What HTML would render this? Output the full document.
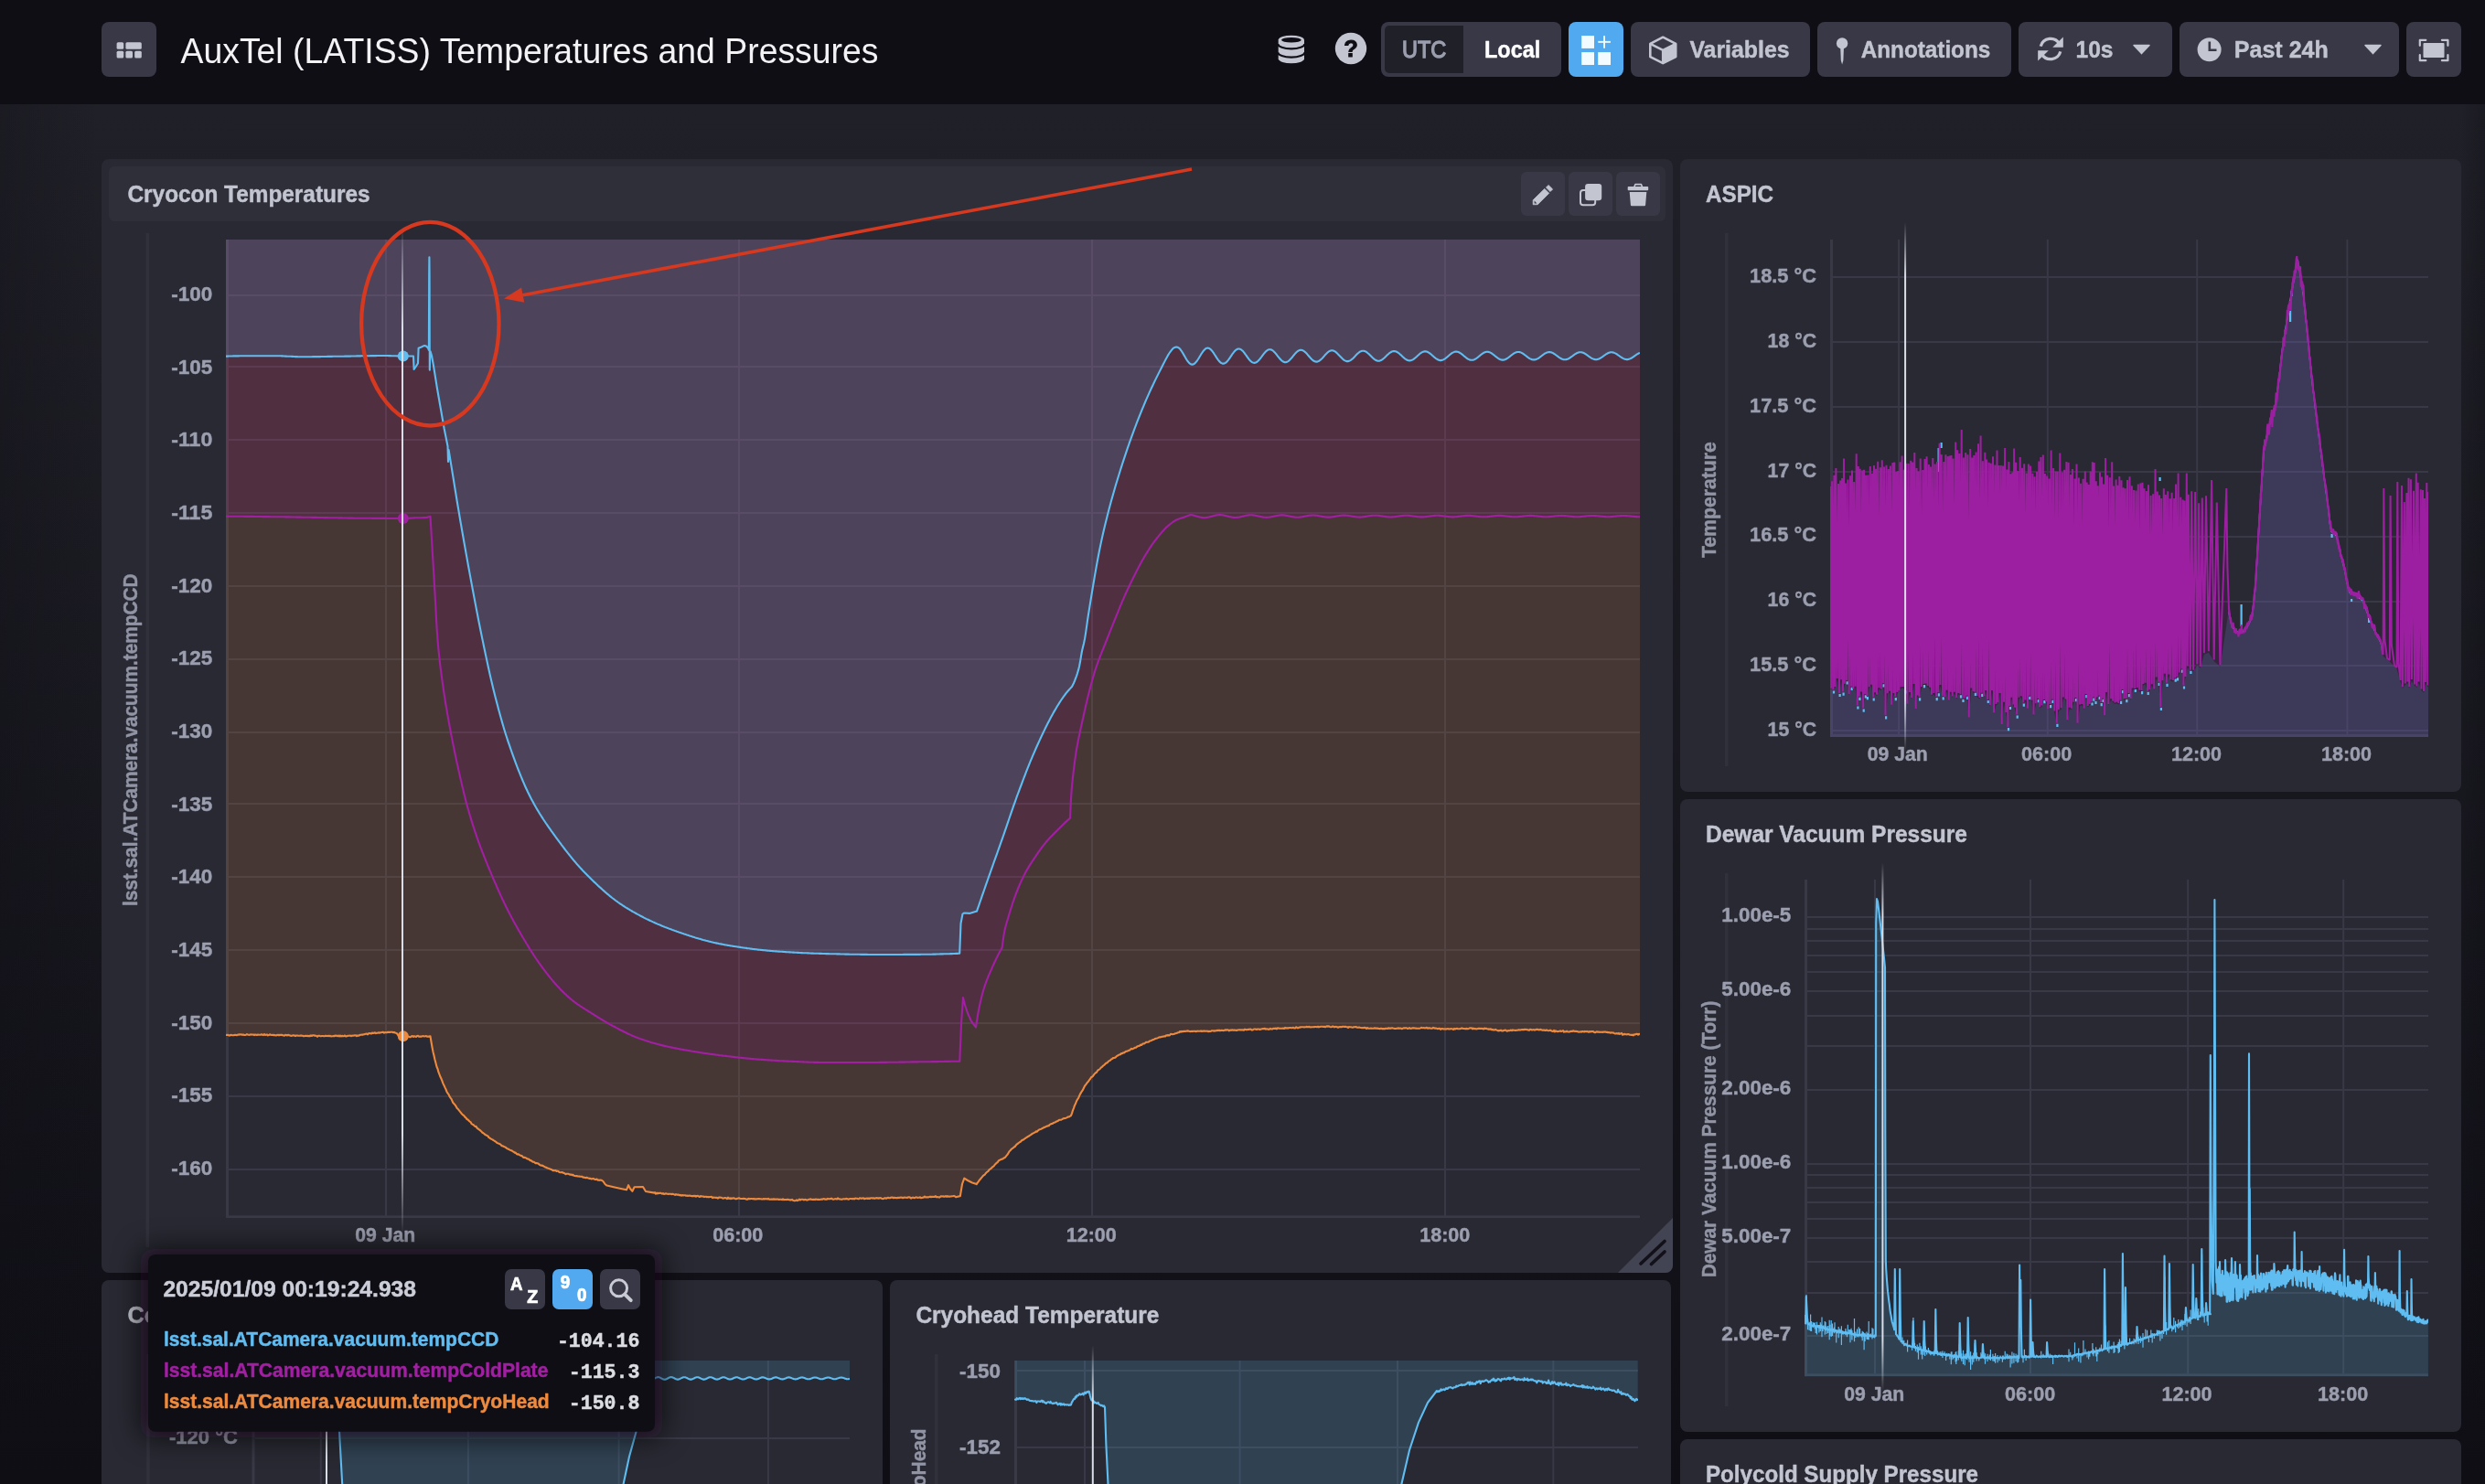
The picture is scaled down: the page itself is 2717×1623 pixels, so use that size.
<!DOCTYPE html>
<html><head><meta charset="utf-8"><title>AuxTel (LATISS) Temperatures and Pressures</title>
<style>
html,body{margin:0;padding:0;background:#0f0e15;}
body{width:2717px;height:1623px;overflow:hidden;position:relative;font-family:"Liberation Sans",sans-serif;}
#root{position:absolute;left:0;top:0;width:2717px;height:1623px;overflow:hidden;}
#root>div{position:absolute;box-sizing:border-box;}
#ov{position:absolute;left:0;top:0;will-change:transform;}
text{white-space:pre;}
</style></head><body><div id="root">
<div style="left:0px;top:114px;width:2717px;height:1509px;background:linear-gradient(to bottom,#202028 0%,#0f0e15 100%);"></div>
<div style="left:0px;top:114px;width:110px;height:1509px;background:linear-gradient(to right,rgba(15,14,21,0.3),rgba(15,14,21,0));"></div>
<div style="left:2691px;top:114px;width:26px;height:1509px;background:linear-gradient(to left,rgba(15,14,21,0.35),rgba(15,14,21,0));"></div>
<div style="left:111px;top:174px;width:1718px;height:1218px;background:#292933;border-radius:8px;"></div>
<div style="left:1837px;top:174px;width:854px;height:692px;background:#292933;border-radius:8px;"></div>
<div style="left:1837px;top:874px;width:854px;height:692px;background:#292933;border-radius:8px;"></div>
<div style="left:1837px;top:1574px;width:854px;height:200px;background:#292933;border-radius:8px;"></div>
<div style="left:111px;top:1400px;width:854px;height:400px;background:#292933;border-radius:8px;"></div>
<div style="left:973px;top:1400px;width:854px;height:400px;background:#292933;border-radius:8px;"></div>
<div style="left:119px;top:182px;width:1702px;height:60px;background:#2f2f3a;border-radius:6px;"></div>
<div style="left:1663px;top:188px;width:48px;height:48px;background:#383846;border-radius:6px;"></div>
<div style="left:1715px;top:188px;width:48px;height:48px;background:#383846;border-radius:6px;"></div>
<div style="left:1767px;top:188px;width:48px;height:48px;background:#383846;border-radius:6px;"></div>
<div style="left:0px;top:0px;width:2717px;height:114px;background:#0f0e15;"></div>
<div style="left:111px;top:24px;width:60px;height:60px;background:#383846;border-radius:8px;"></div>
<div style="left:1510px;top:24px;width:197px;height:60px;background:#383846;border-radius:8px;"></div>
<div style="left:1514px;top:28px;width:86px;height:52px;background:#202028;border-radius:5px 0 0 5px;"></div>
<div style="left:1715px;top:24px;width:60px;height:60px;background:#51a9ef;border-radius:8px;"></div>
<div style="left:1783px;top:24px;width:196px;height:60px;background:#383846;border-radius:8px;"></div>
<div style="left:1987px;top:24px;width:212px;height:60px;background:#383846;border-radius:8px;"></div>
<div style="left:2207px;top:24px;width:168px;height:60px;background:#383846;border-radius:8px;"></div>
<div style="left:2383px;top:24px;width:240px;height:60px;background:#383846;border-radius:8px;"></div>
<div style="left:2631px;top:24px;width:60px;height:60px;background:#383846;border-radius:8px;"></div>
<svg id="ov" width="2717" height="1623" viewBox="0 0 2717 1623">
<path d="M1676.2 218.8 L1688.8 206.4 L1693.7 211.3 L1681.2 223.7 L1676.2 223.8 Z" fill="#c3c6d1" stroke="#c3c6d1" stroke-width="0.8" stroke-linejoin="round"/>
<path d="M1690.4 205 L1693.1 202.5 L1697.6 206.9 L1695 209.6 Z" fill="#c3c6d1" stroke="#c3c6d1" stroke-width="0.8" stroke-linejoin="round"/>
<path d="M1677.6 219.6 L1677.6 222.5 L1680.4 222.4 Z" fill="#383846" stroke="none" stroke-width="1" />
<rect x="1728" y="208" width="16.2" height="16.3" fill="none" rx="3" stroke="#c3c6d1" stroke-width="2"/>
<rect x="1733.1" y="200.9" width="18.1" height="18.4" fill="#c3c6d1" rx="3.2" />
<path d="M1786.8 204.6 L1788 201.6 L1794.4 201.6 L1795.6 204.6" fill="none" stroke="#c3c6d1" stroke-width="1.6" stroke-linejoin="round"/>
<rect x="1779.7" y="203.9" width="22.5" height="4.3" fill="#c3c6d1" rx="0.8" />
<path d="M1781.7 210 L1800.3 210 L1799.1 224.3 Q1799 225.3 1798 225.3 L1784 225.3 Q1783 225.3 1782.9 224.3 Z" fill="#c3c6d1" stroke="none" stroke-width="1" />
<clipPath id="cpm"><rect x="111" y="174" width="1718" height="1218" rx="8"/></clipPath>
<path d="M1769 1392 L1829 1332 L1829 1392 Z" fill="#434453" stroke="none" stroke-width="1" clip-path="url(#cpm)"/>
<path d="M1794 1382 L1820 1357.5 M1805.5 1382.5 L1820 1369" fill="none" stroke="#12111a" stroke-width="3.7" stroke-linecap="round"/>
<text x="139.5" y="221.4" font-family='"Liberation Sans", sans-serif' font-size="26" font-weight="700" fill="#c2c5d0" text-anchor="start" textLength="265" lengthAdjust="spacingAndGlyphs"  stroke="#c2c5d0" stroke-width="0.45" stroke-linejoin="round">Cryocon Temperatures</text>
<text x="1865" y="221.4" font-family='"Liberation Sans", sans-serif' font-size="26" font-weight="700" fill="#c2c5d0" text-anchor="start" textLength="74" lengthAdjust="spacingAndGlyphs"  stroke="#c2c5d0" stroke-width="0.45" stroke-linejoin="round">ASPIC</text>
<text x="1865" y="921.4" font-family='"Liberation Sans", sans-serif' font-size="26" font-weight="700" fill="#c2c5d0" text-anchor="start" textLength="286" lengthAdjust="spacingAndGlyphs"  stroke="#c2c5d0" stroke-width="0.45" stroke-linejoin="round">Dewar Vacuum Pressure</text>
<text x="1865" y="1621.4" font-family='"Liberation Sans", sans-serif' font-size="26" font-weight="700" fill="#c2c5d0" text-anchor="start" textLength="298" lengthAdjust="spacingAndGlyphs"  stroke="#c2c5d0" stroke-width="0.45" stroke-linejoin="round">Polycold Supply Pressure</text>
<text x="139.5" y="1447.4" font-family='"Liberation Sans", sans-serif' font-size="26" font-weight="700" fill="#c2c5d0" text-anchor="start" textLength="272" lengthAdjust="spacingAndGlyphs"  stroke="#c2c5d0" stroke-width="0.45" stroke-linejoin="round">Coldplate Temperature</text>
<text x="1001.4" y="1447.4" font-family='"Liberation Sans", sans-serif' font-size="26" font-weight="700" fill="#c2c5d0" text-anchor="start" textLength="266" lengthAdjust="spacingAndGlyphs"  stroke="#c2c5d0" stroke-width="0.45" stroke-linejoin="round">Cryohead Temperature</text>
<rect x="127.6" y="46.2" width="7.6" height="7.6" fill="#c3c6d1" rx="1.5" />
<rect x="137.4" y="46.2" width="17.4" height="7.6" fill="#c3c6d1" rx="1.5" />
<rect x="127.6" y="55.8" width="7.6" height="7.8" fill="#c3c6d1" rx="1.5" />
<rect x="137.4" y="55.8" width="7.6" height="7.8" fill="#c3c6d1" rx="1.5" />
<rect x="147.2" y="55.8" width="7.6" height="7.8" fill="#c3c6d1" rx="1.5" />
<text x="197.5" y="69.3" font-family='"Liberation Sans", sans-serif' font-size="38.5" font-weight="400" fill="#f3f3f6" text-anchor="start" textLength="763" lengthAdjust="spacingAndGlyphs" >AuxTel (LATISS) Temperatures and Pressures</text>
<path d="M1397.7 43.4 A14.2 5.2 0 0 1 1426 43.4 L1426 64.6 A14.2 5.2 0 0 1 1397.7 64.6 Z" fill="#c3c6d1" stroke="none" stroke-width="1" />
<path d="M1397.2 48 A14.2 5.2 0 0 0 1426.5 48" fill="none" stroke="#0f0e15" stroke-width="2.2" />
<path d="M1397.2 57.2 A14.2 5.2 0 0 0 1426.5 57.2" fill="none" stroke="#0f0e15" stroke-width="2.2" />
<ellipse cx="1411.9" cy="43.7" rx="10.9" ry="2.8" fill="#0f0e15"/>
<circle cx="1477" cy="53" r="17.2" fill="#c3c6d1"/>
<text x="1477" y="62.4" font-family='"Liberation Sans", sans-serif' font-size="25.5" font-weight="700" fill="#0f0e15" text-anchor="middle" stroke="#0f0e15" stroke-width="0.9">?</text>
<text x="1533" y="63" font-family='"Liberation Sans", sans-serif' font-size="26" font-weight="400" fill="#9b9eae" text-anchor="start" textLength="48.2" lengthAdjust="spacingAndGlyphs" stroke="#9b9eae" stroke-width="1.3">UTC</text>
<text x="1623" y="63" font-family='"Liberation Sans", sans-serif' font-size="26" font-weight="700" fill="#ffffff" text-anchor="start" textLength="61.3" lengthAdjust="spacingAndGlyphs"  stroke="#ffffff" stroke-width="0.45" stroke-linejoin="round">Local</text>
<rect x="1729.2" y="39" width="13.8" height="13.9" fill="#f2fbff" />
<rect x="1729.2" y="57.1" width="13.8" height="13.9" fill="#f2fbff" />
<rect x="1747.2" y="57.1" width="13.8" height="13.9" fill="#f2fbff" />
<rect x="1747.3" y="44.9" width="13.6" height="1.9" fill="#f2fbff" />
<rect x="1753.1" y="39.1" width="1.9" height="13.6" fill="#f2fbff" />
<path d="M1818.2 54.9 L1832.2 47.8 L1832.2 62.1 L1818.2 69.1 Z" fill="#c3c6d1" stroke="none" stroke-width="1" />
<path d="M1818.2 40.7 L1832.2 47.8 L1832.2 62.1 L1818.2 69.1 L1804.3 62.1 L1804.3 47.8 Z" fill="none" stroke="#c3c6d1" stroke-width="2.6" stroke-linejoin="round"/>
<path d="M1804.3 47.8 L1818.2 54.9 L1832.2 47.8 M1818.2 54.9 L1818.2 69.1" fill="none" stroke="#c3c6d1" stroke-width="2.6" stroke-linejoin="round"/>
<text x="1847.4" y="63" font-family='"Liberation Sans", sans-serif' font-size="26" font-weight="700" fill="#c2c5d0" text-anchor="start" textLength="109.2" lengthAdjust="spacingAndGlyphs"  stroke="#c2c5d0" stroke-width="0.45" stroke-linejoin="round">Variables</text>
<circle cx="2014.1" cy="47.4" r="6.2" fill="#c3c6d1"/>
<path d="M2012.2 51 L2016 51 L2015.4 66 L2014.1 70.5 L2012.8 66 Z" fill="#c3c6d1" stroke="none" stroke-width="1" />
<text x="2034.7" y="63" font-family='"Liberation Sans", sans-serif' font-size="26" font-weight="700" fill="#c2c5d0" text-anchor="start" textLength="141.6" lengthAdjust="spacingAndGlyphs"  stroke="#c2c5d0" stroke-width="0.45" stroke-linejoin="round">Annotations</text>
<path d="M2231.2 50.6 A11.2 11.2 0 0 1 2251.7 47.9" fill="none" stroke="#c3c6d1" stroke-width="3.2" />
<path d="M2252.8 56.4 A11.2 11.2 0 0 1 2232.3 59.1" fill="none" stroke="#c3c6d1" stroke-width="3.2" />
<path d="M2255.8 40.5 L2255.8 51.7 L2244.2 51.7 Z" fill="#c3c6d1" stroke="none" stroke-width="1" />
<path d="M2228.2 66.5 L2228.2 55.3 L2239.8 55.3 Z" fill="#c3c6d1" stroke="none" stroke-width="1" />
<text x="2269.5" y="63" font-family='"Liberation Sans", sans-serif' font-size="26" font-weight="700" fill="#c2c5d0" text-anchor="start" textLength="41" lengthAdjust="spacingAndGlyphs"  stroke="#c2c5d0" stroke-width="0.45" stroke-linejoin="round">10s</text>
<path d="M2333 49.6 L2350 49.6 L2341.5 58.6 Z" fill="#c3c6d1" stroke="#c3c6d1" stroke-width="1.5" stroke-linejoin="round"/>
<circle cx="2415.6" cy="54.3" r="13" fill="#c3c6d1"/>
<path d="M2415.8 45.5 L2415.8 54.8 L2423.5 54.8" fill="none" stroke="#383846" stroke-width="2.6" />
<text x="2442.8" y="63" font-family='"Liberation Sans", sans-serif' font-size="26" font-weight="700" fill="#c2c5d0" text-anchor="start" textLength="103" lengthAdjust="spacingAndGlyphs"  stroke="#c2c5d0" stroke-width="0.45" stroke-linejoin="round">Past 24h</text>
<path d="M2586 49.6 L2603 49.6 L2594.5 58.6 Z" fill="#c3c6d1" stroke="#c3c6d1" stroke-width="1.5" stroke-linejoin="round"/>
<rect x="2649.5" y="47" width="23" height="16" fill="#c3c6d1" rx="1" />
<path d="M2645.8 49.8 L2645.8 43.8 L2652.3 43.8" fill="none" stroke="#c3c6d1" stroke-width="2.2" stroke-linecap="round" stroke-linejoin="round"/>
<path d="M2676.4 49.8 L2676.4 43.8 L2669.9 43.8" fill="none" stroke="#c3c6d1" stroke-width="2.2" stroke-linecap="round" stroke-linejoin="round"/>
<path d="M2645.8 60.2 L2645.8 66.2 L2652.3 66.2" fill="none" stroke="#c3c6d1" stroke-width="2.2" stroke-linecap="round" stroke-linejoin="round"/>
<path d="M2676.4 60.2 L2676.4 66.2 L2669.9 66.2" fill="none" stroke="#c3c6d1" stroke-width="2.2" stroke-linecap="round" stroke-linejoin="round"/>
<clipPath id="c1"><rect x="247" y="262" width="1546" height="1068"/></clipPath>
<rect x="247" y="322" width="1546" height="2" fill="#383846" />
<rect x="247" y="400" width="1546" height="2" fill="#383846" />
<rect x="247" y="480" width="1546" height="2" fill="#383846" />
<rect x="247" y="560" width="1546" height="2" fill="#383846" />
<rect x="247" y="640" width="1546" height="2" fill="#383846" />
<rect x="247" y="720" width="1546" height="2" fill="#383846" />
<rect x="247" y="800" width="1546" height="2" fill="#383846" />
<rect x="247" y="878" width="1546" height="2" fill="#383846" />
<rect x="247" y="958" width="1546" height="2" fill="#383846" />
<rect x="247" y="1038" width="1546" height="2" fill="#383846" />
<rect x="247" y="1118" width="1546" height="2" fill="#383846" />
<rect x="247" y="1198" width="1546" height="2" fill="#383846" />
<rect x="247" y="1278" width="1546" height="2" fill="#383846" />
<rect x="421" y="262" width="2" height="1068" fill="#383846" />
<rect x="807" y="262" width="2" height="1068" fill="#383846" />
<rect x="1193" y="262" width="2" height="1068" fill="#383846" />
<rect x="1579" y="262" width="2" height="1068" fill="#383846" />
<rect x="247" y="262" width="3" height="1069.5" fill="#383846" />
<path d="M247 262L247 1131.9L248 1132L249 1131.8L250 1132.2L251 1132.6L252 1132L253 1131.9L254 1132.3L255 1132.2L256 1132.1L257 1131.7L258 1132L259 1132.3L260 1131.5L261 1131.8L262 1131.3L263 1131.5L264 1131.3L265 1131.9L266 1131.5L267 1132L268 1132L269 1131.8L270 1131L271 1131.7L272 1131.8L273 1131.9L274 1131.3L275 1131.6L276 1131.5L277 1131.5L278 1132.1L279 1131.5L280 1131.7L281 1132L282 1131.5L283 1131.7L284 1131.7L285 1131.7L286 1131.2L287 1131.7L288 1132.1L289 1131.1L290 1131.9L291 1131.7L292 1131.4L293 1132.4L294 1132L295 1131.3L296 1131.8L297 1132L298 1131.8L299 1132.1L300 1131.9L301 1132.2L302 1132.5L303 1131.8L304 1132.1L305 1131.9L306 1132.1L307 1131.7L308 1131.9L309 1132.1L310 1132.5L311 1132.6L312 1131.8L313 1132L314 1132.5L315 1131.7L316 1132.2L317 1132.4L318 1132.9L319 1132.7L320 1132.4L321 1132.4L322 1132.5L323 1133.1L324 1132.5L325 1132.5L326 1132.8L327 1132.7L328 1132.7L329 1132.4L330 1132.8L331 1132.7L332 1133.2L333 1133.1L334 1132.8L335 1133.1L336 1132.7L337 1133.2L338 1132.9L339 1133.1L340 1132.4L341 1133L342 1132.3L343 1132.2L344 1132.8L345 1132.6L346 1133L347 1133.8L348 1132.7L349 1132.8L350 1133.1L351 1133.2L352 1133L353 1133L354 1133.3L355 1133.2L356 1132.7L357 1133L358 1133.1L359 1132.7L360 1133.2L361 1132.8L362 1133.5L363 1133.2L364 1133.2L365 1132.9L366 1133.1L367 1132.5L368 1132.8L369 1133.3L370 1132.5L371 1133.5L372 1132.5L373 1133.4L374 1132.8L375 1133.3L376 1133.1L377 1132.5L378 1133.4L379 1133.4L380 1132.9L381 1132.8L382 1132.8L383 1132.5L384 1133.2L385 1132.6L386 1132.7L387 1132.4L388 1132.5L389 1132.2L390 1133.1L391 1132.5L392 1132.8L393 1132.3L394 1131.8L395 1131.8L396 1131.5L397 1131.6L398 1131.3L399 1131.1L400 1130.6L401 1130.6L402 1131.3L403 1130.3L404 1130L405 1130.3L406 1130.6L407 1129.6L408 1129.9L409 1129.7L410 1129.3L411 1130.1L412 1129.7L413 1129.7L414 1129.3L415 1129.7L416 1129.3L417 1129.3L418 1128.9L419 1128.8L420 1129.7L421 1129L422 1129.2L423 1129.1L424 1128.9L425 1128.8L426 1129.1L427 1128.8L428 1128.8L429 1128.8L430 1129.2L431 1128.9L432 1129.5L433 1129.9L434 1130.3L435 1131.8L436 1132.5L437 1132.8L438 1133.4L439 1133.5L440 1133.6L441 1133.6L442 1133.2L443 1133.9L444 1133L445 1133.7L446 1133.6L447 1133.8L448 1134.2L449 1134.1L450 1133.2L451 1133L452 1133.9L453 1133.2L454 1133.6L455 1133.9L456 1133L457 1132.9L458 1133.7L459 1133.6L460 1133.5L461 1133.6L462 1133.3L463 1133.1L464 1133.5L465 1133.3L466 1133L467 1133.8L468 1133.6L469 1133.7L470 1133.3L470.5 1133.4L471.5 1139.5L472.5 1145.2L473.5 1150.4L474.5 1154.5L475.5 1159L476.5 1162.8L477.5 1166.8L478.5 1169L479.5 1172.7L480.5 1175.1L481.5 1177.8L482.5 1179.8L483.5 1182.4L484.5 1185.1L485.5 1187.1L486.5 1189.4L487.5 1191.4L488.5 1194L489.5 1195.6L490.5 1196.9L491.5 1199.2L492.5 1200.6L493.5 1201.8L494.5 1204.2L495.5 1206.3L496.5 1207.3L497.5 1208.4L498.5 1209.8L499.5 1211.7L500.5 1212.7L501.5 1213.9L502.5 1215.1L503.5 1216.3L504.5 1217.7L505.5 1218.7L506.5 1219.7L507.5 1220.4L508.5 1221.9L509.5 1222.5L510.5 1224.1L511.5 1224.3L512.5 1225.6L513.5 1226.6L514.5 1227.1L515.5 1228.9L516.5 1229.7L517.5 1230L518.5 1231.2L519.5 1232L520.5 1231.9L521.5 1233.6L522.5 1234.4L523.5 1235.3L524.5 1235.7L525.5 1236.8L526.5 1237.6L527.5 1238.8L528.5 1239.3L529.5 1240L530.5 1241.2L531.5 1241.3L532.5 1242.1L533.5 1242.4L534.5 1244.1L535.5 1244.6L536.5 1245.3L537.5 1245.9L538.5 1246.4L539.5 1247.1L540.5 1247.6L541.5 1248.3L542.5 1249L543.5 1250L544.5 1250.4L545.5 1250.8L546.5 1251.2L547.5 1251.8L548.5 1253.1L549.5 1253.3L550.5 1253.8L551.5 1254.2L552.5 1254.6L553.5 1255.4L554.5 1256.3L555.5 1256.5L556.5 1257.1L557.5 1257.6L558.5 1258.2L559.5 1258.3L560.5 1259.2L561.5 1259.6L562.5 1260.6L563.5 1260.6L564.5 1261.6L565.5 1262.4L566.5 1262.3L567.5 1262.8L568.5 1263.5L569.5 1263.9L570.5 1264.1L571.5 1265.1L572.5 1266L573.5 1265.8L574.5 1266.3L575.5 1266.6L576.5 1267.5L577.5 1267.5L578.5 1268L579.5 1269.2L580.5 1269L581.5 1270L582.5 1270.6L583.5 1270.7L584.5 1271.3L585.5 1272.2L586.5 1272L587.5 1272.3L588.5 1272.6L589.5 1273.4L590.5 1274.3L591.5 1274.6L592.5 1274.5L593.5 1275L594.5 1275.5L595.5 1276.2L596.5 1276.5L597.5 1277L598.5 1277.5L599.5 1277.7L600.5 1278.1L601.5 1278.6L602.5 1278.9L603.5 1279.4L604.5 1280.2L605.5 1280.1L606.5 1280.3L607.5 1280L608.5 1281L609.5 1280.6L610.5 1281L611.5 1282L612.5 1282.2L613.5 1282.2L614.5 1282L615.5 1282.6L616.5 1282.8L617.5 1283.4L618.5 1284.2L619.5 1283.8L620.5 1283.7L621.5 1283.8L622.5 1284.4L623.5 1284.6L624.5 1284.5L625.5 1285.1L626.5 1284.9L627.5 1285.8L628.5 1286L629.5 1286.2L630.5 1286L631.5 1286.5L632.5 1286.5L633.5 1286.6L634.5 1286.8L635.5 1286.7L636.5 1286.9L637.5 1287.7L638.5 1287.6L639.5 1287.9L640.5 1288.3L641.5 1287.7L642.5 1288.2L643.5 1288.6L644.5 1288.9L645.5 1288.8L646.5 1289.4L647.5 1289.3L648.5 1289L649.5 1289.3L650.5 1290L651.5 1290L652.5 1289.5L653.5 1290.6L654.5 1290.5L655.5 1290.9L656.5 1290.5L657.5 1290.7L657.8 1290.8L659.5 1292L661.5 1295L663.5 1296.6L672 1298.5L680 1300.2L685 1301.3L687.1 1296.2L689 1300L691.4 1302.8L693.6 1298.2L703 1298L704.5 1300.5L706 1303L715.7 1304.6L716 1304.2L717 1305.6L718 1304.7L719 1305.4L720 1304.7L721 1305.1L722 1304.6L723 1305.1L724 1305.7L725 1305L726 1305.9L727 1305.7L728 1305.3L729 1305.6L730 1305.7L731 1305.9L732 1305.8L733 1305.8L734 1306.1L735 1305.9L736 1305.9L737 1306.4L738 1306.9L739 1306.1L740 1306.7L741 1306.6L742 1306.6L743 1307.3L744 1306.9L745 1307.7L746 1307L747 1307.5L748 1307.3L749 1307.2L750 1307.8L751 1307.6L752 1307.9L753 1307.8L754 1307.5L755 1307.9L756 1308L757 1308.4L758 1307.8L759 1308.2L760 1307.7L761 1308.6L762 1308L763 1307.8L764 1308.5L765 1309L766 1308.1L767 1308.4L768 1308.5L769 1308.5L770 1309.1L771 1308.7L772 1308.8L773 1309.3L774 1308.9L775 1309.4L776 1309L777 1309L778 1308.8L779 1310.2L780 1309.5L781 1309.8L782 1309.7L783 1309.9L784 1309.9L785 1310.6L786 1309.6L787 1309.5L788 1309.8L789 1309.7L790 1310.5L791 1310.6L792 1310.1L793 1310L794 1310.4L795 1311.1L796 1309.7L797 1310.9L798 1310.4L799 1311.1L800 1310.4L801 1310.7L802 1310.3L803 1310.5L804 1311.3L805 1311.2L806 1310.8L807 1310.6L808 1310.3L809 1310.8L810 1311L811 1311L812 1311L813 1310.7L814 1311L815 1311.1L816 1311.6L817 1311.8L818 1311.1L819 1310.9L820 1311.2L821 1311L822 1311L823 1311.2L824 1310.9L825 1311.5L826 1311.3L827 1311.4L828 1311.3L829 1311.1L830 1311.1L831 1311.3L832 1311.2L833 1311.5L834 1311.5L835 1311L836 1311.5L837 1311.1L838 1311.3L839 1311.5L840 1310.9L841 1311.6L842 1311.7L843 1311.6L844 1311.5L845 1311.6L846 1311.4L847 1311.6L848 1311.5L849 1311.8L850 1311.4L851 1311.9L852 1311.9L853 1311.8L854 1311.7L855 1312.1L856 1311.3L857 1312.1L858 1312L859 1312L860 1312.1L861 1311.8L862 1311.9L863 1312.3L864 1312.4L865 1312.4L866 1311.9L867 1312.8L868 1313.1L869 1313.2L870 1313L871 1312.4L872 1313.1L873 1312.6L874 1311.6L875 1312.5L876 1311.7L877 1311.7L878 1311.8L879 1312.4L880 1311.8L881 1312L882 1312.5L883 1312.5L884 1311.8L885 1311.8L886 1311.4L887 1311.6L888 1312L889 1311.9L890 1311.8L891 1312.1L892 1311.5L893 1311.7L894 1311.9L895 1311.9L896 1312L897 1311.8L898 1311.5L899 1311.7L900 1311.2L901 1311L902 1311.7L903 1311.5L904 1311.6L905 1310.9L906 1311.3L907 1311.2L908 1311.1L909 1310.6L910 1311.3L911 1311.7L912 1311.5L913 1311.1L914 1311.3L915 1311.6L916 1310.3L917 1311.2L918 1311.4L919 1311.5L920 1311.8L921 1311.6L922 1311.3L923 1311.2L924 1311.4L925 1310.9L926 1311.1L927 1311.4L928 1311.7L929 1311L930 1311L931 1311L932 1311.4L933 1310.9L934 1311.4L935 1310.6L936 1310.8L937 1310.8L938 1311.1L939 1311.2L940 1310.3L941 1310.5L942 1310.9L943 1310.5L944 1310.2L945 1311.1L946 1310.9L947 1310.8L948 1310.5L949 1311L950 1310.5L951 1311L952 1310.2L953 1310.2L954 1310.6L955 1310.3L956 1310.7L957 1310.6L958 1310.1L959 1310.4L960 1310.3L961 1310.7L962 1310.1L963 1310.2L964 1310.7L965 1311.1L966 1311L967 1310.3L968 1310.3L969 1310.8L970 1310.2L971 1309.8L972 1310.2L973 1310.3L974 1309.8L975 1309.5L976 1309.6L977 1310.3L978 1309.8L979 1310L980 1310.1L981 1310.2L982 1309.8L983 1310.1L984 1309.6L985 1309.8L986 1309.5L987 1310.3L988 1309.8L989 1309.6L990 1309.7L991 1309.7L992 1310L993 1309.2L994 1309.4L995 1309.6L996 1310.6L997 1310L998 1309.6L999 1309.9L1000 1310.3L1001 1309.5L1002 1309.4L1003 1309.9L1004 1309.7L1005 1309.7L1006 1309.3L1007 1310.1L1008 1310L1009 1309.6L1010 1309.6L1011 1308.6L1012 1309.5L1013 1309.2L1014 1309.4L1015 1309.4L1016 1309.1L1017 1308.6L1018 1309.3L1019 1308.8L1020 1309L1021 1308.8L1022 1308.9L1023 1308.2L1024 1309.4L1025 1309L1026 1309.3L1027 1309.6L1028 1308.9L1029 1308.2L1030 1308.5L1031 1308.4L1032 1308.6L1033 1308.8L1034 1308L1035 1308.8L1036 1308.1L1037 1308.7L1038 1308.6L1039 1308.5L1040 1308.5L1041 1308.3L1042 1308.3L1043 1307.9L1044 1308.4L1045 1309.1L1046 1309.1L1047 1308.8L1048 1308.6L1049 1308.1L1049.8 1308.3L1052 1295L1054.3 1288.7L1058 1291L1063 1293.5L1067.7 1294.9L1067.7 1295.3L1068.7 1293.6L1069.7 1292.3L1070.7 1290.9L1071.7 1289.8L1072.7 1288.5L1073.7 1287.4L1074.7 1286.1L1075.7 1285.2L1076.7 1284.8L1077.7 1283.2L1078.7 1282.2L1079.7 1281.5L1080.7 1280.6L1081.7 1279.2L1082.7 1278.5L1083.7 1277.9L1084.7 1276.8L1085.7 1275.9L1086.7 1275.3L1087.7 1273.7L1088.7 1272.9L1089.7 1271.7L1090.7 1271.2L1091.7 1269.5L1092.7 1269L1093.7 1268.3L1094.7 1268L1095.7 1267.5L1096.7 1267.4L1097.7 1266.3L1098.7 1266.2L1099.7 1264.9L1100.7 1263.6L1101.7 1262.5L1102.7 1260.7L1103.7 1259L1104.7 1258.2L1105.7 1256.9L1106.7 1256.2L1107.7 1255.5L1108.7 1254.5L1109.7 1254L1110.7 1252.7L1111.7 1251.5L1112.7 1250.9L1113.7 1250L1114.7 1249.2L1115.7 1248.8L1116.7 1247.8L1117.7 1246.7L1118.7 1246.7L1119.7 1245.8L1120.7 1245.2L1121.7 1244.4L1122.7 1243.9L1123.7 1243.1L1124.7 1242.8L1125.7 1241.9L1126.7 1241.3L1127.7 1240.7L1128.7 1239.7L1129.7 1239.4L1130.7 1238.8L1131.7 1238.4L1132.7 1237.4L1133.7 1237.6L1134.7 1236.7L1135.7 1235.8L1136.7 1235.2L1137.7 1235L1138.7 1234.6L1139.7 1233.9L1140.7 1233.6L1141.7 1232.9L1142.7 1232.8L1143.7 1232L1144.7 1231.6L1145.7 1231.4L1146.7 1231.3L1147.7 1229.9L1148.7 1229.6L1149.7 1229L1150.7 1229L1151.7 1228L1152.7 1227.7L1153.7 1227.4L1154.7 1226.7L1155.7 1226.2L1156.7 1225.9L1157.7 1225.1L1158.7 1224.8L1159.7 1224.7L1160.7 1224.4L1161.7 1223.9L1162.7 1223.2L1163.7 1223.1L1164.7 1223L1165.7 1222.6L1166.7 1222.1L1167.7 1221.5L1168.7 1221.5L1169.7 1220.9L1170.7 1220.4L1171 1220L1172 1217.6L1173 1214.3L1174 1211.9L1175 1208.9L1176 1207L1177 1204.3L1178 1202.4L1179 1201.2L1180 1198.8L1181 1196.6L1182 1194.9L1183 1193.3L1184 1191.9L1185 1189.7L1186 1187.7L1187 1186.5L1188 1185.1L1189 1183.7L1190 1182.7L1191 1181.1L1192 1180L1193 1178.2L1194 1177.7L1195 1176.9L1196 1175.4L1197 1174.2L1198 1173.2L1199 1172.7L1200 1170.9L1201 1170.2L1202 1169.5L1203 1168.7L1204 1167.4L1205 1166.8L1206 1165.7L1207 1165L1208 1164.1L1209 1163L1210 1162.5L1211 1162L1212 1160.6L1213 1160.1L1214 1159.6L1215 1158.4L1216 1158.1L1217 1157L1218 1157.1L1219 1156.8L1220 1156.1L1221 1154.9L1222 1154.6L1223 1153.9L1224 1153.4L1225 1153.3L1226 1152L1227 1152.2L1228 1151.4L1229 1151.4L1230 1150.6L1231 1149.9L1232 1149.8L1233 1149.5L1234 1148.8L1235 1148.6L1236 1147.8L1237 1146.9L1238 1147.4L1239 1146.9L1240 1146.3L1241 1145.8L1242 1145.7L1243 1144.7L1244 1144.2L1245 1143.9L1246 1143.8L1247 1142.6L1248 1142.9L1249 1141.9L1250 1141.3L1251 1141.5L1252 1140.7L1253 1139.9L1254 1139.7L1255 1139.7L1256 1139.4L1257 1138.5L1258 1138.3L1259 1138L1260 1137.2L1261 1137.1L1262 1136.6L1263 1136L1264 1135.7L1265 1135.5L1266 1135.1L1267 1134.6L1268 1134.3L1269 1134.4L1270 1133.9L1271 1133.8L1272 1133.6L1273 1133.2L1274 1133.5L1275 1132.3L1276 1132.6L1277 1132L1278 1132.5L1279 1132.2L1280 1130.9L1281 1131L1282 1131.2L1283 1131L1284 1130.8L1285 1130.2L1286 1130.1L1287 1129.8L1288 1129.2L1289 1129.3L1290 1128L1291 1128.6L1292 1127.9L1293 1128.4L1294 1127.9L1295 1127.7L1296 1128L1297 1127.6L1298 1127.6L1299 1127.4L1300 1127.8L1301 1128L1302 1128.1L1303 1127.8L1304 1128.1L1305 1127.8L1306 1127.7L1307 1127.9L1308 1128.1L1309 1127.6L1310 1127.7L1311 1127.7L1312 1127.7L1313 1127.4L1314 1128L1315 1127.6L1316 1127.8L1317 1127.4L1318 1127.7L1319 1127.7L1320 1127.5L1321 1128.2L1322 1127.7L1323 1128.1L1324 1127.8L1325 1127.3L1326 1127.3L1327 1127.6L1328 1127.4L1329 1127.4L1330 1127.2L1331 1126.8L1332 1127.2L1333 1126.6L1334 1127.3L1335 1126.9L1336 1126.9L1337 1127L1338 1127.1L1339 1126.6L1340 1126.4L1341 1126.6L1342 1126.3L1343 1126.6L1344 1127.3L1345 1126.5L1346 1126.9L1347 1126.3L1348 1126.7L1349 1126.5L1350 1126.6L1351 1126.7L1352 1127L1353 1126.5L1354 1126.5L1355 1126.1L1356 1126.5L1357 1126.2L1358 1126.5L1359 1126.2L1360 1126.7L1361 1125.6L1362 1126L1363 1126.4L1364 1126L1365 1125.8L1366 1125.9L1367 1125.5L1368 1126L1369 1126.6L1370 1126.2L1371 1125.5L1372 1125.5L1373 1125.6L1374 1126L1375 1125.5L1376 1125.5L1377 1125.9L1378 1125.9L1379 1125.5L1380 1125.2L1381 1125L1382 1125.3L1383 1124.8L1384 1125.6L1385 1125.2L1386 1125.5L1387 1125.9L1388 1125.6L1389 1124.9L1390 1125.5L1391 1125.5L1392 1124.9L1393 1124.8L1394 1125L1395 1124.5L1396 1125.4L1397 1124.2L1398 1124.6L1399 1124.8L1400 1124.7L1401 1124.8L1402 1124.8L1403 1124.6L1404 1124.9L1405 1123.9L1406 1124.5L1407 1124.2L1408 1124.4L1409 1124.4L1410 1124L1411 1124L1412 1124.3L1413 1124.1L1414 1123.8L1415 1124.5L1416 1124.5L1417 1123.3L1418 1123.8L1419 1124.4L1420 1123.8L1421 1123.6L1422 1123.4L1423 1123.3L1424 1123.3L1425 1123.2L1426 1123.5L1427 1123.2L1428 1123.1L1429 1122.9L1430 1123.2L1431 1122.9L1432 1123.1L1433 1123.5L1434 1123.2L1435 1123.3L1436 1123.2L1437 1123.1L1438 1123L1439 1123L1440 1123.3L1441 1122.7L1442 1123.4L1443 1123L1444 1122.8L1445 1122.8L1446 1122.8L1447 1123L1448 1122.7L1449 1123.3L1450 1122.7L1451 1122.2L1452 1122.7L1453 1122.3L1454 1122.9L1455 1123.2L1456 1123.1L1457 1122.5L1458 1122.7L1459 1123.4L1460 1123L1461 1122.9L1462 1123.2L1463 1123.7L1464 1123.3L1465 1123L1466 1123.1L1467 1123.2L1468 1122.8L1469 1122.7L1470 1123.1L1471 1122.8L1472 1123.1L1473 1123.2L1474 1123.9L1475 1123L1476 1123.2L1477 1123.2L1478 1123.5L1479 1123.7L1480 1123.3L1481 1123.2L1482 1123L1483 1123.3L1484 1123.8L1485 1123.7L1486 1123.5L1487 1123.8L1488 1124L1489 1124.2L1490 1124L1491 1124.2L1492 1123.8L1493 1124.1L1494 1125L1495 1124L1496 1124.6L1497 1124.8L1498 1124.7L1499 1124.5L1500 1124.8L1501 1124.8L1502 1124.8L1503 1124.2L1504 1124.8L1505 1124.5L1506 1124.6L1507 1124.9L1508 1125L1509 1125.1L1510 1124.6L1511 1125.1L1512 1125.1L1513 1125.1L1514 1125.2L1515 1124.7L1516 1124.7L1517 1125L1518 1124.3L1519 1124.8L1520 1124.6L1521 1124.6L1522 1124.2L1523 1124.5L1524 1124.7L1525 1125L1526 1125L1527 1124.7L1528 1124.6L1529 1124.4L1530 1124.8L1531 1124.6L1532 1124.8L1533 1125.2L1534 1124.6L1535 1124.2L1536 1124.4L1537 1124.2L1538 1124.3L1539 1125L1540 1124.7L1541 1124.1L1542 1124.8L1543 1124.9L1544 1124.4L1545 1124.3L1546 1124.4L1547 1124.5L1548 1124.6L1549 1124.8L1550 1124.7L1551 1124.7L1552 1124.7L1553 1124.5L1554 1123.8L1555 1124.2L1556 1124.3L1557 1124.1L1558 1124.5L1559 1124.1L1560 1123.9L1561 1124.6L1562 1124.4L1563 1124.3L1564 1124.6L1565 1124.7L1566 1124.6L1567 1123.8L1568 1124.4L1569 1124.6L1570 1124.5L1571 1124.9L1572 1125.3L1573 1124.9L1574 1124.8L1575 1125.8L1576 1125.1L1577 1125L1578 1125.4L1579 1125.5L1580 1125.2L1581 1125.6L1582 1125.2L1583 1125.1L1584 1125.4L1585 1125.5L1586 1125.1L1587 1125.3L1588 1125.2L1589 1126L1590 1124.9L1591 1125.5L1592 1125L1593 1124.9L1594 1125.1L1595 1125.2L1596 1125.2L1597 1124.9L1598 1124.6L1599 1124.6L1600 1125L1601 1125L1602 1125.2L1603 1124.9L1604 1125.1L1605 1125.3L1606 1124.9L1607 1124.4L1608 1124.5L1609 1124.4L1610 1125.3L1611 1124.6L1612 1125.2L1613 1125L1614 1125.4L1615 1125.2L1616 1124.9L1617 1124.9L1618 1124.9L1619 1125L1620 1124.8L1621 1125L1622 1125.5L1623 1124.5L1624 1125.1L1625 1124.8L1626 1125.3L1627 1125.6L1628 1125.4L1629 1125.8L1630 1125.3L1631 1126.3L1632 1125.9L1633 1126.5L1634 1126.5L1635 1125.8L1636 1126.5L1637 1126.9L1638 1127.4L1639 1127.1L1640 1127.1L1641 1126.6L1642 1127.4L1643 1127.5L1644 1127L1645 1126.9L1646 1126.5L1647 1127.2L1648 1127.7L1649 1127.1L1650 1127.3L1651 1127L1652 1126.5L1653 1127.2L1654 1126.4L1655 1126.7L1656 1126.8L1657 1127L1658 1126.8L1659 1126.7L1660 1126.4L1661 1126.2L1662 1126.6L1663 1126.3L1664 1126.1L1665 1126.1L1666 1126.3L1667 1125.8L1668 1126L1669 1125.9L1670 1126.4L1671 1126.4L1672 1126.9L1673 1125.8L1674 1126L1675 1126.5L1676 1126.2L1677 1126.1L1678 1126.7L1679 1126.1L1680 1125.9L1681 1125.8L1682 1126.3L1683 1126.4L1684 1125.9L1685 1126.1L1686 1126.6L1687 1126.7L1688 1126.4L1689 1126.9L1690 1127L1691 1126.4L1692 1126.9L1693 1127.2L1694 1127L1695 1126.6L1696 1127.3L1697 1127.7L1698 1128L1699 1126.9L1700 1128.4L1701 1127.3L1702 1128L1703 1128.1L1704 1128L1705 1127.8L1706 1127.4L1707 1128L1708 1127.6L1709 1127.1L1710 1128.7L1711 1128.1L1712 1128.5L1713 1127.7L1714 1128.4L1715 1128.5L1716 1128.5L1717 1128L1718 1127.7L1719 1128L1720 1127.4L1721 1127.6L1722 1128.1L1723 1127.8L1724 1128.1L1725 1128.1L1726 1128.7L1727 1128.5L1728 1128.2L1729 1128.6L1730 1128L1731 1128.1L1732 1128.5L1733 1127.9L1734 1128.2L1735 1127.9L1736 1128.3L1737 1128.8L1738 1128.1L1739 1128.4L1740 1128.1L1741 1128.1L1742 1128.1L1743 1128.9L1744 1129.2L1745 1128.7L1746 1128.3L1747 1128.8L1748 1128.5L1749 1128.9L1750 1128.8L1751 1128.8L1752 1128.9L1753 1128.6L1754 1128.8L1755 1128.4L1756 1128.9L1757 1128.7L1758 1129.2L1759 1129L1760 1129.4L1761 1129.6L1762 1129.2L1763 1129.5L1764 1129.5L1765 1130.1L1766 1130.5L1767 1130.4L1768 1130.1L1769 1130.7L1770 1129.9L1771 1130.9L1772 1130.4L1773 1129.9L1774 1131.6L1775 1131.4L1776 1130.8L1777 1131.3L1778 1131.2L1779 1131.4L1780 1131L1781 1131.3L1782 1131.7L1783 1131.7L1784 1132L1785 1131.6L1786 1132.3L1787 1131.3L1788 1131.5L1789 1130.8L1790 1130.9L1791 1131.6L1792 1130.8L1793 1131.2L1793 262Z" fill="rgb(238,138,62)" stroke="none" stroke-width="1" clip-path="url(#c1)" fill-opacity="0.152"/>
<path d="M247 262L247 564.7L248 564.7L249 564.7L250 564.7L251 564.7L252 564.7L253 564.7L254 564.7L255 564.8L256 564.8L257 564.8L258 564.8L259 564.8L260 564.8L261 564.8L262 564.8L263 564.8L264 564.8L265 564.8L266 564.8L267 564.9L268 564.9L269 564.9L270 564.9L271 564.9L272 564.9L273 564.9L274 564.9L275 564.9L276 564.9L277 564.9L278 565L279 565L280 565L281 565L282 565L283 565L284 565L285 565L286 565L287 565.1L288 565.1L289 565.1L290 565.1L291 565.1L292 565.1L293 565.1L294 565.1L295 565.1L296 565.2L297 565.2L298 565.2L299 565.2L300 565.2L301 565.2L302 565.2L303 565.2L304 565.3L305 565.3L306 565.3L307 565.3L308 565.3L309 565.3L310 565.3L311 565.3L312 565.4L313 565.4L314 565.4L315 565.4L316 565.4L317 565.4L318 565.5L319 565.5L320 565.5L321 565.5L322 565.5L323 565.5L324 565.6L325 565.6L326 565.6L327 565.6L328 565.6L329 565.6L330 565.7L331 565.7L332 565.7L333 565.7L334 565.7L335 565.7L336 565.8L337 565.8L338 565.8L339 565.8L340 565.8L341 565.9L342 565.9L343 565.9L344 565.9L345 565.9L346 565.9L347 566L348 566L349 566L350 566L351 566L352 566L353 566L354 566.1L355 566.1L356 566.1L357 566.1L358 566.1L359 566.2L360 566.2L361 566.2L362 566.2L363 566.2L364 566.2L365 566.3L366 566.3L367 566.3L368 566.3L369 566.3L370 566.4L371 566.4L372 566.4L373 566.4L374 566.4L375 566.5L376 566.5L377 566.5L378 566.5L379 566.5L380 566.5L381 566.6L382 566.6L383 566.6L384 566.6L385 566.6L386 566.6L387 566.7L388 566.7L389 566.7L390 566.7L391 566.7L392 566.7L393 566.7L394 566.7L395 566.8L396 566.8L397 566.8L398 566.8L399 566.8L400 566.8L401 566.8L402 566.8L403 566.8L404 566.8L405 566.8L406 566.8L407 566.9L408 566.9L409 566.9L410 566.9L411 566.9L412 566.9L413 566.9L414 566.9L415 566.9L416 566.9L417 566.9L418 566.9L419 566.9L420 566.9L421 566.9L422 566.9L423 567L424 567L425 567L426 567L427 567L428 567L429 567L430 567L431 567L432 567L433 567L434 567L435 567L436 567L437 567L438 567L439 567L440 567L441 567L442 567L443 567L444 566.9L445 566.9L446 566.8L447 566.8L448 566.7L449 566.6L450 566.6L451 566.5L452 566.4L453 566.4L454 566.3L455 566.3L456 566.3L457 566.2L458 566.2L459 566.2L460 566.2L461 566.2L462 566.1L463 566.1L464 566.1L465 566.1L466 566L467 565.9L468 565.6L469 565.3L470 565L470.5 564.8L471.5 581.6L472.5 598.3L473.5 614.9L474.5 631.6L475.5 648.8L476.5 667.5L477.5 685.5L478.5 700L479.5 711L480.5 720.7L481.5 729.2L482.5 737L483.5 744.4L484.5 751.6L485.5 758.4L486.5 764.9L487.5 771L488.5 776.9L489.5 782.6L490.5 788.2L491.5 793.8L492.5 799.1L493.5 804.4L494.5 809.6L495.5 814.6L496.5 819.5L497.5 824.3L498.5 829.1L499.5 833.7L500.5 838.3L501.5 842.8L502.5 847.3L503.5 851.7L504.5 856L505.5 860.3L506.5 864.5L507.5 868.6L508.5 872.6L509.5 876.4L510.5 880.2L511.5 883.8L512.5 887.3L513.5 890.8L514.5 894.1L515.5 897.4L516.5 900.6L517.5 903.7L518.5 906.8L519.5 909.8L520.5 912.8L521.5 915.7L522.5 918.6L523.5 921.4L524.5 924.2L525.5 926.9L526.5 929.5L527.5 932.1L528.5 934.7L529.5 937.2L530.5 939.7L531.5 942.2L532.5 944.7L533.5 947.1L534.5 949.5L535.5 951.9L536.5 954.2L537.5 956.6L538.5 958.9L539.5 961.3L540.5 963.6L541.5 965.9L542.5 968.2L543.5 970.5L544.5 972.7L545.5 975L546.5 977.2L547.5 979.4L548.5 981.6L549.5 983.7L550.5 985.8L551.5 987.9L552.5 990L553.5 992L554.5 994L555.5 996L556.5 997.9L557.5 999.9L558.5 1001.8L559.5 1003.7L560.5 1005.5L561.5 1007.4L562.5 1009.2L563.5 1011L564.5 1012.8L565.5 1014.6L566.5 1016.4L567.5 1018.1L568.5 1019.8L569.5 1021.6L570.5 1023.3L571.5 1025L572.5 1026.7L573.5 1028.3L574.5 1030L575.5 1031.7L576.5 1033.3L577.5 1034.9L578.5 1036.6L579.5 1038.2L580.5 1039.8L581.5 1041.3L582.5 1042.9L583.5 1044.5L584.5 1046L585.5 1047.5L586.5 1049L587.5 1050.4L588.5 1051.9L589.5 1053.3L590.5 1054.7L591.5 1056.1L592.5 1057.5L593.5 1058.8L594.5 1060.2L595.5 1061.5L596.5 1062.8L597.5 1064.1L598.5 1065.4L599.5 1066.7L600.5 1068L601.5 1069.2L602.5 1070.5L603.5 1071.7L604.5 1072.9L605.5 1074L606.5 1075.2L607.5 1076.3L608.5 1077.4L609.5 1078.5L610.5 1079.6L611.5 1080.6L612.5 1081.7L613.5 1082.7L614.5 1083.7L615.5 1084.7L616.5 1085.7L617.5 1086.7L618.5 1087.6L619.5 1088.6L620.5 1089.5L621.5 1090.4L622.5 1091.3L623.5 1092.1L624.5 1093L625.5 1093.8L626.5 1094.6L627.5 1095.4L628.5 1096.2L629.5 1096.9L630.5 1097.6L631.5 1098.3L632.5 1099L633.5 1099.7L634.5 1100.4L635.5 1101L636.5 1101.7L637.5 1102.3L638.5 1103L639.5 1103.6L640.5 1104.2L641.5 1104.8L642.5 1105.5L643.5 1106.1L644.5 1106.7L645.5 1107.3L646.5 1108L647.5 1108.6L648.5 1109.2L649.5 1109.9L650.5 1110.5L651.5 1111.1L652.5 1111.7L653.5 1112.4L654.5 1113L655.5 1113.6L656.5 1114.2L657.5 1114.8L658.5 1115.4L659.5 1116L660.5 1116.6L661.5 1117.2L662.5 1117.8L663.5 1118.4L664.5 1119L665.5 1119.5L666.5 1120.1L667.5 1120.6L668.5 1121.2L669.5 1121.7L670.5 1122.3L671.5 1122.8L672.5 1123.3L673.5 1123.9L674.5 1124.4L675.5 1124.9L676.5 1125.5L677.5 1126L678.5 1126.5L679.5 1127L680.5 1127.5L681.5 1128L682.5 1128.5L683.5 1129L684.5 1129.5L685.5 1130L686.5 1130.5L687.5 1131L688.5 1131.4L689.5 1131.9L690.5 1132.3L691.5 1132.8L692.5 1133.2L693.5 1133.6L694.5 1134L695.5 1134.4L696.5 1134.8L697.5 1135.2L698.5 1135.5L699.5 1135.9L700.5 1136.2L701.5 1136.6L702.5 1136.9L703.5 1137.3L704.5 1137.6L705.5 1138L706.5 1138.3L707.5 1138.6L708.5 1138.9L709.5 1139.2L710.5 1139.6L711.5 1139.9L712.5 1140.2L713.5 1140.4L714.5 1140.7L715.5 1141L716.5 1141.3L717.5 1141.6L718.5 1141.8L719.5 1142.1L720.5 1142.4L721.5 1142.6L722.5 1142.9L723.5 1143.1L724.5 1143.4L725.5 1143.6L726.5 1143.9L727.5 1144.1L728.5 1144.3L729.5 1144.5L730.5 1144.8L731.5 1145L732.5 1145.2L733.5 1145.4L734.5 1145.6L735.5 1145.8L736.5 1146L737.5 1146.2L738.5 1146.4L739.5 1146.6L740.5 1146.8L741.5 1147L742.5 1147.2L743.5 1147.4L744.5 1147.6L745.5 1147.7L746.5 1147.9L747.5 1148.1L748.5 1148.3L749.5 1148.5L750.5 1148.6L751.5 1148.8L752.5 1149L753.5 1149.1L754.5 1149.3L755.5 1149.5L756.5 1149.7L757.5 1149.8L758.5 1150L759.5 1150.1L760.5 1150.3L761.5 1150.5L762.5 1150.6L763.5 1150.8L764.5 1150.9L765.5 1151.1L766.5 1151.2L767.5 1151.4L768.5 1151.6L769.5 1151.7L770.5 1151.9L771.5 1152L772.5 1152.1L773.5 1152.3L774.5 1152.4L775.5 1152.6L776.5 1152.7L777.5 1152.9L778.5 1153L779.5 1153.1L780.5 1153.3L781.5 1153.4L782.5 1153.5L783.5 1153.7L784.5 1153.8L785.5 1153.9L786.5 1154.1L787.5 1154.2L788.5 1154.3L789.5 1154.4L790.5 1154.6L791.5 1154.7L792.5 1154.8L793.5 1154.9L794.5 1155L795.5 1155.2L796.5 1155.3L797.5 1155.4L798.5 1155.5L799.5 1155.6L800.5 1155.8L801.5 1155.9L802.5 1156L803.5 1156.1L804.5 1156.2L805.5 1156.3L806.5 1156.4L807.5 1156.6L808.5 1156.7L809.5 1156.8L810.5 1156.9L811.5 1157L812.5 1157.1L813.5 1157.2L814.5 1157.3L815.5 1157.4L816.5 1157.5L817.5 1157.6L818.5 1157.7L819.5 1157.8L820.5 1157.9L821.5 1158L822.5 1158.1L823.5 1158.1L824.5 1158.2L825.5 1158.3L826.5 1158.4L827.5 1158.5L828.5 1158.6L829.5 1158.6L830.5 1158.7L831.5 1158.8L832.5 1158.9L833.5 1158.9L834.5 1159L835.5 1159.1L836.5 1159.1L837.5 1159.2L838.5 1159.3L839.5 1159.4L840.5 1159.4L841.5 1159.5L842.5 1159.6L843.5 1159.6L844.5 1159.7L845.5 1159.8L846.5 1159.8L847.5 1159.9L848.5 1159.9L849.5 1160L850.5 1160.1L851.5 1160.1L852.5 1160.2L853.5 1160.2L854.5 1160.3L855.5 1160.3L856.5 1160.4L857.5 1160.4L858.5 1160.5L859.5 1160.5L860.5 1160.6L861.5 1160.6L862.5 1160.7L863.5 1160.7L864.5 1160.8L865.5 1160.8L866.5 1160.9L867.5 1160.9L868.5 1161L869.5 1161L870.5 1161L871.5 1161.1L872.5 1161.1L873.5 1161.2L874.5 1161.2L875.5 1161.3L876.5 1161.3L877.5 1161.4L878.5 1161.4L879.5 1161.5L880.5 1161.5L881.5 1161.5L882.5 1161.6L883.5 1161.6L884.5 1161.7L885.5 1161.7L886.5 1161.7L887.5 1161.8L888.5 1161.8L889.5 1161.8L890.5 1161.9L891.5 1161.9L892.5 1161.9L893.5 1161.9L894.5 1161.9L895.5 1162L896.5 1162L897.5 1162L898.5 1162L899.5 1162L900.5 1162L901.5 1162L902.5 1162L903.5 1162L904.5 1162L905.5 1162L906.5 1162L907.5 1162L908.5 1162L909.5 1162L910.5 1162L911.5 1162L912.5 1162L913.5 1162L914.5 1162L915.5 1162L916.5 1162L917.5 1162L918.5 1162L919.5 1162L920.5 1162L921.5 1162L922.5 1162L923.5 1162L924.5 1162L925.5 1162L926.5 1162L927.5 1162L928.5 1162L929.5 1162L930.5 1162L931.5 1162L932.5 1162L933.5 1162L934.5 1162L935.5 1162L936.5 1162L937.5 1162L938.5 1162L939.5 1162L940.5 1162L941.5 1162L942.5 1162L943.5 1162L944.5 1162L945.5 1162L946.5 1162L947.5 1162L948.5 1162L949.5 1162L950.5 1162L951.5 1162L952.5 1162L953.5 1162L954.5 1162L955.5 1162L956.5 1162L957.5 1162L958.5 1162L959.5 1162L960.5 1162L961.5 1161.9L962.5 1161.9L963.5 1161.9L964.5 1161.9L965.5 1161.9L966.5 1161.9L967.5 1161.9L968.5 1161.9L969.5 1161.9L970.5 1161.8L971.5 1161.8L972.5 1161.8L973.5 1161.8L974.5 1161.8L975.5 1161.8L976.5 1161.8L977.5 1161.7L978.5 1161.7L979.5 1161.7L980.5 1161.7L981.5 1161.7L982.5 1161.7L983.5 1161.6L984.5 1161.6L985.5 1161.6L986.5 1161.6L987.5 1161.6L988.5 1161.6L989.5 1161.6L990.5 1161.5L991.5 1161.5L992.5 1161.5L993.5 1161.5L994.5 1161.5L995.5 1161.5L996.5 1161.4L997.5 1161.4L998.5 1161.4L999.5 1161.4L1000.5 1161.4L1001.5 1161.4L1002.5 1161.4L1003.5 1161.4L1004.5 1161.3L1005.5 1161.3L1006.5 1161.3L1007.5 1161.3L1008.5 1161.3L1009.5 1161.3L1010.5 1161.3L1011.5 1161.2L1012.5 1161.2L1013.5 1161.2L1014.5 1161.2L1015.5 1161.2L1016.5 1161.2L1017.5 1161.2L1018.5 1161.1L1019.5 1161.1L1020.5 1161.1L1021.5 1161.1L1022.5 1161.1L1023.5 1161.1L1024.5 1161.1L1025.5 1161.1L1026.5 1161L1027.5 1161L1028.5 1161L1029.5 1161L1030.5 1161L1031.5 1161L1032.5 1160.9L1033.5 1160.9L1034.5 1160.9L1035.5 1160.9L1036.5 1160.9L1037.5 1160.9L1038.5 1160.9L1039.5 1160.8L1040.5 1160.8L1041.5 1160.8L1042.5 1160.8L1043.5 1160.8L1044.5 1160.8L1045.5 1160.8L1046.5 1160.7L1047.5 1160.7L1048.5 1160.7L1049.3 1160.7L1051 1120L1053 1091L1055 1099L1058 1108L1062 1117L1067 1123.5L1067 1123.5L1068 1116.8L1069 1110.5L1070 1105L1071 1100.1L1072 1095.5L1073 1091.2L1074 1087.3L1075 1083.7L1076 1080.4L1077 1077.4L1078 1074.5L1079 1071.9L1080 1069.3L1081 1066.9L1082 1064.6L1083 1062.3L1084 1060L1085 1057.7L1086 1055.5L1087 1053.3L1088 1051.2L1089 1049.1L1090 1047L1091 1045L1092 1043.1L1093 1041.2L1094 1039.4L1095 1037.6L1095.6 1036.6L1096.6 1028.9L1097.6 1022.2L1098.6 1017.1L1099.6 1013L1100.6 1009.3L1101.6 1006L1102.6 1002.7L1103.6 999.3L1104.6 996L1105.6 992.8L1106.6 989.6L1107.6 986.5L1108.6 983.6L1109.6 980.8L1110.6 978L1111.6 975.5L1112.6 973L1113.6 970.5L1114.6 968.1L1115.6 965.9L1116.6 963.6L1117.6 961.5L1118.6 959.4L1119.6 957.4L1120.6 955.5L1121.6 953.6L1122.6 951.8L1123.6 950.1L1124.6 948.4L1125.6 946.7L1126.6 945.2L1127.6 943.6L1128.6 942.1L1129.6 940.6L1130.6 939.1L1131.6 937.6L1132.6 936.1L1133.6 934.6L1134.6 933.2L1135.6 931.7L1136.6 930.3L1137.6 928.9L1138.6 927.5L1139.6 926.2L1140.6 924.9L1141.6 923.6L1142.6 922.4L1143.6 921.2L1144.6 920L1145.6 918.8L1146.6 917.7L1147.6 916.6L1148.6 915.6L1149.6 914.5L1150.6 913.5L1151.6 912.4L1152.6 911.4L1153.6 910.4L1154.6 909.4L1155.6 908.4L1156.6 907.4L1157.6 906.4L1158.6 905.4L1159.6 904.4L1160.6 903.5L1161.6 902.5L1162.6 901.5L1163.6 900.6L1164.6 899.6L1165.6 898.7L1166.6 897.8L1167.6 896.9L1168.6 896L1169.6 895.1L1170 894.7L1171 873.2L1172 859.8L1173 850L1174 841.3L1175 833.4L1176 826.4L1177 820L1178 814.3L1179 809.1L1180 804.2L1181 799.6L1182 795.1L1183 790.5L1184 785.9L1185 781.4L1186 776.9L1187 772.5L1188 768.2L1189 764L1190 760L1191 756.1L1192 752.2L1193 748.4L1194 744.7L1195 741.1L1196 737.6L1197 734.4L1198 731.3L1199 728.3L1200 725.5L1201 722.7L1202 720.1L1203 717.5L1204 714.9L1205 712.4L1206 710L1207 707.5L1208 705L1209 702.5L1210 700L1211 697.4L1212 694.9L1213 692.4L1214 689.9L1215 687.4L1216 684.9L1217 682.4L1218 679.9L1219 677.5L1220 675L1221 672.5L1222 670.1L1223 667.6L1224 665.2L1225 662.7L1226 660.3L1227 657.9L1228 655.6L1229 653.3L1230 651L1231 648.8L1232 646.6L1233 644.4L1234 642.3L1235 640.2L1236 638.1L1237 636L1238 634L1239 632L1240 630L1241 628L1242 626L1243 624.1L1244 622.1L1245 620.2L1246 618.3L1247 616.4L1248 614.6L1249 612.8L1250 611L1251 609.3L1252 607.6L1253 606L1254 604.4L1255 602.8L1256 601.2L1257 599.7L1258 598.2L1259 596.7L1260 595.2L1261 593.8L1262 592.4L1263 591.1L1264 589.8L1265 588.5L1266 587.3L1267 586L1268 584.8L1269 583.6L1270 582.4L1271 581.3L1272 580.2L1273 579.1L1274 578.1L1275 577.1L1276 576.1L1277 575.2L1278 574.4L1279 573.5L1280 572.7L1281 572L1282 571.2L1283 570.5L1284 569.9L1285 569.3L1286 568.8L1287 568.3L1288 567.9L1289 567.5L1290 567.1L1291 566.7L1292 566.4L1293 566.1L1294 565.9L1294.5 565.7L1295 565.5L1295.5 565.3L1296 565.1L1296.5 565L1297 564.8L1297.5 564.6L1298 564.4L1298.5 564.2L1299 564L1299.5 563.8L1300 563.6L1300.5 563.5L1301 563.3L1301.5 563.1L1302 563.1L1302.5 563.2L1303 563.2L1303.5 563.3L1304 563.4L1304.5 563.5L1305 563.7L1305.5 563.8L1306 563.9L1306.5 564.1L1307 564.2L1307.5 564.4L1308 564.5L1308.5 564.7L1309 564.8L1309.5 565L1310 565.1L1310.5 565.2L1311 565.4L1311.5 565.5L1312 565.6L1312.5 565.7L1313 565.8L1313.5 565.9L1314 566L1314.5 566L1315 566.1L1315.5 566.1L1316 566.2L1316.5 566.2L1317 566.2L1317.5 566.2L1318 566.1L1318.5 566.1L1319 566L1319.5 566L1320 565.9L1320.5 565.8L1321 565.7L1321.5 565.6L1322 565.5L1322.5 565.4L1323 565.2L1323.5 565.1L1324 565L1324.5 564.8L1325 564.7L1325.5 564.5L1326 564.4L1326.5 564.3L1327 564.1L1327.5 564L1328 563.9L1328.5 563.7L1329 563.6L1329.5 563.5L1330 563.4L1330.5 563.4L1331 563.3L1331.5 563.2L1332 563.2L1332.5 563.1L1333 563.1L1333.5 563.1L1334 563.1L1334.5 563.1L1335 563.2L1335.5 563.2L1336 563.3L1336.5 563.3L1337 563.4L1337.5 563.5L1338 563.6L1338.5 563.7L1339 563.8L1339.5 563.9L1340 564L1340.5 564.1L1341 564.3L1341.5 564.4L1342 564.5L1342.5 564.7L1343 564.8L1343.5 564.9L1344 565.1L1344.5 565.2L1345 565.3L1345.5 565.4L1346 565.5L1346.5 565.6L1347 565.7L1347.5 565.8L1348 565.8L1348.5 565.9L1349 565.9L1349.5 566L1350 566L1350.5 566L1351 566L1351.5 566L1352 566L1352.5 565.9L1353 565.9L1353.5 565.8L1354 565.7L1354.5 565.7L1355 565.6L1355.5 565.5L1356 565.4L1356.5 565.3L1357 565.1L1357.5 565L1358 564.9L1358.5 564.8L1359 564.7L1359.5 564.5L1360 564.4L1360.5 564.3L1361 564.2L1361.5 564L1362 563.9L1362.5 563.8L1363 563.7L1363.5 563.6L1364 563.6L1364.5 563.5L1365 563.4L1365.5 563.4L1366 563.3L1366.5 563.3L1367 563.3L1367.5 563.3L1368 563.3L1368.5 563.3L1369 563.3L1369.5 563.4L1370 563.4L1370.5 563.5L1371 563.5L1371.5 563.6L1372 563.7L1372.5 563.8L1373 563.9L1373.5 564L1374 564.1L1374.5 564.2L1375 564.3L1375.5 564.4L1376 564.6L1376.5 564.7L1377 564.8L1377.5 564.9L1378 565L1378.5 565.1L1379 565.2L1379.5 565.3L1380 565.4L1380.5 565.5L1381 565.6L1381.5 565.7L1382 565.7L1382.5 565.8L1383 565.8L1383.5 565.8L1384 565.9L1384.5 565.9L1385 565.9L1385.5 565.8L1386 565.8L1386.5 565.8L1387 565.7L1387.5 565.7L1388 565.6L1388.5 565.5L1389 565.5L1389.5 565.4L1390 565.3L1390.5 565.2L1391 565.1L1391.5 565L1392 564.9L1392.5 564.7L1393 564.6L1393.5 564.5L1394 564.4L1394.5 564.3L1395 564.2L1395.5 564.1L1396 564L1396.5 563.9L1397 563.8L1397.5 563.7L1398 563.7L1398.5 563.6L1399 563.5L1399.5 563.5L1400 563.4L1400.5 563.4L1401 563.4L1401.5 563.4L1402 563.4L1402.5 563.4L1403 563.4L1403.5 563.5L1404 563.5L1404.5 563.6L1405 563.6L1405.5 563.7L1406 563.8L1406.5 563.9L1407 564L1407.5 564L1408 564.1L1408.5 564.3L1409 564.4L1409.5 564.5L1410 564.6L1410.5 564.7L1411 564.8L1411.5 564.9L1412 565L1412.5 565.1L1413 565.2L1413.5 565.3L1414 565.4L1414.5 565.4L1415 565.5L1415.5 565.6L1416 565.6L1416.5 565.7L1417 565.7L1417.5 565.7L1418 565.7L1418.5 565.7L1419 565.7L1419.5 565.7L1420 565.7L1420.5 565.7L1421 565.6L1421.5 565.6L1422 565.5L1422.5 565.5L1423 565.4L1423.5 565.3L1424 565.2L1424.5 565.1L1425 565L1425.5 564.9L1426 564.8L1426.5 564.7L1427 564.6L1427.5 564.5L1428 564.4L1428.5 564.3L1429 564.2L1429.5 564.1L1430 564L1430.5 563.9L1431 563.9L1431.5 563.8L1432 563.7L1432.5 563.7L1433 563.6L1433.5 563.6L1434 563.6L1434.5 563.5L1435 563.5L1435.5 563.5L1436 563.5L1436.5 563.5L1437 563.5L1437.5 563.6L1438 563.6L1438.5 563.7L1439 563.7L1439.5 563.8L1440 563.9L1440.5 563.9L1441 564L1441.5 564.1L1442 564.2L1442.5 564.3L1443 564.4L1443.5 564.5L1444 564.6L1444.5 564.7L1445 564.8L1445.5 564.9L1446 565L1446.5 565.1L1447 565.1L1447.5 565.2L1448 565.3L1448.5 565.4L1449 565.4L1449.5 565.5L1450 565.5L1450.5 565.6L1451 565.6L1451.5 565.6L1452 565.6L1452.5 565.6L1453 565.6L1453.5 565.6L1454 565.6L1454.5 565.6L1455 565.5L1455.5 565.5L1456 565.4L1456.5 565.4L1457 565.3L1457.5 565.2L1458 565.2L1458.5 565.1L1459 565L1459.5 564.9L1460 564.8L1460.5 564.7L1461 564.6L1461.5 564.5L1462 564.4L1462.5 564.3L1463 564.2L1463.5 564.2L1464 564.1L1464.5 564L1465 563.9L1465.5 563.9L1466 563.8L1466.5 563.7L1467 563.7L1467.5 563.7L1468 563.6L1468.5 563.6L1469 563.6L1469.5 563.6L1470 563.6L1470.5 563.6L1471 563.6L1471.5 563.7L1472 563.7L1472.5 563.8L1473 563.8L1473.5 563.9L1474 563.9L1474.5 564L1475 564.1L1475.5 564.2L1476 564.2L1476.5 564.3L1477 564.4L1477.5 564.5L1478 564.6L1478.5 564.7L1479 564.8L1479.5 564.9L1480 564.9L1480.5 565L1481 565.1L1481.5 565.2L1482 565.2L1482.5 565.3L1483 565.4L1483.5 565.4L1484 565.5L1484.5 565.5L1485 565.5L1485.5 565.5L1486 565.6L1486.5 565.6L1487 565.6L1487.5 565.5L1488 565.5L1488.5 565.5L1489 565.5L1489.5 565.4L1490 565.4L1490.5 565.3L1491 565.2L1491.5 565.2L1492 565.1L1492.5 565L1493 564.9L1493.5 564.9L1494 564.8L1494.5 564.7L1495 564.6L1495.5 564.5L1496 564.4L1496.5 564.3L1497 564.3L1497.5 564.2L1498 564.1L1498.5 564L1499 564L1499.5 563.9L1500 563.9L1500.5 563.8L1501 563.8L1501.5 563.7L1502 563.7L1502.5 563.7L1503 563.7L1503.5 563.7L1504 563.7L1504.5 563.7L1505 563.7L1505.5 563.7L1506 563.8L1506.5 563.8L1507 563.9L1507.5 563.9L1508 564L1508.5 564.1L1509 564.1L1509.5 564.2L1510 564.3L1510.5 564.4L1511 564.4L1511.5 564.5L1512 564.6L1512.5 564.7L1513 564.8L1513.5 564.8L1514 564.9L1514.5 565L1515 565.1L1515.5 565.1L1516 565.2L1516.5 565.3L1517 565.3L1517.5 565.4L1518 565.4L1518.5 565.4L1519 565.5L1519.5 565.5L1520 565.5L1520.5 565.5L1521 565.5L1521.5 565.5L1522 565.4L1522.5 565.4L1523 565.4L1523.5 565.3L1524 565.3L1524.5 565.2L1525 565.2L1525.5 565.1L1526 565.1L1526.5 565L1527 564.9L1527.5 564.8L1528 564.8L1528.5 564.7L1529 564.6L1529.5 564.5L1530 564.4L1530.5 564.4L1531 564.3L1531.5 564.2L1532 564.1L1532.5 564.1L1533 564L1533.5 564L1534 563.9L1534.5 563.9L1535 563.8L1535.5 563.8L1536 563.8L1536.5 563.8L1537 563.7L1537.5 563.7L1538 563.8L1538.5 563.8L1539 563.8L1539.5 563.8L1540 563.8L1540.5 563.9L1541 563.9L1541.5 564L1542 564L1542.5 564.1L1543 564.2L1543.5 564.2L1544 564.3L1544.5 564.4L1545 564.5L1545.5 564.5L1546 564.6L1546.5 564.7L1547 564.8L1547.5 564.8L1548 564.9L1548.5 565L1549 565L1549.5 565.1L1550 565.2L1550.5 565.2L1551 565.3L1551.5 565.3L1552 565.3L1552.5 565.4L1553 565.4L1553.5 565.4L1554 565.4L1554.5 565.4L1555 565.4L1555.5 565.4L1556 565.4L1556.5 565.4L1557 565.3L1557.5 565.3L1558 565.2L1558.5 565.2L1559 565.1L1559.5 565.1L1560 565L1560.5 565L1561 564.9L1561.5 564.8L1562 564.7L1562.5 564.7L1563 564.6L1563.5 564.5L1564 564.4L1564.5 564.4L1565 564.3L1565.5 564.2L1566 564.2L1566.5 564.1L1567 564L1567.5 564L1568 563.9L1568.5 563.9L1569 563.9L1569.5 563.8L1570 563.8L1570.5 563.8L1571 563.8L1571.5 563.8L1572 563.8L1572.5 563.8L1573 563.8L1573.5 563.9L1574 563.9L1574.5 563.9L1575 564L1575.5 564L1576 564.1L1576.5 564.1L1577 564.2L1577.5 564.3L1578 564.3L1578.5 564.4L1579 564.5L1579.5 564.5L1580 564.6L1580.5 564.7L1581 564.8L1581.5 564.8L1582 564.9L1582.5 565L1583 565L1583.5 565.1L1584 565.1L1584.5 565.2L1585 565.2L1585.5 565.3L1586 565.3L1586.5 565.3L1587 565.4L1587.5 565.4L1588 565.4L1588.5 565.4L1589 565.4L1589.5 565.4L1590 565.3L1590.5 565.3L1591 565.3L1591.5 565.2L1592 565.2L1592.5 565.2L1593 565.1L1593.5 565L1594 565L1594.5 564.9L1595 564.9L1595.5 564.8L1596 564.7L1596.5 564.7L1597 564.6L1597.5 564.5L1598 564.4L1598.5 564.4L1599 564.3L1599.5 564.2L1600 564.2L1600.5 564.1L1601 564.1L1601.5 564L1602 564L1602.5 563.9L1603 563.9L1603.5 563.9L1604 563.9L1604.5 563.9L1605 563.8L1605.5 563.8L1606 563.9L1606.5 563.9L1607 563.9L1607.5 563.9L1608 563.9L1608.5 564L1609 564L1609.5 564.1L1610 564.1L1610.5 564.2L1611 564.2L1611.5 564.3L1612 564.4L1612.5 564.4L1613 564.5L1613.5 564.6L1614 564.6L1614.5 564.7L1615 564.8L1615.5 564.8L1616 564.9L1616.5 565L1617 565L1617.5 565.1L1618 565.1L1618.5 565.2L1619 565.2L1619.5 565.2L1620 565.3L1620.5 565.3L1621 565.3L1621.5 565.3L1622 565.3L1622.5 565.3L1623 565.3L1623.5 565.3L1624 565.3L1624.5 565.3L1625 565.2L1625.5 565.2L1626 565.2L1626.5 565.1L1627 565.1L1627.5 565L1628 565L1628.5 564.9L1629 564.8L1629.5 564.8L1630 564.7L1630.5 564.6L1631 564.6L1631.5 564.5L1632 564.4L1632.5 564.4L1633 564.3L1633.5 564.3L1634 564.2L1634.5 564.1L1635 564.1L1635.5 564.1L1636 564L1636.5 564L1637 563.9L1637.5 563.9L1638 563.9L1638.5 563.9L1639 563.9L1639.5 563.9L1640 563.9L1640.5 563.9L1641 563.9L1641.5 563.9L1642 564L1642.5 564L1643 564.1L1643.5 564.1L1644 564.1L1644.5 564.2L1645 564.3L1645.5 564.3L1646 564.4L1646.5 564.4L1647 564.5L1647.5 564.6L1648 564.6L1648.5 564.7L1649 564.8L1649.5 564.8L1650 564.9L1650.5 564.9L1651 565L1651.5 565L1652 565.1L1652.5 565.1L1653 565.2L1653.5 565.2L1654 565.2L1654.5 565.3L1655 565.3L1655.5 565.3L1656 565.3L1656.5 565.3L1657 565.3L1657.5 565.3L1658 565.3L1658.5 565.2L1659 565.2L1659.5 565.2L1660 565.1L1660.5 565.1L1661 565L1661.5 565L1662 564.9L1662.5 564.9L1663 564.8L1663.5 564.8L1664 564.7L1664.5 564.6L1665 564.6L1665.5 564.5L1666 564.4L1666.5 564.4L1667 564.3L1667.5 564.3L1668 564.2L1668.5 564.2L1669 564.1L1669.5 564.1L1670 564L1670.5 564L1671 564L1671.5 564L1672 563.9L1672.5 563.9L1673 563.9L1673.5 563.9L1674 563.9L1674.5 563.9L1675 564L1675.5 564L1676 564L1676.5 564L1677 564.1L1677.5 564.1L1678 564.2L1678.5 564.2L1679 564.3L1679.5 564.3L1680 564.4L1680.5 564.4L1681 564.5L1681.5 564.6L1682 564.6L1682.5 564.7L1683 564.8L1683.5 564.8L1684 564.9L1684.5 564.9L1685 565L1685.5 565L1686 565.1L1686.5 565.1L1687 565.2L1687.5 565.2L1688 565.2L1688.5 565.2L1689 565.2L1689.5 565.3L1690 565.3L1690.5 565.3L1691 565.3L1691.5 565.2L1692 565.2L1692.5 565.2L1693 565.2L1693.5 565.1L1694 565.1L1694.5 565.1L1695 565L1695.5 565L1696 564.9L1696.5 564.9L1697 564.8L1697.5 564.7L1698 564.7L1698.5 564.6L1699 564.6L1699.5 564.5L1700 564.4L1700.5 564.4L1701 564.3L1701.5 564.3L1702 564.2L1702.5 564.2L1703 564.1L1703.5 564.1L1704 564.1L1704.5 564L1705 564L1705.5 564L1706 564L1706.5 564L1707 563.9L1707.5 563.9L1708 564L1708.5 564L1709 564L1709.5 564L1710 564L1710.5 564.1L1711 564.1L1711.5 564.1L1712 564.2L1712.5 564.2L1713 564.3L1713.5 564.3L1714 564.4L1714.5 564.5L1715 564.5L1715.5 564.6L1716 564.6L1716.5 564.7L1717 564.8L1717.5 564.8L1718 564.9L1718.5 564.9L1719 565L1719.5 565L1720 565.1L1720.5 565.1L1721 565.1L1721.5 565.2L1722 565.2L1722.5 565.2L1723 565.2L1723.5 565.2L1724 565.2L1724.5 565.2L1725 565.2L1725.5 565.2L1726 565.2L1726.5 565.2L1727 565.2L1727.5 565.1L1728 565.1L1728.5 565L1729 565L1729.5 565L1730 564.9L1730.5 564.8L1731 564.8L1731.5 564.7L1732 564.7L1732.5 564.6L1733 564.6L1733.5 564.5L1734 564.4L1734.5 564.4L1735 564.3L1735.5 564.3L1736 564.2L1736.5 564.2L1737 564.1L1737.5 564.1L1738 564.1L1738.5 564L1739 564L1739.5 564L1740 564L1740.5 564L1741 564L1741.5 564L1742 564L1742.5 564L1743 564L1743.5 564L1744 564.1L1744.5 564.1L1745 564.1L1745.5 564.2L1746 564.2L1746.5 564.3L1747 564.3L1747.5 564.4L1748 564.4L1748.5 564.5L1749 564.5L1749.5 564.6L1750 564.6L1750.5 564.7L1751 564.8L1751.5 564.8L1752 564.9L1752.5 564.9L1753 565L1753.5 565L1754 565L1754.5 565.1L1755 565.1L1755.5 565.1L1756 565.2L1756.5 565.2L1757 565.2L1757.5 565.2L1758 565.2L1758.5 565.2L1759 565.2L1759.5 565.2L1760 565.2L1760.5 565.2L1761 565.1L1761.5 565.1L1762 565.1L1762.5 565L1763 565L1763.5 564.9L1764 564.9L1764.5 564.8L1765 564.8L1765.5 564.7L1766 564.7L1766.5 564.6L1767 564.6L1767.5 564.5L1768 564.4L1768.5 564.4L1769 564.3L1769.5 564.3L1770 564.2L1770.5 564.2L1771 564.2L1771.5 564.1L1772 564.1L1772.5 564.1L1773 564L1773.5 564L1774 564L1774.5 564L1775 564L1775.5 564L1776 564L1776.5 564L1777 564L1777.5 564.1L1778 564.1L1778.5 564.1L1779 564.1L1779.5 564.2L1780 564.2L1780.5 564.3L1781 564.3L1781.5 564.4L1782 564.4L1782.5 564.5L1783 564.5L1783.5 564.6L1784 564.6L1784.5 564.7L1785 564.8L1785.5 564.8L1786 564.9L1786.5 564.9L1787 565L1787.5 565L1788 565L1788.5 565.1L1789 565.1L1789.5 565.1L1790 565.2L1790.5 565.2L1791 565.2L1791.5 565.2L1792 565.2L1792.5 565.2L1793 565.2L1793 262Z" fill="rgb(150,0,150)" stroke="none" stroke-width="1" clip-path="url(#c1)" fill-opacity="0.14"/>
<path d="M247 262L247 389.6L248 389.6L249 389.6L250 389.5L251 389.5L252 389.5L253 389.5L254 389.5L255 389.4L256 389.4L257 389.4L258 389.4L259 389.4L260 389.4L261 389.4L262 389.3L263 389.3L264 389.3L265 389.3L266 389.3L267 389.3L268 389.3L269 389.3L270 389.3L271 389.3L272 389.3L273 389.3L274 389.2L275 389.2L276 389.2L277 389.2L278 389.2L279 389.2L280 389.2L281 389.2L282 389.2L283 389.2L284 389.2L285 389.2L286 389.2L287 389.2L288 389.2L289 389.2L290 389.2L291 389.2L292 389.2L293 389.2L294 389.2L295 389.2L296 389.2L297 389.2L298 389.2L299 389.2L300 389.2L301 389.2L302 389.2L303 389.2L304 389.2L305 389.3L306 389.3L307 389.3L308 389.4L309 389.4L310 389.5L311 389.5L312 389.6L313 389.6L314 389.7L315 389.7L316 389.7L317 389.8L318 389.8L319 389.9L320 389.9L321 390L322 390L323 390.1L324 390.1L325 390.1L326 390.2L327 390.2L328 390.2L329 390.2L330 390.2L331 390.2L332 390.2L333 390.2L334 390.2L335 390.2L336 390.2L337 390.2L338 390.2L339 390.2L340 390.2L341 390.2L342 390.1L343 390.1L344 390.1L345 390.1L346 390.1L347 390.1L348 390.1L349 390.1L350 390.1L351 390L352 390L353 390L354 390L355 390L356 390L357 390L358 389.9L359 389.9L360 389.9L361 389.9L362 389.9L363 389.9L364 389.8L365 389.8L366 389.8L367 389.8L368 389.8L369 389.8L370 389.7L371 389.7L372 389.7L373 389.7L374 389.7L375 389.7L376 389.7L377 389.6L378 389.6L379 389.6L380 389.6L381 389.6L382 389.6L383 389.6L384 389.5L385 389.5L386 389.5L387 389.5L388 389.5L389 389.5L390 389.4L391 389.4L392 389.4L393 389.4L394 389.4L395 389.3L396 389.3L397 389.3L398 389.3L399 389.3L400 389.2L401 389.2L402 389.2L403 389.2L404 389.2L405 389.1L406 389.1L407 389.1L408 389.1L409 389.1L410 389.1L411 389.1L412 389L413 389L414 389L415 389L416 389L417 389L418 389L419 389L420 389L421 389L422 389L423 389L424 389L425 389.1L426 389.1L427 389.1L428 389.2L429 389.2L430 389.2L431 389.3L432 389.3L433 389.3L434 389.4L435 389.4L436 389.4L437 389.5L438 389.5L439 389.5L440 389.5L441 389.5L442 389.5L443 389.5L444 389.5L445 389.5L446 389.5L447 389.5L448 389.5L449 389.5L450 389.5L450.5 389.5L452 389.6L452.6 404L455 400.5L457 397.2L457.6 380.8L459 380.2L460.7 379.6L462.5 378.6L464.4 378L466.3 378.8L468.1 380.8L468.9 383L469.2 300L469.4 281.3L469.6 300L469.8 404.6L470.2 388L470.6 384.4L472 389L474 400L478 425L485.7 469L489.5 488L490 505L490.6 492L500 550L500 550L501 555.9L502 561.8L503 567.7L504 573.5L505 579.3L506 585L507 590.7L508 596.4L509 602L510 607.6L511 613.1L512 618.7L513 624.1L514 629.6L515 635L516 640.4L517 645.7L518 651.1L519 656.4L520 661.6L521 666.9L522 672L523 677.2L524 682.2L525 687.2L526 692.2L527 697.1L528 701.9L529 706.7L530 711.5L531 716.2L532 720.9L533 725.6L534 730.2L535 734.7L536 739.2L537 743.5L538 747.8L539 751.9L540 756L541 760L542 763.9L543 767.8L544 771.6L545 775.4L546 779.1L547 782.8L548 786.3L549 789.9L550 793.3L551 796.7L552 800L553 803.2L554 806.3L555 809.3L556 812.3L557 815.2L558 818.1L559 821L560 823.8L561 826.6L562 829.4L563 832.1L564 834.8L565 837.5L566 840.1L567 842.7L568 845.2L569 847.7L570 850.1L571 852.5L572 854.9L573 857.2L574 859.5L575 861.7L576 863.8L577 866L578 868L579 870L580 872L581 873.9L582 875.8L583 877.6L584 879.5L585 881.2L586 883L587 884.7L588 886.4L589 888L590 889.7L591 891.3L592 892.9L593 894.4L594 896L595 897.5L596 899L597 900.5L598 901.9L599 903.4L600 904.8L601 906.2L602 907.6L603 909.1L604 910.4L605 911.8L606 913.2L607 914.6L608 916L609 917.3L610 918.7L611 920L612 921.4L613 922.7L614 924.1L615 925.4L616 926.7L617 928L618 929.3L619 930.6L620 931.9L621 933.2L622 934.4L623 935.7L624 936.9L625 938.1L626 939.4L627 940.6L628 941.8L629 942.9L630 944.1L631 945.3L632 946.4L633 947.5L634 948.6L635 949.7L636 950.8L637 951.9L638 952.9L639 954L640 955L641 956L642 957L643 958L644 959L645 960L646 961L647 962L648 963L649 963.9L650 964.9L651 965.8L652 966.8L653 967.7L654 968.7L655 969.6L656 970.5L657 971.4L658 972.3L659 973.2L660 974.1L661 975L662 975.9L663 976.7L664 977.6L665 978.4L666 979.2L667 980.1L668 980.9L669 981.7L670 982.5L671 983.2L672 984L673 984.8L674 985.5L675 986.2L676 987L677 987.7L678 988.4L679 989L680 989.7L681 990.4L682 991L683 991.6L684 992.3L685 992.9L686 993.5L687 994.1L688 994.7L689 995.3L690 995.9L691 996.5L692 997.1L693 997.6L694 998.2L695 998.8L696 999.3L697 999.9L698 1000.4L699 1000.9L700 1001.5L701 1002L702 1002.5L703 1003L704 1003.6L705 1004.1L706 1004.6L707 1005.1L708 1005.5L709 1006L710 1006.5L711 1007L712 1007.4L713 1007.9L714 1008.4L715 1008.8L716 1009.3L717 1009.7L718 1010.1L719 1010.6L720 1011L721 1011.4L722 1011.8L723 1012.3L724 1012.7L725 1013.1L726 1013.5L727 1013.9L728 1014.2L729 1014.6L730 1015L731 1015.4L732 1015.7L733 1016.1L734 1016.5L735 1016.9L736 1017.2L737 1017.6L738 1018L739 1018.3L740 1018.7L741 1019L742 1019.4L743 1019.7L744 1020.1L745 1020.4L746 1020.8L747 1021.1L748 1021.5L749 1021.8L750 1022.1L751 1022.5L752 1022.8L753 1023.1L754 1023.5L755 1023.8L756 1024.1L757 1024.4L758 1024.7L759 1025L760 1025.4L761 1025.7L762 1026L763 1026.3L764 1026.6L765 1026.8L766 1027.1L767 1027.4L768 1027.7L769 1028L770 1028.2L771 1028.5L772 1028.8L773 1029L774 1029.3L775 1029.6L776 1029.8L777 1030L778 1030.3L779 1030.5L780 1030.8L781 1031L782 1031.2L783 1031.4L784 1031.6L785 1031.8L786 1032.1L787 1032.3L788 1032.4L789 1032.6L790 1032.8L791 1033L792 1033.2L793 1033.4L794 1033.5L795 1033.7L796 1033.9L797 1034L798 1034.2L799 1034.4L800 1034.5L801 1034.7L802 1034.9L803 1035L804 1035.2L805 1035.3L806 1035.5L807 1035.6L808 1035.8L809 1035.9L810 1036.1L811 1036.2L812 1036.4L813 1036.5L814 1036.7L815 1036.8L816 1036.9L817 1037.1L818 1037.2L819 1037.3L820 1037.5L821 1037.6L822 1037.7L823 1037.9L824 1038L825 1038.1L826 1038.2L827 1038.3L828 1038.5L829 1038.6L830 1038.7L831 1038.8L832 1038.9L833 1039L834 1039.1L835 1039.2L836 1039.3L837 1039.4L838 1039.5L839 1039.6L840 1039.7L841 1039.8L842 1039.9L843 1040L844 1040L845 1040.1L846 1040.2L847 1040.3L848 1040.4L849 1040.4L850 1040.5L851 1040.6L852 1040.6L853 1040.7L854 1040.8L855 1040.8L856 1040.9L857 1041L858 1041L859 1041.1L860 1041.2L861 1041.2L862 1041.3L863 1041.4L864 1041.4L865 1041.5L866 1041.5L867 1041.6L868 1041.6L869 1041.7L870 1041.8L871 1041.8L872 1041.9L873 1041.9L874 1042L875 1042L876 1042.1L877 1042.1L878 1042.2L879 1042.2L880 1042.3L881 1042.3L882 1042.3L883 1042.4L884 1042.4L885 1042.5L886 1042.5L887 1042.6L888 1042.6L889 1042.6L890 1042.7L891 1042.7L892 1042.7L893 1042.8L894 1042.8L895 1042.8L896 1042.9L897 1042.9L898 1042.9L899 1043L900 1043L901 1043L902 1043L903 1043.1L904 1043.1L905 1043.1L906 1043.1L907 1043.2L908 1043.2L909 1043.2L910 1043.2L911 1043.3L912 1043.3L913 1043.3L914 1043.3L915 1043.4L916 1043.4L917 1043.4L918 1043.4L919 1043.5L920 1043.5L921 1043.5L922 1043.5L923 1043.5L924 1043.6L925 1043.6L926 1043.6L927 1043.6L928 1043.6L929 1043.7L930 1043.7L931 1043.7L932 1043.7L933 1043.7L934 1043.8L935 1043.8L936 1043.8L937 1043.8L938 1043.8L939 1043.8L940 1043.8L941 1043.9L942 1043.9L943 1043.9L944 1043.9L945 1043.9L946 1043.9L947 1043.9L948 1043.9L949 1044L950 1044L951 1044L952 1044L953 1044L954 1044L955 1044L956 1044L957 1044L958 1044L959 1044L960 1044L961 1044L962 1044L963 1044L964 1044L965 1044L966 1044L967 1044L968 1044L969 1044L970 1044L971 1044L972 1044L973 1044L974 1044L975 1044L976 1044L977 1044L978 1044L979 1044L980 1044L981 1044L982 1044L983 1044L984 1044L985 1044L986 1044L987 1044L988 1043.9L989 1043.9L990 1043.9L991 1043.9L992 1043.9L993 1043.9L994 1043.9L995 1043.9L996 1043.9L997 1043.9L998 1043.9L999 1043.9L1000 1043.9L1001 1043.9L1002 1043.9L1003 1043.9L1004 1043.9L1005 1043.9L1006 1043.9L1007 1043.8L1008 1043.8L1009 1043.8L1010 1043.8L1011 1043.8L1012 1043.8L1013 1043.8L1014 1043.7L1015 1043.7L1016 1043.7L1017 1043.7L1018 1043.7L1019 1043.7L1020 1043.6L1021 1043.6L1022 1043.6L1023 1043.6L1024 1043.5L1025 1043.5L1026 1043.5L1027 1043.5L1028 1043.4L1029 1043.4L1030 1043.4L1031 1043.4L1032 1043.3L1033 1043.3L1034 1043.3L1035 1043.2L1036 1043.2L1037 1043.2L1038 1043.2L1039 1043.1L1040 1043.1L1041 1043.1L1042 1043L1043 1043L1044 1043L1045 1042.9L1046 1042.9L1047 1042.9L1048 1042.8L1049 1042.8L1049.2 1042.8L1050.5 1010L1052.5 999.5L1054 998.5L1060 998.9L1068 996.5L1068 996.6L1069 993.7L1070 990.8L1071 987.9L1072 985L1073 982.1L1074 979.2L1075 976.3L1076 973.5L1077 970.6L1078 967.7L1079 964.9L1080 962L1081 959.2L1082 956.3L1083 953.5L1084 950.7L1085 947.9L1086 945L1087 942.2L1088 939.4L1089 936.6L1090 933.8L1091 931L1092 928.2L1093 925.4L1094 922.5L1095 919.7L1096 916.9L1097 914L1098 911.1L1099 908.2L1100 905.3L1101 902.3L1102 899.4L1103 896.5L1104 893.5L1105 890.6L1106 887.7L1107 884.8L1108 881.9L1109 879.1L1110 876.3L1111 873.5L1112 870.7L1113 868L1114 865.3L1115 862.6L1116 860L1117 857.3L1118 854.7L1119 852L1120 849.4L1121 846.8L1122 844.2L1123 841.7L1124 839.1L1125 836.6L1126 834.2L1127 831.7L1128 829.3L1129 826.9L1130 824.6L1131 822.3L1132 820L1133 817.8L1134 815.5L1135 813.3L1136 811.1L1137 808.9L1138 806.8L1139 804.6L1140 802.5L1141 800.4L1142 798.4L1143 796.3L1144 794.3L1145 792.3L1146 790.3L1147 788.4L1148 786.5L1149 784.6L1150 782.7L1151 780.9L1152 779.1L1153 777.4L1154 775.7L1155 774L1156 772.3L1157 770.7L1158 769.1L1159 767.5L1160 766L1161 764.5L1162 763.1L1163 761.7L1164 760.3L1165 759L1166 757.7L1167 756.5L1168 755.3L1169 754.2L1170 753.1L1171 752L1172 751L1172 751L1173 749.1L1174 747L1175 744.6L1176 742L1177 739.3L1178 736.3L1179 732.9L1180 729L1181 723.8L1182 717.6L1183 712L1184 707.7L1185 703.7L1186 698.9L1187 692.8L1188 685.8L1189 678.7L1190 672L1191 665.8L1192 659.6L1193 653.5L1194 647.4L1195 641.4L1196 635.5L1197 629.6L1198 623.9L1199 618.3L1200 612.8L1201 607.5L1202 602.3L1203 597.4L1204 592.6L1205 588.1L1206 583.6L1207 579.3L1208 575.1L1209 570.9L1210 566.9L1211 562.9L1212 559L1213 555.2L1214 551.5L1215 547.8L1216 544.2L1217 540.7L1218 537.2L1219 533.7L1220 530.3L1221 527L1222 523.7L1223 520.5L1224 517.2L1225 514L1226 510.9L1227 507.7L1228 504.6L1229 501.6L1230 498.6L1231 495.6L1232 492.6L1233 489.7L1234 486.8L1235 483.9L1236 481.1L1237 478.3L1238 475.6L1239 472.9L1240 470.2L1241 467.5L1242 464.9L1243 462.2L1244 459.7L1245 457.1L1246 454.6L1247 452.1L1248 449.6L1249 447.2L1250 444.8L1251 442.4L1252 440L1253 437.7L1254 435.4L1255 433.1L1256 430.8L1257 428.6L1258 426.5L1259 424.3L1260 422.2L1261 420.1L1262 418L1263 415.9L1264 413.9L1265 411.9L1266 409.9L1267 407.9L1268 405.9L1269 404L1270 402L1271 400L1272 398.1L1273 396.1L1274 394.1L1275 392.2L1276 390.4L1277 388.6L1278 387L1279 385.5L1280 384.1L1281 382.9L1282 381.7L1283 380.6L1283 380.6L1283.5 380.4L1284 380.2L1284.5 380L1285 379.8L1285.5 379.6L1286 379.6L1286.5 379.6L1287 379.6L1287.5 379.8L1288 380L1288.5 380.3L1289 380.6L1289.5 381.1L1290 381.6L1290.5 382.1L1291 382.8L1291.5 383.5L1292 384.2L1292.5 385L1293 385.8L1293.5 386.6L1294 387.5L1294.5 388.4L1295 389.2L1295.5 390.1L1296 391L1296.5 391.8L1297 392.7L1297.5 393.5L1298 394.2L1298.5 395L1299 395.6L1299.5 396.2L1300 396.8L1300.5 397.3L1301 397.7L1301.5 398L1302 398.3L1302.5 398.5L1303 398.6L1303.5 398.6L1304 398.6L1304.5 398.5L1305 398.3L1305.5 398L1306 397.7L1306.5 397.2L1307 396.8L1307.5 396.2L1308 395.6L1308.5 395L1309 394.3L1309.5 393.5L1310 392.8L1310.5 392L1311 391.2L1311.5 390.3L1312 389.5L1312.5 388.7L1313 387.8L1313.5 387L1314 386.3L1314.5 385.5L1315 384.8L1315.5 384.1L1316 383.5L1316.5 382.9L1317 382.4L1317.5 381.9L1318 381.5L1318.5 381.2L1319 380.9L1319.5 380.8L1320 380.7L1320.5 380.6L1321 380.7L1321.5 380.8L1322 381L1322.5 381.2L1323 381.6L1323.5 382L1324 382.4L1324.5 383L1325 383.5L1325.5 384.1L1326 384.8L1326.5 385.5L1327 386.2L1327.5 387L1328 387.8L1328.5 388.5L1329 389.3L1329.5 390.1L1330 390.9L1330.5 391.6L1331 392.4L1331.5 393.1L1332 393.8L1332.5 394.4L1333 395L1333.5 395.6L1334 396L1334.5 396.5L1335 396.8L1335.5 397.1L1336 397.4L1336.5 397.6L1337 397.6L1337.5 397.7L1338 397.6L1338.5 397.5L1339 397.3L1339.5 397.1L1340 396.8L1340.5 396.4L1341 395.9L1341.5 395.5L1342 394.9L1342.5 394.3L1343 393.7L1343.5 393L1344 392.3L1344.5 391.6L1345 390.9L1345.5 390.1L1346 389.4L1346.5 388.6L1347 387.9L1347.5 387.2L1348 386.5L1348.5 385.8L1349 385.2L1349.5 384.6L1350 384L1350.5 383.5L1351 383L1351.5 382.6L1352 382.3L1352.5 382L1353 381.8L1353.5 381.6L1354 381.5L1354.5 381.5L1355 381.5L1355.5 381.7L1356 381.8L1356.5 382.1L1357 382.4L1357.5 382.7L1358 383.2L1358.5 383.6L1359 384.1L1359.5 384.7L1360 385.3L1360.5 385.9L1361 386.6L1361.5 387.3L1362 388L1362.5 388.7L1363 389.4L1363.5 390.1L1364 390.8L1364.5 391.5L1365 392.1L1365.5 392.8L1366 393.4L1366.5 394L1367 394.5L1367.5 395L1368 395.4L1368.5 395.8L1369 396.1L1369.5 396.4L1370 396.6L1370.5 396.8L1371 396.8L1371.5 396.9L1372 396.8L1372.5 396.7L1373 396.5L1373.5 396.3L1374 396L1374.5 395.7L1375 395.3L1375.5 394.8L1376 394.3L1376.5 393.8L1377 393.2L1377.5 392.6L1378 392L1378.5 391.3L1379 390.7L1379.5 390L1380 389.3L1380.5 388.6L1381 388L1381.5 387.3L1382 386.7L1382.5 386.1L1383 385.5L1383.5 385L1384 384.4L1384.5 384L1385 383.6L1385.5 383.2L1386 382.9L1386.5 382.6L1387 382.4L1387.5 382.3L1388 382.2L1388.5 382.2L1389 382.3L1389.5 382.4L1390 382.5L1390.5 382.8L1391 383L1391.5 383.4L1392 383.8L1392.5 384.2L1393 384.7L1393.5 385.2L1394 385.7L1394.5 386.3L1395 386.9L1395.5 387.5L1396 388.1L1396.5 388.8L1397 389.4L1397.5 390.1L1398 390.7L1398.5 391.3L1399 391.9L1399.5 392.5L1400 393.1L1400.5 393.6L1401 394.1L1401.5 394.5L1402 394.9L1402.5 395.2L1403 395.5L1403.5 395.8L1404 396L1404.5 396.1L1405 396.2L1405.5 396.2L1406 396.1L1406.5 396L1407 395.9L1407.5 395.6L1408 395.4L1408.5 395.1L1409 394.7L1409.5 394.3L1410 393.8L1410.5 393.3L1411 392.8L1411.5 392.3L1412 391.7L1412.5 391.1L1413 390.5L1413.5 389.9L1414 389.2L1414.5 388.6L1415 388L1415.5 387.4L1416 386.8L1416.5 386.3L1417 385.8L1417.5 385.3L1418 384.8L1418.5 384.4L1419 384L1419.5 383.7L1420 383.4L1420.5 383.2L1421 383L1421.5 382.9L1422 382.8L1422.5 382.8L1423 382.9L1423.5 383L1424 383.1L1424.5 383.3L1425 383.6L1425.5 383.9L1426 384.3L1426.5 384.7L1427 385.1L1427.5 385.6L1428 386.1L1428.5 386.6L1429 387.1L1429.5 387.7L1430 388.3L1430.5 388.9L1431 389.5L1431.5 390.1L1432 390.6L1432.5 391.2L1433 391.8L1433.5 392.3L1434 392.8L1434.5 393.3L1435 393.7L1435.5 394.1L1436 394.5L1436.5 394.8L1437 395L1437.5 395.3L1438 395.4L1438.5 395.5L1439 395.6L1439.5 395.6L1440 395.6L1440.5 395.5L1441 395.3L1441.5 395.1L1442 394.8L1442.5 394.5L1443 394.2L1443.5 393.8L1444 393.4L1444.5 392.9L1445 392.5L1445.5 392L1446 391.4L1446.5 390.9L1447 390.3L1447.5 389.7L1448 389.2L1448.5 388.6L1449 388.1L1449.5 387.5L1450 387L1450.5 386.5L1451 386L1451.5 385.5L1452 385.1L1452.5 384.7L1453 384.4L1453.5 384.1L1454 383.8L1454.5 383.6L1455 383.5L1455.5 383.4L1456 383.3L1456.5 383.3L1457 383.4L1457.5 383.5L1458 383.6L1458.5 383.8L1459 384.1L1459.5 384.3L1460 384.7L1460.5 385L1461 385.4L1461.5 385.9L1462 386.4L1462.5 386.8L1463 387.4L1463.5 387.9L1464 388.4L1464.5 389L1465 389.5L1465.5 390L1466 390.6L1466.5 391.1L1467 391.6L1467.5 392.1L1468 392.6L1468.5 393L1469 393.4L1469.5 393.8L1470 394.1L1470.5 394.4L1471 394.6L1471.5 394.8L1472 395L1472.5 395.1L1473 395.1L1473.5 395.1L1474 395.1L1474.5 395L1475 394.8L1475.5 394.6L1476 394.4L1476.5 394.1L1477 393.8L1477.5 393.4L1478 393L1478.5 392.6L1479 392.2L1479.5 391.7L1480 391.2L1480.5 390.7L1481 390.2L1481.5 389.7L1482 389.1L1482.5 388.6L1483 388.1L1483.5 387.6L1484 387.1L1484.5 386.6L1485 386.2L1485.5 385.8L1486 385.4L1486.5 385L1487 384.7L1487.5 384.4L1488 384.2L1488.5 384L1489 383.9L1489.5 383.8L1490 383.7L1490.5 383.7L1491 383.8L1491.5 383.9L1492 384L1492.5 384.2L1493 384.4L1493.5 384.7L1494 385L1494.5 385.4L1495 385.7L1495.5 386.2L1496 386.6L1496.5 387L1497 387.5L1497.5 388L1498 388.5L1498.5 389L1499 389.5L1499.5 390L1500 390.5L1500.5 391L1501 391.5L1501.5 391.9L1502 392.4L1502.5 392.8L1503 393.1L1503.5 393.5L1504 393.8L1504.5 394L1505 394.3L1505.5 394.4L1506 394.6L1506.5 394.7L1507 394.7L1507.5 394.7L1508 394.7L1508.5 394.6L1509 394.4L1509.5 394.2L1510 394L1510.5 393.8L1511 393.4L1511.5 393.1L1512 392.7L1512.5 392.3L1513 391.9L1513.5 391.5L1514 391L1514.5 390.5L1515 390.1L1515.5 389.6L1516 389.1L1516.5 388.6L1517 388.1L1517.5 387.6L1518 387.2L1518.5 386.7L1519 386.3L1519.5 385.9L1520 385.6L1520.5 385.3L1521 385L1521.5 384.7L1522 384.5L1522.5 384.3L1523 384.2L1523.5 384.1L1524 384.1L1524.5 384.1L1525 384.1L1525.5 384.2L1526 384.4L1526.5 384.5L1527 384.8L1527.5 385L1528 385.3L1528.5 385.6L1529 386L1529.5 386.4L1530 386.8L1530.5 387.2L1531 387.7L1531.5 388.1L1532 388.6L1532.5 389.1L1533 389.6L1533.5 390L1534 390.5L1534.5 390.9L1535 391.4L1535.5 391.8L1536 392.2L1536.5 392.6L1537 392.9L1537.5 393.2L1538 393.5L1538.5 393.8L1539 394L1539.5 394.1L1540 394.3L1540.5 394.3L1541 394.4L1541.5 394.4L1542 394.3L1542.5 394.2L1543 394.1L1543.5 393.9L1544 393.7L1544.5 393.4L1545 393.2L1545.5 392.8L1546 392.5L1546.5 392.1L1547 391.7L1547.5 391.3L1548 390.9L1548.5 390.4L1549 390L1549.5 389.5L1550 389L1550.5 388.6L1551 388.1L1551.5 387.7L1552 387.2L1552.5 386.8L1553 386.4L1553.5 386.1L1554 385.8L1554.5 385.4L1555 385.2L1555.5 384.9L1556 384.7L1556.5 384.6L1557 384.5L1557.5 384.4L1558 384.4L1558.5 384.4L1559 384.4L1559.5 384.5L1560 384.6L1560.5 384.8L1561 385L1561.5 385.3L1562 385.6L1562.5 385.9L1563 386.2L1563.5 386.6L1564 387L1564.5 387.4L1565 387.8L1565.5 388.2L1566 388.7L1566.5 389.1L1567 389.6L1567.5 390L1568 390.5L1568.5 390.9L1569 391.3L1569.5 391.7L1570 392.1L1570.5 392.4L1571 392.7L1571.5 393L1572 393.3L1572.5 393.5L1573 393.7L1573.5 393.9L1574 394L1574.5 394.1L1575 394.1L1575.5 394.1L1576 394L1576.5 393.9L1577 393.8L1577.5 393.6L1578 393.4L1578.5 393.2L1579 392.9L1579.5 392.6L1580 392.3L1580.5 391.9L1581 391.5L1581.5 391.1L1582 390.7L1582.5 390.3L1583 389.9L1583.5 389.4L1584 389L1584.5 388.5L1585 388.1L1585.5 387.7L1586 387.3L1586.5 386.9L1587 386.5L1587.5 386.2L1588 385.9L1588.5 385.6L1589 385.4L1589.5 385.1L1590 384.9L1590.5 384.8L1591 384.7L1591.5 384.6L1592 384.6L1592.5 384.6L1593 384.7L1593.5 384.7L1594 384.9L1594.5 385L1595 385.2L1595.5 385.5L1596 385.8L1596.5 386.1L1597 386.4L1597.5 386.7L1598 387.1L1598.5 387.5L1599 387.9L1599.5 388.3L1600 388.7L1600.5 389.2L1601 389.6L1601.5 390L1602 390.4L1602.5 390.8L1603 391.2L1603.5 391.6L1604 392L1604.5 392.3L1605 392.6L1605.5 392.9L1606 393.1L1606.5 393.3L1607 393.5L1607.5 393.6L1608 393.8L1608.5 393.8L1609 393.8L1609.5 393.8L1610 393.8L1610.5 393.7L1611 393.6L1611.5 393.4L1612 393.2L1612.5 393L1613 392.7L1613.5 392.4L1614 392.1L1614.5 391.7L1615 391.4L1615.5 391L1616 390.6L1616.5 390.2L1617 389.8L1617.5 389.4L1618 388.9L1618.5 388.5L1619 388.1L1619.5 387.7L1620 387.3L1620.5 387L1621 386.6L1621.5 386.3L1622 386L1622.5 385.7L1623 385.5L1623.5 385.3L1624 385.1L1624.5 385L1625 384.9L1625.5 384.8L1626 384.8L1626.5 384.8L1627 384.9L1627.5 384.9L1628 385.1L1628.5 385.2L1629 385.4L1629.5 385.7L1630 385.9L1630.5 386.2L1631 386.5L1631.5 386.9L1632 387.2L1632.5 387.6L1633 388L1633.5 388.4L1634 388.8L1634.5 389.2L1635 389.6L1635.5 390L1636 390.4L1636.5 390.8L1637 391.2L1637.5 391.5L1638 391.9L1638.5 392.2L1639 392.5L1639.5 392.7L1640 393L1640.5 393.2L1641 393.3L1641.5 393.5L1642 393.6L1642.5 393.6L1643 393.6L1643.5 393.6L1644 393.6L1644.5 393.5L1645 393.4L1645.5 393.2L1646 393L1646.5 392.8L1647 392.5L1647.5 392.2L1648 391.9L1648.5 391.6L1649 391.2L1649.5 390.9L1650 390.5L1650.5 390.1L1651 389.7L1651.5 389.3L1652 388.9L1652.5 388.5L1653 388.1L1653.5 387.7L1654 387.4L1654.5 387L1655 386.7L1655.5 386.4L1656 386.1L1656.5 385.8L1657 385.6L1657.5 385.4L1658 385.3L1658.5 385.1L1659 385L1659.5 385L1660 385L1660.5 385L1661 385L1661.5 385.1L1662 385.2L1662.5 385.4L1663 385.6L1663.5 385.8L1664 386.1L1664.5 386.3L1665 386.6L1665.5 387L1666 387.3L1666.5 387.7L1667 388.1L1667.5 388.4L1668 388.8L1668.5 389.2L1669 389.6L1669.5 390L1670 390.4L1670.5 390.8L1671 391.1L1671.5 391.5L1672 391.8L1672.5 392.1L1673 392.4L1673.5 392.6L1674 392.8L1674.5 393L1675 393.2L1675.5 393.3L1676 393.4L1676.5 393.4L1677 393.5L1677.5 393.4L1678 393.4L1678.5 393.3L1679 393.2L1679.5 393L1680 392.8L1680.5 392.6L1681 392.4L1681.5 392.1L1682 391.8L1682.5 391.5L1683 391.1L1683.5 390.8L1684 390.4L1684.5 390L1685 389.6L1685.5 389.3L1686 388.9L1686.5 388.5L1687 388.1L1687.5 387.7L1688 387.4L1688.5 387L1689 386.7L1689.5 386.4L1690 386.2L1690.5 385.9L1691 385.7L1691.5 385.5L1692 385.4L1692.5 385.2L1693 385.2L1693.5 385.1L1694 385.1L1694.5 385.1L1695 385.2L1695.5 385.3L1696 385.4L1696.5 385.5L1697 385.7L1697.5 385.9L1698 386.2L1698.5 386.5L1699 386.8L1699.5 387.1L1700 387.4L1700.5 387.8L1701 388.1L1701.5 388.5L1702 388.9L1702.5 389.2L1703 389.6L1703.5 390L1704 390.4L1704.5 390.7L1705 391.1L1705.5 391.4L1706 391.7L1706.5 392L1707 392.3L1707.5 392.5L1708 392.7L1708.5 392.9L1709 393.1L1709.5 393.2L1710 393.3L1710.5 393.3L1711 393.3L1711.5 393.3L1712 393.2L1712.5 393.1L1713 393L1713.5 392.9L1714 392.7L1714.5 392.5L1715 392.2L1715.5 392L1716 391.7L1716.5 391.3L1717 391L1717.5 390.7L1718 390.3L1718.5 389.9L1719 389.6L1719.5 389.2L1720 388.8L1720.5 388.5L1721 388.1L1721.5 387.7L1722 387.4L1722.5 387.1L1723 386.8L1723.5 386.5L1724 386.2L1724.5 386L1725 385.8L1725.5 385.6L1726 385.5L1726.5 385.3L1727 385.3L1727.5 385.2L1728 385.2L1728.5 385.2L1729 385.3L1729.5 385.4L1730 385.5L1730.5 385.6L1731 385.8L1731.5 386L1732 386.3L1732.5 386.5L1733 386.8L1733.5 387.1L1734 387.5L1734.5 387.8L1735 388.2L1735.5 388.5L1736 388.9L1736.5 389.3L1737 389.6L1737.5 390L1738 390.4L1738.5 390.7L1739 391L1739.5 391.4L1740 391.7L1740.5 391.9L1741 392.2L1741.5 392.4L1742 392.6L1742.5 392.8L1743 392.9L1743.5 393.1L1744 393.1L1744.5 393.2L1745 393.2L1745.5 393.2L1746 393.1L1746.5 393L1747 392.9L1747.5 392.7L1748 392.6L1748.5 392.3L1749 392.1L1749.5 391.8L1750 391.6L1750.5 391.2L1751 390.9L1751.5 390.6L1752 390.2L1752.5 389.9L1753 389.5L1753.5 389.1L1754 388.8L1754.5 388.4L1755 388.1L1755.5 387.7L1756 387.4L1756.5 387.1L1757 386.8L1757.5 386.5L1758 386.3L1758.5 386L1759 385.8L1759.5 385.7L1760 385.5L1760.5 385.4L1761 385.3L1761.5 385.3L1762 385.3L1762.5 385.3L1763 385.4L1763.5 385.5L1764 385.6L1764.5 385.7L1765 385.9L1765.5 386.1L1766 386.4L1766.5 386.6L1767 386.9L1767.5 387.2L1768 387.5L1768.5 387.9L1769 388.2L1769.5 388.6L1770 388.9L1770.5 389.3L1771 389.6L1771.5 390L1772 390.4L1772.5 390.7L1773 391L1773.5 391.3L1774 391.6L1774.5 391.9L1775 392.1L1775.5 392.4L1776 392.6L1776.5 392.7L1777 392.9L1777.5 393L1778 393L1778.5 393.1L1779 393.1L1779.5 393.1L1780 393L1780.5 392.9L1781 392.8L1781.5 392.6L1782 392.4L1782.5 392.2L1783 392L1783.5 391.7L1784 391.5L1784.5 391.2L1785 390.8L1785.5 390.5L1786 390.2L1786.5 389.8L1787 389.5L1787.5 389.1L1788 388.7L1788.5 388.4L1789 388L1789.5 387.7L1790 387.4L1790.5 387.1L1791 386.8L1791.5 386.5L1792 386.3L1792.5 386.1L1793 385.9L1793 262Z" fill="rgb(65,190,245)" stroke="none" stroke-width="1" clip-path="url(#c1)" fill-opacity="0.14"/>
<rect x="247" y="1329.3" width="1546" height="2.7" fill="#383846" />
<rect x="159.5" y="255" width="3.5" height="1109" fill="#31313c" />
<path d="M247 1131.9L248 1132L249 1131.8L250 1132.2L251 1132.6L252 1132L253 1131.9L254 1132.3L255 1132.2L256 1132.1L257 1131.7L258 1132L259 1132.3L260 1131.5L261 1131.8L262 1131.3L263 1131.5L264 1131.3L265 1131.9L266 1131.5L267 1132L268 1132L269 1131.8L270 1131L271 1131.7L272 1131.8L273 1131.9L274 1131.3L275 1131.6L276 1131.5L277 1131.5L278 1132.1L279 1131.5L280 1131.7L281 1132L282 1131.5L283 1131.7L284 1131.7L285 1131.7L286 1131.2L287 1131.7L288 1132.1L289 1131.1L290 1131.9L291 1131.7L292 1131.4L293 1132.4L294 1132L295 1131.3L296 1131.8L297 1132L298 1131.8L299 1132.1L300 1131.9L301 1132.2L302 1132.5L303 1131.8L304 1132.1L305 1131.9L306 1132.1L307 1131.7L308 1131.9L309 1132.1L310 1132.5L311 1132.6L312 1131.8L313 1132L314 1132.5L315 1131.7L316 1132.2L317 1132.4L318 1132.9L319 1132.7L320 1132.4L321 1132.4L322 1132.5L323 1133.1L324 1132.5L325 1132.5L326 1132.8L327 1132.7L328 1132.7L329 1132.4L330 1132.8L331 1132.7L332 1133.2L333 1133.1L334 1132.8L335 1133.1L336 1132.7L337 1133.2L338 1132.9L339 1133.1L340 1132.4L341 1133L342 1132.3L343 1132.2L344 1132.8L345 1132.6L346 1133L347 1133.8L348 1132.7L349 1132.8L350 1133.1L351 1133.2L352 1133L353 1133L354 1133.3L355 1133.2L356 1132.7L357 1133L358 1133.1L359 1132.7L360 1133.2L361 1132.8L362 1133.5L363 1133.2L364 1133.2L365 1132.9L366 1133.1L367 1132.5L368 1132.8L369 1133.3L370 1132.5L371 1133.5L372 1132.5L373 1133.4L374 1132.8L375 1133.3L376 1133.1L377 1132.5L378 1133.4L379 1133.4L380 1132.9L381 1132.8L382 1132.8L383 1132.5L384 1133.2L385 1132.6L386 1132.7L387 1132.4L388 1132.5L389 1132.2L390 1133.1L391 1132.5L392 1132.8L393 1132.3L394 1131.8L395 1131.8L396 1131.5L397 1131.6L398 1131.3L399 1131.1L400 1130.6L401 1130.6L402 1131.3L403 1130.3L404 1130L405 1130.3L406 1130.6L407 1129.6L408 1129.9L409 1129.7L410 1129.3L411 1130.1L412 1129.7L413 1129.7L414 1129.3L415 1129.7L416 1129.3L417 1129.3L418 1128.9L419 1128.8L420 1129.7L421 1129L422 1129.2L423 1129.1L424 1128.9L425 1128.8L426 1129.1L427 1128.8L428 1128.8L429 1128.8L430 1129.2L431 1128.9L432 1129.5L433 1129.9L434 1130.3L435 1131.8L436 1132.5L437 1132.8L438 1133.4L439 1133.5L440 1133.6L441 1133.6L442 1133.2L443 1133.9L444 1133L445 1133.7L446 1133.6L447 1133.8L448 1134.2L449 1134.1L450 1133.2L451 1133L452 1133.9L453 1133.2L454 1133.6L455 1133.9L456 1133L457 1132.9L458 1133.7L459 1133.6L460 1133.5L461 1133.6L462 1133.3L463 1133.1L464 1133.5L465 1133.3L466 1133L467 1133.8L468 1133.6L469 1133.7L470 1133.3L470.5 1133.4L471.5 1139.5L472.5 1145.2L473.5 1150.4L474.5 1154.5L475.5 1159L476.5 1162.8L477.5 1166.8L478.5 1169L479.5 1172.7L480.5 1175.1L481.5 1177.8L482.5 1179.8L483.5 1182.4L484.5 1185.1L485.5 1187.1L486.5 1189.4L487.5 1191.4L488.5 1194L489.5 1195.6L490.5 1196.9L491.5 1199.2L492.5 1200.6L493.5 1201.8L494.5 1204.2L495.5 1206.3L496.5 1207.3L497.5 1208.4L498.5 1209.8L499.5 1211.7L500.5 1212.7L501.5 1213.9L502.5 1215.1L503.5 1216.3L504.5 1217.7L505.5 1218.7L506.5 1219.7L507.5 1220.4L508.5 1221.9L509.5 1222.5L510.5 1224.1L511.5 1224.3L512.5 1225.6L513.5 1226.6L514.5 1227.1L515.5 1228.9L516.5 1229.7L517.5 1230L518.5 1231.2L519.5 1232L520.5 1231.9L521.5 1233.6L522.5 1234.4L523.5 1235.3L524.5 1235.7L525.5 1236.8L526.5 1237.6L527.5 1238.8L528.5 1239.3L529.5 1240L530.5 1241.2L531.5 1241.3L532.5 1242.1L533.5 1242.4L534.5 1244.1L535.5 1244.6L536.5 1245.3L537.5 1245.9L538.5 1246.4L539.5 1247.1L540.5 1247.6L541.5 1248.3L542.5 1249L543.5 1250L544.5 1250.4L545.5 1250.8L546.5 1251.2L547.5 1251.8L548.5 1253.1L549.5 1253.3L550.5 1253.8L551.5 1254.2L552.5 1254.6L553.5 1255.4L554.5 1256.3L555.5 1256.5L556.5 1257.1L557.5 1257.6L558.5 1258.2L559.5 1258.3L560.5 1259.2L561.5 1259.6L562.5 1260.6L563.5 1260.6L564.5 1261.6L565.5 1262.4L566.5 1262.3L567.5 1262.8L568.5 1263.5L569.5 1263.9L570.5 1264.1L571.5 1265.1L572.5 1266L573.5 1265.8L574.5 1266.3L575.5 1266.6L576.5 1267.5L577.5 1267.5L578.5 1268L579.5 1269.2L580.5 1269L581.5 1270L582.5 1270.6L583.5 1270.7L584.5 1271.3L585.5 1272.2L586.5 1272L587.5 1272.3L588.5 1272.6L589.5 1273.4L590.5 1274.3L591.5 1274.6L592.5 1274.5L593.5 1275L594.5 1275.5L595.5 1276.2L596.5 1276.5L597.5 1277L598.5 1277.5L599.5 1277.7L600.5 1278.1L601.5 1278.6L602.5 1278.9L603.5 1279.4L604.5 1280.2L605.5 1280.1L606.5 1280.3L607.5 1280L608.5 1281L609.5 1280.6L610.5 1281L611.5 1282L612.5 1282.2L613.5 1282.2L614.5 1282L615.5 1282.6L616.5 1282.8L617.5 1283.4L618.5 1284.2L619.5 1283.8L620.5 1283.7L621.5 1283.8L622.5 1284.4L623.5 1284.6L624.5 1284.5L625.5 1285.1L626.5 1284.9L627.5 1285.8L628.5 1286L629.5 1286.2L630.5 1286L631.5 1286.5L632.5 1286.5L633.5 1286.6L634.5 1286.8L635.5 1286.7L636.5 1286.9L637.5 1287.7L638.5 1287.6L639.5 1287.9L640.5 1288.3L641.5 1287.7L642.5 1288.2L643.5 1288.6L644.5 1288.9L645.5 1288.8L646.5 1289.4L647.5 1289.3L648.5 1289L649.5 1289.3L650.5 1290L651.5 1290L652.5 1289.5L653.5 1290.6L654.5 1290.5L655.5 1290.9L656.5 1290.5L657.5 1290.7L657.8 1290.8L659.5 1292L661.5 1295L663.5 1296.6L672 1298.5L680 1300.2L685 1301.3L687.1 1296.2L689 1300L691.4 1302.8L693.6 1298.2L703 1298L704.5 1300.5L706 1303L715.7 1304.6L716 1304.2L717 1305.6L718 1304.7L719 1305.4L720 1304.7L721 1305.1L722 1304.6L723 1305.1L724 1305.7L725 1305L726 1305.9L727 1305.7L728 1305.3L729 1305.6L730 1305.7L731 1305.9L732 1305.8L733 1305.8L734 1306.1L735 1305.9L736 1305.9L737 1306.4L738 1306.9L739 1306.1L740 1306.7L741 1306.6L742 1306.6L743 1307.3L744 1306.9L745 1307.7L746 1307L747 1307.5L748 1307.3L749 1307.2L750 1307.8L751 1307.6L752 1307.9L753 1307.8L754 1307.5L755 1307.9L756 1308L757 1308.4L758 1307.8L759 1308.2L760 1307.7L761 1308.6L762 1308L763 1307.8L764 1308.5L765 1309L766 1308.1L767 1308.4L768 1308.5L769 1308.5L770 1309.1L771 1308.7L772 1308.8L773 1309.3L774 1308.9L775 1309.4L776 1309L777 1309L778 1308.8L779 1310.2L780 1309.5L781 1309.8L782 1309.7L783 1309.9L784 1309.9L785 1310.6L786 1309.6L787 1309.5L788 1309.8L789 1309.7L790 1310.5L791 1310.6L792 1310.1L793 1310L794 1310.4L795 1311.1L796 1309.7L797 1310.9L798 1310.4L799 1311.1L800 1310.4L801 1310.7L802 1310.3L803 1310.5L804 1311.3L805 1311.2L806 1310.8L807 1310.6L808 1310.3L809 1310.8L810 1311L811 1311L812 1311L813 1310.7L814 1311L815 1311.1L816 1311.6L817 1311.8L818 1311.1L819 1310.9L820 1311.2L821 1311L822 1311L823 1311.2L824 1310.9L825 1311.5L826 1311.3L827 1311.4L828 1311.3L829 1311.1L830 1311.1L831 1311.3L832 1311.2L833 1311.5L834 1311.5L835 1311L836 1311.5L837 1311.1L838 1311.3L839 1311.5L840 1310.9L841 1311.6L842 1311.7L843 1311.6L844 1311.5L845 1311.6L846 1311.4L847 1311.6L848 1311.5L849 1311.8L850 1311.4L851 1311.9L852 1311.9L853 1311.8L854 1311.7L855 1312.1L856 1311.3L857 1312.1L858 1312L859 1312L860 1312.1L861 1311.8L862 1311.9L863 1312.3L864 1312.4L865 1312.4L866 1311.9L867 1312.8L868 1313.1L869 1313.2L870 1313L871 1312.4L872 1313.1L873 1312.6L874 1311.6L875 1312.5L876 1311.7L877 1311.7L878 1311.8L879 1312.4L880 1311.8L881 1312L882 1312.5L883 1312.5L884 1311.8L885 1311.8L886 1311.4L887 1311.6L888 1312L889 1311.9L890 1311.8L891 1312.1L892 1311.5L893 1311.7L894 1311.9L895 1311.9L896 1312L897 1311.8L898 1311.5L899 1311.7L900 1311.2L901 1311L902 1311.7L903 1311.5L904 1311.6L905 1310.9L906 1311.3L907 1311.2L908 1311.1L909 1310.6L910 1311.3L911 1311.7L912 1311.5L913 1311.1L914 1311.3L915 1311.6L916 1310.3L917 1311.2L918 1311.4L919 1311.5L920 1311.8L921 1311.6L922 1311.3L923 1311.2L924 1311.4L925 1310.9L926 1311.1L927 1311.4L928 1311.7L929 1311L930 1311L931 1311L932 1311.4L933 1310.9L934 1311.4L935 1310.6L936 1310.8L937 1310.8L938 1311.1L939 1311.2L940 1310.3L941 1310.5L942 1310.9L943 1310.5L944 1310.2L945 1311.1L946 1310.9L947 1310.8L948 1310.5L949 1311L950 1310.5L951 1311L952 1310.2L953 1310.2L954 1310.6L955 1310.3L956 1310.7L957 1310.6L958 1310.1L959 1310.4L960 1310.3L961 1310.7L962 1310.1L963 1310.2L964 1310.7L965 1311.1L966 1311L967 1310.3L968 1310.3L969 1310.8L970 1310.2L971 1309.8L972 1310.2L973 1310.3L974 1309.8L975 1309.5L976 1309.6L977 1310.3L978 1309.8L979 1310L980 1310.1L981 1310.2L982 1309.8L983 1310.1L984 1309.6L985 1309.8L986 1309.5L987 1310.3L988 1309.8L989 1309.6L990 1309.7L991 1309.7L992 1310L993 1309.2L994 1309.4L995 1309.6L996 1310.6L997 1310L998 1309.6L999 1309.9L1000 1310.3L1001 1309.5L1002 1309.4L1003 1309.9L1004 1309.7L1005 1309.7L1006 1309.3L1007 1310.1L1008 1310L1009 1309.6L1010 1309.6L1011 1308.6L1012 1309.5L1013 1309.2L1014 1309.4L1015 1309.4L1016 1309.1L1017 1308.6L1018 1309.3L1019 1308.8L1020 1309L1021 1308.8L1022 1308.9L1023 1308.2L1024 1309.4L1025 1309L1026 1309.3L1027 1309.6L1028 1308.9L1029 1308.2L1030 1308.5L1031 1308.4L1032 1308.6L1033 1308.8L1034 1308L1035 1308.8L1036 1308.1L1037 1308.7L1038 1308.6L1039 1308.5L1040 1308.5L1041 1308.3L1042 1308.3L1043 1307.9L1044 1308.4L1045 1309.1L1046 1309.1L1047 1308.8L1048 1308.6L1049 1308.1L1049.8 1308.3L1052 1295L1054.3 1288.7L1058 1291L1063 1293.5L1067.7 1294.9L1067.7 1295.3L1068.7 1293.6L1069.7 1292.3L1070.7 1290.9L1071.7 1289.8L1072.7 1288.5L1073.7 1287.4L1074.7 1286.1L1075.7 1285.2L1076.7 1284.8L1077.7 1283.2L1078.7 1282.2L1079.7 1281.5L1080.7 1280.6L1081.7 1279.2L1082.7 1278.5L1083.7 1277.9L1084.7 1276.8L1085.7 1275.9L1086.7 1275.3L1087.7 1273.7L1088.7 1272.9L1089.7 1271.7L1090.7 1271.2L1091.7 1269.5L1092.7 1269L1093.7 1268.3L1094.7 1268L1095.7 1267.5L1096.7 1267.4L1097.7 1266.3L1098.7 1266.2L1099.7 1264.9L1100.7 1263.6L1101.7 1262.5L1102.7 1260.7L1103.7 1259L1104.7 1258.2L1105.7 1256.9L1106.7 1256.2L1107.7 1255.5L1108.7 1254.5L1109.7 1254L1110.7 1252.7L1111.7 1251.5L1112.7 1250.9L1113.7 1250L1114.7 1249.2L1115.7 1248.8L1116.7 1247.8L1117.7 1246.7L1118.7 1246.7L1119.7 1245.8L1120.7 1245.2L1121.7 1244.4L1122.7 1243.9L1123.7 1243.1L1124.7 1242.8L1125.7 1241.9L1126.7 1241.3L1127.7 1240.7L1128.7 1239.7L1129.7 1239.4L1130.7 1238.8L1131.7 1238.4L1132.7 1237.4L1133.7 1237.6L1134.7 1236.7L1135.7 1235.8L1136.7 1235.2L1137.7 1235L1138.7 1234.6L1139.7 1233.9L1140.7 1233.6L1141.7 1232.9L1142.7 1232.8L1143.7 1232L1144.7 1231.6L1145.7 1231.4L1146.7 1231.3L1147.7 1229.9L1148.7 1229.6L1149.7 1229L1150.7 1229L1151.7 1228L1152.7 1227.7L1153.7 1227.4L1154.7 1226.7L1155.7 1226.2L1156.7 1225.9L1157.7 1225.1L1158.7 1224.8L1159.7 1224.7L1160.7 1224.4L1161.7 1223.9L1162.7 1223.2L1163.7 1223.1L1164.7 1223L1165.7 1222.6L1166.7 1222.1L1167.7 1221.5L1168.7 1221.5L1169.7 1220.9L1170.7 1220.4L1171 1220L1172 1217.6L1173 1214.3L1174 1211.9L1175 1208.9L1176 1207L1177 1204.3L1178 1202.4L1179 1201.2L1180 1198.8L1181 1196.6L1182 1194.9L1183 1193.3L1184 1191.9L1185 1189.7L1186 1187.7L1187 1186.5L1188 1185.1L1189 1183.7L1190 1182.7L1191 1181.1L1192 1180L1193 1178.2L1194 1177.7L1195 1176.9L1196 1175.4L1197 1174.2L1198 1173.2L1199 1172.7L1200 1170.9L1201 1170.2L1202 1169.5L1203 1168.7L1204 1167.4L1205 1166.8L1206 1165.7L1207 1165L1208 1164.1L1209 1163L1210 1162.5L1211 1162L1212 1160.6L1213 1160.1L1214 1159.6L1215 1158.4L1216 1158.1L1217 1157L1218 1157.1L1219 1156.8L1220 1156.1L1221 1154.9L1222 1154.6L1223 1153.9L1224 1153.4L1225 1153.3L1226 1152L1227 1152.2L1228 1151.4L1229 1151.4L1230 1150.6L1231 1149.9L1232 1149.8L1233 1149.5L1234 1148.8L1235 1148.6L1236 1147.8L1237 1146.9L1238 1147.4L1239 1146.9L1240 1146.3L1241 1145.8L1242 1145.7L1243 1144.7L1244 1144.2L1245 1143.9L1246 1143.8L1247 1142.6L1248 1142.9L1249 1141.9L1250 1141.3L1251 1141.5L1252 1140.7L1253 1139.9L1254 1139.7L1255 1139.7L1256 1139.4L1257 1138.5L1258 1138.3L1259 1138L1260 1137.2L1261 1137.1L1262 1136.6L1263 1136L1264 1135.7L1265 1135.5L1266 1135.1L1267 1134.6L1268 1134.3L1269 1134.4L1270 1133.9L1271 1133.8L1272 1133.6L1273 1133.2L1274 1133.5L1275 1132.3L1276 1132.6L1277 1132L1278 1132.5L1279 1132.2L1280 1130.9L1281 1131L1282 1131.2L1283 1131L1284 1130.8L1285 1130.2L1286 1130.1L1287 1129.8L1288 1129.2L1289 1129.3L1290 1128L1291 1128.6L1292 1127.9L1293 1128.4L1294 1127.9L1295 1127.7L1296 1128L1297 1127.6L1298 1127.6L1299 1127.4L1300 1127.8L1301 1128L1302 1128.1L1303 1127.8L1304 1128.1L1305 1127.8L1306 1127.7L1307 1127.9L1308 1128.1L1309 1127.6L1310 1127.7L1311 1127.7L1312 1127.7L1313 1127.4L1314 1128L1315 1127.6L1316 1127.8L1317 1127.4L1318 1127.7L1319 1127.7L1320 1127.5L1321 1128.2L1322 1127.7L1323 1128.1L1324 1127.8L1325 1127.3L1326 1127.3L1327 1127.6L1328 1127.4L1329 1127.4L1330 1127.2L1331 1126.8L1332 1127.2L1333 1126.6L1334 1127.3L1335 1126.9L1336 1126.9L1337 1127L1338 1127.1L1339 1126.6L1340 1126.4L1341 1126.6L1342 1126.3L1343 1126.6L1344 1127.3L1345 1126.5L1346 1126.9L1347 1126.3L1348 1126.7L1349 1126.5L1350 1126.6L1351 1126.7L1352 1127L1353 1126.5L1354 1126.5L1355 1126.1L1356 1126.5L1357 1126.2L1358 1126.5L1359 1126.2L1360 1126.7L1361 1125.6L1362 1126L1363 1126.4L1364 1126L1365 1125.8L1366 1125.9L1367 1125.5L1368 1126L1369 1126.6L1370 1126.2L1371 1125.5L1372 1125.5L1373 1125.6L1374 1126L1375 1125.5L1376 1125.5L1377 1125.9L1378 1125.9L1379 1125.5L1380 1125.2L1381 1125L1382 1125.3L1383 1124.8L1384 1125.6L1385 1125.2L1386 1125.5L1387 1125.9L1388 1125.6L1389 1124.9L1390 1125.5L1391 1125.5L1392 1124.9L1393 1124.8L1394 1125L1395 1124.5L1396 1125.4L1397 1124.2L1398 1124.6L1399 1124.8L1400 1124.7L1401 1124.8L1402 1124.8L1403 1124.6L1404 1124.9L1405 1123.9L1406 1124.5L1407 1124.2L1408 1124.4L1409 1124.4L1410 1124L1411 1124L1412 1124.3L1413 1124.1L1414 1123.8L1415 1124.5L1416 1124.5L1417 1123.3L1418 1123.8L1419 1124.4L1420 1123.8L1421 1123.6L1422 1123.4L1423 1123.3L1424 1123.3L1425 1123.2L1426 1123.5L1427 1123.2L1428 1123.1L1429 1122.9L1430 1123.2L1431 1122.9L1432 1123.1L1433 1123.5L1434 1123.2L1435 1123.3L1436 1123.2L1437 1123.1L1438 1123L1439 1123L1440 1123.3L1441 1122.7L1442 1123.4L1443 1123L1444 1122.8L1445 1122.8L1446 1122.8L1447 1123L1448 1122.7L1449 1123.3L1450 1122.7L1451 1122.2L1452 1122.7L1453 1122.3L1454 1122.9L1455 1123.2L1456 1123.1L1457 1122.5L1458 1122.7L1459 1123.4L1460 1123L1461 1122.9L1462 1123.2L1463 1123.7L1464 1123.3L1465 1123L1466 1123.1L1467 1123.2L1468 1122.8L1469 1122.7L1470 1123.1L1471 1122.8L1472 1123.1L1473 1123.2L1474 1123.9L1475 1123L1476 1123.2L1477 1123.2L1478 1123.5L1479 1123.7L1480 1123.3L1481 1123.2L1482 1123L1483 1123.3L1484 1123.8L1485 1123.7L1486 1123.5L1487 1123.8L1488 1124L1489 1124.2L1490 1124L1491 1124.2L1492 1123.8L1493 1124.1L1494 1125L1495 1124L1496 1124.6L1497 1124.8L1498 1124.7L1499 1124.5L1500 1124.8L1501 1124.8L1502 1124.8L1503 1124.2L1504 1124.8L1505 1124.5L1506 1124.6L1507 1124.9L1508 1125L1509 1125.1L1510 1124.6L1511 1125.1L1512 1125.1L1513 1125.1L1514 1125.2L1515 1124.7L1516 1124.7L1517 1125L1518 1124.3L1519 1124.8L1520 1124.6L1521 1124.6L1522 1124.2L1523 1124.5L1524 1124.7L1525 1125L1526 1125L1527 1124.7L1528 1124.6L1529 1124.4L1530 1124.8L1531 1124.6L1532 1124.8L1533 1125.2L1534 1124.6L1535 1124.2L1536 1124.4L1537 1124.2L1538 1124.3L1539 1125L1540 1124.7L1541 1124.1L1542 1124.8L1543 1124.9L1544 1124.4L1545 1124.3L1546 1124.4L1547 1124.5L1548 1124.6L1549 1124.8L1550 1124.7L1551 1124.7L1552 1124.7L1553 1124.5L1554 1123.8L1555 1124.2L1556 1124.3L1557 1124.1L1558 1124.5L1559 1124.1L1560 1123.9L1561 1124.6L1562 1124.4L1563 1124.3L1564 1124.6L1565 1124.7L1566 1124.6L1567 1123.8L1568 1124.4L1569 1124.6L1570 1124.5L1571 1124.9L1572 1125.3L1573 1124.9L1574 1124.8L1575 1125.8L1576 1125.1L1577 1125L1578 1125.4L1579 1125.5L1580 1125.2L1581 1125.6L1582 1125.2L1583 1125.1L1584 1125.4L1585 1125.5L1586 1125.1L1587 1125.3L1588 1125.2L1589 1126L1590 1124.9L1591 1125.5L1592 1125L1593 1124.9L1594 1125.1L1595 1125.2L1596 1125.2L1597 1124.9L1598 1124.6L1599 1124.6L1600 1125L1601 1125L1602 1125.2L1603 1124.9L1604 1125.1L1605 1125.3L1606 1124.9L1607 1124.4L1608 1124.5L1609 1124.4L1610 1125.3L1611 1124.6L1612 1125.2L1613 1125L1614 1125.4L1615 1125.2L1616 1124.9L1617 1124.9L1618 1124.9L1619 1125L1620 1124.8L1621 1125L1622 1125.5L1623 1124.5L1624 1125.1L1625 1124.8L1626 1125.3L1627 1125.6L1628 1125.4L1629 1125.8L1630 1125.3L1631 1126.3L1632 1125.9L1633 1126.5L1634 1126.5L1635 1125.8L1636 1126.5L1637 1126.9L1638 1127.4L1639 1127.1L1640 1127.1L1641 1126.6L1642 1127.4L1643 1127.5L1644 1127L1645 1126.9L1646 1126.5L1647 1127.2L1648 1127.7L1649 1127.1L1650 1127.3L1651 1127L1652 1126.5L1653 1127.2L1654 1126.4L1655 1126.7L1656 1126.8L1657 1127L1658 1126.8L1659 1126.7L1660 1126.4L1661 1126.2L1662 1126.6L1663 1126.3L1664 1126.1L1665 1126.1L1666 1126.3L1667 1125.8L1668 1126L1669 1125.9L1670 1126.4L1671 1126.4L1672 1126.9L1673 1125.8L1674 1126L1675 1126.5L1676 1126.2L1677 1126.1L1678 1126.7L1679 1126.1L1680 1125.9L1681 1125.8L1682 1126.3L1683 1126.4L1684 1125.9L1685 1126.1L1686 1126.6L1687 1126.7L1688 1126.4L1689 1126.9L1690 1127L1691 1126.4L1692 1126.9L1693 1127.2L1694 1127L1695 1126.6L1696 1127.3L1697 1127.7L1698 1128L1699 1126.9L1700 1128.4L1701 1127.3L1702 1128L1703 1128.1L1704 1128L1705 1127.8L1706 1127.4L1707 1128L1708 1127.6L1709 1127.1L1710 1128.7L1711 1128.1L1712 1128.5L1713 1127.7L1714 1128.4L1715 1128.5L1716 1128.5L1717 1128L1718 1127.7L1719 1128L1720 1127.4L1721 1127.6L1722 1128.1L1723 1127.8L1724 1128.1L1725 1128.1L1726 1128.7L1727 1128.5L1728 1128.2L1729 1128.6L1730 1128L1731 1128.1L1732 1128.5L1733 1127.9L1734 1128.2L1735 1127.9L1736 1128.3L1737 1128.8L1738 1128.1L1739 1128.4L1740 1128.1L1741 1128.1L1742 1128.1L1743 1128.9L1744 1129.2L1745 1128.7L1746 1128.3L1747 1128.8L1748 1128.5L1749 1128.9L1750 1128.8L1751 1128.8L1752 1128.9L1753 1128.6L1754 1128.8L1755 1128.4L1756 1128.9L1757 1128.7L1758 1129.2L1759 1129L1760 1129.4L1761 1129.6L1762 1129.2L1763 1129.5L1764 1129.5L1765 1130.1L1766 1130.5L1767 1130.4L1768 1130.1L1769 1130.7L1770 1129.9L1771 1130.9L1772 1130.4L1773 1129.9L1774 1131.6L1775 1131.4L1776 1130.8L1777 1131.3L1778 1131.2L1779 1131.4L1780 1131L1781 1131.3L1782 1131.7L1783 1131.7L1784 1132L1785 1131.6L1786 1132.3L1787 1131.3L1788 1131.5L1789 1130.8L1790 1130.9L1791 1131.6L1792 1130.8L1793 1131.2" fill="none" stroke="#ee8a3e" stroke-width="2.1" clip-path="url(#c1)" stroke-linejoin="round"/>
<path d="M247 564.7L248 564.7L249 564.7L250 564.7L251 564.7L252 564.7L253 564.7L254 564.7L255 564.8L256 564.8L257 564.8L258 564.8L259 564.8L260 564.8L261 564.8L262 564.8L263 564.8L264 564.8L265 564.8L266 564.8L267 564.9L268 564.9L269 564.9L270 564.9L271 564.9L272 564.9L273 564.9L274 564.9L275 564.9L276 564.9L277 564.9L278 565L279 565L280 565L281 565L282 565L283 565L284 565L285 565L286 565L287 565.1L288 565.1L289 565.1L290 565.1L291 565.1L292 565.1L293 565.1L294 565.1L295 565.1L296 565.2L297 565.2L298 565.2L299 565.2L300 565.2L301 565.2L302 565.2L303 565.2L304 565.3L305 565.3L306 565.3L307 565.3L308 565.3L309 565.3L310 565.3L311 565.3L312 565.4L313 565.4L314 565.4L315 565.4L316 565.4L317 565.4L318 565.5L319 565.5L320 565.5L321 565.5L322 565.5L323 565.5L324 565.6L325 565.6L326 565.6L327 565.6L328 565.6L329 565.6L330 565.7L331 565.7L332 565.7L333 565.7L334 565.7L335 565.7L336 565.8L337 565.8L338 565.8L339 565.8L340 565.8L341 565.9L342 565.9L343 565.9L344 565.9L345 565.9L346 565.9L347 566L348 566L349 566L350 566L351 566L352 566L353 566L354 566.1L355 566.1L356 566.1L357 566.1L358 566.1L359 566.2L360 566.2L361 566.2L362 566.2L363 566.2L364 566.2L365 566.3L366 566.3L367 566.3L368 566.3L369 566.3L370 566.4L371 566.4L372 566.4L373 566.4L374 566.4L375 566.5L376 566.5L377 566.5L378 566.5L379 566.5L380 566.5L381 566.6L382 566.6L383 566.6L384 566.6L385 566.6L386 566.6L387 566.7L388 566.7L389 566.7L390 566.7L391 566.7L392 566.7L393 566.7L394 566.7L395 566.8L396 566.8L397 566.8L398 566.8L399 566.8L400 566.8L401 566.8L402 566.8L403 566.8L404 566.8L405 566.8L406 566.8L407 566.9L408 566.9L409 566.9L410 566.9L411 566.9L412 566.9L413 566.9L414 566.9L415 566.9L416 566.9L417 566.9L418 566.9L419 566.9L420 566.9L421 566.9L422 566.9L423 567L424 567L425 567L426 567L427 567L428 567L429 567L430 567L431 567L432 567L433 567L434 567L435 567L436 567L437 567L438 567L439 567L440 567L441 567L442 567L443 567L444 566.9L445 566.9L446 566.8L447 566.8L448 566.7L449 566.6L450 566.6L451 566.5L452 566.4L453 566.4L454 566.3L455 566.3L456 566.3L457 566.2L458 566.2L459 566.2L460 566.2L461 566.2L462 566.1L463 566.1L464 566.1L465 566.1L466 566L467 565.9L468 565.6L469 565.3L470 565L470.5 564.8L471.5 581.6L472.5 598.3L473.5 614.9L474.5 631.6L475.5 648.8L476.5 667.5L477.5 685.5L478.5 700L479.5 711L480.5 720.7L481.5 729.2L482.5 737L483.5 744.4L484.5 751.6L485.5 758.4L486.5 764.9L487.5 771L488.5 776.9L489.5 782.6L490.5 788.2L491.5 793.8L492.5 799.1L493.5 804.4L494.5 809.6L495.5 814.6L496.5 819.5L497.5 824.3L498.5 829.1L499.5 833.7L500.5 838.3L501.5 842.8L502.5 847.3L503.5 851.7L504.5 856L505.5 860.3L506.5 864.5L507.5 868.6L508.5 872.6L509.5 876.4L510.5 880.2L511.5 883.8L512.5 887.3L513.5 890.8L514.5 894.1L515.5 897.4L516.5 900.6L517.5 903.7L518.5 906.8L519.5 909.8L520.5 912.8L521.5 915.7L522.5 918.6L523.5 921.4L524.5 924.2L525.5 926.9L526.5 929.5L527.5 932.1L528.5 934.7L529.5 937.2L530.5 939.7L531.5 942.2L532.5 944.7L533.5 947.1L534.5 949.5L535.5 951.9L536.5 954.2L537.5 956.6L538.5 958.9L539.5 961.3L540.5 963.6L541.5 965.9L542.5 968.2L543.5 970.5L544.5 972.7L545.5 975L546.5 977.2L547.5 979.4L548.5 981.6L549.5 983.7L550.5 985.8L551.5 987.9L552.5 990L553.5 992L554.5 994L555.5 996L556.5 997.9L557.5 999.9L558.5 1001.8L559.5 1003.7L560.5 1005.5L561.5 1007.4L562.5 1009.2L563.5 1011L564.5 1012.8L565.5 1014.6L566.5 1016.4L567.5 1018.1L568.5 1019.8L569.5 1021.6L570.5 1023.3L571.5 1025L572.5 1026.7L573.5 1028.3L574.5 1030L575.5 1031.7L576.5 1033.3L577.5 1034.9L578.5 1036.6L579.5 1038.2L580.5 1039.8L581.5 1041.3L582.5 1042.9L583.5 1044.5L584.5 1046L585.5 1047.5L586.5 1049L587.5 1050.4L588.5 1051.9L589.5 1053.3L590.5 1054.7L591.5 1056.1L592.5 1057.5L593.5 1058.8L594.5 1060.2L595.5 1061.5L596.5 1062.8L597.5 1064.1L598.5 1065.4L599.5 1066.7L600.5 1068L601.5 1069.2L602.5 1070.5L603.5 1071.7L604.5 1072.9L605.5 1074L606.5 1075.2L607.5 1076.3L608.5 1077.4L609.5 1078.5L610.5 1079.6L611.5 1080.6L612.5 1081.7L613.5 1082.7L614.5 1083.7L615.5 1084.7L616.5 1085.7L617.5 1086.7L618.5 1087.6L619.5 1088.6L620.5 1089.5L621.5 1090.4L622.5 1091.3L623.5 1092.1L624.5 1093L625.5 1093.8L626.5 1094.6L627.5 1095.4L628.5 1096.2L629.5 1096.9L630.5 1097.6L631.5 1098.3L632.5 1099L633.5 1099.7L634.5 1100.4L635.5 1101L636.5 1101.7L637.5 1102.3L638.5 1103L639.5 1103.6L640.5 1104.2L641.5 1104.8L642.5 1105.5L643.5 1106.1L644.5 1106.7L645.5 1107.3L646.5 1108L647.5 1108.6L648.5 1109.2L649.5 1109.9L650.5 1110.5L651.5 1111.1L652.5 1111.7L653.5 1112.4L654.5 1113L655.5 1113.6L656.5 1114.2L657.5 1114.8L658.5 1115.4L659.5 1116L660.5 1116.6L661.5 1117.2L662.5 1117.8L663.5 1118.4L664.5 1119L665.5 1119.5L666.5 1120.1L667.5 1120.6L668.5 1121.2L669.5 1121.7L670.5 1122.3L671.5 1122.8L672.5 1123.3L673.5 1123.9L674.5 1124.4L675.5 1124.9L676.5 1125.5L677.5 1126L678.5 1126.5L679.5 1127L680.5 1127.5L681.5 1128L682.5 1128.5L683.5 1129L684.5 1129.5L685.5 1130L686.5 1130.5L687.5 1131L688.5 1131.4L689.5 1131.9L690.5 1132.3L691.5 1132.8L692.5 1133.2L693.5 1133.6L694.5 1134L695.5 1134.4L696.5 1134.8L697.5 1135.2L698.5 1135.5L699.5 1135.9L700.5 1136.2L701.5 1136.6L702.5 1136.9L703.5 1137.3L704.5 1137.6L705.5 1138L706.5 1138.3L707.5 1138.6L708.5 1138.9L709.5 1139.2L710.5 1139.6L711.5 1139.9L712.5 1140.2L713.5 1140.4L714.5 1140.7L715.5 1141L716.5 1141.3L717.5 1141.6L718.5 1141.8L719.5 1142.1L720.5 1142.4L721.5 1142.6L722.5 1142.9L723.5 1143.1L724.5 1143.4L725.5 1143.6L726.5 1143.9L727.5 1144.1L728.5 1144.3L729.5 1144.5L730.5 1144.8L731.5 1145L732.5 1145.2L733.5 1145.4L734.5 1145.6L735.5 1145.8L736.5 1146L737.5 1146.2L738.5 1146.4L739.5 1146.6L740.5 1146.8L741.5 1147L742.5 1147.2L743.5 1147.4L744.5 1147.6L745.5 1147.7L746.5 1147.9L747.5 1148.1L748.5 1148.3L749.5 1148.5L750.5 1148.6L751.5 1148.8L752.5 1149L753.5 1149.1L754.5 1149.3L755.5 1149.5L756.5 1149.7L757.5 1149.8L758.5 1150L759.5 1150.1L760.5 1150.3L761.5 1150.5L762.5 1150.6L763.5 1150.8L764.5 1150.9L765.5 1151.1L766.5 1151.2L767.5 1151.4L768.5 1151.6L769.5 1151.7L770.5 1151.9L771.5 1152L772.5 1152.1L773.5 1152.3L774.5 1152.4L775.5 1152.6L776.5 1152.7L777.5 1152.9L778.5 1153L779.5 1153.1L780.5 1153.3L781.5 1153.4L782.5 1153.5L783.5 1153.7L784.5 1153.8L785.5 1153.9L786.5 1154.1L787.5 1154.2L788.5 1154.3L789.5 1154.4L790.5 1154.6L791.5 1154.7L792.5 1154.8L793.5 1154.9L794.5 1155L795.5 1155.2L796.5 1155.3L797.5 1155.4L798.5 1155.5L799.5 1155.6L800.5 1155.8L801.5 1155.9L802.5 1156L803.5 1156.1L804.5 1156.2L805.5 1156.3L806.5 1156.4L807.5 1156.6L808.5 1156.7L809.5 1156.8L810.5 1156.9L811.5 1157L812.5 1157.1L813.5 1157.2L814.5 1157.3L815.5 1157.4L816.5 1157.5L817.5 1157.6L818.5 1157.7L819.5 1157.8L820.5 1157.9L821.5 1158L822.5 1158.1L823.5 1158.1L824.5 1158.2L825.5 1158.3L826.5 1158.4L827.5 1158.5L828.5 1158.6L829.5 1158.6L830.5 1158.7L831.5 1158.8L832.5 1158.9L833.5 1158.9L834.5 1159L835.5 1159.1L836.5 1159.1L837.5 1159.2L838.5 1159.3L839.5 1159.4L840.5 1159.4L841.5 1159.5L842.5 1159.6L843.5 1159.6L844.5 1159.7L845.5 1159.8L846.5 1159.8L847.5 1159.9L848.5 1159.9L849.5 1160L850.5 1160.1L851.5 1160.1L852.5 1160.2L853.5 1160.2L854.5 1160.3L855.5 1160.3L856.5 1160.4L857.5 1160.4L858.5 1160.5L859.5 1160.5L860.5 1160.6L861.5 1160.6L862.5 1160.7L863.5 1160.7L864.5 1160.8L865.5 1160.8L866.5 1160.9L867.5 1160.9L868.5 1161L869.5 1161L870.5 1161L871.5 1161.1L872.5 1161.1L873.5 1161.2L874.5 1161.2L875.5 1161.3L876.5 1161.3L877.5 1161.4L878.5 1161.4L879.5 1161.5L880.5 1161.5L881.5 1161.5L882.5 1161.6L883.5 1161.6L884.5 1161.7L885.5 1161.7L886.5 1161.7L887.5 1161.8L888.5 1161.8L889.5 1161.8L890.5 1161.9L891.5 1161.9L892.5 1161.9L893.5 1161.9L894.5 1161.9L895.5 1162L896.5 1162L897.5 1162L898.5 1162L899.5 1162L900.5 1162L901.5 1162L902.5 1162L903.5 1162L904.5 1162L905.5 1162L906.5 1162L907.5 1162L908.5 1162L909.5 1162L910.5 1162L911.5 1162L912.5 1162L913.5 1162L914.5 1162L915.5 1162L916.5 1162L917.5 1162L918.5 1162L919.5 1162L920.5 1162L921.5 1162L922.5 1162L923.5 1162L924.5 1162L925.5 1162L926.5 1162L927.5 1162L928.5 1162L929.5 1162L930.5 1162L931.5 1162L932.5 1162L933.5 1162L934.5 1162L935.5 1162L936.5 1162L937.5 1162L938.5 1162L939.5 1162L940.5 1162L941.5 1162L942.5 1162L943.5 1162L944.5 1162L945.5 1162L946.5 1162L947.5 1162L948.5 1162L949.5 1162L950.5 1162L951.5 1162L952.5 1162L953.5 1162L954.5 1162L955.5 1162L956.5 1162L957.5 1162L958.5 1162L959.5 1162L960.5 1162L961.5 1161.9L962.5 1161.9L963.5 1161.9L964.5 1161.9L965.5 1161.9L966.5 1161.9L967.5 1161.9L968.5 1161.9L969.5 1161.9L970.5 1161.8L971.5 1161.8L972.5 1161.8L973.5 1161.8L974.5 1161.8L975.5 1161.8L976.5 1161.8L977.5 1161.7L978.5 1161.7L979.5 1161.7L980.5 1161.7L981.5 1161.7L982.5 1161.7L983.5 1161.6L984.5 1161.6L985.5 1161.6L986.5 1161.6L987.5 1161.6L988.5 1161.6L989.5 1161.6L990.5 1161.5L991.5 1161.5L992.5 1161.5L993.5 1161.5L994.5 1161.5L995.5 1161.5L996.5 1161.4L997.5 1161.4L998.5 1161.4L999.5 1161.4L1000.5 1161.4L1001.5 1161.4L1002.5 1161.4L1003.5 1161.4L1004.5 1161.3L1005.5 1161.3L1006.5 1161.3L1007.5 1161.3L1008.5 1161.3L1009.5 1161.3L1010.5 1161.3L1011.5 1161.2L1012.5 1161.2L1013.5 1161.2L1014.5 1161.2L1015.5 1161.2L1016.5 1161.2L1017.5 1161.2L1018.5 1161.1L1019.5 1161.1L1020.5 1161.1L1021.5 1161.1L1022.5 1161.1L1023.5 1161.1L1024.5 1161.1L1025.5 1161.1L1026.5 1161L1027.5 1161L1028.5 1161L1029.5 1161L1030.5 1161L1031.5 1161L1032.5 1160.9L1033.5 1160.9L1034.5 1160.9L1035.5 1160.9L1036.5 1160.9L1037.5 1160.9L1038.5 1160.9L1039.5 1160.8L1040.5 1160.8L1041.5 1160.8L1042.5 1160.8L1043.5 1160.8L1044.5 1160.8L1045.5 1160.8L1046.5 1160.7L1047.5 1160.7L1048.5 1160.7L1049.3 1160.7L1051 1120L1053 1091L1055 1099L1058 1108L1062 1117L1067 1123.5L1067 1123.5L1068 1116.8L1069 1110.5L1070 1105L1071 1100.1L1072 1095.5L1073 1091.2L1074 1087.3L1075 1083.7L1076 1080.4L1077 1077.4L1078 1074.5L1079 1071.9L1080 1069.3L1081 1066.9L1082 1064.6L1083 1062.3L1084 1060L1085 1057.7L1086 1055.5L1087 1053.3L1088 1051.2L1089 1049.1L1090 1047L1091 1045L1092 1043.1L1093 1041.2L1094 1039.4L1095 1037.6L1095.6 1036.6L1096.6 1028.9L1097.6 1022.2L1098.6 1017.1L1099.6 1013L1100.6 1009.3L1101.6 1006L1102.6 1002.7L1103.6 999.3L1104.6 996L1105.6 992.8L1106.6 989.6L1107.6 986.5L1108.6 983.6L1109.6 980.8L1110.6 978L1111.6 975.5L1112.6 973L1113.6 970.5L1114.6 968.1L1115.6 965.9L1116.6 963.6L1117.6 961.5L1118.6 959.4L1119.6 957.4L1120.6 955.5L1121.6 953.6L1122.6 951.8L1123.6 950.1L1124.6 948.4L1125.6 946.7L1126.6 945.2L1127.6 943.6L1128.6 942.1L1129.6 940.6L1130.6 939.1L1131.6 937.6L1132.6 936.1L1133.6 934.6L1134.6 933.2L1135.6 931.7L1136.6 930.3L1137.6 928.9L1138.6 927.5L1139.6 926.2L1140.6 924.9L1141.6 923.6L1142.6 922.4L1143.6 921.2L1144.6 920L1145.6 918.8L1146.6 917.7L1147.6 916.6L1148.6 915.6L1149.6 914.5L1150.6 913.5L1151.6 912.4L1152.6 911.4L1153.6 910.4L1154.6 909.4L1155.6 908.4L1156.6 907.4L1157.6 906.4L1158.6 905.4L1159.6 904.4L1160.6 903.5L1161.6 902.5L1162.6 901.5L1163.6 900.6L1164.6 899.6L1165.6 898.7L1166.6 897.8L1167.6 896.9L1168.6 896L1169.6 895.1L1170 894.7L1171 873.2L1172 859.8L1173 850L1174 841.3L1175 833.4L1176 826.4L1177 820L1178 814.3L1179 809.1L1180 804.2L1181 799.6L1182 795.1L1183 790.5L1184 785.9L1185 781.4L1186 776.9L1187 772.5L1188 768.2L1189 764L1190 760L1191 756.1L1192 752.2L1193 748.4L1194 744.7L1195 741.1L1196 737.6L1197 734.4L1198 731.3L1199 728.3L1200 725.5L1201 722.7L1202 720.1L1203 717.5L1204 714.9L1205 712.4L1206 710L1207 707.5L1208 705L1209 702.5L1210 700L1211 697.4L1212 694.9L1213 692.4L1214 689.9L1215 687.4L1216 684.9L1217 682.4L1218 679.9L1219 677.5L1220 675L1221 672.5L1222 670.1L1223 667.6L1224 665.2L1225 662.7L1226 660.3L1227 657.9L1228 655.6L1229 653.3L1230 651L1231 648.8L1232 646.6L1233 644.4L1234 642.3L1235 640.2L1236 638.1L1237 636L1238 634L1239 632L1240 630L1241 628L1242 626L1243 624.1L1244 622.1L1245 620.2L1246 618.3L1247 616.4L1248 614.6L1249 612.8L1250 611L1251 609.3L1252 607.6L1253 606L1254 604.4L1255 602.8L1256 601.2L1257 599.7L1258 598.2L1259 596.7L1260 595.2L1261 593.8L1262 592.4L1263 591.1L1264 589.8L1265 588.5L1266 587.3L1267 586L1268 584.8L1269 583.6L1270 582.4L1271 581.3L1272 580.2L1273 579.1L1274 578.1L1275 577.1L1276 576.1L1277 575.2L1278 574.4L1279 573.5L1280 572.7L1281 572L1282 571.2L1283 570.5L1284 569.9L1285 569.3L1286 568.8L1287 568.3L1288 567.9L1289 567.5L1290 567.1L1291 566.7L1292 566.4L1293 566.1L1294 565.9L1294.5 565.7L1295 565.5L1295.5 565.3L1296 565.1L1296.5 565L1297 564.8L1297.5 564.6L1298 564.4L1298.5 564.2L1299 564L1299.5 563.8L1300 563.6L1300.5 563.5L1301 563.3L1301.5 563.1L1302 563.1L1302.5 563.2L1303 563.2L1303.5 563.3L1304 563.4L1304.5 563.5L1305 563.7L1305.5 563.8L1306 563.9L1306.5 564.1L1307 564.2L1307.5 564.4L1308 564.5L1308.5 564.7L1309 564.8L1309.5 565L1310 565.1L1310.5 565.2L1311 565.4L1311.5 565.5L1312 565.6L1312.5 565.7L1313 565.8L1313.5 565.9L1314 566L1314.5 566L1315 566.1L1315.5 566.1L1316 566.2L1316.5 566.2L1317 566.2L1317.5 566.2L1318 566.1L1318.5 566.1L1319 566L1319.5 566L1320 565.9L1320.5 565.8L1321 565.7L1321.5 565.6L1322 565.5L1322.5 565.4L1323 565.2L1323.5 565.1L1324 565L1324.5 564.8L1325 564.7L1325.5 564.5L1326 564.4L1326.5 564.3L1327 564.1L1327.5 564L1328 563.9L1328.5 563.7L1329 563.6L1329.5 563.5L1330 563.4L1330.5 563.4L1331 563.3L1331.5 563.2L1332 563.2L1332.5 563.1L1333 563.1L1333.5 563.1L1334 563.1L1334.5 563.1L1335 563.2L1335.5 563.2L1336 563.3L1336.5 563.3L1337 563.4L1337.5 563.5L1338 563.6L1338.5 563.7L1339 563.8L1339.5 563.9L1340 564L1340.5 564.1L1341 564.3L1341.5 564.4L1342 564.5L1342.5 564.7L1343 564.8L1343.5 564.9L1344 565.1L1344.5 565.2L1345 565.3L1345.5 565.4L1346 565.5L1346.5 565.6L1347 565.7L1347.5 565.8L1348 565.8L1348.5 565.9L1349 565.9L1349.5 566L1350 566L1350.5 566L1351 566L1351.5 566L1352 566L1352.5 565.9L1353 565.9L1353.5 565.8L1354 565.7L1354.5 565.7L1355 565.6L1355.5 565.5L1356 565.4L1356.5 565.3L1357 565.1L1357.5 565L1358 564.9L1358.5 564.8L1359 564.7L1359.5 564.5L1360 564.4L1360.5 564.3L1361 564.2L1361.5 564L1362 563.9L1362.5 563.8L1363 563.7L1363.5 563.6L1364 563.6L1364.5 563.5L1365 563.4L1365.5 563.4L1366 563.3L1366.5 563.3L1367 563.3L1367.5 563.3L1368 563.3L1368.5 563.3L1369 563.3L1369.5 563.4L1370 563.4L1370.5 563.5L1371 563.5L1371.5 563.6L1372 563.7L1372.5 563.8L1373 563.9L1373.5 564L1374 564.1L1374.5 564.2L1375 564.3L1375.5 564.4L1376 564.6L1376.5 564.7L1377 564.8L1377.5 564.9L1378 565L1378.5 565.1L1379 565.2L1379.5 565.3L1380 565.4L1380.5 565.5L1381 565.6L1381.5 565.7L1382 565.7L1382.5 565.8L1383 565.8L1383.5 565.8L1384 565.9L1384.5 565.9L1385 565.9L1385.5 565.8L1386 565.8L1386.5 565.8L1387 565.7L1387.5 565.7L1388 565.6L1388.5 565.5L1389 565.5L1389.5 565.4L1390 565.3L1390.5 565.2L1391 565.1L1391.5 565L1392 564.9L1392.5 564.7L1393 564.6L1393.5 564.5L1394 564.4L1394.5 564.3L1395 564.2L1395.5 564.1L1396 564L1396.5 563.9L1397 563.8L1397.5 563.7L1398 563.7L1398.5 563.6L1399 563.5L1399.5 563.5L1400 563.4L1400.5 563.4L1401 563.4L1401.5 563.4L1402 563.4L1402.5 563.4L1403 563.4L1403.5 563.5L1404 563.5L1404.5 563.6L1405 563.6L1405.5 563.7L1406 563.8L1406.5 563.9L1407 564L1407.5 564L1408 564.1L1408.5 564.3L1409 564.4L1409.5 564.5L1410 564.6L1410.5 564.7L1411 564.8L1411.5 564.9L1412 565L1412.5 565.1L1413 565.2L1413.5 565.3L1414 565.4L1414.5 565.4L1415 565.5L1415.5 565.6L1416 565.6L1416.5 565.7L1417 565.7L1417.5 565.7L1418 565.7L1418.5 565.7L1419 565.7L1419.5 565.7L1420 565.7L1420.5 565.7L1421 565.6L1421.5 565.6L1422 565.5L1422.5 565.5L1423 565.4L1423.5 565.3L1424 565.2L1424.5 565.1L1425 565L1425.5 564.9L1426 564.8L1426.5 564.7L1427 564.6L1427.5 564.5L1428 564.4L1428.5 564.3L1429 564.2L1429.5 564.1L1430 564L1430.5 563.9L1431 563.9L1431.5 563.8L1432 563.7L1432.5 563.7L1433 563.6L1433.5 563.6L1434 563.6L1434.5 563.5L1435 563.5L1435.5 563.5L1436 563.5L1436.5 563.5L1437 563.5L1437.5 563.6L1438 563.6L1438.5 563.7L1439 563.7L1439.5 563.8L1440 563.9L1440.5 563.9L1441 564L1441.5 564.1L1442 564.2L1442.5 564.3L1443 564.4L1443.5 564.5L1444 564.6L1444.5 564.7L1445 564.8L1445.5 564.9L1446 565L1446.5 565.1L1447 565.1L1447.5 565.2L1448 565.3L1448.5 565.4L1449 565.4L1449.5 565.5L1450 565.5L1450.5 565.6L1451 565.6L1451.5 565.6L1452 565.6L1452.5 565.6L1453 565.6L1453.5 565.6L1454 565.6L1454.5 565.6L1455 565.5L1455.5 565.5L1456 565.4L1456.5 565.4L1457 565.3L1457.5 565.2L1458 565.2L1458.5 565.1L1459 565L1459.5 564.9L1460 564.8L1460.5 564.7L1461 564.6L1461.5 564.5L1462 564.4L1462.5 564.3L1463 564.2L1463.5 564.2L1464 564.1L1464.5 564L1465 563.9L1465.5 563.9L1466 563.8L1466.5 563.7L1467 563.7L1467.5 563.7L1468 563.6L1468.5 563.6L1469 563.6L1469.5 563.6L1470 563.6L1470.5 563.6L1471 563.6L1471.5 563.7L1472 563.7L1472.5 563.8L1473 563.8L1473.5 563.9L1474 563.9L1474.5 564L1475 564.1L1475.5 564.2L1476 564.2L1476.5 564.3L1477 564.4L1477.5 564.5L1478 564.6L1478.5 564.7L1479 564.8L1479.5 564.9L1480 564.9L1480.5 565L1481 565.1L1481.5 565.2L1482 565.2L1482.5 565.3L1483 565.4L1483.5 565.4L1484 565.5L1484.5 565.5L1485 565.5L1485.5 565.5L1486 565.6L1486.5 565.6L1487 565.6L1487.5 565.5L1488 565.5L1488.5 565.5L1489 565.5L1489.5 565.4L1490 565.4L1490.5 565.3L1491 565.2L1491.5 565.2L1492 565.1L1492.5 565L1493 564.9L1493.5 564.9L1494 564.8L1494.5 564.7L1495 564.6L1495.5 564.5L1496 564.4L1496.5 564.3L1497 564.3L1497.5 564.2L1498 564.1L1498.5 564L1499 564L1499.5 563.9L1500 563.9L1500.5 563.8L1501 563.8L1501.5 563.7L1502 563.7L1502.5 563.7L1503 563.7L1503.5 563.7L1504 563.7L1504.5 563.7L1505 563.7L1505.5 563.7L1506 563.8L1506.5 563.8L1507 563.9L1507.5 563.9L1508 564L1508.5 564.1L1509 564.1L1509.5 564.2L1510 564.3L1510.5 564.4L1511 564.4L1511.5 564.5L1512 564.6L1512.5 564.7L1513 564.8L1513.5 564.8L1514 564.9L1514.5 565L1515 565.1L1515.5 565.1L1516 565.2L1516.5 565.3L1517 565.3L1517.5 565.4L1518 565.4L1518.5 565.4L1519 565.5L1519.5 565.5L1520 565.5L1520.5 565.5L1521 565.5L1521.5 565.5L1522 565.4L1522.5 565.4L1523 565.4L1523.5 565.3L1524 565.3L1524.5 565.2L1525 565.2L1525.5 565.1L1526 565.1L1526.5 565L1527 564.9L1527.5 564.8L1528 564.8L1528.5 564.7L1529 564.6L1529.5 564.5L1530 564.4L1530.5 564.4L1531 564.3L1531.5 564.2L1532 564.1L1532.5 564.1L1533 564L1533.5 564L1534 563.9L1534.5 563.9L1535 563.8L1535.5 563.8L1536 563.8L1536.5 563.8L1537 563.7L1537.5 563.7L1538 563.8L1538.5 563.8L1539 563.8L1539.5 563.8L1540 563.8L1540.5 563.9L1541 563.9L1541.5 564L1542 564L1542.5 564.1L1543 564.2L1543.5 564.2L1544 564.3L1544.5 564.4L1545 564.5L1545.5 564.5L1546 564.6L1546.5 564.7L1547 564.8L1547.5 564.8L1548 564.9L1548.5 565L1549 565L1549.5 565.1L1550 565.2L1550.5 565.2L1551 565.3L1551.5 565.3L1552 565.3L1552.5 565.4L1553 565.4L1553.5 565.4L1554 565.4L1554.5 565.4L1555 565.4L1555.5 565.4L1556 565.4L1556.5 565.4L1557 565.3L1557.5 565.3L1558 565.2L1558.5 565.2L1559 565.1L1559.5 565.1L1560 565L1560.5 565L1561 564.9L1561.5 564.8L1562 564.7L1562.5 564.7L1563 564.6L1563.5 564.5L1564 564.4L1564.5 564.4L1565 564.3L1565.5 564.2L1566 564.2L1566.5 564.1L1567 564L1567.5 564L1568 563.9L1568.5 563.9L1569 563.9L1569.5 563.8L1570 563.8L1570.5 563.8L1571 563.8L1571.5 563.8L1572 563.8L1572.5 563.8L1573 563.8L1573.5 563.9L1574 563.9L1574.5 563.9L1575 564L1575.5 564L1576 564.1L1576.5 564.1L1577 564.2L1577.5 564.3L1578 564.3L1578.5 564.4L1579 564.5L1579.5 564.5L1580 564.6L1580.5 564.7L1581 564.8L1581.5 564.8L1582 564.9L1582.5 565L1583 565L1583.5 565.1L1584 565.1L1584.5 565.2L1585 565.2L1585.5 565.3L1586 565.3L1586.5 565.3L1587 565.4L1587.5 565.4L1588 565.4L1588.5 565.4L1589 565.4L1589.5 565.4L1590 565.3L1590.5 565.3L1591 565.3L1591.5 565.2L1592 565.2L1592.5 565.2L1593 565.1L1593.5 565L1594 565L1594.5 564.9L1595 564.9L1595.5 564.8L1596 564.7L1596.5 564.7L1597 564.6L1597.5 564.5L1598 564.4L1598.5 564.4L1599 564.3L1599.5 564.2L1600 564.2L1600.5 564.1L1601 564.1L1601.5 564L1602 564L1602.5 563.9L1603 563.9L1603.5 563.9L1604 563.9L1604.5 563.9L1605 563.8L1605.5 563.8L1606 563.9L1606.5 563.9L1607 563.9L1607.5 563.9L1608 563.9L1608.5 564L1609 564L1609.5 564.1L1610 564.1L1610.5 564.2L1611 564.2L1611.5 564.3L1612 564.4L1612.5 564.4L1613 564.5L1613.5 564.6L1614 564.6L1614.5 564.7L1615 564.8L1615.5 564.8L1616 564.9L1616.5 565L1617 565L1617.5 565.1L1618 565.1L1618.5 565.2L1619 565.2L1619.5 565.2L1620 565.3L1620.5 565.3L1621 565.3L1621.5 565.3L1622 565.3L1622.5 565.3L1623 565.3L1623.5 565.3L1624 565.3L1624.5 565.3L1625 565.2L1625.5 565.2L1626 565.2L1626.5 565.1L1627 565.1L1627.5 565L1628 565L1628.5 564.9L1629 564.8L1629.5 564.8L1630 564.7L1630.5 564.6L1631 564.6L1631.5 564.5L1632 564.4L1632.5 564.4L1633 564.3L1633.5 564.3L1634 564.2L1634.5 564.1L1635 564.1L1635.5 564.1L1636 564L1636.5 564L1637 563.9L1637.5 563.9L1638 563.9L1638.5 563.9L1639 563.9L1639.5 563.9L1640 563.9L1640.5 563.9L1641 563.9L1641.5 563.9L1642 564L1642.5 564L1643 564.1L1643.5 564.1L1644 564.1L1644.5 564.2L1645 564.3L1645.5 564.3L1646 564.4L1646.5 564.4L1647 564.5L1647.5 564.6L1648 564.6L1648.5 564.7L1649 564.8L1649.5 564.8L1650 564.9L1650.5 564.9L1651 565L1651.5 565L1652 565.1L1652.5 565.1L1653 565.2L1653.5 565.2L1654 565.2L1654.5 565.3L1655 565.3L1655.5 565.3L1656 565.3L1656.5 565.3L1657 565.3L1657.5 565.3L1658 565.3L1658.5 565.2L1659 565.2L1659.5 565.2L1660 565.1L1660.5 565.1L1661 565L1661.5 565L1662 564.9L1662.5 564.9L1663 564.8L1663.5 564.8L1664 564.7L1664.5 564.6L1665 564.6L1665.5 564.5L1666 564.4L1666.5 564.4L1667 564.3L1667.5 564.3L1668 564.2L1668.5 564.2L1669 564.1L1669.5 564.1L1670 564L1670.5 564L1671 564L1671.5 564L1672 563.9L1672.5 563.9L1673 563.9L1673.5 563.9L1674 563.9L1674.5 563.9L1675 564L1675.5 564L1676 564L1676.5 564L1677 564.1L1677.5 564.1L1678 564.2L1678.5 564.2L1679 564.3L1679.5 564.3L1680 564.4L1680.5 564.4L1681 564.5L1681.5 564.6L1682 564.6L1682.5 564.7L1683 564.8L1683.5 564.8L1684 564.9L1684.5 564.9L1685 565L1685.5 565L1686 565.1L1686.5 565.1L1687 565.2L1687.5 565.2L1688 565.2L1688.5 565.2L1689 565.2L1689.5 565.3L1690 565.3L1690.5 565.3L1691 565.3L1691.5 565.2L1692 565.2L1692.5 565.2L1693 565.2L1693.5 565.1L1694 565.1L1694.5 565.1L1695 565L1695.5 565L1696 564.9L1696.5 564.9L1697 564.8L1697.5 564.7L1698 564.7L1698.5 564.6L1699 564.6L1699.5 564.5L1700 564.4L1700.5 564.4L1701 564.3L1701.5 564.3L1702 564.2L1702.5 564.2L1703 564.1L1703.5 564.1L1704 564.1L1704.5 564L1705 564L1705.5 564L1706 564L1706.5 564L1707 563.9L1707.5 563.9L1708 564L1708.5 564L1709 564L1709.5 564L1710 564L1710.5 564.1L1711 564.1L1711.5 564.1L1712 564.2L1712.5 564.2L1713 564.3L1713.5 564.3L1714 564.4L1714.5 564.5L1715 564.5L1715.5 564.6L1716 564.6L1716.5 564.7L1717 564.8L1717.5 564.8L1718 564.9L1718.5 564.9L1719 565L1719.5 565L1720 565.1L1720.5 565.1L1721 565.1L1721.5 565.2L1722 565.2L1722.5 565.2L1723 565.2L1723.5 565.2L1724 565.2L1724.5 565.2L1725 565.2L1725.5 565.2L1726 565.2L1726.5 565.2L1727 565.2L1727.5 565.1L1728 565.1L1728.5 565L1729 565L1729.5 565L1730 564.9L1730.5 564.8L1731 564.8L1731.5 564.7L1732 564.7L1732.5 564.6L1733 564.6L1733.5 564.5L1734 564.4L1734.5 564.4L1735 564.3L1735.5 564.3L1736 564.2L1736.5 564.2L1737 564.1L1737.5 564.1L1738 564.1L1738.5 564L1739 564L1739.5 564L1740 564L1740.5 564L1741 564L1741.5 564L1742 564L1742.5 564L1743 564L1743.5 564L1744 564.1L1744.5 564.1L1745 564.1L1745.5 564.2L1746 564.2L1746.5 564.3L1747 564.3L1747.5 564.4L1748 564.4L1748.5 564.5L1749 564.5L1749.5 564.6L1750 564.6L1750.5 564.7L1751 564.8L1751.5 564.8L1752 564.9L1752.5 564.9L1753 565L1753.5 565L1754 565L1754.5 565.1L1755 565.1L1755.5 565.1L1756 565.2L1756.5 565.2L1757 565.2L1757.5 565.2L1758 565.2L1758.5 565.2L1759 565.2L1759.5 565.2L1760 565.2L1760.5 565.2L1761 565.1L1761.5 565.1L1762 565.1L1762.5 565L1763 565L1763.5 564.9L1764 564.9L1764.5 564.8L1765 564.8L1765.5 564.7L1766 564.7L1766.5 564.6L1767 564.6L1767.5 564.5L1768 564.4L1768.5 564.4L1769 564.3L1769.5 564.3L1770 564.2L1770.5 564.2L1771 564.2L1771.5 564.1L1772 564.1L1772.5 564.1L1773 564L1773.5 564L1774 564L1774.5 564L1775 564L1775.5 564L1776 564L1776.5 564L1777 564L1777.5 564.1L1778 564.1L1778.5 564.1L1779 564.1L1779.5 564.2L1780 564.2L1780.5 564.3L1781 564.3L1781.5 564.4L1782 564.4L1782.5 564.5L1783 564.5L1783.5 564.6L1784 564.6L1784.5 564.7L1785 564.8L1785.5 564.8L1786 564.9L1786.5 564.9L1787 565L1787.5 565L1788 565L1788.5 565.1L1789 565.1L1789.5 565.1L1790 565.2L1790.5 565.2L1791 565.2L1791.5 565.2L1792 565.2L1792.5 565.2L1793 565.2" fill="none" stroke="#a21fa3" stroke-width="2.1" clip-path="url(#c1)" stroke-linejoin="round"/>
<path d="M247 389.6L248 389.6L249 389.6L250 389.5L251 389.5L252 389.5L253 389.5L254 389.5L255 389.4L256 389.4L257 389.4L258 389.4L259 389.4L260 389.4L261 389.4L262 389.3L263 389.3L264 389.3L265 389.3L266 389.3L267 389.3L268 389.3L269 389.3L270 389.3L271 389.3L272 389.3L273 389.3L274 389.2L275 389.2L276 389.2L277 389.2L278 389.2L279 389.2L280 389.2L281 389.2L282 389.2L283 389.2L284 389.2L285 389.2L286 389.2L287 389.2L288 389.2L289 389.2L290 389.2L291 389.2L292 389.2L293 389.2L294 389.2L295 389.2L296 389.2L297 389.2L298 389.2L299 389.2L300 389.2L301 389.2L302 389.2L303 389.2L304 389.2L305 389.3L306 389.3L307 389.3L308 389.4L309 389.4L310 389.5L311 389.5L312 389.6L313 389.6L314 389.7L315 389.7L316 389.7L317 389.8L318 389.8L319 389.9L320 389.9L321 390L322 390L323 390.1L324 390.1L325 390.1L326 390.2L327 390.2L328 390.2L329 390.2L330 390.2L331 390.2L332 390.2L333 390.2L334 390.2L335 390.2L336 390.2L337 390.2L338 390.2L339 390.2L340 390.2L341 390.2L342 390.1L343 390.1L344 390.1L345 390.1L346 390.1L347 390.1L348 390.1L349 390.1L350 390.1L351 390L352 390L353 390L354 390L355 390L356 390L357 390L358 389.9L359 389.9L360 389.9L361 389.9L362 389.9L363 389.9L364 389.8L365 389.8L366 389.8L367 389.8L368 389.8L369 389.8L370 389.7L371 389.7L372 389.7L373 389.7L374 389.7L375 389.7L376 389.7L377 389.6L378 389.6L379 389.6L380 389.6L381 389.6L382 389.6L383 389.6L384 389.5L385 389.5L386 389.5L387 389.5L388 389.5L389 389.5L390 389.4L391 389.4L392 389.4L393 389.4L394 389.4L395 389.3L396 389.3L397 389.3L398 389.3L399 389.3L400 389.2L401 389.2L402 389.2L403 389.2L404 389.2L405 389.1L406 389.1L407 389.1L408 389.1L409 389.1L410 389.1L411 389.1L412 389L413 389L414 389L415 389L416 389L417 389L418 389L419 389L420 389L421 389L422 389L423 389L424 389L425 389.1L426 389.1L427 389.1L428 389.2L429 389.2L430 389.2L431 389.3L432 389.3L433 389.3L434 389.4L435 389.4L436 389.4L437 389.5L438 389.5L439 389.5L440 389.5L441 389.5L442 389.5L443 389.5L444 389.5L445 389.5L446 389.5L447 389.5L448 389.5L449 389.5L450 389.5L450.5 389.5L452 389.6L452.6 404L455 400.5L457 397.2L457.6 380.8L459 380.2L460.7 379.6L462.5 378.6L464.4 378L466.3 378.8L468.1 380.8L468.9 383L469.2 300L469.4 281.3L469.6 300L469.8 404.6L470.2 388L470.6 384.4L472 389L474 400L478 425L485.7 469L489.5 488L490 505L490.6 492L500 550L500 550L501 555.9L502 561.8L503 567.7L504 573.5L505 579.3L506 585L507 590.7L508 596.4L509 602L510 607.6L511 613.1L512 618.7L513 624.1L514 629.6L515 635L516 640.4L517 645.7L518 651.1L519 656.4L520 661.6L521 666.9L522 672L523 677.2L524 682.2L525 687.2L526 692.2L527 697.1L528 701.9L529 706.7L530 711.5L531 716.2L532 720.9L533 725.6L534 730.2L535 734.7L536 739.2L537 743.5L538 747.8L539 751.9L540 756L541 760L542 763.9L543 767.8L544 771.6L545 775.4L546 779.1L547 782.8L548 786.3L549 789.9L550 793.3L551 796.7L552 800L553 803.2L554 806.3L555 809.3L556 812.3L557 815.2L558 818.1L559 821L560 823.8L561 826.6L562 829.4L563 832.1L564 834.8L565 837.5L566 840.1L567 842.7L568 845.2L569 847.7L570 850.1L571 852.5L572 854.9L573 857.2L574 859.5L575 861.7L576 863.8L577 866L578 868L579 870L580 872L581 873.9L582 875.8L583 877.6L584 879.5L585 881.2L586 883L587 884.7L588 886.4L589 888L590 889.7L591 891.3L592 892.9L593 894.4L594 896L595 897.5L596 899L597 900.5L598 901.9L599 903.4L600 904.8L601 906.2L602 907.6L603 909.1L604 910.4L605 911.8L606 913.2L607 914.6L608 916L609 917.3L610 918.7L611 920L612 921.4L613 922.7L614 924.1L615 925.4L616 926.7L617 928L618 929.3L619 930.6L620 931.9L621 933.2L622 934.4L623 935.7L624 936.9L625 938.1L626 939.4L627 940.6L628 941.8L629 942.9L630 944.1L631 945.3L632 946.4L633 947.5L634 948.6L635 949.7L636 950.8L637 951.9L638 952.9L639 954L640 955L641 956L642 957L643 958L644 959L645 960L646 961L647 962L648 963L649 963.9L650 964.9L651 965.8L652 966.8L653 967.7L654 968.7L655 969.6L656 970.5L657 971.4L658 972.3L659 973.2L660 974.1L661 975L662 975.9L663 976.7L664 977.6L665 978.4L666 979.2L667 980.1L668 980.9L669 981.7L670 982.5L671 983.2L672 984L673 984.8L674 985.5L675 986.2L676 987L677 987.7L678 988.4L679 989L680 989.7L681 990.4L682 991L683 991.6L684 992.3L685 992.9L686 993.5L687 994.1L688 994.7L689 995.3L690 995.9L691 996.5L692 997.1L693 997.6L694 998.2L695 998.8L696 999.3L697 999.9L698 1000.4L699 1000.9L700 1001.5L701 1002L702 1002.5L703 1003L704 1003.6L705 1004.1L706 1004.6L707 1005.1L708 1005.5L709 1006L710 1006.5L711 1007L712 1007.4L713 1007.9L714 1008.4L715 1008.8L716 1009.3L717 1009.7L718 1010.1L719 1010.6L720 1011L721 1011.4L722 1011.8L723 1012.3L724 1012.7L725 1013.1L726 1013.5L727 1013.9L728 1014.2L729 1014.6L730 1015L731 1015.4L732 1015.7L733 1016.1L734 1016.5L735 1016.9L736 1017.2L737 1017.6L738 1018L739 1018.3L740 1018.7L741 1019L742 1019.4L743 1019.7L744 1020.1L745 1020.4L746 1020.8L747 1021.1L748 1021.5L749 1021.8L750 1022.1L751 1022.5L752 1022.8L753 1023.1L754 1023.5L755 1023.8L756 1024.1L757 1024.4L758 1024.7L759 1025L760 1025.4L761 1025.7L762 1026L763 1026.3L764 1026.6L765 1026.8L766 1027.1L767 1027.4L768 1027.7L769 1028L770 1028.2L771 1028.5L772 1028.8L773 1029L774 1029.3L775 1029.6L776 1029.8L777 1030L778 1030.3L779 1030.5L780 1030.8L781 1031L782 1031.2L783 1031.4L784 1031.6L785 1031.8L786 1032.1L787 1032.3L788 1032.4L789 1032.6L790 1032.8L791 1033L792 1033.2L793 1033.4L794 1033.5L795 1033.7L796 1033.9L797 1034L798 1034.2L799 1034.4L800 1034.5L801 1034.7L802 1034.9L803 1035L804 1035.2L805 1035.3L806 1035.5L807 1035.6L808 1035.8L809 1035.9L810 1036.1L811 1036.2L812 1036.4L813 1036.5L814 1036.7L815 1036.8L816 1036.9L817 1037.1L818 1037.2L819 1037.3L820 1037.5L821 1037.6L822 1037.7L823 1037.9L824 1038L825 1038.1L826 1038.2L827 1038.3L828 1038.5L829 1038.6L830 1038.7L831 1038.8L832 1038.9L833 1039L834 1039.1L835 1039.2L836 1039.3L837 1039.4L838 1039.5L839 1039.6L840 1039.7L841 1039.8L842 1039.9L843 1040L844 1040L845 1040.1L846 1040.2L847 1040.3L848 1040.4L849 1040.4L850 1040.5L851 1040.6L852 1040.6L853 1040.7L854 1040.8L855 1040.8L856 1040.9L857 1041L858 1041L859 1041.1L860 1041.2L861 1041.2L862 1041.3L863 1041.4L864 1041.4L865 1041.5L866 1041.5L867 1041.6L868 1041.6L869 1041.7L870 1041.8L871 1041.8L872 1041.9L873 1041.9L874 1042L875 1042L876 1042.1L877 1042.1L878 1042.2L879 1042.2L880 1042.3L881 1042.3L882 1042.3L883 1042.4L884 1042.4L885 1042.5L886 1042.5L887 1042.6L888 1042.6L889 1042.6L890 1042.7L891 1042.7L892 1042.7L893 1042.8L894 1042.8L895 1042.8L896 1042.9L897 1042.9L898 1042.9L899 1043L900 1043L901 1043L902 1043L903 1043.1L904 1043.1L905 1043.1L906 1043.1L907 1043.2L908 1043.2L909 1043.2L910 1043.2L911 1043.3L912 1043.3L913 1043.3L914 1043.3L915 1043.4L916 1043.4L917 1043.4L918 1043.4L919 1043.5L920 1043.5L921 1043.5L922 1043.5L923 1043.5L924 1043.6L925 1043.6L926 1043.6L927 1043.6L928 1043.6L929 1043.7L930 1043.7L931 1043.7L932 1043.7L933 1043.7L934 1043.8L935 1043.8L936 1043.8L937 1043.8L938 1043.8L939 1043.8L940 1043.8L941 1043.9L942 1043.9L943 1043.9L944 1043.9L945 1043.9L946 1043.9L947 1043.9L948 1043.9L949 1044L950 1044L951 1044L952 1044L953 1044L954 1044L955 1044L956 1044L957 1044L958 1044L959 1044L960 1044L961 1044L962 1044L963 1044L964 1044L965 1044L966 1044L967 1044L968 1044L969 1044L970 1044L971 1044L972 1044L973 1044L974 1044L975 1044L976 1044L977 1044L978 1044L979 1044L980 1044L981 1044L982 1044L983 1044L984 1044L985 1044L986 1044L987 1044L988 1043.9L989 1043.9L990 1043.9L991 1043.9L992 1043.9L993 1043.9L994 1043.9L995 1043.9L996 1043.9L997 1043.9L998 1043.9L999 1043.9L1000 1043.9L1001 1043.9L1002 1043.9L1003 1043.9L1004 1043.9L1005 1043.9L1006 1043.9L1007 1043.8L1008 1043.8L1009 1043.8L1010 1043.8L1011 1043.8L1012 1043.8L1013 1043.8L1014 1043.7L1015 1043.7L1016 1043.7L1017 1043.7L1018 1043.7L1019 1043.7L1020 1043.6L1021 1043.6L1022 1043.6L1023 1043.6L1024 1043.5L1025 1043.5L1026 1043.5L1027 1043.5L1028 1043.4L1029 1043.4L1030 1043.4L1031 1043.4L1032 1043.3L1033 1043.3L1034 1043.3L1035 1043.2L1036 1043.2L1037 1043.2L1038 1043.2L1039 1043.1L1040 1043.1L1041 1043.1L1042 1043L1043 1043L1044 1043L1045 1042.9L1046 1042.9L1047 1042.9L1048 1042.8L1049 1042.8L1049.2 1042.8L1050.5 1010L1052.5 999.5L1054 998.5L1060 998.9L1068 996.5L1068 996.6L1069 993.7L1070 990.8L1071 987.9L1072 985L1073 982.1L1074 979.2L1075 976.3L1076 973.5L1077 970.6L1078 967.7L1079 964.9L1080 962L1081 959.2L1082 956.3L1083 953.5L1084 950.7L1085 947.9L1086 945L1087 942.2L1088 939.4L1089 936.6L1090 933.8L1091 931L1092 928.2L1093 925.4L1094 922.5L1095 919.7L1096 916.9L1097 914L1098 911.1L1099 908.2L1100 905.3L1101 902.3L1102 899.4L1103 896.5L1104 893.5L1105 890.6L1106 887.7L1107 884.8L1108 881.9L1109 879.1L1110 876.3L1111 873.5L1112 870.7L1113 868L1114 865.3L1115 862.6L1116 860L1117 857.3L1118 854.7L1119 852L1120 849.4L1121 846.8L1122 844.2L1123 841.7L1124 839.1L1125 836.6L1126 834.2L1127 831.7L1128 829.3L1129 826.9L1130 824.6L1131 822.3L1132 820L1133 817.8L1134 815.5L1135 813.3L1136 811.1L1137 808.9L1138 806.8L1139 804.6L1140 802.5L1141 800.4L1142 798.4L1143 796.3L1144 794.3L1145 792.3L1146 790.3L1147 788.4L1148 786.5L1149 784.6L1150 782.7L1151 780.9L1152 779.1L1153 777.4L1154 775.7L1155 774L1156 772.3L1157 770.7L1158 769.1L1159 767.5L1160 766L1161 764.5L1162 763.1L1163 761.7L1164 760.3L1165 759L1166 757.7L1167 756.5L1168 755.3L1169 754.2L1170 753.1L1171 752L1172 751L1172 751L1173 749.1L1174 747L1175 744.6L1176 742L1177 739.3L1178 736.3L1179 732.9L1180 729L1181 723.8L1182 717.6L1183 712L1184 707.7L1185 703.7L1186 698.9L1187 692.8L1188 685.8L1189 678.7L1190 672L1191 665.8L1192 659.6L1193 653.5L1194 647.4L1195 641.4L1196 635.5L1197 629.6L1198 623.9L1199 618.3L1200 612.8L1201 607.5L1202 602.3L1203 597.4L1204 592.6L1205 588.1L1206 583.6L1207 579.3L1208 575.1L1209 570.9L1210 566.9L1211 562.9L1212 559L1213 555.2L1214 551.5L1215 547.8L1216 544.2L1217 540.7L1218 537.2L1219 533.7L1220 530.3L1221 527L1222 523.7L1223 520.5L1224 517.2L1225 514L1226 510.9L1227 507.7L1228 504.6L1229 501.6L1230 498.6L1231 495.6L1232 492.6L1233 489.7L1234 486.8L1235 483.9L1236 481.1L1237 478.3L1238 475.6L1239 472.9L1240 470.2L1241 467.5L1242 464.9L1243 462.2L1244 459.7L1245 457.1L1246 454.6L1247 452.1L1248 449.6L1249 447.2L1250 444.8L1251 442.4L1252 440L1253 437.7L1254 435.4L1255 433.1L1256 430.8L1257 428.6L1258 426.5L1259 424.3L1260 422.2L1261 420.1L1262 418L1263 415.9L1264 413.9L1265 411.9L1266 409.9L1267 407.9L1268 405.9L1269 404L1270 402L1271 400L1272 398.1L1273 396.1L1274 394.1L1275 392.2L1276 390.4L1277 388.6L1278 387L1279 385.5L1280 384.1L1281 382.9L1282 381.7L1283 380.6L1283 380.6L1283.5 380.4L1284 380.2L1284.5 380L1285 379.8L1285.5 379.6L1286 379.6L1286.5 379.6L1287 379.6L1287.5 379.8L1288 380L1288.5 380.3L1289 380.6L1289.5 381.1L1290 381.6L1290.5 382.1L1291 382.8L1291.5 383.5L1292 384.2L1292.5 385L1293 385.8L1293.5 386.6L1294 387.5L1294.5 388.4L1295 389.2L1295.5 390.1L1296 391L1296.5 391.8L1297 392.7L1297.5 393.5L1298 394.2L1298.5 395L1299 395.6L1299.5 396.2L1300 396.8L1300.5 397.3L1301 397.7L1301.5 398L1302 398.3L1302.5 398.5L1303 398.6L1303.5 398.6L1304 398.6L1304.5 398.5L1305 398.3L1305.5 398L1306 397.7L1306.5 397.2L1307 396.8L1307.5 396.2L1308 395.6L1308.5 395L1309 394.3L1309.5 393.5L1310 392.8L1310.5 392L1311 391.2L1311.5 390.3L1312 389.5L1312.5 388.7L1313 387.8L1313.5 387L1314 386.3L1314.5 385.5L1315 384.8L1315.5 384.1L1316 383.5L1316.5 382.9L1317 382.4L1317.5 381.9L1318 381.5L1318.5 381.2L1319 380.9L1319.5 380.8L1320 380.7L1320.5 380.6L1321 380.7L1321.5 380.8L1322 381L1322.5 381.2L1323 381.6L1323.5 382L1324 382.4L1324.5 383L1325 383.5L1325.5 384.1L1326 384.8L1326.5 385.5L1327 386.2L1327.5 387L1328 387.8L1328.5 388.5L1329 389.3L1329.5 390.1L1330 390.9L1330.5 391.6L1331 392.4L1331.5 393.1L1332 393.8L1332.5 394.4L1333 395L1333.5 395.6L1334 396L1334.5 396.5L1335 396.8L1335.5 397.1L1336 397.4L1336.5 397.6L1337 397.6L1337.5 397.7L1338 397.6L1338.5 397.5L1339 397.3L1339.5 397.1L1340 396.8L1340.5 396.4L1341 395.9L1341.5 395.5L1342 394.9L1342.5 394.3L1343 393.7L1343.5 393L1344 392.3L1344.5 391.6L1345 390.9L1345.5 390.1L1346 389.4L1346.5 388.6L1347 387.9L1347.5 387.2L1348 386.5L1348.5 385.8L1349 385.2L1349.5 384.6L1350 384L1350.5 383.5L1351 383L1351.5 382.6L1352 382.3L1352.5 382L1353 381.8L1353.5 381.6L1354 381.5L1354.5 381.5L1355 381.5L1355.5 381.7L1356 381.8L1356.5 382.1L1357 382.4L1357.5 382.7L1358 383.2L1358.5 383.6L1359 384.1L1359.5 384.7L1360 385.3L1360.5 385.9L1361 386.6L1361.5 387.3L1362 388L1362.5 388.7L1363 389.4L1363.5 390.1L1364 390.8L1364.5 391.5L1365 392.1L1365.5 392.8L1366 393.4L1366.5 394L1367 394.5L1367.5 395L1368 395.4L1368.5 395.8L1369 396.1L1369.5 396.4L1370 396.6L1370.5 396.8L1371 396.8L1371.5 396.9L1372 396.8L1372.5 396.7L1373 396.5L1373.5 396.3L1374 396L1374.5 395.7L1375 395.3L1375.5 394.8L1376 394.3L1376.5 393.8L1377 393.2L1377.5 392.6L1378 392L1378.5 391.3L1379 390.7L1379.5 390L1380 389.3L1380.5 388.6L1381 388L1381.5 387.3L1382 386.7L1382.5 386.1L1383 385.5L1383.5 385L1384 384.4L1384.5 384L1385 383.6L1385.5 383.2L1386 382.9L1386.5 382.6L1387 382.4L1387.5 382.3L1388 382.2L1388.5 382.2L1389 382.3L1389.5 382.4L1390 382.5L1390.5 382.8L1391 383L1391.5 383.4L1392 383.8L1392.5 384.2L1393 384.7L1393.5 385.2L1394 385.7L1394.5 386.3L1395 386.9L1395.5 387.5L1396 388.1L1396.5 388.8L1397 389.4L1397.5 390.1L1398 390.7L1398.5 391.3L1399 391.9L1399.5 392.5L1400 393.1L1400.5 393.6L1401 394.1L1401.5 394.5L1402 394.9L1402.5 395.2L1403 395.5L1403.5 395.8L1404 396L1404.5 396.1L1405 396.2L1405.5 396.2L1406 396.1L1406.5 396L1407 395.9L1407.5 395.6L1408 395.4L1408.5 395.1L1409 394.7L1409.5 394.3L1410 393.8L1410.5 393.3L1411 392.8L1411.5 392.3L1412 391.7L1412.5 391.1L1413 390.5L1413.5 389.9L1414 389.2L1414.5 388.6L1415 388L1415.5 387.4L1416 386.8L1416.5 386.3L1417 385.8L1417.5 385.3L1418 384.8L1418.5 384.4L1419 384L1419.5 383.7L1420 383.4L1420.5 383.2L1421 383L1421.5 382.9L1422 382.8L1422.5 382.8L1423 382.9L1423.5 383L1424 383.1L1424.5 383.3L1425 383.6L1425.5 383.9L1426 384.3L1426.5 384.7L1427 385.1L1427.5 385.6L1428 386.1L1428.5 386.6L1429 387.1L1429.5 387.7L1430 388.3L1430.5 388.9L1431 389.5L1431.5 390.1L1432 390.6L1432.5 391.2L1433 391.8L1433.5 392.3L1434 392.8L1434.5 393.3L1435 393.7L1435.5 394.1L1436 394.5L1436.5 394.8L1437 395L1437.5 395.3L1438 395.4L1438.5 395.5L1439 395.6L1439.5 395.6L1440 395.6L1440.5 395.5L1441 395.3L1441.5 395.1L1442 394.8L1442.5 394.5L1443 394.2L1443.5 393.8L1444 393.4L1444.5 392.9L1445 392.5L1445.5 392L1446 391.4L1446.5 390.9L1447 390.3L1447.5 389.7L1448 389.2L1448.5 388.6L1449 388.1L1449.5 387.5L1450 387L1450.5 386.5L1451 386L1451.5 385.5L1452 385.1L1452.5 384.7L1453 384.4L1453.5 384.1L1454 383.8L1454.5 383.6L1455 383.5L1455.5 383.4L1456 383.3L1456.5 383.3L1457 383.4L1457.5 383.5L1458 383.6L1458.5 383.8L1459 384.1L1459.5 384.3L1460 384.7L1460.5 385L1461 385.4L1461.5 385.9L1462 386.4L1462.5 386.8L1463 387.4L1463.5 387.9L1464 388.4L1464.5 389L1465 389.5L1465.5 390L1466 390.6L1466.5 391.1L1467 391.6L1467.5 392.1L1468 392.6L1468.5 393L1469 393.4L1469.5 393.8L1470 394.1L1470.5 394.4L1471 394.6L1471.5 394.8L1472 395L1472.5 395.1L1473 395.1L1473.5 395.1L1474 395.1L1474.5 395L1475 394.8L1475.5 394.6L1476 394.4L1476.5 394.1L1477 393.8L1477.5 393.4L1478 393L1478.5 392.6L1479 392.2L1479.5 391.7L1480 391.2L1480.5 390.7L1481 390.2L1481.5 389.7L1482 389.1L1482.5 388.6L1483 388.1L1483.5 387.6L1484 387.1L1484.5 386.6L1485 386.2L1485.5 385.8L1486 385.4L1486.5 385L1487 384.7L1487.5 384.4L1488 384.2L1488.5 384L1489 383.9L1489.5 383.8L1490 383.7L1490.5 383.7L1491 383.8L1491.5 383.9L1492 384L1492.5 384.2L1493 384.4L1493.5 384.7L1494 385L1494.5 385.4L1495 385.7L1495.5 386.2L1496 386.6L1496.5 387L1497 387.5L1497.5 388L1498 388.5L1498.5 389L1499 389.5L1499.5 390L1500 390.5L1500.5 391L1501 391.5L1501.5 391.9L1502 392.4L1502.5 392.8L1503 393.1L1503.5 393.5L1504 393.8L1504.5 394L1505 394.3L1505.5 394.4L1506 394.6L1506.5 394.7L1507 394.7L1507.5 394.7L1508 394.7L1508.5 394.6L1509 394.4L1509.5 394.2L1510 394L1510.5 393.8L1511 393.4L1511.5 393.1L1512 392.7L1512.5 392.3L1513 391.9L1513.5 391.5L1514 391L1514.5 390.5L1515 390.1L1515.5 389.6L1516 389.1L1516.5 388.6L1517 388.1L1517.5 387.6L1518 387.2L1518.5 386.7L1519 386.3L1519.5 385.9L1520 385.6L1520.5 385.3L1521 385L1521.5 384.7L1522 384.5L1522.5 384.3L1523 384.2L1523.5 384.1L1524 384.1L1524.5 384.1L1525 384.1L1525.5 384.2L1526 384.4L1526.5 384.5L1527 384.8L1527.5 385L1528 385.3L1528.5 385.6L1529 386L1529.5 386.4L1530 386.8L1530.5 387.2L1531 387.7L1531.5 388.1L1532 388.6L1532.5 389.1L1533 389.6L1533.5 390L1534 390.5L1534.5 390.9L1535 391.4L1535.5 391.8L1536 392.2L1536.5 392.6L1537 392.9L1537.5 393.2L1538 393.5L1538.5 393.8L1539 394L1539.5 394.1L1540 394.3L1540.5 394.3L1541 394.4L1541.5 394.4L1542 394.3L1542.5 394.2L1543 394.1L1543.5 393.9L1544 393.7L1544.5 393.4L1545 393.2L1545.5 392.8L1546 392.5L1546.5 392.1L1547 391.7L1547.5 391.3L1548 390.9L1548.5 390.4L1549 390L1549.5 389.5L1550 389L1550.5 388.6L1551 388.1L1551.5 387.7L1552 387.2L1552.5 386.8L1553 386.4L1553.5 386.1L1554 385.8L1554.5 385.4L1555 385.2L1555.5 384.9L1556 384.7L1556.5 384.6L1557 384.5L1557.5 384.4L1558 384.4L1558.5 384.4L1559 384.4L1559.5 384.5L1560 384.6L1560.5 384.8L1561 385L1561.5 385.3L1562 385.6L1562.5 385.9L1563 386.2L1563.5 386.6L1564 387L1564.5 387.4L1565 387.8L1565.5 388.2L1566 388.7L1566.5 389.1L1567 389.6L1567.5 390L1568 390.5L1568.5 390.9L1569 391.3L1569.5 391.7L1570 392.1L1570.5 392.4L1571 392.7L1571.5 393L1572 393.3L1572.5 393.5L1573 393.7L1573.5 393.9L1574 394L1574.5 394.1L1575 394.1L1575.5 394.1L1576 394L1576.5 393.9L1577 393.8L1577.5 393.6L1578 393.4L1578.5 393.2L1579 392.9L1579.5 392.6L1580 392.3L1580.5 391.9L1581 391.5L1581.5 391.1L1582 390.7L1582.5 390.3L1583 389.9L1583.5 389.4L1584 389L1584.5 388.5L1585 388.1L1585.5 387.7L1586 387.3L1586.5 386.9L1587 386.5L1587.5 386.2L1588 385.9L1588.5 385.6L1589 385.4L1589.5 385.1L1590 384.9L1590.5 384.8L1591 384.7L1591.5 384.6L1592 384.6L1592.5 384.6L1593 384.7L1593.5 384.7L1594 384.9L1594.5 385L1595 385.2L1595.5 385.5L1596 385.8L1596.5 386.1L1597 386.4L1597.5 386.7L1598 387.1L1598.5 387.5L1599 387.9L1599.5 388.3L1600 388.7L1600.5 389.2L1601 389.6L1601.5 390L1602 390.4L1602.5 390.8L1603 391.2L1603.5 391.6L1604 392L1604.5 392.3L1605 392.6L1605.5 392.9L1606 393.1L1606.5 393.3L1607 393.5L1607.5 393.6L1608 393.8L1608.5 393.8L1609 393.8L1609.5 393.8L1610 393.8L1610.5 393.7L1611 393.6L1611.5 393.4L1612 393.2L1612.5 393L1613 392.7L1613.5 392.4L1614 392.1L1614.5 391.7L1615 391.4L1615.5 391L1616 390.6L1616.5 390.2L1617 389.8L1617.5 389.4L1618 388.9L1618.5 388.5L1619 388.1L1619.5 387.7L1620 387.3L1620.5 387L1621 386.6L1621.5 386.3L1622 386L1622.5 385.7L1623 385.5L1623.5 385.3L1624 385.1L1624.5 385L1625 384.9L1625.5 384.8L1626 384.8L1626.5 384.8L1627 384.9L1627.5 384.9L1628 385.1L1628.5 385.2L1629 385.4L1629.5 385.7L1630 385.9L1630.5 386.2L1631 386.5L1631.5 386.9L1632 387.2L1632.5 387.6L1633 388L1633.5 388.4L1634 388.8L1634.5 389.2L1635 389.6L1635.5 390L1636 390.4L1636.5 390.8L1637 391.2L1637.5 391.5L1638 391.9L1638.5 392.2L1639 392.5L1639.5 392.7L1640 393L1640.5 393.2L1641 393.3L1641.5 393.5L1642 393.6L1642.5 393.6L1643 393.6L1643.5 393.6L1644 393.6L1644.5 393.5L1645 393.4L1645.5 393.2L1646 393L1646.5 392.8L1647 392.5L1647.5 392.2L1648 391.9L1648.5 391.6L1649 391.2L1649.5 390.9L1650 390.5L1650.5 390.1L1651 389.7L1651.5 389.3L1652 388.9L1652.5 388.5L1653 388.1L1653.5 387.7L1654 387.4L1654.5 387L1655 386.7L1655.5 386.4L1656 386.1L1656.5 385.8L1657 385.6L1657.5 385.4L1658 385.3L1658.5 385.1L1659 385L1659.5 385L1660 385L1660.5 385L1661 385L1661.5 385.1L1662 385.2L1662.5 385.4L1663 385.6L1663.5 385.8L1664 386.1L1664.5 386.3L1665 386.6L1665.5 387L1666 387.3L1666.5 387.7L1667 388.1L1667.5 388.4L1668 388.8L1668.5 389.2L1669 389.6L1669.5 390L1670 390.4L1670.5 390.8L1671 391.1L1671.5 391.5L1672 391.8L1672.5 392.1L1673 392.4L1673.5 392.6L1674 392.8L1674.5 393L1675 393.2L1675.5 393.3L1676 393.4L1676.5 393.4L1677 393.5L1677.5 393.4L1678 393.4L1678.5 393.3L1679 393.2L1679.5 393L1680 392.8L1680.5 392.6L1681 392.4L1681.5 392.1L1682 391.8L1682.5 391.5L1683 391.1L1683.5 390.8L1684 390.4L1684.5 390L1685 389.6L1685.5 389.3L1686 388.9L1686.5 388.5L1687 388.1L1687.5 387.7L1688 387.4L1688.5 387L1689 386.7L1689.5 386.4L1690 386.2L1690.5 385.9L1691 385.7L1691.5 385.5L1692 385.4L1692.5 385.2L1693 385.2L1693.5 385.1L1694 385.1L1694.5 385.1L1695 385.2L1695.5 385.3L1696 385.4L1696.5 385.5L1697 385.7L1697.5 385.9L1698 386.2L1698.5 386.5L1699 386.8L1699.5 387.1L1700 387.4L1700.5 387.8L1701 388.1L1701.5 388.5L1702 388.9L1702.5 389.2L1703 389.6L1703.5 390L1704 390.4L1704.5 390.7L1705 391.1L1705.5 391.4L1706 391.7L1706.5 392L1707 392.3L1707.5 392.5L1708 392.7L1708.5 392.9L1709 393.1L1709.5 393.2L1710 393.3L1710.5 393.3L1711 393.3L1711.5 393.3L1712 393.2L1712.5 393.1L1713 393L1713.5 392.9L1714 392.7L1714.5 392.5L1715 392.2L1715.5 392L1716 391.7L1716.5 391.3L1717 391L1717.5 390.7L1718 390.3L1718.5 389.9L1719 389.6L1719.5 389.2L1720 388.8L1720.5 388.5L1721 388.1L1721.5 387.7L1722 387.4L1722.5 387.1L1723 386.8L1723.5 386.5L1724 386.2L1724.5 386L1725 385.8L1725.5 385.6L1726 385.5L1726.5 385.3L1727 385.3L1727.5 385.2L1728 385.2L1728.5 385.2L1729 385.3L1729.5 385.4L1730 385.5L1730.5 385.6L1731 385.8L1731.5 386L1732 386.3L1732.5 386.5L1733 386.8L1733.5 387.1L1734 387.5L1734.5 387.8L1735 388.2L1735.5 388.5L1736 388.9L1736.5 389.3L1737 389.6L1737.5 390L1738 390.4L1738.5 390.7L1739 391L1739.5 391.4L1740 391.7L1740.5 391.9L1741 392.2L1741.5 392.4L1742 392.6L1742.5 392.8L1743 392.9L1743.5 393.1L1744 393.1L1744.5 393.2L1745 393.2L1745.5 393.2L1746 393.1L1746.5 393L1747 392.9L1747.5 392.7L1748 392.6L1748.5 392.3L1749 392.1L1749.5 391.8L1750 391.6L1750.5 391.2L1751 390.9L1751.5 390.6L1752 390.2L1752.5 389.9L1753 389.5L1753.5 389.1L1754 388.8L1754.5 388.4L1755 388.1L1755.5 387.7L1756 387.4L1756.5 387.1L1757 386.8L1757.5 386.5L1758 386.3L1758.5 386L1759 385.8L1759.5 385.7L1760 385.5L1760.5 385.4L1761 385.3L1761.5 385.3L1762 385.3L1762.5 385.3L1763 385.4L1763.5 385.5L1764 385.6L1764.5 385.7L1765 385.9L1765.5 386.1L1766 386.4L1766.5 386.6L1767 386.9L1767.5 387.2L1768 387.5L1768.5 387.9L1769 388.2L1769.5 388.6L1770 388.9L1770.5 389.3L1771 389.6L1771.5 390L1772 390.4L1772.5 390.7L1773 391L1773.5 391.3L1774 391.6L1774.5 391.9L1775 392.1L1775.5 392.4L1776 392.6L1776.5 392.7L1777 392.9L1777.5 393L1778 393L1778.5 393.1L1779 393.1L1779.5 393.1L1780 393L1780.5 392.9L1781 392.8L1781.5 392.6L1782 392.4L1782.5 392.2L1783 392L1783.5 391.7L1784 391.5L1784.5 391.2L1785 390.8L1785.5 390.5L1786 390.2L1786.5 389.8L1787 389.5L1787.5 389.1L1788 388.7L1788.5 388.4L1789 388L1789.5 387.7L1790 387.4L1790.5 387.1L1791 386.8L1791.5 386.5L1792 386.3L1792.5 386.1L1793 385.9" fill="none" stroke="#5fbdf2" stroke-width="2.1" clip-path="url(#c1)" stroke-linejoin="round"/>
<text x="232.3" y="328.8" font-family='"Liberation Sans", sans-serif' font-size="22" font-weight="700" fill="#9b9eae" text-anchor="end" textLength="45" lengthAdjust="spacingAndGlyphs"  stroke="#9b9eae" stroke-width="0.45" stroke-linejoin="round">-100</text>
<text x="232.3" y="408.5" font-family='"Liberation Sans", sans-serif' font-size="22" font-weight="700" fill="#9b9eae" text-anchor="end" textLength="45" lengthAdjust="spacingAndGlyphs"  stroke="#9b9eae" stroke-width="0.45" stroke-linejoin="round">-105</text>
<text x="232.3" y="488.1" font-family='"Liberation Sans", sans-serif' font-size="22" font-weight="700" fill="#9b9eae" text-anchor="end" textLength="45" lengthAdjust="spacingAndGlyphs"  stroke="#9b9eae" stroke-width="0.45" stroke-linejoin="round">-110</text>
<text x="232.3" y="567.8" font-family='"Liberation Sans", sans-serif' font-size="22" font-weight="700" fill="#9b9eae" text-anchor="end" textLength="45" lengthAdjust="spacingAndGlyphs"  stroke="#9b9eae" stroke-width="0.45" stroke-linejoin="round">-115</text>
<text x="232.3" y="647.5" font-family='"Liberation Sans", sans-serif' font-size="22" font-weight="700" fill="#9b9eae" text-anchor="end" textLength="45" lengthAdjust="spacingAndGlyphs"  stroke="#9b9eae" stroke-width="0.45" stroke-linejoin="round">-120</text>
<text x="232.3" y="727.1" font-family='"Liberation Sans", sans-serif' font-size="22" font-weight="700" fill="#9b9eae" text-anchor="end" textLength="45" lengthAdjust="spacingAndGlyphs"  stroke="#9b9eae" stroke-width="0.45" stroke-linejoin="round">-125</text>
<text x="232.3" y="806.8" font-family='"Liberation Sans", sans-serif' font-size="22" font-weight="700" fill="#9b9eae" text-anchor="end" textLength="45" lengthAdjust="spacingAndGlyphs"  stroke="#9b9eae" stroke-width="0.45" stroke-linejoin="round">-130</text>
<text x="232.3" y="886.5" font-family='"Liberation Sans", sans-serif' font-size="22" font-weight="700" fill="#9b9eae" text-anchor="end" textLength="45" lengthAdjust="spacingAndGlyphs"  stroke="#9b9eae" stroke-width="0.45" stroke-linejoin="round">-135</text>
<text x="232.3" y="966.1" font-family='"Liberation Sans", sans-serif' font-size="22" font-weight="700" fill="#9b9eae" text-anchor="end" textLength="45" lengthAdjust="spacingAndGlyphs"  stroke="#9b9eae" stroke-width="0.45" stroke-linejoin="round">-140</text>
<text x="232.3" y="1045.8" font-family='"Liberation Sans", sans-serif' font-size="22" font-weight="700" fill="#9b9eae" text-anchor="end" textLength="45" lengthAdjust="spacingAndGlyphs"  stroke="#9b9eae" stroke-width="0.45" stroke-linejoin="round">-145</text>
<text x="232.3" y="1125.5" font-family='"Liberation Sans", sans-serif' font-size="22" font-weight="700" fill="#9b9eae" text-anchor="end" textLength="45" lengthAdjust="spacingAndGlyphs"  stroke="#9b9eae" stroke-width="0.45" stroke-linejoin="round">-150</text>
<text x="232.3" y="1205.1" font-family='"Liberation Sans", sans-serif' font-size="22" font-weight="700" fill="#9b9eae" text-anchor="end" textLength="45" lengthAdjust="spacingAndGlyphs"  stroke="#9b9eae" stroke-width="0.45" stroke-linejoin="round">-155</text>
<text x="232.3" y="1284.8" font-family='"Liberation Sans", sans-serif' font-size="22" font-weight="700" fill="#9b9eae" text-anchor="end" textLength="45" lengthAdjust="spacingAndGlyphs"  stroke="#9b9eae" stroke-width="0.45" stroke-linejoin="round">-160</text>
<text x="421.2" y="1358.3" font-family='"Liberation Sans", sans-serif' font-size="22" font-weight="700" fill="#9b9eae" text-anchor="middle" textLength="66" lengthAdjust="spacingAndGlyphs"  stroke="#9b9eae" stroke-width="0.45" stroke-linejoin="round">09 Jan</text>
<text x="806.8" y="1358.3" font-family='"Liberation Sans", sans-serif' font-size="22" font-weight="700" fill="#9b9eae" text-anchor="middle" textLength="55.2" lengthAdjust="spacingAndGlyphs"  stroke="#9b9eae" stroke-width="0.45" stroke-linejoin="round">06:00</text>
<text x="1193.3" y="1358.3" font-family='"Liberation Sans", sans-serif' font-size="22" font-weight="700" fill="#9b9eae" text-anchor="middle" textLength="55.2" lengthAdjust="spacingAndGlyphs"  stroke="#9b9eae" stroke-width="0.45" stroke-linejoin="round">12:00</text>
<text x="1579.8" y="1358.3" font-family='"Liberation Sans", sans-serif' font-size="22" font-weight="700" fill="#9b9eae" text-anchor="middle" textLength="55.2" lengthAdjust="spacingAndGlyphs"  stroke="#9b9eae" stroke-width="0.45" stroke-linejoin="round">18:00</text>
<text x="149.7" y="809.3" font-family='"Liberation Sans", sans-serif' font-size="22" font-weight="700" fill="#9194a4" text-anchor="middle" textLength="363.5" lengthAdjust="spacingAndGlyphs" transform="rotate(-90 149.7 809.3)"  stroke="#9194a4" stroke-width="0.45" stroke-linejoin="round">lsst.sal.ATCamera.vacuum.tempCCD</text>
<circle cx="440.8" cy="389.5" r="6.0" fill="#5fbdf2"/>
<circle cx="440.8" cy="567" r="6.0" fill="#a21fa3"/>
<circle cx="440.8" cy="1133.2" r="6.0" fill="#ee8a3e"/>
<linearGradient id="g2" gradientUnits="userSpaceOnUse" x1="0" y1="248" x2="0" y2="1350"><stop offset="0" stop-color="#d9dee8" stop-opacity="0"/><stop offset="0.1" stop-color="#d9dee8" stop-opacity="1.0"/><stop offset="0.9" stop-color="#d9dee8" stop-opacity="1.0"/><stop offset="1" stop-color="#d9dee8" stop-opacity="0"/></linearGradient>
<rect x="439" y="248" width="2" height="1102" fill="url(#g2)" />
<clipPath id="c3"><rect x="2001" y="262" width="654" height="544"/></clipPath>
<rect x="2004" y="302" width="651" height="2" fill="#383846" />
<rect x="2004" y="373" width="651" height="2" fill="#383846" />
<rect x="2004" y="444" width="651" height="2" fill="#383846" />
<rect x="2004" y="515" width="651" height="2" fill="#383846" />
<rect x="2004" y="586" width="651" height="2" fill="#383846" />
<rect x="2004" y="657" width="651" height="2" fill="#383846" />
<rect x="2004" y="727" width="651" height="2" fill="#383846" />
<rect x="2004" y="798" width="651" height="2" fill="#383846" />
<rect x="2075.1" y="262" width="2" height="541" fill="#383846" />
<rect x="2237.8" y="262" width="2" height="541" fill="#383846" />
<rect x="2401.2" y="262" width="2" height="541" fill="#383846" />
<rect x="2565.4" y="262" width="2" height="541" fill="#383846" />
<rect x="2001" y="262" width="3" height="544" fill="#383846" />
<rect x="2001" y="803" width="654" height="3" fill="#383846" />
<path d="M2001 806L2001 754.2L2002.2 754.2L2004.4 755.9L2006.5 752.4L2008.7 743.5L2011 759.4L2013.2 744.7L2015 758L2016.9 749.2L2019.1 745.7L2021.7 760.6L2024.1 752.2L2026.3 754.9L2028.5 752.2L2030.8 772.9L2032.8 763.2L2034.9 757.9L2037.1 776.1L2039.2 760.8L2041.3 762.5L2043.7 752.8L2046 750.2L2048.1 763.9L2049.9 758.7L2052 761.3L2054.4 753.7L2056.8 755L2059 748.8L2061.5 783.7L2063.8 759.7L2066.1 757.2L2068.1 772.3L2070.4 759.5L2072.2 763.5L2074.4 758.5L2076.4 756.8L2078.6 752.7L2080.8 752.6L2083 755.8L2085.4 771.2L2087.9 758.6L2090.1 764.6L2092.5 749.6L2094.7 776.5L2096.5 762L2098.5 763.8L2101 752.5L2103.4 749.5L2105.5 749L2107.6 751.5L2110 753.3L2112 761.2L2114.4 759.4L2117.1 763.5L2119.2 758.8L2121.5 750.4L2124.1 762.8L2126.4 763.8L2128.5 756.3L2130.8 767.2L2132.6 758.3L2134.7 762.9L2136.9 758.2L2139.2 764.5L2141.3 759.6L2143.4 760.8L2145.9 765.2L2148.3 765.2L2150.5 762.2L2152.8 786L2155.2 754L2157.3 757.8L2159.3 758.2L2161.8 762.4L2164.4 764.5L2166.7 759.3L2169.2 762.7L2171.2 756.5L2173.2 766.4L2175.9 772.6L2178 756.6L2180 780.9L2182.4 771.5L2184.4 769.8L2186.6 759.4L2188.7 793.5L2191 769.3L2193.3 780.6L2195.4 796.5L2197.4 773.4L2199.2 764.3L2201.3 771.9L2203 775.3L2205.1 783L2207.5 764.2L2209.9 762.8L2212.2 770L2214.4 767.1L2216.9 776.3L2218.8 762.2L2221.3 767.3L2223.5 782.9L2225.9 770.8L2228.2 765.6L2230.2 774.8L2232.5 772.9L2234.8 766.6L2237.1 768.7L2239.2 776.7L2241.5 771.6L2243.9 766.3L2246.2 778.9L2248.8 792.2L2250.9 777.7L2253.6 775.8L2255.9 764L2258.4 765.9L2260.3 788.7L2262.7 775.3L2264.9 776.3L2267.2 769.2L2269.4 764.5L2271.5 792.2L2274.1 772L2276.3 771.4L2278.5 776.3L2280.7 760.5L2282.7 773.6L2284.8 771.4L2286.9 768.9L2288.8 764L2290.9 767.4L2292.8 764L2295.1 762.2L2297.1 769.5L2299 765.3L2301.1 783.7L2303.1 758.4L2305.4 771.4L2308.1 765.8L2310.1 768.2L2312.4 769.9L2314.5 769.2L2316.3 770.5L2318.5 767.2L2320.4 755.6L2322.4 765.6L2324.7 765.5L2327.3 759.6L2329.6 765.4L2331.7 754L2334.2 754.4L2336.8 753.4L2339.1 756.3L2341.5 756.6L2343.4 749.5L2345.6 748.3L2348.1 757.2L2350.3 755.7L2352.8 749.8L2355.2 755.1L2357.7 741.9L2360.1 747.2L2362.3 774.4L2364.6 745.8L2366.8 738.3L2368.9 748.2L2371.3 738.9L2373.4 744.8L2375.9 745.6L2378.1 743.1L2380.4 741.8L2382.9 737.1L2385.4 733L2387.4 750.9L2389.5 741.4L2391.8 729.7L2394.8 734.2L2398.1 734.3L2402.3 727.7L2405.8 730.5L2409.9 715.7L2414.9 713.8L2420.7 723L2427.4 729L2437 666.1L2437.6 672.9L2438.1 675.2L2438.7 674.9L2439.2 681.7L2439.8 681.1L2440.3 682.7L2440.9 684.6L2441.4 683.4L2442 684.9L2442.5 686.4L2443.1 691.1L2443.6 691.8L2444.2 688.5L2444.7 693.1L2445.3 689.5L2445.8 690.8L2446.4 692.2L2446.9 691.1L2447.5 696.3L2448 691.6L2448.6 688.1L2449.1 693.7L2449.7 689.6L2450.2 689.8L2450.8 683.4L2451.3 692.5L2451.9 691.9L2452.4 691.4L2453 691.3L2453.5 692.4L2454.1 687.8L2454.6 689.6L2455.2 685.1L2455.7 685.5L2456.3 688L2456.8 685.6L2457.4 680.7L2457.9 683.7L2458.5 681.5L2459 679.1L2459.6 680.6L2460.1 677.3L2460.7 673.3L2461.2 672.9L2461.8 678.2L2462.3 669.3L2462.9 670.2L2463.4 665.9L2464 660.8L2464.5 651.3L2465.1 648.2L2465.6 644.1L2466.2 639.3L2466.7 626.6L2467.3 616.1L2467.8 611.7L2468.4 602.6L2468.9 591.6L2469.5 579.9L2470 574.1L2470.6 563.9L2471.1 559L2471.7 539.8L2472.2 538.1L2472.8 528.1L2473.3 514.6L2473.9 512.5L2474.4 502.8L2475 491.7L2475.5 492.5L2476.1 480.6L2476.6 484.7L2477.2 484.4L2477.7 480.9L2478.3 482.2L2478.8 467.9L2479.4 463.6L2479.9 469.7L2480.5 468.8L2481 475.4L2481.6 466L2482.1 456.6L2482.7 463.3L2483.2 453.2L2483.8 448.1L2484.3 467L2484.9 453.6L2485.4 453.8L2486 451.2L2486.5 455.7L2487.1 446.2L2487.6 449.1L2488.2 435.3L2488.7 429.4L2489.3 439.6L2489.8 435.7L2490.4 426.8L2490.9 421.3L2491.5 416.9L2492 408.5L2492.6 414.6L2493.1 405L2493.7 399L2494.2 393.2L2494.8 391.5L2495.3 384.4L2495.9 382.2L2496.4 369L2497 374L2497.5 379L2498.1 361.8L2498.6 360.3L2499.2 361.9L2499.7 358.8L2500.3 353.7L2500.8 339L2501.4 346.4L2501.9 334.6L2502.5 333.1L2503 336.8L2503.6 329.2L2504.1 331.5L2504.7 340L2505.2 324.7L2505.8 321.2L2506.3 309.8L2506.9 308.1L2507.4 302.9L2508 302.6L2508.5 296.7L2509.1 295.9L2509.6 295.1L2510.2 288.1L2510.7 283L2511.3 280.2L2511.8 286.4L2512.4 285.1L2512.9 292.7L2513.5 295.5L2514 291.3L2514.6 299.1L2515.1 291.4L2515.7 314L2516.2 312.2L2516.8 308.8L2517.3 307.8L2517.9 319.3L2518.4 311.7L2519 322L2519.5 335.2L2520.1 337L2520.6 341.1L2521.2 349.9L2521.7 350.8L2522.3 359.2L2522.8 362.9L2523.4 367.6L2523.9 376.2L2524.5 378.4L2525 390.7L2525.6 390.5L2526.1 402L2526.7 400.5L2527.2 410L2527.8 411.2L2528.3 415.4L2528.9 423.4L2529.4 429.1L2530 429.2L2530.5 439.3L2531.1 439.3L2531.6 446L2532.2 451L2532.7 455.8L2533.3 454.6L2533.8 466.8L2534.4 468.7L2534.9 470.7L2535.5 473.6L2536 476.4L2536.6 481.5L2537.1 490.2L2537.7 492.6L2538.2 495.1L2538.8 500.9L2539.3 510.1L2539.9 510.1L2540.4 513.9L2541 522.7L2541.5 524.8L2542.1 527.9L2542.6 530.4L2543.2 532.3L2543.7 537.3L2544.3 542.9L2544.8 547.6L2545.4 553L2545.9 558.1L2546.5 562.6L2547 567.8L2547.6 569.9L2548.1 570.2L2548.7 576.9L2549.2 578L2549.8 579.2L2550.3 580.5L2550.9 578.8L2551.4 579.6L2552 582.4L2552.5 583.3L2553.1 582L2553.6 585.2L2554.2 584L2554.7 582.7L2555.3 587.6L2555.8 594.3L2556.4 590.9L2556.9 597.7L2557.5 600.7L2558 603.4L2558.6 600.3L2559.1 609L2559.7 606.8L2560.2 608.2L2560.8 610.4L2561.3 614.5L2561.9 615.5L2562.4 617.1L2563 622.7L2563.5 620.2L2564.1 622.1L2564.6 629.2L2565.2 631.9L2565.7 635.7L2566.3 633.6L2566.8 641.4L2567.4 642.3L2567.9 647.2L2568.5 642.2L2569 647.5L2569.6 646.6L2570.1 643.8L2570.7 646.1L2571.2 650.5L2571.8 647.1L2572.3 646.8L2572.9 650.6L2573.4 651.2L2574 651.4L2574.5 647.5L2575.1 649.5L2575.6 652.2L2576.2 648.6L2576.7 648.8L2577.3 652.9L2577.8 655L2578.4 649.2L2578.9 646.3L2579.5 649.4L2580 650.9L2580.6 653.3L2581.1 655.5L2581.7 654.2L2582.2 653.3L2582.8 655.8L2583.3 653.6L2583.9 656.8L2584.4 656.9L2585 666L2585.5 663.2L2586.1 660.9L2586.6 662L2587.2 664.7L2587.7 663.4L2588.3 667L2588.8 668.5L2589.4 673.7L2589.9 672.2L2590.5 672.8L2591 673.1L2591.6 674.9L2592.1 679L2592.7 680.1L2593.2 684.4L2593.8 681.5L2594.3 686.6L2594.9 685.9L2595.4 686.5L2596 683L2596.5 685.8L2597.1 691.7L2597.6 694.4L2598.2 692.8L2598.7 695.1L2599.3 693.4L2599.8 694.5L2600.4 694.8L2600.9 699.6L2601.5 699.2L2602 698.9L2602.6 699.7L2603.1 702.7L2603.7 704.3L2604.2 705.1L2604.8 714.4L2605.6 717.5L2612.8 723.5L2620.5 731.5L2624.6 745.5L2626.9 752.8L2629.8 749L2632.3 747L2634.2 752.5L2636.9 744.6L2639.9 749.9L2642.4 752L2644.6 746.9L2647.4 754.9L2650 757.4L2651.9 747.5L2654.3 750.9L2655.3 750.9L2655.3 806Z" fill="rgb(90,190,245)" stroke="none" stroke-width="1" clip-path="url(#c3)" fill-opacity="0.16"/>
<path d="M2001 806L2001 531.9L2002.2 752.7L2003.1 526.2L2004.4 754.4L2005.4 519.7L2006.5 750.9L2007.4 512.1L2008.7 742L2010 528.9L2011 757.9L2012.1 525.6L2013.2 743.2L2014.1 522.9L2015 756.5L2016 501.6L2016.9 747.7L2018 528.5L2019.1 744.2L2020.4 524.4L2021.7 759.1L2023 520.3L2024.1 750.7L2025 514.5L2026.3 753.4L2027.2 527L2028.5 750.7L2029.7 496.3L2030.8 771.4L2031.8 510L2032.8 761.7L2033.7 512.8L2034.9 756.4L2036.2 514.4L2037.1 774.6L2038.1 513.8L2039.2 759.3L2040.2 519.7L2041.3 761L2042.4 519.4L2043.7 751.3L2044.8 509.9L2046 748.7L2047 517.7L2048.1 762.4L2049 509L2049.9 757.2L2051 512.8L2052 759.8L2053.2 504.8L2054.4 752.2L2055.8 511.3L2056.8 753.5L2057.8 503.2L2059 747.3L2060.1 510.6L2061.5 782.2L2062.5 508.8L2063.8 758.2L2064.8 513L2066.1 755.7L2066.9 509.5L2068.1 770.8L2069.4 506L2070.4 758L2071.3 505.6L2072.2 762L2073.4 516L2074.4 757L2075.3 515.1L2076.4 755.3L2077.5 505.3L2078.6 751.2L2079.6 498.5L2080.8 751.1L2081.9 513.7L2083 754.3L2084.3 506.8L2085.4 769.7L2086.7 507.1L2087.9 757.1L2089.2 503.8L2090.1 763.1L2091.2 505.5L2092.5 748.1L2093.3 495.1L2094.7 775L2095.6 511.9L2096.5 760.5L2097.5 515.4L2098.5 762.3L2099.7 501.4L2101 751L2102.3 513.9L2103.4 748L2104.5 501.9L2105.5 747.5L2106.6 499.2L2107.6 750L2108.9 508L2110 751.8L2111 510.6L2112 759.7L2113.3 500.9L2114.4 757.9L2115.7 507.4L2117.1 762L2118 505.1L2119.2 757.3L2120.6 484.8L2121.5 748.9L2122.7 496.9L2124.1 761.3L2125.3 504.9L2126.4 762.3L2127.4 497.2L2128.5 754.8L2129.7 499L2130.8 765.7L2131.7 498.4L2132.6 756.8L2133.5 498L2134.7 761.4L2135.6 501.4L2136.9 756.7L2138.2 483.5L2139.2 763L2140.2 492.2L2141.3 758.1L2142.3 496L2143.4 759.3L2144.7 470L2145.9 763.7L2147 500.5L2148.3 763.7L2149.2 494.9L2150.5 760.7L2151.5 497.3L2152.8 784.5L2154.2 491L2155.2 752.5L2156.3 500.5L2157.3 756.3L2158.3 498L2159.3 756.7L2160.6 494.4L2161.8 760.9L2163 485.3L2164.4 763L2165.6 476.6L2166.7 757.8L2167.9 504.3L2169.2 761.2L2170.3 494.8L2171.2 755L2172.1 502.4L2173.2 764.9L2174.6 505.8L2175.9 771.1L2176.8 506.7L2178 755.1L2179 499.2L2180 779.4L2181.3 508.5L2182.4 770L2183.5 492.4L2184.4 768.3L2185.5 509.1L2186.6 757.9L2187.8 509.1L2188.7 792L2190 509.5L2191 767.8L2192.1 489.9L2193.3 779.1L2194.4 513.5L2195.4 795L2196.4 505.1L2197.4 771.9L2198.3 518.2L2199.2 762.8L2200.3 516.5L2201.3 770.4L2202.1 490.6L2203 773.8L2204.2 505.8L2205.1 781.5L2206.3 515.1L2207.5 762.7L2208.7 499.9L2209.9 761.3L2211 511.8L2212.2 768.5L2213.2 507.2L2214.4 765.6L2215.7 517.5L2216.9 774.8L2217.9 507.6L2218.8 760.7L2220.1 509.5L2221.3 765.8L2222.4 517.8L2223.5 781.4L2224.6 521.2L2225.9 769.3L2227 516L2228.2 764.1L2229.3 504.4L2230.2 773.3L2231.4 500L2232.5 771.4L2233.8 497.6L2234.8 765.1L2235.9 518L2237.1 767.2L2238.1 520.5L2239.2 775.2L2240.4 523.5L2241.5 770.1L2242.6 492.6L2243.9 764.8L2245.1 512L2246.2 777.4L2247.6 515.6L2248.8 790.7L2249.7 515.8L2250.9 776.2L2252.3 495.5L2253.6 774.3L2254.8 516.5L2255.9 762.5L2257.2 513.8L2258.4 764.4L2259.4 505L2260.3 787.2L2261.6 505.7L2262.7 773.8L2264 519L2264.9 774.8L2265.9 513L2267.2 767.7L2268.5 523.4L2269.4 763L2270.5 507.5L2271.5 790.7L2272.9 522.4L2274.1 770.5L2275.1 528.7L2276.3 769.9L2277.6 523.8L2278.5 774.8L2279.8 515.5L2280.7 759L2281.7 527.6L2282.7 772.1L2283.6 530.1L2284.8 769.9L2285.7 515.6L2286.9 767.4L2287.8 505.2L2288.8 762.5L2289.7 506.1L2290.9 765.9L2291.8 526.2L2292.8 762.5L2293.8 531.3L2295.1 760.7L2296 516.6L2297.1 768L2298 521.4L2299 763.8L2300 529.6L2301.1 782.2L2302.1 501L2303.1 756.9L2304.2 519.8L2305.4 769.9L2306.8 522.2L2308.1 764.3L2309.2 505.3L2310.1 766.7L2311.1 531.6L2312.4 768.4L2313.6 524.6L2314.5 767.7L2315.4 530.8L2316.3 769L2317.3 521.1L2318.5 765.7L2319.5 525.2L2320.4 754.1L2321.6 533.3L2322.4 764.1L2323.7 534.2L2324.7 764L2326 525L2327.3 758.1L2328.5 521.3L2329.6 763.9L2330.8 531.2L2331.7 752.5L2333.1 536.1L2334.2 752.9L2335.5 536.5L2336.8 751.9L2337.8 529.4L2339.1 754.8L2340.4 528.6L2341.5 755.1L2342.5 527.7L2343.4 748L2344.5 534.2L2345.6 746.8L2346.9 536.9L2348.1 755.7L2349 530.2L2350.3 754.2L2351.6 542.1L2352.8 748.3L2354.1 540.2L2355.2 753.6L2356.5 513.1L2357.7 740.4L2358.8 537.6L2360.1 745.7L2361 541.5L2362.3 772.9L2363.2 545L2364.6 744.3L2365.8 534.2L2366.8 736.8L2367.9 541L2368.9 746.7L2370.2 537.2L2371.3 737.4L2372.6 545.2L2373.4 743.3L2374.6 538.8L2375.9 744.1L2377.1 544.9L2378.1 741.6L2379.1 529.5L2380.4 740.3L2381.6 517.4L2382.9 735.6L2384.2 543.7L2385.4 731.5L2386.6 546.6L2387.4 749.4L2388.4 547.5L2389.5 739.9L2390.8 517.5L2391.8 728.2L2392.8 540.8L2394.8 732.7L2396.2 537.3L2398.1 732.8L2400.1 537.9L2402.3 726.2L2404.1 550.2L2405.8 729L2407.8 544.6L2409.9 714.2L2412 542.3L2414.9 712.3L2418.1 525.1L2420.7 721.5L2423.8 549.6L2427.4 727.5L2434.3 534L2435.4 620L2437 666.1L2437.6 672.9L2438.1 675.2L2438.7 674.9L2439.2 681.7L2439.8 681.1L2440.3 682.7L2440.9 684.6L2441.4 683.4L2442 684.9L2442.5 686.4L2443.1 691.1L2443.6 691.8L2444.2 688.5L2444.7 693.1L2445.3 689.5L2445.8 690.8L2446.4 692.2L2446.9 691.1L2447.5 696.3L2448 691.6L2448.6 688.1L2449.1 693.7L2449.7 689.6L2450.2 689.8L2450.8 683.4L2451.3 692.5L2451.9 691.9L2452.4 691.4L2453 691.3L2453.5 692.4L2454.1 687.8L2454.6 689.6L2455.2 685.1L2455.7 685.5L2456.3 688L2456.8 685.6L2457.4 680.7L2457.9 683.7L2458.5 681.5L2459 679.1L2459.6 680.6L2460.1 677.3L2460.7 673.3L2461.2 672.9L2461.8 678.2L2462.3 669.3L2462.9 670.2L2463.4 665.9L2464 660.8L2464.5 651.3L2465.1 648.2L2465.6 644.1L2466.2 639.3L2466.7 626.6L2467.3 616.1L2467.8 611.7L2468.4 602.6L2468.9 591.6L2469.5 579.9L2470 574.1L2470.6 563.9L2471.1 559L2471.7 539.8L2472.2 538.1L2472.8 528.1L2473.3 514.6L2473.9 512.5L2474.4 502.8L2475 491.7L2475.5 492.5L2476.1 480.6L2476.6 484.7L2477.2 484.4L2477.7 480.9L2478.3 482.2L2478.8 467.9L2479.4 463.6L2479.9 469.7L2480.5 468.8L2481 475.4L2481.6 466L2482.1 456.6L2482.7 463.3L2483.2 453.2L2483.8 448.1L2484.3 467L2484.9 453.6L2485.4 453.8L2486 451.2L2486.5 455.7L2487.1 446.2L2487.6 449.1L2488.2 435.3L2488.7 429.4L2489.3 439.6L2489.8 435.7L2490.4 426.8L2490.9 421.3L2491.5 416.9L2492 408.5L2492.6 414.6L2493.1 405L2493.7 399L2494.2 393.2L2494.8 391.5L2495.3 384.4L2495.9 382.2L2496.4 369L2497 374L2497.5 379L2498.1 361.8L2498.6 360.3L2499.2 361.9L2499.7 358.8L2500.3 353.7L2500.8 339L2501.4 346.4L2501.9 334.6L2502.5 333.1L2503 336.8L2503.6 329.2L2504.1 331.5L2504.7 340L2505.2 324.7L2505.8 321.2L2506.3 309.8L2506.9 308.1L2507.4 302.9L2508 302.6L2508.5 296.7L2509.1 295.9L2509.6 295.1L2510.2 288.1L2510.7 283L2511.3 280.2L2511.8 286.4L2512.4 285.1L2512.9 292.7L2513.5 295.5L2514 291.3L2514.6 299.1L2515.1 291.4L2515.7 314L2516.2 312.2L2516.8 308.8L2517.3 307.8L2517.9 319.3L2518.4 311.7L2519 322L2519.5 335.2L2520.1 337L2520.6 341.1L2521.2 349.9L2521.7 350.8L2522.3 359.2L2522.8 362.9L2523.4 367.6L2523.9 376.2L2524.5 378.4L2525 390.7L2525.6 390.5L2526.1 402L2526.7 400.5L2527.2 410L2527.8 411.2L2528.3 415.4L2528.9 423.4L2529.4 429.1L2530 429.2L2530.5 439.3L2531.1 439.3L2531.6 446L2532.2 451L2532.7 455.8L2533.3 454.6L2533.8 466.8L2534.4 468.7L2534.9 470.7L2535.5 473.6L2536 476.4L2536.6 481.5L2537.1 490.2L2537.7 492.6L2538.2 495.1L2538.8 500.9L2539.3 510.1L2539.9 510.1L2540.4 513.9L2541 522.7L2541.5 524.8L2542.1 527.9L2542.6 530.4L2543.2 532.3L2543.7 537.3L2544.3 542.9L2544.8 547.6L2545.4 553L2545.9 558.1L2546.5 562.6L2547 567.8L2547.6 569.9L2548.1 570.2L2548.7 576.9L2549.2 578L2549.8 579.2L2550.3 580.5L2550.9 578.8L2551.4 579.6L2552 582.4L2552.5 583.3L2553.1 582L2553.6 585.2L2554.2 584L2554.7 582.7L2555.3 587.6L2555.8 594.3L2556.4 590.9L2556.9 597.7L2557.5 600.7L2558 603.4L2558.6 600.3L2559.1 609L2559.7 606.8L2560.2 608.2L2560.8 610.4L2561.3 614.5L2561.9 615.5L2562.4 617.1L2563 622.7L2563.5 620.2L2564.1 622.1L2564.6 629.2L2565.2 631.9L2565.7 635.7L2566.3 633.6L2566.8 641.4L2567.4 642.3L2567.9 647.2L2568.5 642.2L2569 647.5L2569.6 646.6L2570.1 643.8L2570.7 646.1L2571.2 650.5L2571.8 647.1L2572.3 646.8L2572.9 650.6L2573.4 651.2L2574 651.4L2574.5 647.5L2575.1 649.5L2575.6 652.2L2576.2 648.6L2576.7 648.8L2577.3 652.9L2577.8 655L2578.4 649.2L2578.9 646.3L2579.5 649.4L2580 650.9L2580.6 653.3L2581.1 655.5L2581.7 654.2L2582.2 653.3L2582.8 655.8L2583.3 653.6L2583.9 656.8L2584.4 656.9L2585 666L2585.5 663.2L2586.1 660.9L2586.6 662L2587.2 664.7L2587.7 663.4L2588.3 667L2588.8 668.5L2589.4 673.7L2589.9 672.2L2590.5 672.8L2591 673.1L2591.6 674.9L2592.1 679L2592.7 680.1L2593.2 684.4L2593.8 681.5L2594.3 686.6L2594.9 685.9L2595.4 686.5L2596 683L2596.5 685.8L2597.1 691.7L2597.6 694.4L2598.2 692.8L2598.7 695.1L2599.3 693.4L2599.8 694.5L2600.4 694.8L2600.9 699.6L2601.5 699.2L2602 698.9L2602.6 699.7L2603.1 702.7L2603.7 704.3L2604.2 705.1L2604.8 714.4L2605.6 716L2606.3 534L2607.4 700L2610 720L2612.8 722L2613.6 542L2614.8 705L2618 728L2620.5 730L2621.3 527L2622.4 725L2624.6 744L2626 531.1L2626.9 751.3L2628.8 549L2629.8 747.5L2631.4 539L2632.3 745.5L2633.5 522.8L2634.2 751L2635.9 524.2L2636.9 743.1L2639 536.7L2639.9 748.4L2641.8 517.5L2642.4 750.5L2643.7 527.8L2644.6 745.4L2646.8 535.3L2647.4 753.4L2649 536L2650 755.9L2651 545.1L2651.9 746L2653.3 527.9L2654.3 749.4L2655.3 538L2655.3 806Z" fill="rgb(150,0,150)" stroke="none" stroke-width="1" clip-path="url(#c3)" fill-opacity="0.12"/>
<path d="M2005 755.4 v3.2M2011.6 758.9 v3.2M2015.6 757.5 v3.2M2019.7 745.2 v3.2M2024.7 751.7 v3.2M2031.4 772.4 v3.2M2033.4 762.7 v3.2M2037.7 775.6 v3.2M2039.8 760.3 v3.2M2041.9 762 v3.2M2048.7 763.4 v3.2M2059.6 748.3 v3.2M2062.1 783.2 v3.2M2072.8 763 v3.2M2083.6 755.3 v3.2M2099.1 763.3 v3.2M2104 749 v3.2M2117.7 763 v3.2M2119.8 758.3 v3.2M2124.7 762.3 v3.2M2144 760.3 v3.2M2146.5 764.7 v3.2M2151.1 761.7 v3.2M2159.9 757.7 v3.2M2167.3 758.8 v3.2M2173.8 765.9 v3.2M2196 796 v3.2M2198 772.9 v3.2M2205.7 782.5 v3.2M2212.8 769.5 v3.2M2219.4 761.7 v3.2M2228.8 765.1 v3.2M2235.4 766.1 v3.2M2242.1 771.1 v3.2M2244.5 765.8 v3.2M2249.4 791.7 v3.2M2270 764 v3.2M2281.3 760 v3.2M2287.5 768.4 v3.2M2289.4 763.5 v3.2M2291.5 766.9 v3.2M2295.7 761.7 v3.2M2297.7 769 v3.2M2299.6 764.8 v3.2M2319.1 766.7 v3.2M2321 755.1 v3.2M2325.3 765 v3.2M2327.9 759.1 v3.2M2334.8 753.9 v3.2M2342.1 756.1 v3.2M2348.7 756.7 v3.2M2360.7 746.7 v3.2M2362.9 773.9 v3.2M2369.5 747.7 v3.2M2378.7 742.6 v3.2M2381 741.3 v3.2M2386 732.5 v3.2M2388 750.4 v3.2M2395.4 733.7 v3.2" fill="none" stroke="#5fbdf2" stroke-width="2.2" clip-path="url(#c3)"/>
<rect x="2118.5" y="490" width="2.2" height="26" fill="#5fbdf2" />
<rect x="2121.5" y="484" width="2.2" height="6" fill="#5fbdf2" />
<rect x="2360.5" y="522" width="2.2" height="4" fill="#5fbdf2" />
<rect x="2449.5" y="661" width="2.2" height="24" fill="#5fbdf2" />
<rect x="2504.5" y="318" width="2.2" height="6" fill="#5fbdf2" />
<rect x="2503" y="340" width="2.2" height="12" fill="#5fbdf2" />
<rect x="2548.5" y="584" width="2.2" height="4" fill="#5fbdf2" />
<rect x="2570" y="655" width="2.2" height="3" fill="#5fbdf2" />
<rect x="2589" y="676" width="2.2" height="5" fill="#5fbdf2" />
<path d="M2437 669L2437.6 672L2438.2 675L2438.8 678L2439.4 681L2440 684L2440.6 684.9L2441.2 685.8L2441.8 686.7L2442.4 687.6L2443 688.5L2443.6 689.4L2444.2 690.1L2444.8 690.4L2445.4 690.7L2446 691L2446.6 691.3L2447.2 691.6L2447.8 691.9L2448.4 691.9L2449 691.8L2449.6 691.6L2450.2 691.5L2450.8 691.3L2451.4 691.2L2452 691L2452.6 690.4L2453.2 689.8L2453.8 689.2L2454.4 688.6L2455 688L2455.6 687.4L2456.2 686.7L2456.8 685.7L2457.4 684.7L2458 683.7L2458.6 682.7L2459.2 681.5L2459.8 680L2460.4 678.5L2461 677L2461.6 675.5L2462.2 674L2462.8 671.1L2463.4 665.5L2464 659.8L2464.6 654.2L2465.2 648.5L2465.8 642.9L2466.4 634.2L2467 624L2467.6 613.8L2468.2 603.6L2468.8 593.4L2469.4 583.2L2470 573L2470.6 563.6L2471.2 554.2L2471.8 544.8L2472.4 535.4L2473 526L2473.6 516.4L2474.2 506.8L2474.8 497.2L2475.4 492L2476 489L2476.6 486L2477.2 483L2477.8 480L2478.4 477L2479 474L2479.6 471L2480.2 468.3L2480.8 466.4L2481.4 464.4L2482 462.4L2482.6 460.4L2483.2 458.4L2483.8 456.5L2484.4 454.5L2485 452.5L2485.6 450.5L2486.2 448.5L2486.8 446.6L2487.4 444.6L2488 442.6L2488.6 438.2L2489.2 433.7L2489.8 429.3L2490.4 424.8L2491 420.4L2491.6 416L2492.2 411.1L2492.8 405.5L2493.4 399.8L2494 394.2L2494.6 388.6L2495.2 383.5L2495.8 379.7L2496.4 375.9L2497 372.1L2497.6 368.3L2498.2 364.4L2498.8 360.6L2499.4 356.8L2500 353L2500.6 349.4L2501.2 345.8L2501.8 342.2L2502.4 338.6L2503 335L2503.6 331.4L2504.2 327.8L2504.8 324.2L2505.4 320.6L2506 317L2506.6 313.7L2507.2 310.4L2507.8 307.1L2508.4 303.8L2509 300.5L2509.6 297.2L2510.2 293.9L2510.8 290.6L2511.4 287.3L2512 284L2512.6 287L2513.2 290L2513.8 293L2514.4 296L2515 299L2515.6 303.1L2516.2 307.2L2516.8 311.2L2517.4 315.3L2518 319.4L2518.6 323.5L2519.2 329.4L2519.8 335.4L2520.4 341.3L2521 347.2L2521.6 353.2L2522.2 359.1L2522.8 365L2523.4 371.1L2524 377.2L2524.6 383.2L2525.2 389.3L2525.8 395.4L2526.4 401.5L2527 407.6L2527.6 413.7L2528.2 418.6L2528.8 423.6L2529.4 428.5L2530 433.5L2530.6 438.4L2531.2 443.4L2531.8 448.3L2532.4 453.1L2533 457.8L2533.6 462.5L2534.2 467.2L2534.8 471.9L2535.4 476.6L2536 481.3L2536.6 486L2537.2 490.8L2537.8 495.5L2538.4 500.3L2539 505.1L2539.6 509.9L2540.2 514.6L2540.8 519.4L2541.4 524L2542 528.4L2542.6 532.8L2543.2 537.3L2543.8 541.7L2544.4 546.1L2545 550.6L2545.6 555L2546.2 560.7L2546.8 566.4L2547.4 572.1L2548 575.7L2548.6 578.9L2549.2 581.2L2549.8 581.7L2550.4 582.2L2551 582.8L2551.6 583.3L2552.2 583.8L2552.8 584.3L2553.4 584.9L2554 585.4L2554.6 585.9L2555.2 588.3L2555.8 591L2556.4 593.7L2557 596.5L2557.6 599.2L2558.2 601.8L2558.8 604.2L2559.4 606.6L2560 609L2560.6 611.4L2561.2 613.7L2561.8 616.1L2562.4 618.5L2563 620.9L2563.6 623.3L2564.2 626.3L2564.8 629.5L2565.4 632.6L2566 635.8L2566.6 638.9L2567.2 641.7L2567.8 643.8L2568.4 645.9L2569 648L2569.6 648.3L2570.2 648.5L2570.8 648.8L2571.4 649L2572 649.3L2572.6 649.5L2573.2 649.8L2573.8 650.1L2574.4 650.3L2575 650.6L2575.6 650.8L2576.2 651.2L2576.8 651.6L2577.4 652.1L2578 652.6L2578.6 653.1L2579.2 653.6L2579.8 654L2580.4 654.5L2581 655L2581.6 655.5L2582.2 656L2582.8 656.4L2583.4 656.9L2584 658.3L2584.6 659.9L2585.2 661.5L2585.8 663.1L2586.4 664.7L2587 666.3L2587.6 667.9L2588.2 669.5L2588.8 671.2L2589.4 672.8L2590 674.4L2590.6 676.1L2591.2 677.7L2591.8 679.3L2592.4 681L2593 682.4L2593.6 683.6L2594.2 684.9L2594.8 686.2L2595.4 687.5L2596 688.7L2596.6 690L2597.2 691.3L2597.8 692.6L2598.4 693.7L2599 694.9L2599.6 696L2600.2 697.1L2600.8 698.2L2601.4 699.3L2602 700.4L2602.6 701.5L2603.2 702.6L2603.8 705.5L2604.4 709.2L2605 713" fill="none" stroke="#5fbdf2" stroke-width="1.6" clip-path="url(#c3)" stroke-opacity="0.85"/>
<path d="M2437 662.6L2437.6 670.7L2438.2 674.3L2438.8 680.7L2439.4 677.4L2440 686.6L2440.6 683.4L2441.2 686.2L2441.8 680.9L2442.4 686.9L2443 686.8L2443.6 689.7L2444.2 689.3L2444.8 687.2L2445.4 691.5L2446 691.3L2446.6 691.4L2447.2 692.5L2447.8 693L2448.4 690.9L2449 688.2L2449.6 688L2450.2 693L2450.8 691.6L2451.4 690.3L2452 689.2L2452.6 689.5L2453.2 688.8L2453.8 687.6L2454.4 686.3L2455 691.1L2455.6 686.8L2456.2 684.5L2456.8 682.2L2457.4 682.3L2458 684L2458.6 683.1L2459.2 680.1L2459.8 679.1L2460.4 676.9L2461 673.9L2461.6 677L2462.2 673.7L2462.8 674.8L2463.4 663L2464 658.6L2464.6 654.9L2465.2 647.1L2465.8 639.2L2466.4 631.4L2467 623.2L2467.6 613.5L2468.2 602.4L2468.8 594.3L2469.4 584.1L2470 572.6L2470.6 562.7L2471.2 552.2L2471.8 545.9L2472.4 537.9L2473 525.2L2473.6 517.1L2474.2 504.6L2474.8 490.8L2475.4 487.2L2476 490.9L2476.6 486.7L2477.2 488L2477.8 479.2L2478.4 479.3L2479 478L2479.6 473.8L2480.2 465L2480.8 464.7L2481.4 463.9L2482 457.7L2482.6 461.2L2483.2 461.3L2483.8 453.6L2484.4 461L2485 450.4L2485.6 448.7L2486.2 446.6L2486.8 442.9L2487.4 445.2L2488 441.7L2488.6 443.5L2489.2 435L2489.8 430.3L2490.4 423L2491 414L2491.6 414.6L2492.2 406.9L2492.8 408.1L2493.4 398.7L2494 399.5L2494.6 390.4L2495.2 385.7L2495.8 379.6L2496.4 375.7L2497 373.6L2497.6 370.8L2498.2 360.7L2498.8 361.5L2499.4 365.8L2500 351.7L2500.6 347.4L2501.2 342.2L2501.8 335.7L2502.4 342.1L2503 334.2L2503.6 331.5L2504.2 333.8L2504.8 332.7L2505.4 316.2L2506 320L2506.6 315.1L2507.2 310.9L2507.8 307.9L2508.4 302.7L2509 305.5L2509.6 298.5L2510.2 294.2L2510.8 294.3L2511.4 289.7L2512 284.8L2512.6 287.3L2513.2 295.7L2513.8 293.9L2514.4 294.7L2515 294.8L2515.6 300.8L2516.2 302.2L2516.8 310.7L2517.4 315.3L2518 310.6L2518.6 322.6L2519.2 330.9L2519.8 335L2520.4 338.5L2521 348.6L2521.6 350.8L2522.2 355.8L2522.8 362L2523.4 370L2524 378L2524.6 384.5L2525.2 388.7L2525.8 392.2L2526.4 399.3L2527 404.9L2527.6 412.4L2528.2 414.3L2528.8 422.8L2529.4 428.8L2530 432.2L2530.6 438.3L2531.2 440.6L2531.8 444.6L2532.4 450.9L2533 459L2533.6 463.5L2534.2 465.4L2534.8 473.2L2535.4 475L2536 483.2L2536.6 485.9L2537.2 488.9L2537.8 496.1L2538.4 497.8L2539 502.3L2539.6 506.1L2540.2 514.1L2540.8 518.3L2541.4 522.8L2542 526.6L2542.6 534.6L2543.2 535.5L2543.8 539.3L2544.4 547.5L2545 552.3L2545.6 554.6L2546.2 556.4L2546.8 564.2L2547.4 572.2L2548 574.7L2548.6 580.8L2549.2 577.6L2549.8 582L2550.4 580L2551 584.3L2551.6 582.1L2552.2 584.8L2552.8 582.1L2553.4 581.2L2554 582.3L2554.6 583.8L2555.2 585.3L2555.8 592.3L2556.4 595.3L2557 596L2557.6 596.2L2558.2 600.6L2558.8 601.9L2559.4 608.3L2560 608.6L2560.6 611.3L2561.2 612L2561.8 611.3L2562.4 616.1L2563 617.8L2563.6 623L2564.2 625.5L2564.8 626.9L2565.4 630.9L2566 637.7L2566.6 636.1L2567.2 639L2567.8 642.4L2568.4 643.6L2569 646.2L2569.6 648.3L2570.2 650.8L2570.8 644.4L2571.4 648L2572 648.4L2572.6 648.4L2573.2 648.4L2573.8 648.4L2574.4 651.2L2575 648.7L2575.6 649.6L2576.2 650.2L2576.8 650.8L2577.4 650.8L2578 653.5L2578.6 652.1L2579.2 652.9L2579.8 652.9L2580.4 651.6L2581 652.4L2581.6 652.5L2582.2 655.3L2582.8 654.1L2583.4 653.9L2584 657.8L2584.6 659.9L2585.2 657.2L2585.8 665.3L2586.4 663.8L2587 665.1L2587.6 669L2588.2 668.7L2588.8 669L2589.4 676L2590 671.4L2590.6 674.9L2591.2 678.3L2591.8 676.3L2592.4 679.8L2593 682.1L2593.6 687.2L2594.2 682.2L2594.8 685.1L2595.4 687.7L2596 687.9L2596.6 686.7L2597.2 691.1L2597.8 691.8L2598.4 693.6L2599 696L2599.6 696.9L2600.2 696.8L2600.8 697.8L2601.4 696.2L2602 699.2L2602.6 700.9L2603.2 700.9L2603.8 704.7L2604.4 706.7L2605 714.9" fill="none" stroke="#9d1fa1" stroke-width="1.8" clip-path="url(#c3)" stroke-linejoin="bevel"/>
<path d="M2001 531.9L2002.2 752.7L2003.1 526.2L2004.4 754.4L2005.4 519.7L2006.5 750.9L2007.4 512.1L2008.7 742L2010 528.9L2011 757.9L2012.1 525.6L2013.2 743.2L2014.1 522.9L2015 756.5L2016 501.6L2016.9 747.7L2018 528.5L2019.1 744.2L2020.4 524.4L2021.7 759.1L2023 520.3L2024.1 750.7L2025 514.5L2026.3 753.4L2027.2 527L2028.5 750.7L2029.7 496.3L2030.8 771.4L2031.8 510L2032.8 761.7L2033.7 512.8L2034.9 756.4L2036.2 514.4L2037.1 774.6L2038.1 513.8L2039.2 759.3L2040.2 519.7L2041.3 761L2042.4 519.4L2043.7 751.3L2044.8 509.9L2046 748.7L2047 517.7L2048.1 762.4L2049 509L2049.9 757.2L2051 512.8L2052 759.8L2053.2 504.8L2054.4 752.2L2055.8 511.3L2056.8 753.5L2057.8 503.2L2059 747.3L2060.1 510.6L2061.5 782.2L2062.5 508.8L2063.8 758.2L2064.8 513L2066.1 755.7L2066.9 509.5L2068.1 770.8L2069.4 506L2070.4 758L2071.3 505.6L2072.2 762L2073.4 516L2074.4 757L2075.3 515.1L2076.4 755.3L2077.5 505.3L2078.6 751.2L2079.6 498.5L2080.8 751.1L2081.9 513.7L2083 754.3L2084.3 506.8L2085.4 769.7L2086.7 507.1L2087.9 757.1L2089.2 503.8L2090.1 763.1L2091.2 505.5L2092.5 748.1L2093.3 495.1L2094.7 775L2095.6 511.9L2096.5 760.5L2097.5 515.4L2098.5 762.3L2099.7 501.4L2101 751L2102.3 513.9L2103.4 748L2104.5 501.9L2105.5 747.5L2106.6 499.2L2107.6 750L2108.9 508L2110 751.8L2111 510.6L2112 759.7L2113.3 500.9L2114.4 757.9L2115.7 507.4L2117.1 762L2118 505.1L2119.2 757.3L2120.6 484.8L2121.5 748.9L2122.7 496.9L2124.1 761.3L2125.3 504.9L2126.4 762.3L2127.4 497.2L2128.5 754.8L2129.7 499L2130.8 765.7L2131.7 498.4L2132.6 756.8L2133.5 498L2134.7 761.4L2135.6 501.4L2136.9 756.7L2138.2 483.5L2139.2 763L2140.2 492.2L2141.3 758.1L2142.3 496L2143.4 759.3L2144.7 470L2145.9 763.7L2147 500.5L2148.3 763.7L2149.2 494.9L2150.5 760.7L2151.5 497.3L2152.8 784.5L2154.2 491L2155.2 752.5L2156.3 500.5L2157.3 756.3L2158.3 498L2159.3 756.7L2160.6 494.4L2161.8 760.9L2163 485.3L2164.4 763L2165.6 476.6L2166.7 757.8L2167.9 504.3L2169.2 761.2L2170.3 494.8L2171.2 755L2172.1 502.4L2173.2 764.9L2174.6 505.8L2175.9 771.1L2176.8 506.7L2178 755.1L2179 499.2L2180 779.4L2181.3 508.5L2182.4 770L2183.5 492.4L2184.4 768.3L2185.5 509.1L2186.6 757.9L2187.8 509.1L2188.7 792L2190 509.5L2191 767.8L2192.1 489.9L2193.3 779.1L2194.4 513.5L2195.4 795L2196.4 505.1L2197.4 771.9L2198.3 518.2L2199.2 762.8L2200.3 516.5L2201.3 770.4L2202.1 490.6L2203 773.8L2204.2 505.8L2205.1 781.5L2206.3 515.1L2207.5 762.7L2208.7 499.9L2209.9 761.3L2211 511.8L2212.2 768.5L2213.2 507.2L2214.4 765.6L2215.7 517.5L2216.9 774.8L2217.9 507.6L2218.8 760.7L2220.1 509.5L2221.3 765.8L2222.4 517.8L2223.5 781.4L2224.6 521.2L2225.9 769.3L2227 516L2228.2 764.1L2229.3 504.4L2230.2 773.3L2231.4 500L2232.5 771.4L2233.8 497.6L2234.8 765.1L2235.9 518L2237.1 767.2L2238.1 520.5L2239.2 775.2L2240.4 523.5L2241.5 770.1L2242.6 492.6L2243.9 764.8L2245.1 512L2246.2 777.4L2247.6 515.6L2248.8 790.7L2249.7 515.8L2250.9 776.2L2252.3 495.5L2253.6 774.3L2254.8 516.5L2255.9 762.5L2257.2 513.8L2258.4 764.4L2259.4 505L2260.3 787.2L2261.6 505.7L2262.7 773.8L2264 519L2264.9 774.8L2265.9 513L2267.2 767.7L2268.5 523.4L2269.4 763L2270.5 507.5L2271.5 790.7L2272.9 522.4L2274.1 770.5L2275.1 528.7L2276.3 769.9L2277.6 523.8L2278.5 774.8L2279.8 515.5L2280.7 759L2281.7 527.6L2282.7 772.1L2283.6 530.1L2284.8 769.9L2285.7 515.6L2286.9 767.4L2287.8 505.2L2288.8 762.5L2289.7 506.1L2290.9 765.9L2291.8 526.2L2292.8 762.5L2293.8 531.3L2295.1 760.7L2296 516.6L2297.1 768L2298 521.4L2299 763.8L2300 529.6L2301.1 782.2L2302.1 501L2303.1 756.9L2304.2 519.8L2305.4 769.9L2306.8 522.2L2308.1 764.3L2309.2 505.3L2310.1 766.7L2311.1 531.6L2312.4 768.4L2313.6 524.6L2314.5 767.7L2315.4 530.8L2316.3 769L2317.3 521.1L2318.5 765.7L2319.5 525.2L2320.4 754.1L2321.6 533.3L2322.4 764.1L2323.7 534.2L2324.7 764L2326 525L2327.3 758.1L2328.5 521.3L2329.6 763.9L2330.8 531.2L2331.7 752.5L2333.1 536.1L2334.2 752.9L2335.5 536.5L2336.8 751.9L2337.8 529.4L2339.1 754.8L2340.4 528.6L2341.5 755.1L2342.5 527.7L2343.4 748L2344.5 534.2L2345.6 746.8L2346.9 536.9L2348.1 755.7L2349 530.2L2350.3 754.2L2351.6 542.1L2352.8 748.3L2354.1 540.2L2355.2 753.6L2356.5 513.1L2357.7 740.4L2358.8 537.6L2360.1 745.7L2361 541.5L2362.3 772.9L2363.2 545L2364.6 744.3L2365.8 534.2L2366.8 736.8L2367.9 541L2368.9 746.7L2370.2 537.2L2371.3 737.4L2372.6 545.2L2373.4 743.3L2374.6 538.8L2375.9 744.1L2377.1 544.9L2378.1 741.6L2379.1 529.5L2380.4 740.3L2381.6 517.4L2382.9 735.6L2384.2 543.7L2385.4 731.5L2386.6 546.6L2387.4 749.4L2388.4 547.5L2389.5 739.9L2390.8 517.5L2391.8 728.2L2392.8 540.8L2394.8 732.7L2396.2 537.3L2398.1 732.8L2400.1 537.9L2402.3 726.2L2404.1 550.2L2405.8 729L2407.8 544.6L2409.9 714.2L2412 542.3L2414.9 712.3L2418.1 525.1L2420.7 721.5L2423.8 549.6L2427.4 727.5L2434.3 534L2435.4 620L2437 666.1L2437.6 672.9L2438.1 675.2L2438.7 674.9L2439.2 681.7L2439.8 681.1L2440.3 682.7L2440.9 684.6L2441.4 683.4L2442 684.9L2442.5 686.4L2443.1 691.1L2443.6 691.8L2444.2 688.5L2444.7 693.1L2445.3 689.5L2445.8 690.8L2446.4 692.2L2446.9 691.1L2447.5 696.3L2448 691.6L2448.6 688.1L2449.1 693.7L2449.7 689.6L2450.2 689.8L2450.8 683.4L2451.3 692.5L2451.9 691.9L2452.4 691.4L2453 691.3L2453.5 692.4L2454.1 687.8L2454.6 689.6L2455.2 685.1L2455.7 685.5L2456.3 688L2456.8 685.6L2457.4 680.7L2457.9 683.7L2458.5 681.5L2459 679.1L2459.6 680.6L2460.1 677.3L2460.7 673.3L2461.2 672.9L2461.8 678.2L2462.3 669.3L2462.9 670.2L2463.4 665.9L2464 660.8L2464.5 651.3L2465.1 648.2L2465.6 644.1L2466.2 639.3L2466.7 626.6L2467.3 616.1L2467.8 611.7L2468.4 602.6L2468.9 591.6L2469.5 579.9L2470 574.1L2470.6 563.9L2471.1 559L2471.7 539.8L2472.2 538.1L2472.8 528.1L2473.3 514.6L2473.9 512.5L2474.4 502.8L2475 491.7L2475.5 492.5L2476.1 480.6L2476.6 484.7L2477.2 484.4L2477.7 480.9L2478.3 482.2L2478.8 467.9L2479.4 463.6L2479.9 469.7L2480.5 468.8L2481 475.4L2481.6 466L2482.1 456.6L2482.7 463.3L2483.2 453.2L2483.8 448.1L2484.3 467L2484.9 453.6L2485.4 453.8L2486 451.2L2486.5 455.7L2487.1 446.2L2487.6 449.1L2488.2 435.3L2488.7 429.4L2489.3 439.6L2489.8 435.7L2490.4 426.8L2490.9 421.3L2491.5 416.9L2492 408.5L2492.6 414.6L2493.1 405L2493.7 399L2494.2 393.2L2494.8 391.5L2495.3 384.4L2495.9 382.2L2496.4 369L2497 374L2497.5 379L2498.1 361.8L2498.6 360.3L2499.2 361.9L2499.7 358.8L2500.3 353.7L2500.8 339L2501.4 346.4L2501.9 334.6L2502.5 333.1L2503 336.8L2503.6 329.2L2504.1 331.5L2504.7 340L2505.2 324.7L2505.8 321.2L2506.3 309.8L2506.9 308.1L2507.4 302.9L2508 302.6L2508.5 296.7L2509.1 295.9L2509.6 295.1L2510.2 288.1L2510.7 283L2511.3 280.2L2511.8 286.4L2512.4 285.1L2512.9 292.7L2513.5 295.5L2514 291.3L2514.6 299.1L2515.1 291.4L2515.7 314L2516.2 312.2L2516.8 308.8L2517.3 307.8L2517.9 319.3L2518.4 311.7L2519 322L2519.5 335.2L2520.1 337L2520.6 341.1L2521.2 349.9L2521.7 350.8L2522.3 359.2L2522.8 362.9L2523.4 367.6L2523.9 376.2L2524.5 378.4L2525 390.7L2525.6 390.5L2526.1 402L2526.7 400.5L2527.2 410L2527.8 411.2L2528.3 415.4L2528.9 423.4L2529.4 429.1L2530 429.2L2530.5 439.3L2531.1 439.3L2531.6 446L2532.2 451L2532.7 455.8L2533.3 454.6L2533.8 466.8L2534.4 468.7L2534.9 470.7L2535.5 473.6L2536 476.4L2536.6 481.5L2537.1 490.2L2537.7 492.6L2538.2 495.1L2538.8 500.9L2539.3 510.1L2539.9 510.1L2540.4 513.9L2541 522.7L2541.5 524.8L2542.1 527.9L2542.6 530.4L2543.2 532.3L2543.7 537.3L2544.3 542.9L2544.8 547.6L2545.4 553L2545.9 558.1L2546.5 562.6L2547 567.8L2547.6 569.9L2548.1 570.2L2548.7 576.9L2549.2 578L2549.8 579.2L2550.3 580.5L2550.9 578.8L2551.4 579.6L2552 582.4L2552.5 583.3L2553.1 582L2553.6 585.2L2554.2 584L2554.7 582.7L2555.3 587.6L2555.8 594.3L2556.4 590.9L2556.9 597.7L2557.5 600.7L2558 603.4L2558.6 600.3L2559.1 609L2559.7 606.8L2560.2 608.2L2560.8 610.4L2561.3 614.5L2561.9 615.5L2562.4 617.1L2563 622.7L2563.5 620.2L2564.1 622.1L2564.6 629.2L2565.2 631.9L2565.7 635.7L2566.3 633.6L2566.8 641.4L2567.4 642.3L2567.9 647.2L2568.5 642.2L2569 647.5L2569.6 646.6L2570.1 643.8L2570.7 646.1L2571.2 650.5L2571.8 647.1L2572.3 646.8L2572.9 650.6L2573.4 651.2L2574 651.4L2574.5 647.5L2575.1 649.5L2575.6 652.2L2576.2 648.6L2576.7 648.8L2577.3 652.9L2577.8 655L2578.4 649.2L2578.9 646.3L2579.5 649.4L2580 650.9L2580.6 653.3L2581.1 655.5L2581.7 654.2L2582.2 653.3L2582.8 655.8L2583.3 653.6L2583.9 656.8L2584.4 656.9L2585 666L2585.5 663.2L2586.1 660.9L2586.6 662L2587.2 664.7L2587.7 663.4L2588.3 667L2588.8 668.5L2589.4 673.7L2589.9 672.2L2590.5 672.8L2591 673.1L2591.6 674.9L2592.1 679L2592.7 680.1L2593.2 684.4L2593.8 681.5L2594.3 686.6L2594.9 685.9L2595.4 686.5L2596 683L2596.5 685.8L2597.1 691.7L2597.6 694.4L2598.2 692.8L2598.7 695.1L2599.3 693.4L2599.8 694.5L2600.4 694.8L2600.9 699.6L2601.5 699.2L2602 698.9L2602.6 699.7L2603.1 702.7L2603.7 704.3L2604.2 705.1L2604.8 714.4L2605.6 716L2606.3 534L2607.4 700L2610 720L2612.8 722L2613.6 542L2614.8 705L2618 728L2620.5 730L2621.3 527L2622.4 725L2624.6 744L2626 531.1L2626.9 751.3L2628.8 549L2629.8 747.5L2631.4 539L2632.3 745.5L2633.5 522.8L2634.2 751L2635.9 524.2L2636.9 743.1L2639 536.7L2639.9 748.4L2641.8 517.5L2642.4 750.5L2643.7 527.8L2644.6 745.4L2646.8 535.3L2647.4 753.4L2649 536L2650 755.9L2651 545.1L2651.9 746L2653.3 527.9L2654.3 749.4L2655.3 538" fill="none" stroke="#9d1fa1" stroke-width="2" clip-path="url(#c3)" stroke-linejoin="bevel"/>
<rect x="1886" y="255" width="3.5" height="583" fill="#31313c" />
<text x="1986" y="308.8" font-family='"Liberation Sans", sans-serif' font-size="22" font-weight="700" fill="#9b9eae" text-anchor="end" textLength="73" lengthAdjust="spacingAndGlyphs"  stroke="#9b9eae" stroke-width="0.45" stroke-linejoin="round">18.5 °C</text>
<text x="1986" y="379.7" font-family='"Liberation Sans", sans-serif' font-size="22" font-weight="700" fill="#9b9eae" text-anchor="end" textLength="53.4" lengthAdjust="spacingAndGlyphs"  stroke="#9b9eae" stroke-width="0.45" stroke-linejoin="round">18 °C</text>
<text x="1986" y="450.6" font-family='"Liberation Sans", sans-serif' font-size="22" font-weight="700" fill="#9b9eae" text-anchor="end" textLength="73" lengthAdjust="spacingAndGlyphs"  stroke="#9b9eae" stroke-width="0.45" stroke-linejoin="round">17.5 °C</text>
<text x="1986" y="521.5" font-family='"Liberation Sans", sans-serif' font-size="22" font-weight="700" fill="#9b9eae" text-anchor="end" textLength="53.4" lengthAdjust="spacingAndGlyphs"  stroke="#9b9eae" stroke-width="0.45" stroke-linejoin="round">17 °C</text>
<text x="1986" y="592.4" font-family='"Liberation Sans", sans-serif' font-size="22" font-weight="700" fill="#9b9eae" text-anchor="end" textLength="73" lengthAdjust="spacingAndGlyphs"  stroke="#9b9eae" stroke-width="0.45" stroke-linejoin="round">16.5 °C</text>
<text x="1986" y="663.3" font-family='"Liberation Sans", sans-serif' font-size="22" font-weight="700" fill="#9b9eae" text-anchor="end" textLength="53.4" lengthAdjust="spacingAndGlyphs"  stroke="#9b9eae" stroke-width="0.45" stroke-linejoin="round">16 °C</text>
<text x="1986" y="734.2" font-family='"Liberation Sans", sans-serif' font-size="22" font-weight="700" fill="#9b9eae" text-anchor="end" textLength="73" lengthAdjust="spacingAndGlyphs"  stroke="#9b9eae" stroke-width="0.45" stroke-linejoin="round">15.5 °C</text>
<text x="1986" y="805.1" font-family='"Liberation Sans", sans-serif' font-size="22" font-weight="700" fill="#9b9eae" text-anchor="end" textLength="53.4" lengthAdjust="spacingAndGlyphs"  stroke="#9b9eae" stroke-width="0.45" stroke-linejoin="round">15 °C</text>
<text x="2074.7" y="832.2" font-family='"Liberation Sans", sans-serif' font-size="22" font-weight="700" fill="#9b9eae" text-anchor="middle" textLength="66" lengthAdjust="spacingAndGlyphs"  stroke="#9b9eae" stroke-width="0.45" stroke-linejoin="round">09 Jan</text>
<text x="2237.6" y="832.2" font-family='"Liberation Sans", sans-serif' font-size="22" font-weight="700" fill="#9b9eae" text-anchor="middle" textLength="55.2" lengthAdjust="spacingAndGlyphs"  stroke="#9b9eae" stroke-width="0.45" stroke-linejoin="round">06:00</text>
<text x="2401.5" y="832.2" font-family='"Liberation Sans", sans-serif' font-size="22" font-weight="700" fill="#9b9eae" text-anchor="middle" textLength="55.2" lengthAdjust="spacingAndGlyphs"  stroke="#9b9eae" stroke-width="0.45" stroke-linejoin="round">12:00</text>
<text x="2565.5" y="832.2" font-family='"Liberation Sans", sans-serif' font-size="22" font-weight="700" fill="#9b9eae" text-anchor="middle" textLength="55.2" lengthAdjust="spacingAndGlyphs"  stroke="#9b9eae" stroke-width="0.45" stroke-linejoin="round">18:00</text>
<text x="1876" y="546.6" font-family='"Liberation Sans", sans-serif' font-size="22" font-weight="700" fill="#9194a4" text-anchor="middle" textLength="127" lengthAdjust="spacingAndGlyphs" transform="rotate(-90 1876 546.6)"  stroke="#9194a4" stroke-width="0.45" stroke-linejoin="round">Temperature</text>
<linearGradient id="g4" gradientUnits="userSpaceOnUse" x1="0" y1="243" x2="0" y2="822"><stop offset="0" stop-color="#d9dee8" stop-opacity="0"/><stop offset="0.1" stop-color="#d9dee8" stop-opacity="1.0"/><stop offset="0.9" stop-color="#d9dee8" stop-opacity="1.0"/><stop offset="1" stop-color="#d9dee8" stop-opacity="0"/></linearGradient>
<rect x="2082.1" y="243" width="2" height="579" fill="url(#g4)" />
<clipPath id="c5"><rect x="1973" y="962" width="682" height="543.3"/></clipPath>
<rect x="1976" y="1002" width="679" height="2" fill="#383846" />
<rect x="1976" y="1272" width="679" height="2" fill="#383846" />
<rect x="1976" y="1191" width="679" height="2" fill="#383846" />
<rect x="1976" y="1143" width="679" height="2" fill="#383846" />
<rect x="1976" y="1110" width="679" height="2" fill="#383846" />
<rect x="1976" y="1083" width="679" height="2" fill="#383846" />
<rect x="1976" y="1062" width="679" height="2" fill="#383846" />
<rect x="1976" y="1044" width="679" height="2" fill="#383846" />
<rect x="1976" y="1028" width="679" height="2" fill="#383846" />
<rect x="1976" y="1015" width="679" height="2" fill="#383846" />
<rect x="1976" y="1460" width="679" height="2" fill="#383846" />
<rect x="1976" y="1413" width="679" height="2" fill="#383846" />
<rect x="1976" y="1379" width="679" height="2" fill="#383846" />
<rect x="1976" y="1353" width="679" height="2" fill="#383846" />
<rect x="1976" y="1332" width="679" height="2" fill="#383846" />
<rect x="1976" y="1314" width="679" height="2" fill="#383846" />
<rect x="1976" y="1298" width="679" height="2" fill="#383846" />
<rect x="1976" y="1284" width="679" height="2" fill="#383846" />
<rect x="2049" y="962" width="2" height="540.3" fill="#383846" />
<rect x="2219" y="962" width="2" height="540.3" fill="#383846" />
<rect x="2391.2" y="962" width="2" height="540.3" fill="#383846" />
<rect x="2561.2" y="962" width="2" height="540.3" fill="#383846" />
<rect x="1973" y="962" width="3" height="543.3" fill="#383846" />
<rect x="1973" y="1502.3" width="682" height="3" fill="#383846" />
<path d="M1973 1505.3L1973 1438L1973.6 1447L1974.2 1447.5L1974.8 1418L1975.4 1430L1976 1442L1976.6 1448.1L1977.2 1448.1L1977.8 1448.4L1978.4 1448L1979 1449.1L1979.6 1448.5L1980.2 1449.3L1980.8 1449.3L1981.4 1449.9L1982 1449.5L1982.6 1450.2L1983.2 1449.3L1983.8 1450.3L1984.4 1450L1985 1450.3L1985.6 1450.4L1986.2 1451L1986.8 1449.7L1987.4 1451L1988 1450.3L1988.6 1451.8L1989.2 1450.3L1989.8 1450.9L1990.4 1450.8L1991 1452.6L1991.6 1451.3L1992.2 1452.1L1992.8 1451.9L1993.4 1451.5L1994 1452.3L1994.6 1453L1995.2 1452.7L1995.8 1453.4L1996.4 1452.9L1997 1453.3L1997.6 1453.2L1998.2 1453.7L1998.8 1454.6L1999.4 1454L2000 1454.1L2000.6 1453.8L2001.2 1453.9L2001.8 1455.1L2002.4 1453.9L2003 1454.1L2003.6 1454.7L2004.2 1454.6L2004.8 1455.9L2005.4 1453.9L2006 1455.4L2006.6 1455.7L2007.2 1454.9L2007.8 1455.2L2008.4 1455.9L2009 1456.6L2009.6 1455.5L2010.2 1455.3L2010.8 1456.6L2011.4 1457L2012 1456.2L2012.6 1455.4L2013.2 1457.4L2013.8 1456.7L2014.4 1457.4L2015 1457L2015.6 1456.9L2016.2 1457L2016.8 1458.1L2017.4 1458.2L2018 1456.5L2018.6 1457.3L2019.2 1458.7L2019.8 1457.8L2020.4 1457.4L2021 1458.2L2021.6 1458.3L2022.2 1458.4L2022.8 1458.3L2023.4 1458.5L2024 1458.6L2024.6 1459.1L2025.2 1458.6L2025.8 1458.9L2026.4 1459.1L2027 1459.9L2027.6 1459.4L2028.2 1459.3L2028.8 1459.6L2029.4 1459.6L2030 1460L2030.6 1459.8L2031.2 1460.5L2031.8 1460.4L2032.4 1459.7L2033 1459.6L2033.6 1460.3L2034.2 1460.2L2034.8 1459.9L2035.4 1459.3L2036 1459.2L2036.6 1460.3L2037.2 1460.6L2037.8 1460.7L2038.4 1459.7L2039 1460.9L2039.6 1460.2L2040.2 1460.7L2040.8 1460.8L2041.4 1460.2L2042 1460.4L2042.6 1459.7L2043.2 1460.4L2043.8 1460L2044.4 1461.2L2045 1461L2045.6 1461.5L2046.2 1461.3L2046.8 1460.9L2047.4 1461.4L2048 1461.1L2048.6 1461.7L2049.2 1461.6L2049.8 1461L2050.4 1461.5L2050.8 1461L2051.2 1010L2052 983L2053 986L2054.5 998L2057 1020L2060 1048L2061 1058L2061.3 1240L2061.8 1378L2062.2 1388.3L2062.8 1397.2L2063.4 1405.2L2064 1412.2L2064.6 1417L2065.2 1422.3L2065.8 1426.3L2066.4 1432L2067 1436.1L2067.6 1438.9L2068.2 1443.1L2068.8 1445.8L2069.4 1447.6L2070 1449.9L2070.6 1451.6L2071.2 1454.3L2071.8 1388L2072.4 1433.9L2073 1459.3L2073.6 1459.6L2074.2 1460.9L2074.8 1461.7L2075.4 1462.1L2076 1463.6L2076.6 1464.6L2077.2 1388L2077.8 1440L2078.4 1467L2079 1467.5L2079.6 1466.7L2080.2 1467.6L2080.8 1467.8L2081.4 1469.7L2082 1469.9L2082.6 1470.4L2083.2 1470L2083.8 1470.3L2084.4 1471.2L2085 1471.5L2085.6 1471.3L2086.2 1471.9L2086.8 1472.3L2087.4 1472.1L2087.5 1471.7L2088.1 1471.5L2088.7 1472.4L2089.3 1472.8L2089.9 1472.8L2090.5 1472.9L2091.1 1473L2091.7 1445L2092.3 1464.1L2092.9 1473.8L2093.5 1473.6L2094.1 1473.9L2094.7 1474.4L2095.3 1474.1L2095.9 1474.2L2096.5 1474.8L2097.1 1475.6L2097.7 1475.3L2098.3 1476L2098.9 1475.6L2099.5 1475.7L2100.1 1475.4L2100.7 1475.9L2101.3 1476.9L2101.9 1476.7L2102.5 1477L2103.1 1477.2L2103.7 1445L2104.3 1466.5L2104.9 1477.5L2105.5 1477.9L2106.1 1478L2106.7 1478.2L2107.3 1478.2L2107.9 1478.1L2108.5 1478.4L2109.1 1478.3L2109.7 1479.3L2110.3 1478.2L2110.9 1479.1L2111.5 1480.2L2112.1 1479.2L2112.7 1479L2113.3 1479.5L2113.9 1480.1L2114.5 1479.6L2115.1 1480L2115.7 1479.9L2116.3 1432L2116.9 1464.9L2117.5 1480.2L2118.1 1480.1L2118.7 1480.2L2119.3 1480.6L2119.9 1480.7L2120.5 1481L2121.1 1480.8L2121.7 1480.3L2122.3 1481.1L2122.9 1480.9L2123.5 1481L2124.1 1480.6L2124.7 1481.1L2125.3 1481.1L2125.9 1481.5L2126.5 1481L2127.1 1481.7L2127.7 1481.8L2128.3 1481.4L2128.9 1481.7L2129.5 1481.7L2130.1 1482.5L2130.7 1481.2L2131.3 1482.2L2131.9 1481.8L2132.5 1482.4L2133.1 1483L2133.7 1482.5L2134.3 1482.9L2134.9 1482.6L2135.5 1483.8L2136.1 1483.5L2136.7 1483.6L2137.3 1482.8L2137.9 1482.9L2138.5 1483.9L2139.1 1483.5L2139.7 1483.6L2140.3 1483.9L2140.9 1483.4L2141.5 1484.3L2142.1 1484.1L2142.7 1447L2143.3 1471.6L2143.9 1484.5L2144.5 1484.1L2145.1 1484.9L2145.7 1485L2146.3 1484.9L2146.9 1484.7L2147.5 1484.8L2148.1 1483.5L2148.7 1484.9L2149.3 1484.5L2149.9 1484.6L2150.5 1484.5L2151.1 1484L2151.7 1441L2152.3 1470.2L2152.9 1485.2L2153.5 1484.4L2154.1 1484.3L2154.7 1485.2L2155.3 1484.3L2155.9 1485.5L2156.5 1484.7L2157.1 1484.3L2157.7 1485.1L2158.3 1485.4L2158.9 1484.1L2159.5 1466L2160.1 1478.4L2160.7 1485.3L2161.3 1484.6L2161.9 1484.1L2162.5 1485L2163.1 1485.1L2163.7 1485.6L2164.3 1485.5L2164.9 1485.1L2165.5 1484.7L2166.1 1484.6L2166.7 1484.7L2167.3 1484.5L2167.9 1470L2168.5 1479.2L2169.1 1484.9L2169.7 1484.8L2170.3 1485.9L2170.9 1485.2L2171.5 1484.7L2172.1 1485.1L2172.7 1484.4L2173.3 1484.7L2173.9 1484.2L2174.5 1485.5L2175.1 1485.2L2175.7 1484.5L2176.3 1484.9L2176.9 1485.3L2177.5 1485.2L2178.1 1485.1L2178.7 1484.6L2179.3 1484.7L2179.9 1485L2180.5 1485.4L2181.1 1484.6L2181.7 1484.5L2182.3 1485.4L2182.9 1484.5L2183.5 1485.3L2184.1 1485L2184.7 1485.2L2185.3 1485.5L2185.9 1485.1L2186.5 1485.1L2187.1 1484.4L2187.7 1484.5L2188.3 1485L2188.9 1485.4L2189.5 1485.3L2190.1 1485.6L2190.7 1484.8L2191.3 1484.8L2191.9 1485.1L2192.5 1484.7L2193.1 1484.6L2193.7 1484.2L2194.3 1485L2194.9 1484.1L2195.5 1484.8L2196.1 1484L2196.7 1485L2197.3 1484.1L2197.9 1484.8L2198.5 1483.8L2199.1 1484.3L2199.7 1484.9L2200.3 1484.1L2200.9 1484.4L2201.5 1484.2L2202.1 1483.4L2202.7 1484.5L2203.3 1484.5L2203.9 1483.9L2204.5 1484.5L2205.1 1484L2205.7 1483.9L2206.3 1484.3L2206.9 1484L2207.5 1485.1L2208.1 1383.6L2208.7 1450.9L2209.3 1400L2209.9 1455.6L2210.5 1483.4L2211.1 1484.3L2211.7 1483.9L2212.3 1484.2L2212.9 1484.5L2213.5 1483.9L2214.1 1483.6L2214.7 1482.9L2215.3 1484.1L2215.9 1483.6L2216.5 1484.1L2217.1 1484L2217.7 1483.4L2218.3 1484.6L2218.9 1484.4L2219.5 1484.2L2220.1 1421.6L2220.7 1463L2221.3 1483.7L2221.9 1483.7L2222.5 1468L2223.1 1478.7L2223.7 1483.9L2224.3 1484L2224.9 1483.6L2225.5 1484.3L2226.1 1483.8L2226.7 1482.7L2227.3 1483.5L2227.9 1483.7L2228.5 1484.1L2229.1 1483.6L2229.7 1483.6L2230.3 1483.4L2230.9 1483.9L2231.5 1483.5L2232.1 1483.4L2232.7 1483.3L2233.3 1483.8L2233.9 1483.4L2234.5 1482.9L2235.1 1483.8L2235.7 1483.3L2236.3 1483.7L2236.9 1483.7L2237.5 1484L2238.1 1468L2238.7 1478.2L2239.3 1483.4L2239.9 1483L2240.5 1484.2L2241.1 1483.6L2241.7 1484L2242.3 1483.3L2242.9 1482.6L2243.5 1484L2244.1 1483.4L2244.7 1483.4L2245.3 1483.4L2245.9 1483.6L2246.5 1483.6L2247.1 1482.7L2247.7 1483.8L2248.3 1483.1L2248.9 1483.1L2249.5 1484L2250.1 1483.7L2250.7 1483.1L2251.3 1482.5L2251.9 1483.3L2252.5 1483.5L2253.1 1483.2L2253.7 1482.7L2254.3 1482.9L2254.9 1482.7L2255.5 1483.3L2256.1 1483.5L2256.7 1483.6L2257.3 1482.8L2257.9 1483.2L2258.5 1483.3L2259.1 1482.9L2259.7 1483L2260.3 1483.9L2260.9 1483.1L2261.5 1483.4L2262.1 1482.9L2262.7 1483L2263.3 1482.3L2263.9 1483L2264.5 1483.4L2265.1 1483.6L2265.7 1483.2L2266.3 1482.8L2266.9 1482.5L2267.5 1482.1L2268.1 1482.1L2268.7 1482.3L2269.3 1481.7L2269.9 1482.2L2270.5 1481.4L2271.1 1480.9L2271.7 1481.1L2272.3 1480.7L2272.9 1480.7L2273.5 1481.6L2274.1 1481L2274.7 1481L2275.3 1481.3L2275.9 1481.2L2276.5 1480.4L2277.1 1481L2277.7 1480.5L2278.3 1480.3L2278.9 1480.3L2279.5 1479.4L2280.1 1479.6L2280.7 1479.7L2281.3 1479.9L2281.9 1479.4L2282.5 1479.4L2283.1 1479.7L2283.7 1479.8L2284.3 1479.4L2284.9 1479.5L2285.5 1478.7L2286.1 1478.6L2286.7 1478.8L2287.3 1478.4L2287.9 1478.2L2288.5 1478.9L2289.1 1478.1L2289.7 1477.7L2290.3 1478.1L2290.9 1478.5L2291.5 1477.7L2292.1 1478L2292.7 1477.2L2293.3 1477.1L2293.9 1476.8L2294.5 1476.9L2295.1 1477.6L2295.7 1476.2L2296.3 1477.2L2296.9 1476L2297.5 1476.2L2298.1 1476.5L2298.7 1476.3L2299.3 1476L2299.9 1475.1L2300.5 1475.8L2301.1 1388L2301.7 1446.9L2302.3 1475.1L2302.9 1475.2L2303.5 1474.5L2304.1 1474.6L2304.7 1474.2L2305.3 1474.9L2305.9 1474.3L2306.5 1474.5L2307.1 1473.9L2307.7 1473.8L2308.3 1474.4L2308.9 1473.3L2309.5 1472.9L2310.1 1473.6L2310.7 1472.9L2311.3 1473L2311.9 1473.4L2312.5 1472.6L2313.1 1473.1L2313.7 1472.4L2314.3 1473.1L2314.9 1472.9L2315.5 1472L2316.1 1472L2316.7 1471.6L2317.3 1471.9L2317.9 1472.2L2318.5 1471L2319.1 1471.8L2319.7 1470.8L2320.3 1470.8L2320.9 1371L2321.5 1438.1L2322.1 1470.8L2322.7 1470.7L2323.3 1470.2L2323.9 1408L2324.5 1448.9L2325.1 1470.1L2325.7 1470.8L2326.3 1469.5L2326.9 1469.5L2327.5 1469.6L2328.1 1468.8L2328.7 1468.9L2329.3 1469.1L2329.9 1468.5L2330.5 1468.4L2331.1 1467.9L2331.7 1468L2332.3 1467.7L2332.9 1468L2333.5 1467.5L2334.1 1466.9L2334.7 1465.9L2335.3 1466.9L2335.9 1466.7L2336.5 1451L2337.1 1460.5L2337.7 1465.4L2338.3 1466L2338.9 1465L2339.5 1465L2340.1 1465.1L2340.7 1465.3L2341.3 1464.6L2341.9 1464.3L2342.5 1464L2343.1 1464.6L2343.7 1464.2L2344.3 1463.5L2344.9 1462.8L2345.5 1462.8L2346.1 1463.2L2346.7 1462.5L2347.3 1462.9L2347.9 1462.5L2348.5 1462.2L2349.1 1462.2L2349.7 1461.9L2350.3 1461.2L2350.9 1461.2L2351.5 1462L2352.1 1460.4L2352.7 1460.5L2353.3 1460.9L2353.9 1460.2L2354.5 1459.8L2355.1 1459.4L2355.7 1459.9L2356.3 1459.9L2356.9 1459.8L2357.5 1459.1L2358.1 1459.3L2358.7 1458.2L2359.3 1458.5L2359.9 1458L2360.5 1458.1L2361.1 1458.1L2361.7 1458L2362.3 1456.9L2362.9 1457.6L2363.5 1456.6L2364.1 1456.1L2364.7 1456.2L2365.3 1455.4L2365.9 1455.7L2366.5 1373.5L2367.1 1427.9L2367.7 1455.1L2368.3 1454.5L2368.9 1454.4L2369.5 1453.5L2370.1 1453.8L2370.7 1453.2L2371.3 1453.1L2371.9 1382L2372.5 1429.2L2373.1 1451.8L2373.7 1451.6L2374.3 1451.8L2374.9 1451.8L2375.5 1451.5L2376.1 1451.5L2376.7 1451.4L2377.3 1450.8L2377.9 1450.3L2378.5 1449.6L2379.1 1449.4L2379.7 1449.3L2380.3 1449.3L2380.9 1449L2381.5 1448.7L2382.1 1448.3L2382.7 1448.4L2383.3 1447.9L2383.9 1447.7L2384.5 1447.4L2385.1 1446.8L2385.7 1446.4L2386.3 1446.7L2386.9 1446.4L2387.5 1445.9L2388.1 1445.5L2388.7 1446.3L2389.3 1444.8L2389.9 1430L2390.5 1439.8L2391.1 1443.9L2391.7 1444.1L2392.3 1444.5L2392.9 1443.9L2393.5 1443.5L2394.1 1443.2L2394.7 1442.8L2395.3 1442.8L2395.9 1442.1L2396.5 1441.7L2397.1 1441.7L2397.7 1383L2398.3 1421.9L2398.9 1441.3L2399.5 1440.1L2400.1 1441.2L2400.7 1441.5L2401.3 1420L2401.9 1433.4L2402.5 1439.7L2403.1 1440L2403.7 1439.3L2404.3 1439.9L2404.9 1439.2L2405.5 1439.6L2406.1 1439.6L2406.7 1438.1L2407.3 1366L2407.9 1414.2L2408.5 1437.9L2409.1 1438L2409.7 1438L2410.3 1438.4L2410.9 1437.2L2411.5 1438L2412.1 1425L2412.7 1433.4L2413.3 1437.4L2413.9 1437L2414.5 1436.3L2415.1 1436.9L2415.7 1436.6L2416.3 1436.6L2416.9 1437.2L2416.2 1436L2416.8 1154L2417.4 1300L2418.6 1400L2419.8 1415L2420.9 1200L2421.4 984L2421.9 1150L2422.6 1380L2423.4 1402.6L2423.8 1388.4L2424.1 1400.4L2424.5 1415.4L2424.8 1394.4L2425.2 1403.2L2425.6 1400.3L2425.9 1386.8L2426.3 1385.4L2426.6 1416.4L2427 1380L2427.4 1400.8L2427.7 1401.5L2428.1 1417.5L2428.4 1394.2L2428.8 1405.2L2429.2 1407.9L2429.5 1417.2L2429.9 1389.8L2430.2 1402.3L2430.6 1406.7L2431 1411.2L2431.3 1395.2L2431.7 1409.6L2432 1415L2432.4 1416.4L2432.8 1398.4L2433.1 1378L2433.5 1393.4L2433.8 1404.3L2434.2 1403.4L2434.6 1423.8L2434.9 1391.4L2435.3 1423.8L2435.6 1392.2L2436 1393.8L2436.4 1398.3L2436.7 1401.1L2437.1 1420.6L2437.4 1420L2437.8 1423.2L2438.2 1404.8L2438.5 1392.3L2438.9 1412.8L2439.2 1421.9L2439.6 1395.5L2440 1376L2440.3 1386.8L2440.7 1416.3L2441 1408.5L2441.4 1422.1L2441.8 1421L2442.1 1394.1L2442.5 1408.8L2442.8 1400.5L2443.2 1406.9L2443.6 1395L2443.9 1380L2444.3 1397.4L2444.6 1393.3L2445 1408.2L2445.4 1421.3L2445.7 1395.1L2446.1 1422.6L2446.4 1408.3L2446.8 1399.6L2447.2 1423L2447.5 1407.6L2447.9 1406.4L2448.2 1404.4L2448.6 1419.7L2449 1383L2449.3 1393.8L2449.7 1401.4L2450 1394.7L2450.4 1418L2450.8 1407.3L2451.1 1410.5L2451.5 1418.9L2451.8 1407.2L2452.2 1400.7L2452.6 1408.1L2452.9 1407.1L2453.3 1401.2L2453.6 1399.1L2454 1402.7L2454.4 1413.5L2454.7 1397L2455.1 1420.8L2455.4 1398.9L2455.8 1399.9L2456.2 1395.6L2456.5 1403.2L2456.9 1402.5L2457.2 1411.2L2457.6 1417.1L2458 1398.9L2458.3 1414.4L2458.7 1400.4L2459 1152.4L2459.4 1314.3L2459.8 1300L2460.1 1367.9L2460.5 1410.7L2460.8 1392.4L2461.2 1410.4L2461.6 1397.7L2461.9 1403.6L2462.3 1409.5L2462.6 1396L2463 1405.4L2463.4 1413.5L2463.7 1395.6L2464.1 1403.6L2464.4 1396.1L2464.8 1395L2465.2 1403.9L2465.5 1403L2465.9 1407.7L2466.2 1413.1L2466.6 1409.1L2467 1399.6L2467.3 1403.3L2467.7 1408L2468 1373L2468.4 1396.3L2468.8 1403.4L2469.1 1394.1L2469.5 1412.3L2469.8 1397.6L2470.2 1400.6L2470.6 1412.3L2470.9 1395.7L2471.3 1412.8L2471.6 1396.1L2472 1392.6L2472.4 1402.9L2472.7 1409.5L2473.1 1400.1L2473.4 1410.5L2473.8 1399.8L2474.2 1409.6L2474.5 1393L2474.9 1397L2475.2 1393.2L2475.6 1407.4L2476 1401.1L2476.3 1405.3L2476.7 1395.7L2477 1406.9L2477.4 1412.7L2477.8 1391.9L2478.1 1397.3L2478.5 1409.6L2478.8 1409.1L2479.2 1409.4L2479.6 1395L2479.9 1402.4L2480.3 1391.8L2480.6 1399.4L2481 1402.5L2481.4 1395.4L2481.7 1399L2482.1 1397.7L2482.4 1391.5L2482.8 1391.1L2483.2 1406.5L2483.5 1389.5L2483.9 1410.7L2484.2 1408.7L2484.6 1410.6L2485 1406.2L2485.3 1389.3L2485.7 1391.6L2486 1395.9L2486.4 1382L2486.8 1387.5L2487.1 1408.5L2487.5 1408.2L2487.8 1405.1L2488.2 1394.1L2488.6 1406.7L2488.9 1406L2489.3 1395.4L2489.6 1391.2L2490 1391.3L2490.4 1397.1L2490.7 1405.9L2491.1 1390L2491.4 1397.4L2491.8 1395.8L2492.2 1406.9L2492.5 1391.5L2492.9 1401.9L2493.2 1395L2493.6 1401.6L2494 1405.2L2494.3 1405.2L2494.7 1405.6L2495 1394.2L2495.4 1393.8L2495.8 1390.7L2496.1 1393.3L2496.5 1390.5L2496.8 1404L2497.2 1389L2497.6 1391.9L2497.9 1404L2498.3 1403.5L2498.6 1407.6L2499 1395.7L2499.4 1388.8L2499.7 1404.1L2500.1 1393.6L2500.4 1403.3L2500.8 1388.2L2501.2 1384L2501.5 1394.4L2501.9 1401.3L2502.2 1398.9L2502.6 1398.2L2503 1399.5L2503.3 1390.3L2503.7 1388.9L2504 1394.5L2504.4 1398.3L2504.8 1392.5L2505.1 1391.1L2505.5 1396.2L2505.8 1395.5L2506.2 1392.7L2506.6 1405.4L2506.9 1405.7L2507.3 1388.3L2507.6 1396.7L2508 1392L2508.4 1393.9L2508.7 1347.5L2509.1 1375.2L2509.4 1388.2L2509.8 1390L2510.2 1400.2L2510.5 1389.1L2510.9 1404.9L2511.2 1403.4L2511.6 1393L2512 1401.3L2512.3 1406.5L2512.7 1390.1L2513 1398.9L2513.4 1397.1L2513.8 1394L2514.1 1393.6L2514.5 1389.6L2514.8 1400.9L2515.2 1391.9L2515.6 1396.5L2515.9 1406.7L2516.3 1395.1L2516.6 1369L2517 1394.3L2517.4 1400L2517.7 1399.8L2518.1 1392.7L2518.4 1401.3L2518.8 1396L2519.2 1399.4L2519.5 1396.5L2519.9 1390L2520.2 1406.5L2520.6 1402.7L2521 1408.3L2521.3 1394.8L2521.7 1394.3L2522 1391.3L2522.4 1394.9L2522.8 1395.3L2523.1 1392.4L2523.5 1394.2L2523.8 1394.8L2524.2 1406.8L2524.6 1398.1L2524.9 1406.1L2525.3 1389.8L2525.6 1392.8L2526 1409.1L2526.4 1389.9L2526.7 1390.3L2527.1 1400L2527.4 1395.1L2527.8 1393.1L2528.2 1402.1L2528.5 1402.2L2528.9 1393.1L2529.2 1400.7L2529.6 1399L2530 1407.6L2530.3 1390.6L2530.7 1394.3L2531 1401.6L2531.4 1390L2531.8 1407.9L2532.1 1410.7L2532.5 1396.7L2532.8 1406.6L2533.2 1395L2533.6 1410.6L2533.9 1394.3L2534.3 1389.8L2534.6 1391.2L2535 1400L2535.4 1390.7L2535.7 1411.9L2536.1 1385L2536.4 1396.9L2536.8 1404.1L2537.2 1399.5L2537.5 1410.2L2537.9 1406.3L2538.2 1400L2538.6 1396.7L2539 1393.6L2539.3 1397.5L2539.7 1398.5L2540 1392.3L2540.4 1411.8L2540.8 1396.4L2541.1 1403L2541.5 1392.1L2541.8 1403.5L2542.2 1405.7L2542.6 1392.6L2542.9 1413.6L2543.3 1394.6L2543.6 1397L2544 1408.2L2544.4 1398.9L2544.7 1411.7L2545.1 1396.7L2545.4 1398.5L2545.8 1407.6L2546.2 1411.6L2546.5 1412.3L2546.9 1398.1L2547.2 1404L2547.6 1401.2L2548 1407.6L2548.3 1396.9L2548.7 1411.7L2549 1408.8L2549.4 1395.8L2549.8 1399.2L2550.1 1399.8L2550.5 1414.4L2550.8 1402.9L2551.2 1406.9L2551.6 1414.7L2551.9 1401.6L2552.3 1415.2L2552.6 1399.2L2553 1392.3L2553.4 1394.6L2553.7 1409.3L2554.1 1401.6L2554.4 1413L2554.8 1405.5L2555.2 1409.4L2555.5 1401.1L2555.9 1407.1L2556.2 1410L2556.6 1401.9L2557 1404.9L2557.3 1413.9L2557.7 1416.2L2558 1401.5L2558.4 1394.3L2558.8 1414.2L2559.1 1404.2L2559.5 1417.6L2559.8 1412.4L2560.2 1402.5L2560.6 1414.8L2560.9 1407.2L2561.3 1411.5L2561.6 1416L2562 1408.3L2562.4 1417.7L2562.7 1404L2563.1 1366.7L2563.4 1395.7L2563.8 1404.4L2564.2 1412.1L2564.5 1407.8L2564.9 1413.2L2565.2 1415.3L2565.6 1409L2566 1417.7L2566.3 1414.5L2566.7 1416.4L2567 1395.9L2567.4 1395.9L2567.8 1411.2L2568.1 1403.9L2568.5 1417.2L2568.8 1405.6L2569.2 1414.3L2569.6 1402.2L2569.9 1411.6L2570.3 1418.3L2570.6 1417.5L2571 1405.6L2571.4 1408.4L2571.7 1409.8L2572.1 1405.3L2572.4 1408.8L2572.8 1420.4L2573.2 1418.5L2573.5 1405L2573.9 1414L2574.2 1420.4L2574.6 1406.5L2575 1418.2L2575.3 1417L2575.7 1419.2L2576 1400.4L2576.4 1420.2L2576.8 1421.7L2577.1 1404.4L2577.5 1413.7L2577.8 1401.1L2578.2 1413.2L2578.6 1415.7L2578.9 1416.7L2579.3 1419.4L2579.6 1406.4L2580 1402.4L2580.4 1418.7L2580.7 1400.5L2581.1 1405.4L2581.4 1405.6L2581.8 1418.1L2582.2 1410.5L2582.5 1419.7L2582.9 1415.9L2583.2 1420L2583.6 1418.8L2584 1421L2584.3 1407.4L2584.7 1409.3L2585 1415.5L2585.4 1414.6L2585.8 1419.1L2586.1 1419.9L2586.5 1408.7L2586.8 1404.7L2587.2 1418.6L2587.6 1417.5L2587.9 1408.5L2588.3 1403.7L2588.6 1403.1L2589 1408.2L2589.4 1374L2589.7 1396.3L2590.1 1404.1L2590.4 1406.9L2590.8 1410.9L2591.2 1405.4L2591.5 1408L2591.9 1413.1L2592.2 1422.1L2592.6 1422.7L2593 1412.7L2593.3 1406.8L2593.7 1410L2594 1418.8L2594.4 1413.2L2594.8 1416.7L2595.1 1420.4L2595.5 1418.8L2595.8 1423.1L2596.2 1406.9L2596.6 1411.4L2596.9 1392L2597.3 1408.2L2597.6 1418.4L2598 1411L2598.4 1406.9L2598.7 1415.5L2599.1 1409.5L2599.4 1410.2L2599.8 1414.1L2600.2 1425.8L2600.5 1413.9L2600.9 1421.1L2601.2 1414.3L2601.6 1415.1L2602 1409.8L2602.3 1410.8L2602.7 1422.7L2603 1416L2603.4 1413.2L2603.8 1427.3L2604.1 1425.2L2604.5 1413.1L2604.8 1416.5L2605.2 1419.3L2605.6 1411.5L2605.9 1416.7L2606.3 1414L2606.6 1424.4L2607 1410.5L2607.4 1428L2607.7 1413.5L2608.1 1415.4L2608.4 1410.6L2608.8 1426.8L2609.2 1425.3L2609.5 1410.8L2609.9 1419.7L2610.2 1417.2L2610.6 1421.4L2611 1416.3L2611.3 1428.1L2611.7 1414.3L2612 1425.7L2612.4 1415.5L2612.8 1422.7L2613.1 1418.7L2613.5 1420.6L2613.8 1420.6L2614.2 1422.6L2614.6 1412.4L2614.9 1412.4L2615.3 1429.1L2615.6 1416.2L2616 1418.1L2616.4 1416.1L2616.7 1423.6L2617.1 1429.8L2617.4 1420L2617.8 1419.2L2618.2 1420.3L2618.5 1415.8L2618.9 1417.5L2619.2 1417.7L2619.6 1422.5L2620 1432.6L2620.3 1421.2L2620.7 1427.4L2621 1423.6L2621.4 1422.1L2621.8 1432.5L2622.1 1424.7L2622.5 1425.5L2622.8 1433.6L2623.2 1428.1L2623.6 1368L2623.9 1413.3L2624.3 1429.6L2624.6 1435.4L2625 1431.5L2625.4 1433.9L2625.7 1432.2L2626.1 1432.8L2626.4 1437.8L2626.8 1438L2627.2 1432.6L2627.5 1437.3L2627.9 1433.1L2628.2 1434.7L2628.6 1433.3L2629 1438.1L2629.3 1439L2629.7 1439.5L2630 1440.1L2630.4 1437.6L2630.8 1436.4L2631.1 1435.4L2631.5 1439L2631.8 1412L2632.2 1430.5L2632.6 1441L2632.9 1443.3L2633.3 1443L2633.6 1442.2L2634 1441.2L2634.4 1438.7L2634.7 1442.5L2635.1 1440.2L2635.4 1442.3L2635.8 1439.1L2636.2 1444.2L2636.5 1399L2636.9 1428.5L2637.2 1444L2637.6 1439.1L2638 1444L2638.3 1442.6L2638.7 1442.4L2639 1440.2L2639.4 1440.8L2639.8 1440.3L2640.1 1441.7L2640.5 1443.2L2640.8 1443.8L2641.2 1443.7L2641.6 1441.5L2641.9 1441.5L2642.3 1444.4L2642.6 1445.8L2643 1441.1L2643.4 1442.4L2643.7 1441.7L2644.1 1446.1L2644.4 1440.3L2644.8 1445.8L2645.2 1445.1L2645.5 1442.5L2645.9 1444.7L2646.2 1442.9L2646.6 1444.6L2647 1443.5L2647.3 1446.5L2647.7 1443.8L2648 1446L2648.4 1444.7L2648.8 1443.6L2649.1 1447.1L2649.5 1442.8L2649.8 1447L2650.2 1447.5L2650.6 1446.8L2650.9 1445.6L2651.3 1445.7L2651.6 1447.5L2652 1444.9L2652.4 1447.1L2652.7 1446.9L2653.1 1447.4L2653.4 1445.3L2653.8 1446.5L2654.2 1443.6L2654.5 1443.6L2654.9 1443.9L2654.9 1505.3Z" fill="rgb(90,190,245)" stroke="none" stroke-width="1" clip-path="url(#c5)" fill-opacity="0.16"/>
<path d="M1975 1415.9V1426.4M1976.6 1442V1454.3M1978.2 1445.7V1454.9M1979.6 1437.6V1455.8M1980.5 1445V1455.9M1982.2 1445.9V1452.1M1983.1 1447.1V1450.3M1984.3 1446.3V1453.5M1985.2 1449.9V1458.1M1986.5 1445.8V1459.5M1988.1 1449.3V1451.5M1988.9 1448.9V1457.6M1989.6 1449.4V1452.3M1990.3 1446.3V1456.1M1991.2 1448.5V1452.4M1992 1440.6V1462.2M1993 1449.8V1455.9M1993.8 1449.4V1452.2M1995.2 1445V1459.8M1996 1445.9V1455.3M1997.1 1450.6V1459M1998.7 1450.1V1458M2000.2 1443.7V1465.3M2000.8 1448.7V1460.9M2002.2 1443.9V1462M2003.5 1447.6V1461M2004.3 1453.1V1456M2005.3 1451.6V1458.2M2006 1446.3V1457.4M2007.7 1454.1V1468.6M2008.8 1455.1V1458.3M2010.2 1451V1463.3M2011.7 1453.3V1458.4M2013.4 1450.2V1471.1M2014.6 1455.3V1459.4M2015.4 1456.3V1459.6M2016.9 1456.9V1459.1M2017.9 1453V1460.3M2019.5 1458.1V1462.2M2020.3 1448.8V1459.5M2021.8 1454V1459M2023 1454.3V1468.2M2024.1 1452.7V1458.8M2024.9 1455V1465.4M2026 1457.8V1460.3M2027.5 1441.9V1467.3M2028.8 1456.5V1462.9M2030.5 1453.5V1462.2M2032.2 1451.2V1462.4M2033.6 1453V1461.2M2035.1 1459.1V1462.6M2036.2 1455.8V1466.3M2037.4 1456.7V1461.5M2038.1 1458.2V1476.3M2039.1 1457.8V1467.1M2039.8 1460.3V1461.7M2041 1456.4V1464.8M2042 1458.2V1465M2043.2 1444.9V1465.2M2044.3 1459.8V1462M2045.5 1458.4V1462.2M2047 1452.2V1464.4M2048 1453.3V1463M2049.5 1459.4V1463.4M2080 1462.6V1469.9M2081.8 1465.8V1472.2M2082.5 1469V1471.7M2084 1468.5V1470.7M2085.6 1465.6V1478.4M2087.3 1472V1472.9M2088.8 1472.3V1472.8M2090.6 1468.7V1476.7M2091.9 1441.1V1455.6M2092.6 1467.6V1471.9M2093.5 1468.9V1474M2094.4 1472.1V1477.7M2096.2 1470.6V1479.2M2097.5 1472.8V1486.7M2098.9 1468.7V1476.1M2100.3 1472.2V1481.6M2101.7 1476.4V1486.6M2103 1466.6V1481.8M2104.7 1473.2V1482.9M2105.4 1472.6V1477.9M2106.7 1475.9V1481.5M2108.4 1474.1V1478.7M2109.4 1476.4V1480.4M2110.8 1477.8V1482.3M2112.6 1478.6V1481.3M2114.3 1478V1482.8M2114.9 1476.7V1482.4M2116 1455.2V1465.6M2117.1 1466.4V1472.7M2118.5 1477.3V1482.5M2120.1 1478.5V1482.2M2121.9 1478.1V1482.9M2122.8 1480.6V1483.1M2123.9 1477.4V1485.1M2125.4 1480V1482.5M2126.2 1478.2V1482.9M2127.6 1481.7V1487.9M2128.8 1479.7V1483.7M2130.2 1481.5V1482.5M2131.8 1480.8V1486.6M2133.3 1478.5V1492.2M2134 1478.3V1487.3M2135.6 1481.8V1486.6M2136.7 1481V1484.9M2138.1 1479.1V1489.6M2138.8 1478.1V1491.9M2139.5 1481.4V1488.6M2141.3 1477.3V1487.6M2142.3 1470.2V1477.2M2143 1460.4V1462.6M2144.1 1480.8V1486.4M2144.8 1480.3V1488.7M2145.6 1483.7V1485.4M2146.5 1476.7V1492.1M2148.2 1480.8V1493.2M2149.7 1480.3V1486.2M2150.7 1477.1V1487.2M2151.6 1445.1V1450.2M2153.1 1483.2V1489.7M2153.9 1483.5V1486.7M2154.6 1478.3V1497.9M2156.3 1482.3V1492.5M2157.8 1479.4V1489.7M2159.2 1469.2V1477M2160 1475.4V1484M2161.1 1479.3V1488.4M2163.7 1484.4V1488.4M2165.9 1479.2V1485.1M2166.8 1481.1V1485.1M2168.6 1478.9V1480.7M2170.5 1480.2V1491.7M2173 1480.8V1489M2175.2 1481.5V1486.7M2176.4 1476.1V1488.1M2178.9 1480.7V1488.4M2180.3 1482.9V1489.1M2181.6 1480V1490.8M2184.1 1482.1V1490.2M2186 1484.7V1488.2M2187 1482.4V1484.7M2189.4 1482.6V1489.8M2190.3 1482.6V1486.4M2192.2 1477.8V1487M2194.1 1480.4V1485.4M2195.1 1481.2V1486.6M2197.1 1481.7V1485.7M2198.1 1482.4V1495.4M2199.9 1478.5V1491.4M2201.9 1479.7V1490.8M2204.1 1480.4V1489.1M2205.8 1481.8V1490.4M2206.8 1482.3V1489.8M2208.9 1427.2V1442.3M2210.9 1482.2V1484.4M2212 1482.6V1490.2M2213.4 1475.8V1484.8M2215.1 1482.4V1487.9M2224 1481.4V1484.7M2227.6 1482.8V1484M2231.7 1477.8V1485.6M2233.9 1480.8V1484.3M2236.8 1482.5V1484M2241.2 1480.6V1485.1M2244.6 1483.1V1491.9M2262 1475.4V1489.2M2263.7 1478.8V1483.4M2265.9 1481.8V1487.6M2266.9 1482.4V1485.3M2268.5 1468.2V1483.8M2271 1480.2V1485.4M2272.7 1474.6V1489.3M2274.9 1480.8V1490.6M2276.3 1480.5V1483.2M2277.9 1466V1482.4M2280 1475.4V1481.4M2282 1479.1V1484.6M2283.6 1477.6V1486.6M2284.8 1477.7V1483.7M2286.6 1477.2V1478.8M2287.9 1469V1481.3M2288.9 1475.2V1483.2M2289.9 1477.1V1480.2M2291.7 1473.2V1483.5M2292.8 1476.3V1488.9M2293.8 1475.9V1481.3M2295.9 1473.7V1477.5M2297.5 1470.4V1477.3M2298.6 1476.1V1478.3M2301 1403.8V1412.7M2301.9 1449.6V1463.6M2304.4 1467.6V1478M2305.9 1466V1479.7M2307.1 1472.6V1474.7M2308.9 1471.5V1475.7M2311.1 1467.4V1479.9M2312.1 1471.7V1479M2313.5 1472.2V1473.6M2315.2 1470.1V1475.1M2316.2 1467.8V1479.9M2317.4 1464.6V1478.7M2319.1 1466.4V1473M2320.7 1409.7V1424.8M2322.9 1465V1475.6M2324 1409.4V1419.6M2326.4 1468.4V1471.2M2328.6 1463.4V1469.6M2330.6 1468.1V1470.3M2331.5 1466.8V1469.5M2333.1 1463.7V1470.3M2335.5 1459.7V1469.6M2338 1462V1469.9M2340.4 1461.5V1468.8M2341.7 1464.4V1466.7M2343 1458V1473.7M2344 1463.9V1464.6M2345.8 1453.7V1464.7M2347.6 1454.8V1463.9M2349.4 1460.9V1467.9M2351.8 1454.5V1463M2353.2 1458V1468.5M2355.3 1458.3V1463.9M2356.3 1459.6V1461.1M2358.4 1454.4V1460.8M2359.8 1455V1460.9M2360.8 1454.8V1458.8M2361.9 1455.8V1466.5M2364 1455.6V1463.9M2365.6 1450.4V1458.9M2366.8 1396.2V1405.2M2368.6 1446.1V1459.7M2370.8 1452.2V1455.3M2372.2 1401.4V1407.8M2374.7 1449.6V1456.2M2375.7 1450.9V1454.3M2376.8 1441.1V1454M2378.6 1444.7V1457.3M2380.5 1447.8V1451.4M2381.8 1443V1452.9M2383.5 1445.8V1451.8M2384.6 1443.5V1450.5M2386 1443.4V1455.1M2387.2 1444.4V1449.1M2389 1437V1449.3M2391.1 1443V1450.7M2393 1441.4V1446.7M2393.9 1440.1V1445.5M2395.1 1432.4V1447.9M2397.3 1418.6V1429.1M2398.3 1421.9V1426.9M2399.7 1439.7V1441M2400.8 1427.4V1437.2M2402.7 1435.6V1443.9M2403.7 1431.3V1444.1M2405.6 1434.5V1439.6M2407.5 1371.8V1388.2M2408.8 1429.9V1440.6M2410.2 1435.7V1446.5M2411.7 1434.1V1438.6M2413.1 1436V1445.6M2414.2 1434.3V1449.8M2415.5 1435V1438.3M2416.9 1176.1V1191.1" fill="none" stroke="#5fbdf2" stroke-width="1.2" clip-path="url(#c5)"/>
<path d="M1973 1438L1973.6 1447L1974.2 1447.5L1974.8 1418L1975.4 1430L1976 1442L1976.6 1448.1L1977.2 1448.1L1977.8 1448.4L1978.4 1448L1979 1449.1L1979.6 1448.5L1980.2 1449.3L1980.8 1449.3L1981.4 1449.9L1982 1449.5L1982.6 1450.2L1983.2 1449.3L1983.8 1450.3L1984.4 1450L1985 1450.3L1985.6 1450.4L1986.2 1451L1986.8 1449.7L1987.4 1451L1988 1450.3L1988.6 1451.8L1989.2 1450.3L1989.8 1450.9L1990.4 1450.8L1991 1452.6L1991.6 1451.3L1992.2 1452.1L1992.8 1451.9L1993.4 1451.5L1994 1452.3L1994.6 1453L1995.2 1452.7L1995.8 1453.4L1996.4 1452.9L1997 1453.3L1997.6 1453.2L1998.2 1453.7L1998.8 1454.6L1999.4 1454L2000 1454.1L2000.6 1453.8L2001.2 1453.9L2001.8 1455.1L2002.4 1453.9L2003 1454.1L2003.6 1454.7L2004.2 1454.6L2004.8 1455.9L2005.4 1453.9L2006 1455.4L2006.6 1455.7L2007.2 1454.9L2007.8 1455.2L2008.4 1455.9L2009 1456.6L2009.6 1455.5L2010.2 1455.3L2010.8 1456.6L2011.4 1457L2012 1456.2L2012.6 1455.4L2013.2 1457.4L2013.8 1456.7L2014.4 1457.4L2015 1457L2015.6 1456.9L2016.2 1457L2016.8 1458.1L2017.4 1458.2L2018 1456.5L2018.6 1457.3L2019.2 1458.7L2019.8 1457.8L2020.4 1457.4L2021 1458.2L2021.6 1458.3L2022.2 1458.4L2022.8 1458.3L2023.4 1458.5L2024 1458.6L2024.6 1459.1L2025.2 1458.6L2025.8 1458.9L2026.4 1459.1L2027 1459.9L2027.6 1459.4L2028.2 1459.3L2028.8 1459.6L2029.4 1459.6L2030 1460L2030.6 1459.8L2031.2 1460.5L2031.8 1460.4L2032.4 1459.7L2033 1459.6L2033.6 1460.3L2034.2 1460.2L2034.8 1459.9L2035.4 1459.3L2036 1459.2L2036.6 1460.3L2037.2 1460.6L2037.8 1460.7L2038.4 1459.7L2039 1460.9L2039.6 1460.2L2040.2 1460.7L2040.8 1460.8L2041.4 1460.2L2042 1460.4L2042.6 1459.7L2043.2 1460.4L2043.8 1460L2044.4 1461.2L2045 1461L2045.6 1461.5L2046.2 1461.3L2046.8 1460.9L2047.4 1461.4L2048 1461.1L2048.6 1461.7L2049.2 1461.6L2049.8 1461L2050.4 1461.5L2050.8 1461L2051.2 1010L2052 983L2053 986L2054.5 998L2057 1020L2060 1048L2061 1058L2061.3 1240L2061.8 1378L2062.2 1388.3L2062.8 1397.2L2063.4 1405.2L2064 1412.2L2064.6 1417L2065.2 1422.3L2065.8 1426.3L2066.4 1432L2067 1436.1L2067.6 1438.9L2068.2 1443.1L2068.8 1445.8L2069.4 1447.6L2070 1449.9L2070.6 1451.6L2071.2 1454.3L2071.8 1388L2072.4 1433.9L2073 1459.3L2073.6 1459.6L2074.2 1460.9L2074.8 1461.7L2075.4 1462.1L2076 1463.6L2076.6 1464.6L2077.2 1388L2077.8 1440L2078.4 1467L2079 1467.5L2079.6 1466.7L2080.2 1467.6L2080.8 1467.8L2081.4 1469.7L2082 1469.9L2082.6 1470.4L2083.2 1470L2083.8 1470.3L2084.4 1471.2L2085 1471.5L2085.6 1471.3L2086.2 1471.9L2086.8 1472.3L2087.4 1472.1L2087.5 1471.7L2088.1 1471.5L2088.7 1472.4L2089.3 1472.8L2089.9 1472.8L2090.5 1472.9L2091.1 1473L2091.7 1445L2092.3 1464.1L2092.9 1473.8L2093.5 1473.6L2094.1 1473.9L2094.7 1474.4L2095.3 1474.1L2095.9 1474.2L2096.5 1474.8L2097.1 1475.6L2097.7 1475.3L2098.3 1476L2098.9 1475.6L2099.5 1475.7L2100.1 1475.4L2100.7 1475.9L2101.3 1476.9L2101.9 1476.7L2102.5 1477L2103.1 1477.2L2103.7 1445L2104.3 1466.5L2104.9 1477.5L2105.5 1477.9L2106.1 1478L2106.7 1478.2L2107.3 1478.2L2107.9 1478.1L2108.5 1478.4L2109.1 1478.3L2109.7 1479.3L2110.3 1478.2L2110.9 1479.1L2111.5 1480.2L2112.1 1479.2L2112.7 1479L2113.3 1479.5L2113.9 1480.1L2114.5 1479.6L2115.1 1480L2115.7 1479.9L2116.3 1432L2116.9 1464.9L2117.5 1480.2L2118.1 1480.1L2118.7 1480.2L2119.3 1480.6L2119.9 1480.7L2120.5 1481L2121.1 1480.8L2121.7 1480.3L2122.3 1481.1L2122.9 1480.9L2123.5 1481L2124.1 1480.6L2124.7 1481.1L2125.3 1481.1L2125.9 1481.5L2126.5 1481L2127.1 1481.7L2127.7 1481.8L2128.3 1481.4L2128.9 1481.7L2129.5 1481.7L2130.1 1482.5L2130.7 1481.2L2131.3 1482.2L2131.9 1481.8L2132.5 1482.4L2133.1 1483L2133.7 1482.5L2134.3 1482.9L2134.9 1482.6L2135.5 1483.8L2136.1 1483.5L2136.7 1483.6L2137.3 1482.8L2137.9 1482.9L2138.5 1483.9L2139.1 1483.5L2139.7 1483.6L2140.3 1483.9L2140.9 1483.4L2141.5 1484.3L2142.1 1484.1L2142.7 1447L2143.3 1471.6L2143.9 1484.5L2144.5 1484.1L2145.1 1484.9L2145.7 1485L2146.3 1484.9L2146.9 1484.7L2147.5 1484.8L2148.1 1483.5L2148.7 1484.9L2149.3 1484.5L2149.9 1484.6L2150.5 1484.5L2151.1 1484L2151.7 1441L2152.3 1470.2L2152.9 1485.2L2153.5 1484.4L2154.1 1484.3L2154.7 1485.2L2155.3 1484.3L2155.9 1485.5L2156.5 1484.7L2157.1 1484.3L2157.7 1485.1L2158.3 1485.4L2158.9 1484.1L2159.5 1466L2160.1 1478.4L2160.7 1485.3L2161.3 1484.6L2161.9 1484.1L2162.5 1485L2163.1 1485.1L2163.7 1485.6L2164.3 1485.5L2164.9 1485.1L2165.5 1484.7L2166.1 1484.6L2166.7 1484.7L2167.3 1484.5L2167.9 1470L2168.5 1479.2L2169.1 1484.9L2169.7 1484.8L2170.3 1485.9L2170.9 1485.2L2171.5 1484.7L2172.1 1485.1L2172.7 1484.4L2173.3 1484.7L2173.9 1484.2L2174.5 1485.5L2175.1 1485.2L2175.7 1484.5L2176.3 1484.9L2176.9 1485.3L2177.5 1485.2L2178.1 1485.1L2178.7 1484.6L2179.3 1484.7L2179.9 1485L2180.5 1485.4L2181.1 1484.6L2181.7 1484.5L2182.3 1485.4L2182.9 1484.5L2183.5 1485.3L2184.1 1485L2184.7 1485.2L2185.3 1485.5L2185.9 1485.1L2186.5 1485.1L2187.1 1484.4L2187.7 1484.5L2188.3 1485L2188.9 1485.4L2189.5 1485.3L2190.1 1485.6L2190.7 1484.8L2191.3 1484.8L2191.9 1485.1L2192.5 1484.7L2193.1 1484.6L2193.7 1484.2L2194.3 1485L2194.9 1484.1L2195.5 1484.8L2196.1 1484L2196.7 1485L2197.3 1484.1L2197.9 1484.8L2198.5 1483.8L2199.1 1484.3L2199.7 1484.9L2200.3 1484.1L2200.9 1484.4L2201.5 1484.2L2202.1 1483.4L2202.7 1484.5L2203.3 1484.5L2203.9 1483.9L2204.5 1484.5L2205.1 1484L2205.7 1483.9L2206.3 1484.3L2206.9 1484L2207.5 1485.1L2208.1 1383.6L2208.7 1450.9L2209.3 1400L2209.9 1455.6L2210.5 1483.4L2211.1 1484.3L2211.7 1483.9L2212.3 1484.2L2212.9 1484.5L2213.5 1483.9L2214.1 1483.6L2214.7 1482.9L2215.3 1484.1L2215.9 1483.6L2216.5 1484.1L2217.1 1484L2217.7 1483.4L2218.3 1484.6L2218.9 1484.4L2219.5 1484.2L2220.1 1421.6L2220.7 1463L2221.3 1483.7L2221.9 1483.7L2222.5 1468L2223.1 1478.7L2223.7 1483.9L2224.3 1484L2224.9 1483.6L2225.5 1484.3L2226.1 1483.8L2226.7 1482.7L2227.3 1483.5L2227.9 1483.7L2228.5 1484.1L2229.1 1483.6L2229.7 1483.6L2230.3 1483.4L2230.9 1483.9L2231.5 1483.5L2232.1 1483.4L2232.7 1483.3L2233.3 1483.8L2233.9 1483.4L2234.5 1482.9L2235.1 1483.8L2235.7 1483.3L2236.3 1483.7L2236.9 1483.7L2237.5 1484L2238.1 1468L2238.7 1478.2L2239.3 1483.4L2239.9 1483L2240.5 1484.2L2241.1 1483.6L2241.7 1484L2242.3 1483.3L2242.9 1482.6L2243.5 1484L2244.1 1483.4L2244.7 1483.4L2245.3 1483.4L2245.9 1483.6L2246.5 1483.6L2247.1 1482.7L2247.7 1483.8L2248.3 1483.1L2248.9 1483.1L2249.5 1484L2250.1 1483.7L2250.7 1483.1L2251.3 1482.5L2251.9 1483.3L2252.5 1483.5L2253.1 1483.2L2253.7 1482.7L2254.3 1482.9L2254.9 1482.7L2255.5 1483.3L2256.1 1483.5L2256.7 1483.6L2257.3 1482.8L2257.9 1483.2L2258.5 1483.3L2259.1 1482.9L2259.7 1483L2260.3 1483.9L2260.9 1483.1L2261.5 1483.4L2262.1 1482.9L2262.7 1483L2263.3 1482.3L2263.9 1483L2264.5 1483.4L2265.1 1483.6L2265.7 1483.2L2266.3 1482.8L2266.9 1482.5L2267.5 1482.1L2268.1 1482.1L2268.7 1482.3L2269.3 1481.7L2269.9 1482.2L2270.5 1481.4L2271.1 1480.9L2271.7 1481.1L2272.3 1480.7L2272.9 1480.7L2273.5 1481.6L2274.1 1481L2274.7 1481L2275.3 1481.3L2275.9 1481.2L2276.5 1480.4L2277.1 1481L2277.7 1480.5L2278.3 1480.3L2278.9 1480.3L2279.5 1479.4L2280.1 1479.6L2280.7 1479.7L2281.3 1479.9L2281.9 1479.4L2282.5 1479.4L2283.1 1479.7L2283.7 1479.8L2284.3 1479.4L2284.9 1479.5L2285.5 1478.7L2286.1 1478.6L2286.7 1478.8L2287.3 1478.4L2287.9 1478.2L2288.5 1478.9L2289.1 1478.1L2289.7 1477.7L2290.3 1478.1L2290.9 1478.5L2291.5 1477.7L2292.1 1478L2292.7 1477.2L2293.3 1477.1L2293.9 1476.8L2294.5 1476.9L2295.1 1477.6L2295.7 1476.2L2296.3 1477.2L2296.9 1476L2297.5 1476.2L2298.1 1476.5L2298.7 1476.3L2299.3 1476L2299.9 1475.1L2300.5 1475.8L2301.1 1388L2301.7 1446.9L2302.3 1475.1L2302.9 1475.2L2303.5 1474.5L2304.1 1474.6L2304.7 1474.2L2305.3 1474.9L2305.9 1474.3L2306.5 1474.5L2307.1 1473.9L2307.7 1473.8L2308.3 1474.4L2308.9 1473.3L2309.5 1472.9L2310.1 1473.6L2310.7 1472.9L2311.3 1473L2311.9 1473.4L2312.5 1472.6L2313.1 1473.1L2313.7 1472.4L2314.3 1473.1L2314.9 1472.9L2315.5 1472L2316.1 1472L2316.7 1471.6L2317.3 1471.9L2317.9 1472.2L2318.5 1471L2319.1 1471.8L2319.7 1470.8L2320.3 1470.8L2320.9 1371L2321.5 1438.1L2322.1 1470.8L2322.7 1470.7L2323.3 1470.2L2323.9 1408L2324.5 1448.9L2325.1 1470.1L2325.7 1470.8L2326.3 1469.5L2326.9 1469.5L2327.5 1469.6L2328.1 1468.8L2328.7 1468.9L2329.3 1469.1L2329.9 1468.5L2330.5 1468.4L2331.1 1467.9L2331.7 1468L2332.3 1467.7L2332.9 1468L2333.5 1467.5L2334.1 1466.9L2334.7 1465.9L2335.3 1466.9L2335.9 1466.7L2336.5 1451L2337.1 1460.5L2337.7 1465.4L2338.3 1466L2338.9 1465L2339.5 1465L2340.1 1465.1L2340.7 1465.3L2341.3 1464.6L2341.9 1464.3L2342.5 1464L2343.1 1464.6L2343.7 1464.2L2344.3 1463.5L2344.9 1462.8L2345.5 1462.8L2346.1 1463.2L2346.7 1462.5L2347.3 1462.9L2347.9 1462.5L2348.5 1462.2L2349.1 1462.2L2349.7 1461.9L2350.3 1461.2L2350.9 1461.2L2351.5 1462L2352.1 1460.4L2352.7 1460.5L2353.3 1460.9L2353.9 1460.2L2354.5 1459.8L2355.1 1459.4L2355.7 1459.9L2356.3 1459.9L2356.9 1459.8L2357.5 1459.1L2358.1 1459.3L2358.7 1458.2L2359.3 1458.5L2359.9 1458L2360.5 1458.1L2361.1 1458.1L2361.7 1458L2362.3 1456.9L2362.9 1457.6L2363.5 1456.6L2364.1 1456.1L2364.7 1456.2L2365.3 1455.4L2365.9 1455.7L2366.5 1373.5L2367.1 1427.9L2367.7 1455.1L2368.3 1454.5L2368.9 1454.4L2369.5 1453.5L2370.1 1453.8L2370.7 1453.2L2371.3 1453.1L2371.9 1382L2372.5 1429.2L2373.1 1451.8L2373.7 1451.6L2374.3 1451.8L2374.9 1451.8L2375.5 1451.5L2376.1 1451.5L2376.7 1451.4L2377.3 1450.8L2377.9 1450.3L2378.5 1449.6L2379.1 1449.4L2379.7 1449.3L2380.3 1449.3L2380.9 1449L2381.5 1448.7L2382.1 1448.3L2382.7 1448.4L2383.3 1447.9L2383.9 1447.7L2384.5 1447.4L2385.1 1446.8L2385.7 1446.4L2386.3 1446.7L2386.9 1446.4L2387.5 1445.9L2388.1 1445.5L2388.7 1446.3L2389.3 1444.8L2389.9 1430L2390.5 1439.8L2391.1 1443.9L2391.7 1444.1L2392.3 1444.5L2392.9 1443.9L2393.5 1443.5L2394.1 1443.2L2394.7 1442.8L2395.3 1442.8L2395.9 1442.1L2396.5 1441.7L2397.1 1441.7L2397.7 1383L2398.3 1421.9L2398.9 1441.3L2399.5 1440.1L2400.1 1441.2L2400.7 1441.5L2401.3 1420L2401.9 1433.4L2402.5 1439.7L2403.1 1440L2403.7 1439.3L2404.3 1439.9L2404.9 1439.2L2405.5 1439.6L2406.1 1439.6L2406.7 1438.1L2407.3 1366L2407.9 1414.2L2408.5 1437.9L2409.1 1438L2409.7 1438L2410.3 1438.4L2410.9 1437.2L2411.5 1438L2412.1 1425L2412.7 1433.4L2413.3 1437.4L2413.9 1437L2414.5 1436.3L2415.1 1436.9L2415.7 1436.6L2416.3 1436.6L2416.9 1437.2L2416.2 1436L2416.8 1154L2417.4 1300L2418.6 1400L2419.8 1415L2420.9 1200L2421.4 984L2421.9 1150L2422.6 1380L2423.4 1402.6L2423.8 1388.4L2424.1 1400.4L2424.5 1415.4L2424.8 1394.4L2425.2 1403.2L2425.6 1400.3L2425.9 1386.8L2426.3 1385.4L2426.6 1416.4L2427 1380L2427.4 1400.8L2427.7 1401.5L2428.1 1417.5L2428.4 1394.2L2428.8 1405.2L2429.2 1407.9L2429.5 1417.2L2429.9 1389.8L2430.2 1402.3L2430.6 1406.7L2431 1411.2L2431.3 1395.2L2431.7 1409.6L2432 1415L2432.4 1416.4L2432.8 1398.4L2433.1 1378L2433.5 1393.4L2433.8 1404.3L2434.2 1403.4L2434.6 1423.8L2434.9 1391.4L2435.3 1423.8L2435.6 1392.2L2436 1393.8L2436.4 1398.3L2436.7 1401.1L2437.1 1420.6L2437.4 1420L2437.8 1423.2L2438.2 1404.8L2438.5 1392.3L2438.9 1412.8L2439.2 1421.9L2439.6 1395.5L2440 1376L2440.3 1386.8L2440.7 1416.3L2441 1408.5L2441.4 1422.1L2441.8 1421L2442.1 1394.1L2442.5 1408.8L2442.8 1400.5L2443.2 1406.9L2443.6 1395L2443.9 1380L2444.3 1397.4L2444.6 1393.3L2445 1408.2L2445.4 1421.3L2445.7 1395.1L2446.1 1422.6L2446.4 1408.3L2446.8 1399.6L2447.2 1423L2447.5 1407.6L2447.9 1406.4L2448.2 1404.4L2448.6 1419.7L2449 1383L2449.3 1393.8L2449.7 1401.4L2450 1394.7L2450.4 1418L2450.8 1407.3L2451.1 1410.5L2451.5 1418.9L2451.8 1407.2L2452.2 1400.7L2452.6 1408.1L2452.9 1407.1L2453.3 1401.2L2453.6 1399.1L2454 1402.7L2454.4 1413.5L2454.7 1397L2455.1 1420.8L2455.4 1398.9L2455.8 1399.9L2456.2 1395.6L2456.5 1403.2L2456.9 1402.5L2457.2 1411.2L2457.6 1417.1L2458 1398.9L2458.3 1414.4L2458.7 1400.4L2459 1152.4L2459.4 1314.3L2459.8 1300L2460.1 1367.9L2460.5 1410.7L2460.8 1392.4L2461.2 1410.4L2461.6 1397.7L2461.9 1403.6L2462.3 1409.5L2462.6 1396L2463 1405.4L2463.4 1413.5L2463.7 1395.6L2464.1 1403.6L2464.4 1396.1L2464.8 1395L2465.2 1403.9L2465.5 1403L2465.9 1407.7L2466.2 1413.1L2466.6 1409.1L2467 1399.6L2467.3 1403.3L2467.7 1408L2468 1373L2468.4 1396.3L2468.8 1403.4L2469.1 1394.1L2469.5 1412.3L2469.8 1397.6L2470.2 1400.6L2470.6 1412.3L2470.9 1395.7L2471.3 1412.8L2471.6 1396.1L2472 1392.6L2472.4 1402.9L2472.7 1409.5L2473.1 1400.1L2473.4 1410.5L2473.8 1399.8L2474.2 1409.6L2474.5 1393L2474.9 1397L2475.2 1393.2L2475.6 1407.4L2476 1401.1L2476.3 1405.3L2476.7 1395.7L2477 1406.9L2477.4 1412.7L2477.8 1391.9L2478.1 1397.3L2478.5 1409.6L2478.8 1409.1L2479.2 1409.4L2479.6 1395L2479.9 1402.4L2480.3 1391.8L2480.6 1399.4L2481 1402.5L2481.4 1395.4L2481.7 1399L2482.1 1397.7L2482.4 1391.5L2482.8 1391.1L2483.2 1406.5L2483.5 1389.5L2483.9 1410.7L2484.2 1408.7L2484.6 1410.6L2485 1406.2L2485.3 1389.3L2485.7 1391.6L2486 1395.9L2486.4 1382L2486.8 1387.5L2487.1 1408.5L2487.5 1408.2L2487.8 1405.1L2488.2 1394.1L2488.6 1406.7L2488.9 1406L2489.3 1395.4L2489.6 1391.2L2490 1391.3L2490.4 1397.1L2490.7 1405.9L2491.1 1390L2491.4 1397.4L2491.8 1395.8L2492.2 1406.9L2492.5 1391.5L2492.9 1401.9L2493.2 1395L2493.6 1401.6L2494 1405.2L2494.3 1405.2L2494.7 1405.6L2495 1394.2L2495.4 1393.8L2495.8 1390.7L2496.1 1393.3L2496.5 1390.5L2496.8 1404L2497.2 1389L2497.6 1391.9L2497.9 1404L2498.3 1403.5L2498.6 1407.6L2499 1395.7L2499.4 1388.8L2499.7 1404.1L2500.1 1393.6L2500.4 1403.3L2500.8 1388.2L2501.2 1384L2501.5 1394.4L2501.9 1401.3L2502.2 1398.9L2502.6 1398.2L2503 1399.5L2503.3 1390.3L2503.7 1388.9L2504 1394.5L2504.4 1398.3L2504.8 1392.5L2505.1 1391.1L2505.5 1396.2L2505.8 1395.5L2506.2 1392.7L2506.6 1405.4L2506.9 1405.7L2507.3 1388.3L2507.6 1396.7L2508 1392L2508.4 1393.9L2508.7 1347.5L2509.1 1375.2L2509.4 1388.2L2509.8 1390L2510.2 1400.2L2510.5 1389.1L2510.9 1404.9L2511.2 1403.4L2511.6 1393L2512 1401.3L2512.3 1406.5L2512.7 1390.1L2513 1398.9L2513.4 1397.1L2513.8 1394L2514.1 1393.6L2514.5 1389.6L2514.8 1400.9L2515.2 1391.9L2515.6 1396.5L2515.9 1406.7L2516.3 1395.1L2516.6 1369L2517 1394.3L2517.4 1400L2517.7 1399.8L2518.1 1392.7L2518.4 1401.3L2518.8 1396L2519.2 1399.4L2519.5 1396.5L2519.9 1390L2520.2 1406.5L2520.6 1402.7L2521 1408.3L2521.3 1394.8L2521.7 1394.3L2522 1391.3L2522.4 1394.9L2522.8 1395.3L2523.1 1392.4L2523.5 1394.2L2523.8 1394.8L2524.2 1406.8L2524.6 1398.1L2524.9 1406.1L2525.3 1389.8L2525.6 1392.8L2526 1409.1L2526.4 1389.9L2526.7 1390.3L2527.1 1400L2527.4 1395.1L2527.8 1393.1L2528.2 1402.1L2528.5 1402.2L2528.9 1393.1L2529.2 1400.7L2529.6 1399L2530 1407.6L2530.3 1390.6L2530.7 1394.3L2531 1401.6L2531.4 1390L2531.8 1407.9L2532.1 1410.7L2532.5 1396.7L2532.8 1406.6L2533.2 1395L2533.6 1410.6L2533.9 1394.3L2534.3 1389.8L2534.6 1391.2L2535 1400L2535.4 1390.7L2535.7 1411.9L2536.1 1385L2536.4 1396.9L2536.8 1404.1L2537.2 1399.5L2537.5 1410.2L2537.9 1406.3L2538.2 1400L2538.6 1396.7L2539 1393.6L2539.3 1397.5L2539.7 1398.5L2540 1392.3L2540.4 1411.8L2540.8 1396.4L2541.1 1403L2541.5 1392.1L2541.8 1403.5L2542.2 1405.7L2542.6 1392.6L2542.9 1413.6L2543.3 1394.6L2543.6 1397L2544 1408.2L2544.4 1398.9L2544.7 1411.7L2545.1 1396.7L2545.4 1398.5L2545.8 1407.6L2546.2 1411.6L2546.5 1412.3L2546.9 1398.1L2547.2 1404L2547.6 1401.2L2548 1407.6L2548.3 1396.9L2548.7 1411.7L2549 1408.8L2549.4 1395.8L2549.8 1399.2L2550.1 1399.8L2550.5 1414.4L2550.8 1402.9L2551.2 1406.9L2551.6 1414.7L2551.9 1401.6L2552.3 1415.2L2552.6 1399.2L2553 1392.3L2553.4 1394.6L2553.7 1409.3L2554.1 1401.6L2554.4 1413L2554.8 1405.5L2555.2 1409.4L2555.5 1401.1L2555.9 1407.1L2556.2 1410L2556.6 1401.9L2557 1404.9L2557.3 1413.9L2557.7 1416.2L2558 1401.5L2558.4 1394.3L2558.8 1414.2L2559.1 1404.2L2559.5 1417.6L2559.8 1412.4L2560.2 1402.5L2560.6 1414.8L2560.9 1407.2L2561.3 1411.5L2561.6 1416L2562 1408.3L2562.4 1417.7L2562.7 1404L2563.1 1366.7L2563.4 1395.7L2563.8 1404.4L2564.2 1412.1L2564.5 1407.8L2564.9 1413.2L2565.2 1415.3L2565.6 1409L2566 1417.7L2566.3 1414.5L2566.7 1416.4L2567 1395.9L2567.4 1395.9L2567.8 1411.2L2568.1 1403.9L2568.5 1417.2L2568.8 1405.6L2569.2 1414.3L2569.6 1402.2L2569.9 1411.6L2570.3 1418.3L2570.6 1417.5L2571 1405.6L2571.4 1408.4L2571.7 1409.8L2572.1 1405.3L2572.4 1408.8L2572.8 1420.4L2573.2 1418.5L2573.5 1405L2573.9 1414L2574.2 1420.4L2574.6 1406.5L2575 1418.2L2575.3 1417L2575.7 1419.2L2576 1400.4L2576.4 1420.2L2576.8 1421.7L2577.1 1404.4L2577.5 1413.7L2577.8 1401.1L2578.2 1413.2L2578.6 1415.7L2578.9 1416.7L2579.3 1419.4L2579.6 1406.4L2580 1402.4L2580.4 1418.7L2580.7 1400.5L2581.1 1405.4L2581.4 1405.6L2581.8 1418.1L2582.2 1410.5L2582.5 1419.7L2582.9 1415.9L2583.2 1420L2583.6 1418.8L2584 1421L2584.3 1407.4L2584.7 1409.3L2585 1415.5L2585.4 1414.6L2585.8 1419.1L2586.1 1419.9L2586.5 1408.7L2586.8 1404.7L2587.2 1418.6L2587.6 1417.5L2587.9 1408.5L2588.3 1403.7L2588.6 1403.1L2589 1408.2L2589.4 1374L2589.7 1396.3L2590.1 1404.1L2590.4 1406.9L2590.8 1410.9L2591.2 1405.4L2591.5 1408L2591.9 1413.1L2592.2 1422.1L2592.6 1422.7L2593 1412.7L2593.3 1406.8L2593.7 1410L2594 1418.8L2594.4 1413.2L2594.8 1416.7L2595.1 1420.4L2595.5 1418.8L2595.8 1423.1L2596.2 1406.9L2596.6 1411.4L2596.9 1392L2597.3 1408.2L2597.6 1418.4L2598 1411L2598.4 1406.9L2598.7 1415.5L2599.1 1409.5L2599.4 1410.2L2599.8 1414.1L2600.2 1425.8L2600.5 1413.9L2600.9 1421.1L2601.2 1414.3L2601.6 1415.1L2602 1409.8L2602.3 1410.8L2602.7 1422.7L2603 1416L2603.4 1413.2L2603.8 1427.3L2604.1 1425.2L2604.5 1413.1L2604.8 1416.5L2605.2 1419.3L2605.6 1411.5L2605.9 1416.7L2606.3 1414L2606.6 1424.4L2607 1410.5L2607.4 1428L2607.7 1413.5L2608.1 1415.4L2608.4 1410.6L2608.8 1426.8L2609.2 1425.3L2609.5 1410.8L2609.9 1419.7L2610.2 1417.2L2610.6 1421.4L2611 1416.3L2611.3 1428.1L2611.7 1414.3L2612 1425.7L2612.4 1415.5L2612.8 1422.7L2613.1 1418.7L2613.5 1420.6L2613.8 1420.6L2614.2 1422.6L2614.6 1412.4L2614.9 1412.4L2615.3 1429.1L2615.6 1416.2L2616 1418.1L2616.4 1416.1L2616.7 1423.6L2617.1 1429.8L2617.4 1420L2617.8 1419.2L2618.2 1420.3L2618.5 1415.8L2618.9 1417.5L2619.2 1417.7L2619.6 1422.5L2620 1432.6L2620.3 1421.2L2620.7 1427.4L2621 1423.6L2621.4 1422.1L2621.8 1432.5L2622.1 1424.7L2622.5 1425.5L2622.8 1433.6L2623.2 1428.1L2623.6 1368L2623.9 1413.3L2624.3 1429.6L2624.6 1435.4L2625 1431.5L2625.4 1433.9L2625.7 1432.2L2626.1 1432.8L2626.4 1437.8L2626.8 1438L2627.2 1432.6L2627.5 1437.3L2627.9 1433.1L2628.2 1434.7L2628.6 1433.3L2629 1438.1L2629.3 1439L2629.7 1439.5L2630 1440.1L2630.4 1437.6L2630.8 1436.4L2631.1 1435.4L2631.5 1439L2631.8 1412L2632.2 1430.5L2632.6 1441L2632.9 1443.3L2633.3 1443L2633.6 1442.2L2634 1441.2L2634.4 1438.7L2634.7 1442.5L2635.1 1440.2L2635.4 1442.3L2635.8 1439.1L2636.2 1444.2L2636.5 1399L2636.9 1428.5L2637.2 1444L2637.6 1439.1L2638 1444L2638.3 1442.6L2638.7 1442.4L2639 1440.2L2639.4 1440.8L2639.8 1440.3L2640.1 1441.7L2640.5 1443.2L2640.8 1443.8L2641.2 1443.7L2641.6 1441.5L2641.9 1441.5L2642.3 1444.4L2642.6 1445.8L2643 1441.1L2643.4 1442.4L2643.7 1441.7L2644.1 1446.1L2644.4 1440.3L2644.8 1445.8L2645.2 1445.1L2645.5 1442.5L2645.9 1444.7L2646.2 1442.9L2646.6 1444.6L2647 1443.5L2647.3 1446.5L2647.7 1443.8L2648 1446L2648.4 1444.7L2648.8 1443.6L2649.1 1447.1L2649.5 1442.8L2649.8 1447L2650.2 1447.5L2650.6 1446.8L2650.9 1445.6L2651.3 1445.7L2651.6 1447.5L2652 1444.9L2652.4 1447.1L2652.7 1446.9L2653.1 1447.4L2653.4 1445.3L2653.8 1446.5L2654.2 1443.6L2654.5 1443.6L2654.9 1443.9" fill="none" stroke="#5fbdf2" stroke-width="2.1" clip-path="url(#c5)" stroke-linejoin="round"/>
<rect x="1886" y="955" width="3.5" height="583" fill="#31313c" />
<text x="1958.3" y="1008.3" font-family='"Liberation Sans", sans-serif' font-size="22" font-weight="700" fill="#9b9eae" text-anchor="end" textLength="76" lengthAdjust="spacingAndGlyphs"  stroke="#9b9eae" stroke-width="0.45" stroke-linejoin="round">1.00e-5</text>
<text x="1958.3" y="1089.4" font-family='"Liberation Sans", sans-serif' font-size="22" font-weight="700" fill="#9b9eae" text-anchor="end" textLength="76" lengthAdjust="spacingAndGlyphs"  stroke="#9b9eae" stroke-width="0.45" stroke-linejoin="round">5.00e-6</text>
<text x="1958.3" y="1196.7" font-family='"Liberation Sans", sans-serif' font-size="22" font-weight="700" fill="#9b9eae" text-anchor="end" textLength="76" lengthAdjust="spacingAndGlyphs"  stroke="#9b9eae" stroke-width="0.45" stroke-linejoin="round">2.00e-6</text>
<text x="1958.3" y="1277.8" font-family='"Liberation Sans", sans-serif' font-size="22" font-weight="700" fill="#9b9eae" text-anchor="end" textLength="76" lengthAdjust="spacingAndGlyphs"  stroke="#9b9eae" stroke-width="0.45" stroke-linejoin="round">1.00e-6</text>
<text x="1958.3" y="1358.9" font-family='"Liberation Sans", sans-serif' font-size="22" font-weight="700" fill="#9b9eae" text-anchor="end" textLength="76" lengthAdjust="spacingAndGlyphs"  stroke="#9b9eae" stroke-width="0.45" stroke-linejoin="round">5.00e-7</text>
<text x="1958.3" y="1466.2" font-family='"Liberation Sans", sans-serif' font-size="22" font-weight="700" fill="#9b9eae" text-anchor="end" textLength="76" lengthAdjust="spacingAndGlyphs"  stroke="#9b9eae" stroke-width="0.45" stroke-linejoin="round">2.00e-7</text>
<text x="2049.3" y="1532.4" font-family='"Liberation Sans", sans-serif' font-size="22" font-weight="700" fill="#9b9eae" text-anchor="middle" textLength="66" lengthAdjust="spacingAndGlyphs"  stroke="#9b9eae" stroke-width="0.45" stroke-linejoin="round">09 Jan</text>
<text x="2219.6" y="1532.4" font-family='"Liberation Sans", sans-serif' font-size="22" font-weight="700" fill="#9b9eae" text-anchor="middle" textLength="55.2" lengthAdjust="spacingAndGlyphs"  stroke="#9b9eae" stroke-width="0.45" stroke-linejoin="round">06:00</text>
<text x="2391" y="1532.4" font-family='"Liberation Sans", sans-serif' font-size="22" font-weight="700" fill="#9b9eae" text-anchor="middle" textLength="55.2" lengthAdjust="spacingAndGlyphs"  stroke="#9b9eae" stroke-width="0.45" stroke-linejoin="round">12:00</text>
<text x="2561.6" y="1532.4" font-family='"Liberation Sans", sans-serif' font-size="22" font-weight="700" fill="#9b9eae" text-anchor="middle" textLength="55.2" lengthAdjust="spacingAndGlyphs"  stroke="#9b9eae" stroke-width="0.45" stroke-linejoin="round">18:00</text>
<text x="1876" y="1246" font-family='"Liberation Sans", sans-serif' font-size="22" font-weight="700" fill="#9194a4" text-anchor="middle" textLength="302.7" lengthAdjust="spacingAndGlyphs" transform="rotate(-90 1876 1246)"  stroke="#9194a4" stroke-width="0.45" stroke-linejoin="round">Dewar Vacuum Pressure (Torr)</text>
<linearGradient id="g6" gradientUnits="userSpaceOnUse" x1="0" y1="943" x2="0" y2="1522"><stop offset="0" stop-color="#d9dee8" stop-opacity="0"/><stop offset="0.1" stop-color="#d9dee8" stop-opacity="1.0"/><stop offset="0.9" stop-color="#d9dee8" stop-opacity="1.0"/><stop offset="1" stop-color="#d9dee8" stop-opacity="0"/></linearGradient>
<rect x="2057.4" y="943" width="2" height="579" fill="url(#g6)" />
<clipPath id="c7"><rect x="275.5" y="1488" width="653.5" height="212"/></clipPath>
<rect x="349.8" y="1488" width="2" height="212" fill="#383846" />
<rect x="510.9" y="1488" width="2" height="212" fill="#383846" />
<rect x="675.6" y="1488" width="2" height="212" fill="#383846" />
<rect x="838.9" y="1488" width="2" height="212" fill="#383846" />
<rect x="278.5" y="1572" width="650.5" height="2" fill="#383846" />
<rect x="275.5" y="1488" width="3" height="212" fill="#383846" />
<path d="M275.5 1488L275.5 1507.6L276.5 1507.4L277.5 1507.4L278.5 1507.5L279.5 1507.7L280.5 1507.6L281.5 1507.1L282.5 1507.5L283.5 1507.6L284.5 1507.4L285.5 1507.8L286.5 1507.7L287.5 1507.2L288.5 1507.6L289.5 1508.1L290.5 1508L291.5 1507.5L292.5 1507.8L293.5 1507.3L294.5 1507.1L295.5 1507.7L296.5 1507.6L297.5 1507.7L298.5 1507.5L299.5 1507.6L300.5 1507.3L301.5 1507.6L302.5 1507.7L303.5 1507.5L304.5 1507.7L305.5 1507L306.5 1507.3L307.5 1507.9L308.5 1508L309.5 1507.6L310.5 1507.5L311.5 1507.1L312.5 1507.6L313.5 1507.7L314.5 1507.1L315.5 1507.7L316.5 1507.6L317.5 1507.6L318.5 1507.2L319.5 1507.7L320.5 1507.1L321.5 1507.9L322.5 1507.5L323.5 1507.2L324.5 1507.9L325.5 1507.8L326.5 1507.3L327.5 1508.2L328.5 1507.2L329.5 1507.6L330.5 1507.9L331.5 1506.8L332.5 1507.8L333.5 1507.5L334.5 1507.5L335.5 1507.2L336.5 1507.6L337.5 1507.2L338.5 1507.2L339.5 1507.4L340.5 1507.1L341.5 1508L342.5 1507.1L343.5 1507.3L344.5 1507.4L345.5 1507.5L346.5 1507.7L347.5 1507.7L348.5 1507.4L349.5 1507.4L350.5 1507.5L351.5 1507.7L352.5 1507.7L353.5 1507.3L354.5 1506.9L355.5 1508.1L356.5 1507.8L357.5 1507.6L358.5 1507.6L359.5 1507.3L360.5 1507.2L361.5 1507.4L362.5 1507.4L363.5 1507.3L364.5 1507.1L365.5 1507.4L366 1507.5L368 1520L371 1565L374.2 1623L378 1700L678 1700L681.6 1623L688 1593L695.5 1566L702 1541L707 1523L710.5 1512L713 1508L713.5 1508.5L714 1508.4L714.5 1508.2L715 1507.9L715.5 1507.6L716 1507.4L716.5 1507.1L717 1506.8L717.5 1506.6L718 1506.4L718.5 1506.2L719 1506.1L719.5 1506.1L720 1506.1L720.5 1506.2L721 1506.4L721.5 1506.6L722 1506.8L722.5 1507.1L723 1507.4L723.5 1507.6L724 1507.9L724.5 1508.2L725 1508.4L725.5 1508.5L726 1508.6L726.5 1508.7L727 1508.7L727.5 1508.6L728 1508.5L728.5 1508.3L729 1508.1L729.5 1507.8L730 1507.5L730.5 1507.2L731 1507L731.5 1506.7L732 1506.5L732.5 1506.3L733 1506.2L733.5 1506.1L734 1506.1L734.5 1506.2L735 1506.3L735.5 1506.5L736 1506.7L736.5 1506.9L737 1507.2L737.5 1507.5L738 1507.7L738.5 1508L739 1508.2L739.5 1508.4L740 1508.5L740.5 1508.6L741 1508.7L741.5 1508.6L742 1508.5L742.5 1508.4L743 1508.2L743.5 1507.9L744 1507.7L744.5 1507.4L745 1507.1L745.5 1506.9L746 1506.7L746.5 1506.5L747 1506.3L747.5 1506.2L748 1506.2L748.5 1506.2L749 1506.3L749.5 1506.4L750 1506.6L750.5 1506.8L751 1507L751.5 1507.3L752 1507.6L752.5 1507.8L753 1508.1L753.5 1508.3L754 1508.4L754.5 1508.6L755 1508.6L755.5 1508.6L756 1508.6L756.5 1508.4L757 1508.3L757.5 1508.1L758 1507.8L758.5 1507.6L759 1507.3L759.5 1507L760 1506.8L760.5 1506.6L761 1506.4L761.5 1506.3L762 1506.2L762.5 1506.2L763 1506.2L763.5 1506.3L764 1506.5L764.5 1506.7L765 1506.9L765.5 1507.2L766 1507.4L766.5 1507.7L767 1507.9L767.5 1508.1L768 1508.3L768.5 1508.5L769 1508.6L769.5 1508.6L770 1508.6L770.5 1508.5L771 1508.4L771.5 1508.2L772 1508L772.5 1507.7L773 1507.5L773.5 1507.2L774 1507L774.5 1506.7L775 1506.5L775.5 1506.4L776 1506.3L776.5 1506.2L777 1506.2L777.5 1506.3L778 1506.4L778.5 1506.6L779 1506.8L779.5 1507L780 1507.3L780.5 1507.5L781 1507.8L781.5 1508L782 1508.2L782.5 1508.4L783 1508.5L783.5 1508.5L784 1508.6L784.5 1508.5L785 1508.4L785.5 1508.3L786 1508.1L786.5 1507.9L787 1507.6L787.5 1507.4L788 1507.1L788.5 1506.9L789 1506.7L789.5 1506.5L790 1506.4L790.5 1506.3L791 1506.3L791.5 1506.3L792 1506.4L792.5 1506.5L793 1506.7L793.5 1506.9L794 1507.1L794.5 1507.4L795 1507.6L795.5 1507.8L796 1508.1L796.5 1508.2L797 1508.4L797.5 1508.5L798 1508.5L798.5 1508.5L799 1508.4L799.5 1508.3L800 1508.2L800.5 1508L801 1507.8L801.5 1507.5L802 1507.3L802.5 1507L803 1506.8L803.5 1506.6L804 1506.5L804.5 1506.4L805 1506.3L805.5 1506.3L806 1506.3L806.5 1506.4L807 1506.6L807.5 1506.8L808 1507L808.5 1507.2L809 1507.5L809.5 1507.7L810 1507.9L810.5 1508.1L811 1508.3L811.5 1508.4L812 1508.5L812.5 1508.5L813 1508.5L813.5 1508.4L814 1508.2L814.5 1508.1L815 1507.9L815.5 1507.6L816 1507.4L816.5 1507.2L817 1506.9L817.5 1506.7L818 1506.6L818.5 1506.4L819 1506.4L819.5 1506.3L820 1506.3L820.5 1506.4L821 1506.5L821.5 1506.7L822 1506.9L822.5 1507.1L823 1507.3L823.5 1507.6L824 1507.8L824.5 1508L825 1508.2L825.5 1508.3L826 1508.4L826.5 1508.5L827 1508.5L827.5 1508.4L828 1508.3L828.5 1508.2L829 1508L829.5 1507.8L830 1507.6L830.5 1507.3L831 1507.1L831.5 1506.9L832 1506.7L832.5 1506.5L833 1506.4L833.5 1506.4L834 1506.4L834.5 1506.4L835 1506.5L835.5 1506.6L836 1506.8L836.5 1507L837 1507.2L837.5 1507.4L838 1507.6L838.5 1507.9L839 1508L839.5 1508.2L840 1508.3L840.5 1508.4L841 1508.4L841.5 1508.4L842 1508.3L842.5 1508.2L843 1508.1L843.5 1507.9L844 1507.7L844.5 1507.5L845 1507.2L845.5 1507L846 1506.8L846.5 1506.7L847 1506.5L847.5 1506.4L848 1506.4L848.5 1506.4L849 1506.4L849.5 1506.5L850 1506.7L850.5 1506.9L851 1507.1L851.5 1507.3L852 1507.5L852.5 1507.7L853 1507.9L853.5 1508.1L854 1508.2L854.5 1508.3L855 1508.4L855.5 1508.4L856 1508.4L856.5 1508.3L857 1508.1L857.5 1508L858 1507.8L858.5 1507.6L859 1507.4L859.5 1507.2L860 1506.9L860.5 1506.8L861 1506.6L861.5 1506.5L862 1506.4L862.5 1506.4L863 1506.4L863.5 1506.5L864 1506.6L864.5 1506.8L865 1507L865.5 1507.2L866 1507.4L866.5 1507.6L867 1507.8L867.5 1508L868 1508.1L868.5 1508.3L869 1508.3L869.5 1508.4L870 1508.4L870.5 1508.3L871 1508.2L871.5 1508.1L872 1507.9L872.5 1507.7L873 1507.5L873.5 1507.3L874 1507.1L874.5 1506.9L875 1506.7L875.5 1506.6L876 1506.5L876.5 1506.5L877 1506.4L877.5 1506.5L878 1506.6L878.5 1506.7L879 1506.9L879.5 1507L880 1507.2L880.5 1507.5L881 1507.7L881.5 1507.8L882 1508L882.5 1508.2L883 1508.3L883.5 1508.3L884 1508.3L884.5 1508.3L885 1508.2L885.5 1508.1L886 1508L886.5 1507.8L887 1507.6L887.5 1507.4L888 1507.2L888.5 1507L889 1506.8L889.5 1506.7L890 1506.6L890.5 1506.5L891 1506.5L891.5 1506.5L892 1506.6L892.5 1506.6L893 1506.8L893.5 1506.9L894 1507.1L894.5 1507.3L895 1507.5L895.5 1507.7L896 1507.9L896.5 1508.1L897 1508.2L897.5 1508.3L898 1508.3L898.5 1508.3L899 1508.3L899.5 1508.2L900 1508L900.5 1507.9L901 1507.7L901.5 1507.5L902 1507.3L902.5 1507.1L903 1507L903.5 1506.8L904 1506.7L904.5 1506.6L905 1506.5L905.5 1506.5L906 1506.5L906.5 1506.6L907 1506.7L907.5 1506.9L908 1507L908.5 1507.2L909 1507.4L909.5 1507.6L910 1507.8L910.5 1507.9L911 1508.1L911.5 1508.2L912 1508.3L912.5 1508.3L913 1508.3L913.5 1508.2L914 1508.1L914.5 1508L915 1507.8L915.5 1507.6L916 1507.4L916.5 1507.3L917 1507.1L917.5 1506.9L918 1506.8L918.5 1506.7L919 1506.6L919.5 1506.5L920 1506.5L920.5 1506.6L921 1506.7L921.5 1506.8L922 1506.9L922.5 1507.1L923 1507.3L923.5 1507.5L924 1507.7L924.5 1507.8L925 1508L925.5 1508.1L926 1508.2L926.5 1508.2L927 1508.2L927.5 1508.2L928 1508.1L928.5 1508L929 1507.9L929 1488Z" fill="rgb(90,190,245)" stroke="none" stroke-width="1" clip-path="url(#c7)" fill-opacity="0.16"/>
<path d="M275.5 1507.6L276.5 1507.4L277.5 1507.4L278.5 1507.5L279.5 1507.7L280.5 1507.6L281.5 1507.1L282.5 1507.5L283.5 1507.6L284.5 1507.4L285.5 1507.8L286.5 1507.7L287.5 1507.2L288.5 1507.6L289.5 1508.1L290.5 1508L291.5 1507.5L292.5 1507.8L293.5 1507.3L294.5 1507.1L295.5 1507.7L296.5 1507.6L297.5 1507.7L298.5 1507.5L299.5 1507.6L300.5 1507.3L301.5 1507.6L302.5 1507.7L303.5 1507.5L304.5 1507.7L305.5 1507L306.5 1507.3L307.5 1507.9L308.5 1508L309.5 1507.6L310.5 1507.5L311.5 1507.1L312.5 1507.6L313.5 1507.7L314.5 1507.1L315.5 1507.7L316.5 1507.6L317.5 1507.6L318.5 1507.2L319.5 1507.7L320.5 1507.1L321.5 1507.9L322.5 1507.5L323.5 1507.2L324.5 1507.9L325.5 1507.8L326.5 1507.3L327.5 1508.2L328.5 1507.2L329.5 1507.6L330.5 1507.9L331.5 1506.8L332.5 1507.8L333.5 1507.5L334.5 1507.5L335.5 1507.2L336.5 1507.6L337.5 1507.2L338.5 1507.2L339.5 1507.4L340.5 1507.1L341.5 1508L342.5 1507.1L343.5 1507.3L344.5 1507.4L345.5 1507.5L346.5 1507.7L347.5 1507.7L348.5 1507.4L349.5 1507.4L350.5 1507.5L351.5 1507.7L352.5 1507.7L353.5 1507.3L354.5 1506.9L355.5 1508.1L356.5 1507.8L357.5 1507.6L358.5 1507.6L359.5 1507.3L360.5 1507.2L361.5 1507.4L362.5 1507.4L363.5 1507.3L364.5 1507.1L365.5 1507.4L366 1507.5L368 1520L371 1565L374.2 1623L378 1700L678 1700L681.6 1623L688 1593L695.5 1566L702 1541L707 1523L710.5 1512L713 1508L713.5 1508.5L714 1508.4L714.5 1508.2L715 1507.9L715.5 1507.6L716 1507.4L716.5 1507.1L717 1506.8L717.5 1506.6L718 1506.4L718.5 1506.2L719 1506.1L719.5 1506.1L720 1506.1L720.5 1506.2L721 1506.4L721.5 1506.6L722 1506.8L722.5 1507.1L723 1507.4L723.5 1507.6L724 1507.9L724.5 1508.2L725 1508.4L725.5 1508.5L726 1508.6L726.5 1508.7L727 1508.7L727.5 1508.6L728 1508.5L728.5 1508.3L729 1508.1L729.5 1507.8L730 1507.5L730.5 1507.2L731 1507L731.5 1506.7L732 1506.5L732.5 1506.3L733 1506.2L733.5 1506.1L734 1506.1L734.5 1506.2L735 1506.3L735.5 1506.5L736 1506.7L736.5 1506.9L737 1507.2L737.5 1507.5L738 1507.7L738.5 1508L739 1508.2L739.5 1508.4L740 1508.5L740.5 1508.6L741 1508.7L741.5 1508.6L742 1508.5L742.5 1508.4L743 1508.2L743.5 1507.9L744 1507.7L744.5 1507.4L745 1507.1L745.5 1506.9L746 1506.7L746.5 1506.5L747 1506.3L747.5 1506.2L748 1506.2L748.5 1506.2L749 1506.3L749.5 1506.4L750 1506.6L750.5 1506.8L751 1507L751.5 1507.3L752 1507.6L752.5 1507.8L753 1508.1L753.5 1508.3L754 1508.4L754.5 1508.6L755 1508.6L755.5 1508.6L756 1508.6L756.5 1508.4L757 1508.3L757.5 1508.1L758 1507.8L758.5 1507.6L759 1507.3L759.5 1507L760 1506.8L760.5 1506.6L761 1506.4L761.5 1506.3L762 1506.2L762.5 1506.2L763 1506.2L763.5 1506.3L764 1506.5L764.5 1506.7L765 1506.9L765.5 1507.2L766 1507.4L766.5 1507.7L767 1507.9L767.5 1508.1L768 1508.3L768.5 1508.5L769 1508.6L769.5 1508.6L770 1508.6L770.5 1508.5L771 1508.4L771.5 1508.2L772 1508L772.5 1507.7L773 1507.5L773.5 1507.2L774 1507L774.5 1506.7L775 1506.5L775.5 1506.4L776 1506.3L776.5 1506.2L777 1506.2L777.5 1506.3L778 1506.4L778.5 1506.6L779 1506.8L779.5 1507L780 1507.3L780.5 1507.5L781 1507.8L781.5 1508L782 1508.2L782.5 1508.4L783 1508.5L783.5 1508.5L784 1508.6L784.5 1508.5L785 1508.4L785.5 1508.3L786 1508.1L786.5 1507.9L787 1507.6L787.5 1507.4L788 1507.1L788.5 1506.9L789 1506.7L789.5 1506.5L790 1506.4L790.5 1506.3L791 1506.3L791.5 1506.3L792 1506.4L792.5 1506.5L793 1506.7L793.5 1506.9L794 1507.1L794.5 1507.4L795 1507.6L795.5 1507.8L796 1508.1L796.5 1508.2L797 1508.4L797.5 1508.5L798 1508.5L798.5 1508.5L799 1508.4L799.5 1508.3L800 1508.2L800.5 1508L801 1507.8L801.5 1507.5L802 1507.3L802.5 1507L803 1506.8L803.5 1506.6L804 1506.5L804.5 1506.4L805 1506.3L805.5 1506.3L806 1506.3L806.5 1506.4L807 1506.6L807.5 1506.8L808 1507L808.5 1507.2L809 1507.5L809.5 1507.7L810 1507.9L810.5 1508.1L811 1508.3L811.5 1508.4L812 1508.5L812.5 1508.5L813 1508.5L813.5 1508.4L814 1508.2L814.5 1508.1L815 1507.9L815.5 1507.6L816 1507.4L816.5 1507.2L817 1506.9L817.5 1506.7L818 1506.6L818.5 1506.4L819 1506.4L819.5 1506.3L820 1506.3L820.5 1506.4L821 1506.5L821.5 1506.7L822 1506.9L822.5 1507.1L823 1507.3L823.5 1507.6L824 1507.8L824.5 1508L825 1508.2L825.5 1508.3L826 1508.4L826.5 1508.5L827 1508.5L827.5 1508.4L828 1508.3L828.5 1508.2L829 1508L829.5 1507.8L830 1507.6L830.5 1507.3L831 1507.1L831.5 1506.9L832 1506.7L832.5 1506.5L833 1506.4L833.5 1506.4L834 1506.4L834.5 1506.4L835 1506.5L835.5 1506.6L836 1506.8L836.5 1507L837 1507.2L837.5 1507.4L838 1507.6L838.5 1507.9L839 1508L839.5 1508.2L840 1508.3L840.5 1508.4L841 1508.4L841.5 1508.4L842 1508.3L842.5 1508.2L843 1508.1L843.5 1507.9L844 1507.7L844.5 1507.5L845 1507.2L845.5 1507L846 1506.8L846.5 1506.7L847 1506.5L847.5 1506.4L848 1506.4L848.5 1506.4L849 1506.4L849.5 1506.5L850 1506.7L850.5 1506.9L851 1507.1L851.5 1507.3L852 1507.5L852.5 1507.7L853 1507.9L853.5 1508.1L854 1508.2L854.5 1508.3L855 1508.4L855.5 1508.4L856 1508.4L856.5 1508.3L857 1508.1L857.5 1508L858 1507.8L858.5 1507.6L859 1507.4L859.5 1507.2L860 1506.9L860.5 1506.8L861 1506.6L861.5 1506.5L862 1506.4L862.5 1506.4L863 1506.4L863.5 1506.5L864 1506.6L864.5 1506.8L865 1507L865.5 1507.2L866 1507.4L866.5 1507.6L867 1507.8L867.5 1508L868 1508.1L868.5 1508.3L869 1508.3L869.5 1508.4L870 1508.4L870.5 1508.3L871 1508.2L871.5 1508.1L872 1507.9L872.5 1507.7L873 1507.5L873.5 1507.3L874 1507.1L874.5 1506.9L875 1506.7L875.5 1506.6L876 1506.5L876.5 1506.5L877 1506.4L877.5 1506.5L878 1506.6L878.5 1506.7L879 1506.9L879.5 1507L880 1507.2L880.5 1507.5L881 1507.7L881.5 1507.8L882 1508L882.5 1508.2L883 1508.3L883.5 1508.3L884 1508.3L884.5 1508.3L885 1508.2L885.5 1508.1L886 1508L886.5 1507.8L887 1507.6L887.5 1507.4L888 1507.2L888.5 1507L889 1506.8L889.5 1506.7L890 1506.6L890.5 1506.5L891 1506.5L891.5 1506.5L892 1506.6L892.5 1506.6L893 1506.8L893.5 1506.9L894 1507.1L894.5 1507.3L895 1507.5L895.5 1507.7L896 1507.9L896.5 1508.1L897 1508.2L897.5 1508.3L898 1508.3L898.5 1508.3L899 1508.3L899.5 1508.2L900 1508L900.5 1507.9L901 1507.7L901.5 1507.5L902 1507.3L902.5 1507.1L903 1507L903.5 1506.8L904 1506.7L904.5 1506.6L905 1506.5L905.5 1506.5L906 1506.5L906.5 1506.6L907 1506.7L907.5 1506.9L908 1507L908.5 1507.2L909 1507.4L909.5 1507.6L910 1507.8L910.5 1507.9L911 1508.1L911.5 1508.2L912 1508.3L912.5 1508.3L913 1508.3L913.5 1508.2L914 1508.1L914.5 1508L915 1507.8L915.5 1507.6L916 1507.4L916.5 1507.3L917 1507.1L917.5 1506.9L918 1506.8L918.5 1506.7L919 1506.6L919.5 1506.5L920 1506.5L920.5 1506.6L921 1506.7L921.5 1506.8L922 1506.9L922.5 1507.1L923 1507.3L923.5 1507.5L924 1507.7L924.5 1507.8L925 1508L925.5 1508.1L926 1508.2L926.5 1508.2L927 1508.2L927.5 1508.2L928 1508.1L928.5 1508L929 1507.9" fill="none" stroke="#5fbdf2" stroke-width="2.1" clip-path="url(#c7)" stroke-linejoin="round"/>
<rect x="160.2" y="1481" width="3.5" height="200" fill="#31313c" />
<text x="260" y="1579.3" font-family='"Liberation Sans", sans-serif' font-size="22" font-weight="700" fill="#9b9eae" text-anchor="end" textLength="75" lengthAdjust="spacingAndGlyphs"  stroke="#9b9eae" stroke-width="0.45" stroke-linejoin="round">-120 °C</text>
<text x="260" y="1497.5" font-family='"Liberation Sans", sans-serif' font-size="22" font-weight="700" fill="#9b9eae" text-anchor="end" textLength="75" lengthAdjust="spacingAndGlyphs"  stroke="#9b9eae" stroke-width="0.45" stroke-linejoin="round">-115 °C</text>
<linearGradient id="g8" gradientUnits="userSpaceOnUse" x1="0" y1="1471" x2="0" y2="2048"><stop offset="0" stop-color="#d9dee8" stop-opacity="0"/><stop offset="0.1" stop-color="#d9dee8" stop-opacity="1.0"/><stop offset="0.9" stop-color="#d9dee8" stop-opacity="1.0"/><stop offset="1" stop-color="#d9dee8" stop-opacity="0"/></linearGradient>
<rect x="356" y="1471" width="2" height="577" fill="url(#g8)" />
<clipPath id="c9"><rect x="1109" y="1488" width="682" height="212"/></clipPath>
<rect x="1185" y="1488" width="2" height="212" fill="#383846" />
<rect x="1354.6" y="1488" width="2" height="212" fill="#383846" />
<rect x="1527" y="1488" width="2" height="212" fill="#383846" />
<rect x="1697.3" y="1488" width="2" height="212" fill="#383846" />
<rect x="1112" y="1498" width="679" height="2" fill="#383846" />
<rect x="1112" y="1582" width="679" height="2" fill="#383846" />
<rect x="1109" y="1488" width="3" height="212" fill="#383846" />
<path d="M1109.4 1488L1109.4 1531.4L1110.2 1530.5L1111 1530.7L1111.8 1529.1L1112.6 1530.3L1113.4 1530.2L1114.2 1529.3L1115 1528.8L1115.8 1530.2L1116.6 1529.2L1117.4 1529.9L1118.2 1529.2L1119 1530.1L1119.8 1529.6L1120.6 1529L1121.4 1530.1L1122.2 1530.1L1123 1531L1123.8 1530.4L1124.6 1530.6L1125.4 1531.6L1126.2 1532L1127 1531.9L1127.8 1532.3L1128.6 1532L1129.4 1532.4L1130.2 1532.6L1131 1532.4L1131.8 1532.3L1132.6 1532.4L1133.4 1534.1L1134.2 1532.5L1135 1532.5L1135.8 1532.5L1136.6 1532.8L1137.4 1533.1L1138.2 1532.2L1139 1531.7L1139.8 1533.4L1140.6 1532.2L1141.4 1533.6L1142.2 1533.6L1143 1534.4L1143.8 1534.9L1144.6 1534.1L1145.4 1533.5L1146.2 1533.2L1147 1533.6L1147.8 1534.3L1148.6 1532.9L1149.4 1534.5L1150.2 1534.5L1151 1535.1L1151.8 1534.5L1152.6 1534.9L1153.4 1534.4L1154.2 1534.6L1155 1533.8L1155.8 1535.2L1156.6 1536.3L1157.4 1535.4L1158.2 1535.7L1159 1534.8L1159.8 1536.6L1160.6 1535.1L1161.4 1536.3L1162.2 1535.9L1163 1535.3L1163.8 1536.7L1164.6 1536.1L1165.4 1536.3L1166.2 1536.6L1167 1536.3L1167.8 1536.2L1168.6 1536.9L1169.4 1536.3L1170.2 1536.8L1171 1536.3L1171.8 1533.9L1172.6 1532.7L1173.4 1531L1174.2 1529.9L1175 1530.2L1175.8 1527.6L1176.6 1528.4L1177.4 1526.2L1178.2 1526.5L1179 1526.3L1179.8 1524.6L1180.6 1524.4L1181.4 1525.5L1182.2 1525.1L1183 1524.6L1183.8 1523.8L1184.6 1525.5L1185.4 1523.5L1186.2 1522.7L1187 1524.1L1187.8 1523L1188.6 1522L1189.4 1522.7L1190.2 1521.6L1191 1522.2L1191.8 1526.3L1192.6 1529.4L1193.4 1531.5L1194.2 1531.7L1195 1531.6L1195.8 1532.5L1196.6 1534.3L1197.4 1533.6L1198.2 1534.2L1199 1534.9L1199.8 1534.8L1200.6 1533.9L1201.4 1535.7L1202.2 1536.2L1203 1536.5L1203.8 1537.4L1204.6 1536.8L1205.4 1537.4L1206.2 1538.3L1207 1537.3L1208 1539L1209.4 1580L1211.5 1623L1214.5 1700L1529 1640L1532.4 1623L1541 1586L1551 1555.6L1561 1534L1571 1521L1571.5 1522.3L1572.3 1522.1L1573.1 1521.2L1573.9 1521.8L1574.7 1520.9L1575.5 1519.3L1576.3 1520.7L1577.1 1519.9L1577.9 1519.8L1578.7 1519.4L1579.5 1520.2L1580.3 1519.4L1581.1 1518.2L1581.9 1518.9L1582.7 1518.9L1583.5 1517.5L1584.3 1517.6L1585.1 1517.4L1585.9 1517L1586.7 1517.6L1587.5 1517.9L1588.3 1518.4L1589.1 1517.7L1589.9 1517.3L1590.7 1517.3L1591.5 1517.3L1592.3 1515.7L1593.1 1516.4L1593.9 1516L1594.7 1515.5L1595.5 1515.1L1596.3 1514.9L1597.1 1514.9L1597.9 1514L1598.7 1515.2L1599.5 1514.6L1600.3 1514.6L1601.1 1514.6L1601.9 1514.7L1602.7 1513.5L1603.5 1513.8L1604.3 1512.4L1605.1 1511.7L1605.9 1511.8L1606.7 1514.4L1607.5 1511.6L1608.3 1513.3L1609.1 1513.9L1609.9 1512.2L1610.7 1513.7L1611.5 1513.7L1612.3 1512.9L1613.1 1513.9L1613.9 1512.4L1614.7 1511.2L1615.5 1512.1L1616.3 1511.2L1617.1 1510.4L1617.9 1510.3L1618.7 1513.1L1619.5 1510.7L1620.3 1511L1621.1 1510.4L1621.9 1511L1622.7 1510.6L1623.5 1510.3L1624.3 1509.6L1625.1 1509.3L1625.9 1509.8L1626.7 1510.5L1627.5 1511.8L1628.3 1510.9L1629.1 1511.4L1629.9 1510.2L1630.7 1509.7L1631.5 1508.6L1632.3 1509.6L1633.1 1507.7L1633.9 1509.1L1634.7 1510.6L1635.5 1509.4L1636.3 1510L1637.1 1508.7L1637.9 1507.9L1638.7 1508.5L1639.5 1508.5L1640.3 1509.8L1641.1 1510.3L1641.9 1508.1L1642.7 1508.3L1643.5 1508.4L1644.3 1508.2L1645.1 1507.4L1645.9 1508.4L1646.7 1508.6L1647.5 1508.5L1648.3 1507.2L1649.1 1508L1649.9 1506.6L1650.7 1508.7L1651.5 1507.1L1652.3 1507.6L1653.1 1507.4L1653.9 1507.2L1654.7 1506.8L1655.5 1506.1L1656.3 1508.9L1657.1 1507.9L1657.9 1508L1658.7 1509.5L1659.5 1507.9L1660.3 1508.5L1661.1 1508.2L1661.9 1509.2L1662.7 1508.8L1663.5 1508.7L1664.3 1508.4L1665.1 1508.9L1665.9 1509.7L1666.7 1507.2L1667.5 1508.9L1668.3 1508.7L1669.1 1508.9L1669.9 1507.7L1670.7 1509.9L1671.5 1508.8L1672.3 1509.4L1673.1 1509.3L1673.9 1508.4L1674.7 1509.5L1675.5 1508.5L1676.3 1509.3L1677.1 1509.9L1677.9 1510.3L1678.7 1510.4L1679.5 1510.4L1680.3 1512.3L1681.1 1511L1681.9 1509.8L1682.7 1510.3L1683.5 1510.4L1684.3 1510.9L1685.1 1510.6L1685.9 1510.5L1686.7 1512.6L1687.5 1511.4L1688.3 1511.2L1689.1 1511.4L1689.9 1511.5L1690.7 1512.9L1691.5 1512.2L1692.3 1512.8L1693.1 1509.5L1693.9 1512.4L1694.7 1513.1L1695.5 1513.9L1696.3 1512.4L1697.1 1511.1L1697.9 1513L1698.7 1512.2L1699.5 1511.3L1700.3 1512.4L1701.1 1513.8L1701.9 1514L1702.7 1513.7L1703.5 1512.4L1704.3 1515.3L1705.1 1512.5L1705.9 1513.4L1706.7 1512.4L1707.5 1514.7L1708.3 1514.1L1709.1 1514.6L1709.9 1514L1710.7 1514L1711.5 1514.3L1712.3 1512.7L1713.1 1515.1L1713.9 1515.2L1714.7 1514.2L1715.5 1514.6L1716.3 1515L1717.1 1516.1L1717.9 1515.2L1718.7 1515L1719.5 1514.7L1720.3 1514L1721.1 1514.8L1721.9 1515.4L1722.7 1515.3L1723.5 1515.6L1724.3 1516.3L1725.1 1516.1L1725.9 1516.1L1726.7 1516.5L1727.5 1516.2L1728.3 1516.1L1729.1 1516.6L1729.9 1515L1730.7 1517.4L1731.5 1515.5L1732.3 1517.3L1733.1 1516.7L1733.9 1517.7L1734.7 1516.9L1735.5 1516.2L1736.3 1518L1737.1 1517.3L1737.9 1517.4L1738.7 1517.4L1739.5 1518.3L1740.3 1518.2L1741.1 1517.9L1741.9 1516.6L1742.7 1517.6L1743.5 1518.1L1744.3 1519.6L1745.1 1518.6L1745.9 1518.3L1746.7 1519.4L1747.5 1518.5L1748.3 1518.7L1749.1 1518.9L1749.9 1517.7L1750.7 1519.8L1751.5 1519.5L1752.3 1519L1753.1 1518.5L1753.9 1519.7L1754.7 1520.7L1755.5 1519.2L1756.3 1519L1757.1 1520.3L1757.9 1518.8L1758.7 1518.4L1759.5 1519.9L1760.3 1519.8L1761.1 1520.3L1761.9 1520.2L1762.7 1521L1763.5 1520.7L1764.3 1520.5L1765.1 1520.7L1765.9 1521.9L1766.7 1522.4L1767.5 1522.6L1768.3 1522.7L1769.1 1519.8L1769.9 1521.9L1770.7 1522.7L1771.5 1523.4L1772.3 1522.2L1773.1 1524.9L1773.9 1524.3L1774.7 1523.8L1775.5 1524.7L1776.3 1524.5L1777.1 1524.5L1777.9 1525.8L1778.7 1525.3L1779.5 1524.8L1780.3 1525.8L1781.1 1526.8L1781.9 1526.7L1782.7 1529.2L1783.5 1527.9L1784.3 1530.8L1785.1 1530.8L1785.9 1529.9L1786.7 1531.4L1787.5 1532.3L1788.3 1530.9L1789.1 1529.8L1789.9 1530.6L1790.7 1531.8L1790.7 1488Z" fill="rgb(90,190,245)" stroke="none" stroke-width="1" clip-path="url(#c9)" fill-opacity="0.16"/>
<path d="M1109.4 1531.4L1110.2 1530.5L1111 1530.7L1111.8 1529.1L1112.6 1530.3L1113.4 1530.2L1114.2 1529.3L1115 1528.8L1115.8 1530.2L1116.6 1529.2L1117.4 1529.9L1118.2 1529.2L1119 1530.1L1119.8 1529.6L1120.6 1529L1121.4 1530.1L1122.2 1530.1L1123 1531L1123.8 1530.4L1124.6 1530.6L1125.4 1531.6L1126.2 1532L1127 1531.9L1127.8 1532.3L1128.6 1532L1129.4 1532.4L1130.2 1532.6L1131 1532.4L1131.8 1532.3L1132.6 1532.4L1133.4 1534.1L1134.2 1532.5L1135 1532.5L1135.8 1532.5L1136.6 1532.8L1137.4 1533.1L1138.2 1532.2L1139 1531.7L1139.8 1533.4L1140.6 1532.2L1141.4 1533.6L1142.2 1533.6L1143 1534.4L1143.8 1534.9L1144.6 1534.1L1145.4 1533.5L1146.2 1533.2L1147 1533.6L1147.8 1534.3L1148.6 1532.9L1149.4 1534.5L1150.2 1534.5L1151 1535.1L1151.8 1534.5L1152.6 1534.9L1153.4 1534.4L1154.2 1534.6L1155 1533.8L1155.8 1535.2L1156.6 1536.3L1157.4 1535.4L1158.2 1535.7L1159 1534.8L1159.8 1536.6L1160.6 1535.1L1161.4 1536.3L1162.2 1535.9L1163 1535.3L1163.8 1536.7L1164.6 1536.1L1165.4 1536.3L1166.2 1536.6L1167 1536.3L1167.8 1536.2L1168.6 1536.9L1169.4 1536.3L1170.2 1536.8L1171 1536.3L1171.8 1533.9L1172.6 1532.7L1173.4 1531L1174.2 1529.9L1175 1530.2L1175.8 1527.6L1176.6 1528.4L1177.4 1526.2L1178.2 1526.5L1179 1526.3L1179.8 1524.6L1180.6 1524.4L1181.4 1525.5L1182.2 1525.1L1183 1524.6L1183.8 1523.8L1184.6 1525.5L1185.4 1523.5L1186.2 1522.7L1187 1524.1L1187.8 1523L1188.6 1522L1189.4 1522.7L1190.2 1521.6L1191 1522.2L1191.8 1526.3L1192.6 1529.4L1193.4 1531.5L1194.2 1531.7L1195 1531.6L1195.8 1532.5L1196.6 1534.3L1197.4 1533.6L1198.2 1534.2L1199 1534.9L1199.8 1534.8L1200.6 1533.9L1201.4 1535.7L1202.2 1536.2L1203 1536.5L1203.8 1537.4L1204.6 1536.8L1205.4 1537.4L1206.2 1538.3L1207 1537.3L1208 1539L1209.4 1580L1211.5 1623L1214.5 1700L1529 1640L1532.4 1623L1541 1586L1551 1555.6L1561 1534L1571 1521L1571.5 1522.3L1572.3 1522.1L1573.1 1521.2L1573.9 1521.8L1574.7 1520.9L1575.5 1519.3L1576.3 1520.7L1577.1 1519.9L1577.9 1519.8L1578.7 1519.4L1579.5 1520.2L1580.3 1519.4L1581.1 1518.2L1581.9 1518.9L1582.7 1518.9L1583.5 1517.5L1584.3 1517.6L1585.1 1517.4L1585.9 1517L1586.7 1517.6L1587.5 1517.9L1588.3 1518.4L1589.1 1517.7L1589.9 1517.3L1590.7 1517.3L1591.5 1517.3L1592.3 1515.7L1593.1 1516.4L1593.9 1516L1594.7 1515.5L1595.5 1515.1L1596.3 1514.9L1597.1 1514.9L1597.9 1514L1598.7 1515.2L1599.5 1514.6L1600.3 1514.6L1601.1 1514.6L1601.9 1514.7L1602.7 1513.5L1603.5 1513.8L1604.3 1512.4L1605.1 1511.7L1605.9 1511.8L1606.7 1514.4L1607.5 1511.6L1608.3 1513.3L1609.1 1513.9L1609.9 1512.2L1610.7 1513.7L1611.5 1513.7L1612.3 1512.9L1613.1 1513.9L1613.9 1512.4L1614.7 1511.2L1615.5 1512.1L1616.3 1511.2L1617.1 1510.4L1617.9 1510.3L1618.7 1513.1L1619.5 1510.7L1620.3 1511L1621.1 1510.4L1621.9 1511L1622.7 1510.6L1623.5 1510.3L1624.3 1509.6L1625.1 1509.3L1625.9 1509.8L1626.7 1510.5L1627.5 1511.8L1628.3 1510.9L1629.1 1511.4L1629.9 1510.2L1630.7 1509.7L1631.5 1508.6L1632.3 1509.6L1633.1 1507.7L1633.9 1509.1L1634.7 1510.6L1635.5 1509.4L1636.3 1510L1637.1 1508.7L1637.9 1507.9L1638.7 1508.5L1639.5 1508.5L1640.3 1509.8L1641.1 1510.3L1641.9 1508.1L1642.7 1508.3L1643.5 1508.4L1644.3 1508.2L1645.1 1507.4L1645.9 1508.4L1646.7 1508.6L1647.5 1508.5L1648.3 1507.2L1649.1 1508L1649.9 1506.6L1650.7 1508.7L1651.5 1507.1L1652.3 1507.6L1653.1 1507.4L1653.9 1507.2L1654.7 1506.8L1655.5 1506.1L1656.3 1508.9L1657.1 1507.9L1657.9 1508L1658.7 1509.5L1659.5 1507.9L1660.3 1508.5L1661.1 1508.2L1661.9 1509.2L1662.7 1508.8L1663.5 1508.7L1664.3 1508.4L1665.1 1508.9L1665.9 1509.7L1666.7 1507.2L1667.5 1508.9L1668.3 1508.7L1669.1 1508.9L1669.9 1507.7L1670.7 1509.9L1671.5 1508.8L1672.3 1509.4L1673.1 1509.3L1673.9 1508.4L1674.7 1509.5L1675.5 1508.5L1676.3 1509.3L1677.1 1509.9L1677.9 1510.3L1678.7 1510.4L1679.5 1510.4L1680.3 1512.3L1681.1 1511L1681.9 1509.8L1682.7 1510.3L1683.5 1510.4L1684.3 1510.9L1685.1 1510.6L1685.9 1510.5L1686.7 1512.6L1687.5 1511.4L1688.3 1511.2L1689.1 1511.4L1689.9 1511.5L1690.7 1512.9L1691.5 1512.2L1692.3 1512.8L1693.1 1509.5L1693.9 1512.4L1694.7 1513.1L1695.5 1513.9L1696.3 1512.4L1697.1 1511.1L1697.9 1513L1698.7 1512.2L1699.5 1511.3L1700.3 1512.4L1701.1 1513.8L1701.9 1514L1702.7 1513.7L1703.5 1512.4L1704.3 1515.3L1705.1 1512.5L1705.9 1513.4L1706.7 1512.4L1707.5 1514.7L1708.3 1514.1L1709.1 1514.6L1709.9 1514L1710.7 1514L1711.5 1514.3L1712.3 1512.7L1713.1 1515.1L1713.9 1515.2L1714.7 1514.2L1715.5 1514.6L1716.3 1515L1717.1 1516.1L1717.9 1515.2L1718.7 1515L1719.5 1514.7L1720.3 1514L1721.1 1514.8L1721.9 1515.4L1722.7 1515.3L1723.5 1515.6L1724.3 1516.3L1725.1 1516.1L1725.9 1516.1L1726.7 1516.5L1727.5 1516.2L1728.3 1516.1L1729.1 1516.6L1729.9 1515L1730.7 1517.4L1731.5 1515.5L1732.3 1517.3L1733.1 1516.7L1733.9 1517.7L1734.7 1516.9L1735.5 1516.2L1736.3 1518L1737.1 1517.3L1737.9 1517.4L1738.7 1517.4L1739.5 1518.3L1740.3 1518.2L1741.1 1517.9L1741.9 1516.6L1742.7 1517.6L1743.5 1518.1L1744.3 1519.6L1745.1 1518.6L1745.9 1518.3L1746.7 1519.4L1747.5 1518.5L1748.3 1518.7L1749.1 1518.9L1749.9 1517.7L1750.7 1519.8L1751.5 1519.5L1752.3 1519L1753.1 1518.5L1753.9 1519.7L1754.7 1520.7L1755.5 1519.2L1756.3 1519L1757.1 1520.3L1757.9 1518.8L1758.7 1518.4L1759.5 1519.9L1760.3 1519.8L1761.1 1520.3L1761.9 1520.2L1762.7 1521L1763.5 1520.7L1764.3 1520.5L1765.1 1520.7L1765.9 1521.9L1766.7 1522.4L1767.5 1522.6L1768.3 1522.7L1769.1 1519.8L1769.9 1521.9L1770.7 1522.7L1771.5 1523.4L1772.3 1522.2L1773.1 1524.9L1773.9 1524.3L1774.7 1523.8L1775.5 1524.7L1776.3 1524.5L1777.1 1524.5L1777.9 1525.8L1778.7 1525.3L1779.5 1524.8L1780.3 1525.8L1781.1 1526.8L1781.9 1526.7L1782.7 1529.2L1783.5 1527.9L1784.3 1530.8L1785.1 1530.8L1785.9 1529.9L1786.7 1531.4L1787.5 1532.3L1788.3 1530.9L1789.1 1529.8L1789.9 1530.6L1790.7 1531.8" fill="none" stroke="#5fbdf2" stroke-width="2.1" clip-path="url(#c9)" stroke-linejoin="round"/>
<rect x="1022" y="1481" width="3.5" height="200" fill="#31313c" />
<text x="1094" y="1507" font-family='"Liberation Sans", sans-serif' font-size="22" font-weight="700" fill="#9b9eae" text-anchor="end" textLength="45" lengthAdjust="spacingAndGlyphs"  stroke="#9b9eae" stroke-width="0.45" stroke-linejoin="round">-150</text>
<text x="1094" y="1589.8" font-family='"Liberation Sans", sans-serif' font-size="22" font-weight="700" fill="#9b9eae" text-anchor="end" textLength="45" lengthAdjust="spacingAndGlyphs"  stroke="#9b9eae" stroke-width="0.45" stroke-linejoin="round">-152</text>
<text x="1012" y="1771.4" font-family='"Liberation Sans", sans-serif' font-size="22" font-weight="700" fill="#9194a4" text-anchor="middle" textLength="418" lengthAdjust="spacingAndGlyphs" transform="rotate(-90 1012 1771.4)"  stroke="#9194a4" stroke-width="0.45" stroke-linejoin="round">lsst.sal.ATCamera.vacuum.tempCryoHead</text>
<linearGradient id="g10" gradientUnits="userSpaceOnUse" x1="0" y1="1471" x2="0" y2="2048"><stop offset="0" stop-color="#d9dee8" stop-opacity="0"/><stop offset="0.1" stop-color="#d9dee8" stop-opacity="1.0"/><stop offset="0.9" stop-color="#d9dee8" stop-opacity="1.0"/><stop offset="1" stop-color="#d9dee8" stop-opacity="0"/></linearGradient>
<rect x="1193.8" y="1471" width="2" height="577" fill="url(#g10)" />
<ellipse cx="470.3" cy="354.2" rx="75.2" ry="111.3" fill="none" stroke="#d6391f" stroke-width="4.3"/>
<line x1="1303" y1="185" x2="567.7" y2="323.4" stroke="#d6391f" stroke-width="3.6" />
<path d="M551 326.5 L570.1 314.6 L573.2 330.7 Z" fill="#d6391f" stroke="none" stroke-width="1" />
<filter id="tsh" x="-20%" y="-50%" width="140%" height="200%"><feGaussianBlur stdDeviation="15"/></filter>
<rect x="154" y="1366" width="570" height="206" fill="rgba(10,9,15,0.72)" rx="12" filter="url(#tsh)"/>
<rect x="162" y="1372" width="554" height="193.8" fill="#0f0e15" rx="8" />
<text x="178.4" y="1418.2" font-family='"Liberation Sans", sans-serif' font-size="24" font-weight="700" fill="#cbced8" text-anchor="start" textLength="276.6" lengthAdjust="spacingAndGlyphs"  stroke="#cbced8" stroke-width="0.45" stroke-linejoin="round">2025/01/09 00:19:24.938</text>
<rect x="552" y="1388" width="44" height="44" fill="#383846" rx="7" />
<rect x="604" y="1388" width="44" height="44" fill="#53a9ef" rx="7" />
<rect x="656" y="1388" width="44" height="44" fill="#383846" rx="7" />
<text x="558" y="1411" font-family='"Liberation Sans", sans-serif' font-size="19.6" font-weight="700" fill="#fff" text-anchor="start" textLength="13.5" lengthAdjust="spacingAndGlyphs" stroke="#fff" stroke-width="0.7">A</text>
<text x="576.2" y="1424.9" font-family='"Liberation Sans", sans-serif' font-size="19.6" font-weight="700" fill="#fff" text-anchor="start" textLength="12" lengthAdjust="spacingAndGlyphs" stroke="#fff" stroke-width="0.7">Z</text>
<text x="612.8" y="1409" font-family='"Liberation Sans", sans-serif' font-size="19.6" font-weight="700" fill="#fff" text-anchor="start" textLength="10.5" lengthAdjust="spacingAndGlyphs" stroke="#fff" stroke-width="0.7">9</text>
<text x="631" y="1423" font-family='"Liberation Sans", sans-serif' font-size="19.6" font-weight="700" fill="#fff" text-anchor="start" textLength="10.4" lengthAdjust="spacingAndGlyphs" stroke="#fff" stroke-width="0.7">0</text>
<circle cx="676.6" cy="1408.8" r="9" fill="none" stroke="#c8cad4" stroke-width="3"/>
<path d="M683.4 1415.8 L689.8 1422.2" fill="none" stroke="#c8cad4" stroke-width="3.8" stroke-linecap="round"/>
<text x="178.9" y="1471.9" font-family='"Liberation Sans", sans-serif' font-size="22" font-weight="700" fill="#5fbdf2" text-anchor="start" textLength="366.4" lengthAdjust="spacingAndGlyphs"  stroke="#5fbdf2" stroke-width="0.45" stroke-linejoin="round">lsst.sal.ATCamera.vacuum.tempCCD</text>
<text x="699.4" y="1472.5" font-family='"Liberation Mono", monospace' font-size="21.6" font-weight="700" fill="#dcdde3" text-anchor="end" textLength="90.5" lengthAdjust="spacingAndGlyphs" stroke="#dcdde3" stroke-width="0.5">-104.16</text>
<text x="178.9" y="1505.9" font-family='"Liberation Sans", sans-serif' font-size="22" font-weight="700" fill="#a21fa3" text-anchor="start" textLength="420.5" lengthAdjust="spacingAndGlyphs"  stroke="#a21fa3" stroke-width="0.45" stroke-linejoin="round">lsst.sal.ATCamera.vacuum.tempColdPlate</text>
<text x="699.4" y="1506.5" font-family='"Liberation Mono", monospace' font-size="21.6" font-weight="700" fill="#dcdde3" text-anchor="end" textLength="77.6" lengthAdjust="spacingAndGlyphs" stroke="#dcdde3" stroke-width="0.5">-115.3</text>
<text x="178.9" y="1539.9" font-family='"Liberation Sans", sans-serif' font-size="22" font-weight="700" fill="#ee8a3e" text-anchor="start" textLength="421.8" lengthAdjust="spacingAndGlyphs"  stroke="#ee8a3e" stroke-width="0.45" stroke-linejoin="round">lsst.sal.ATCamera.vacuum.tempCryoHead</text>
<text x="699.4" y="1540.5" font-family='"Liberation Mono", monospace' font-size="21.6" font-weight="700" fill="#dcdde3" text-anchor="end" textLength="77.6" lengthAdjust="spacingAndGlyphs" stroke="#dcdde3" stroke-width="0.5">-150.8</text>
</svg>
</div></body></html>
